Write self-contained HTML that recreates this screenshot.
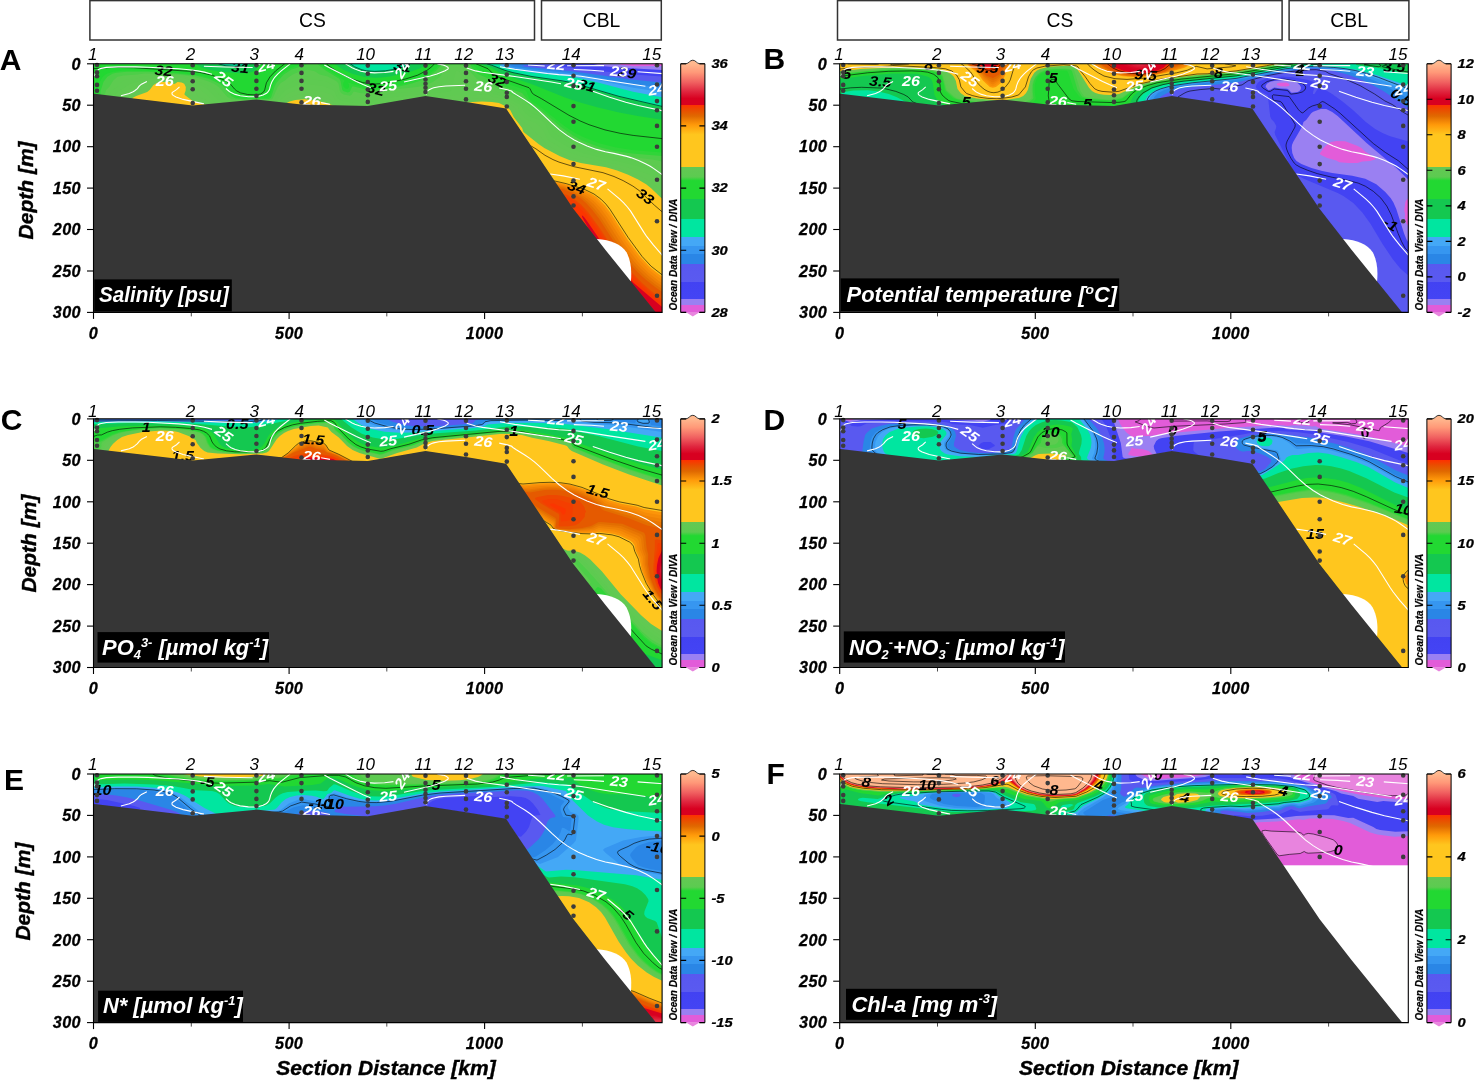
<!DOCTYPE html>
<html><head><meta charset="utf-8"><title>Section plots</title>
<style>html,body{margin:0;padding:0;background:#fff}svg{display:block}text{font-family:"Liberation Sans",Arial,sans-serif}</style>
</head><body>
<svg width="1475" height="1082" viewBox="0 0 1475 1082">
<rect width="1475" height="1082" fill="#fff"/>
<defs><linearGradient id="cbg" x1="0" y1="0" x2="0" y2="1"><stop offset="0.0000" stop-color="#ffb88e"/><stop offset="0.0350" stop-color="#ff9878"/><stop offset="0.0750" stop-color="#f06060"/><stop offset="0.1100" stop-color="#e02840"/><stop offset="0.1400" stop-color="#d80020"/><stop offset="0.1649" stop-color="#d80020"/><stop offset="0.1650" stop-color="#ff3000"/><stop offset="0.1850" stop-color="#ea4c00"/><stop offset="0.2100" stop-color="#e06800"/><stop offset="0.2460" stop-color="#ff9a0a"/><stop offset="0.2850" stop-color="#ffc61e"/><stop offset="0.4149" stop-color="#ffc61e"/><stop offset="0.4150" stop-color="#64c854"/><stop offset="0.4550" stop-color="#5ccb50"/><stop offset="0.4700" stop-color="#22d832"/><stop offset="0.5419" stop-color="#22d832"/><stop offset="0.5420" stop-color="#14c850"/><stop offset="0.6229" stop-color="#14c850"/><stop offset="0.6230" stop-color="#00e6a0"/><stop offset="0.6982" stop-color="#00e6a0"/><stop offset="0.6983" stop-color="#44a8f6"/><stop offset="0.7319" stop-color="#44a8f6"/><stop offset="0.7320" stop-color="#3696f0"/><stop offset="0.7634" stop-color="#3696f0"/><stop offset="0.7635" stop-color="#2a86e6"/><stop offset="0.8049" stop-color="#2a86e6"/><stop offset="0.8050" stop-color="#5858f0"/><stop offset="0.8779" stop-color="#5a5af0"/><stop offset="0.8780" stop-color="#4242f2"/><stop offset="0.9452" stop-color="#4444f4"/><stop offset="0.9453" stop-color="#9a80f2"/><stop offset="0.9713" stop-color="#9a80f2"/><stop offset="0.9714" stop-color="#e25cd9"/><stop offset="1.0000" stop-color="#e25cd9"/></linearGradient></defs>
<g transform="translate(93.5,63.8)">
<clipPath id="w00"><path d="M0,0 L568.6,0 L568.6,248.6 L568.6,249.2 L562.5,249.2 L512,186.8 L479.8,145.6 L412.6,45.4 L372.5,38.8 L332,32.7 L274.3,42.8 L208,41.3 L162.9,36.2 L99.2,42.3 L3,30.9 L0,30.6 Z"/></clipPath>
<g clip-path="url(#w00)">
<rect x="0" y="0" width="568.6" height="248.6" fill="#e884de"/>
<path fill="#e25cd9" fill-rule="evenodd" d="M0,0 568.6,0 568.6,248.6 559.5,248.6 558.5,247.6 558.5,246.6 553.5,241.6 553.5,240.6 549.5,236.6 549.5,235.6 545.5,231.6 545.5,230.6 541.5,226.5 541.5,225.5 536.5,220.5 536.5,219.5 528.5,210.5 528.5,209.5 524.5,205.5 524.5,204.5 519.5,199.5 519.5,198.5 515.5,194.5 515.5,193.5 507.5,184.4 507.5,183.4 504.4,180.4 504.4,179.4 500.4,175.4 500.4,174.4 497.4,171.4 497.4,170.4 489.4,161.4 489.4,160.4 486.4,157.4 486.4,156.4 482.4,152.4 482.4,151.4 479.4,148.4 479.4,147.4 477.4,145.4 477.4,144.3 475.4,142.3 475.4,141.3 473.4,139.3 473.4,138.3 471.4,136.3 471.4,135.3 469.4,133.3 469.4,132.3 465.4,127.3 465.4,126.3 463.4,124.3 463.4,123.3 461.4,121.3 461.4,120.3 459.4,118.3 459.4,117.3 457.4,115.3 457.4,114.3 455.4,112.3 455.4,111.3 453.4,109.3 453.4,108.3 450.4,105.3 450.4,104.3 448.4,102.2 448.4,101.2 446.4,99.2 446.4,98.2 444.4,96.2 444.4,95.2 442.4,93.2 442.4,92.2 440.4,90.2 440.4,89.2 438.4,87.2 438.4,86.2 436.4,84.2 436.4,83.2 434.4,81.2 434.4,80.2 432.4,78.2 432.4,77.2 430.4,75.2 430.4,74.2 428.4,72.2 428.4,71.2 426.4,69.2 426.4,68.2 424.4,66.2 424.4,65.2 422.4,63.2 422.4,62.1 420.4,60.1 420.4,59.1 418.4,57.1 418.4,56.1 416.4,54.1 416.4,53.1 412.4,48.2 409.4,48.2 408.4,47.2 402.4,47.2 401.4,46.2 396.4,46.2 395.4,45.2 390.4,45.2 389.4,44.2 384.4,44.2 383.4,43.2 378.4,43.2 377.4,42.2 372.4,42.2 371.4,41.2 365.4,41.2 364.4,40.2 359.4,40.2 358.4,39.2 352.4,39.2 351.4,38.2 345.4,38.2 344.4,37.1 339.4,37.1 338.4,36.1 327.3,36.1 326.3,37.1 321.3,37.1 320.3,38.2 315.3,38.2 314.3,39.2 309.3,39.2 308.3,40.2 304.3,40.2 303.3,41.2 298.3,41.2 297.3,42.2 292.3,42.2 291.3,43.2 286.3,43.2 285.3,44.2 281.3,44.2 280.3,45.2 275.3,45.2 274.3,46.2 271.3,46.2 270.3,45.2 226.2,45.2 225.2,44.2 203.2,44.2 202.2,43.2 194.2,43.2 193.2,42.2 185.2,42.2 184.2,41.2 176.2,41.2 175.2,40.2 168.2,40.2 167.2,39.2 158.2,39.2 157.2,40.2 148.2,40.2 147.2,41.2 137.1,41.2 136.1,42.2 127.1,42.2 126.1,43.2 116.1,43.2 115.1,44.2 106.1,44.2 105.1,45.2 95.1,45.2 94.1,44.2 86.1,44.2 85.1,43.2 78.1,43.2 77.1,42.2 69.1,42.2 68.1,41.2 61.1,41.2 60.1,40.2 52.1,40.2 51.1,39.2 44,39.2 43,38.2 35,38.2 34,37.1 27,37.1 26,36.1 19,36.1 18,35.1 10,35.1 9,34.1 1,34.1 0,33.1 0,0Z"/>
<path fill="#9a80f2" fill-rule="evenodd" d="M0,0 523.9,0 527.6,1 540.6,2.4 568.6,2.1 568.6,248.6 559.5,248.6 558.5,247.6 558.5,246.6 553.5,241.6 553.5,240.6 549.5,236.6 549.5,235.6 545.5,231.6 545.5,230.6 541.5,226.5 541.5,225.5 536.5,220.5 536.5,219.5 528.5,210.5 528.5,209.5 524.5,205.5 524.5,204.5 519.5,199.5 519.5,198.5 515.5,194.5 515.5,193.5 507.5,184.4 507.5,183.4 504.5,180.4 504.5,179.4 500.4,175.4 500.4,174.4 497.4,171.4 497.4,170.4 489.4,161.4 489.4,160.4 486.4,157.4 486.4,156.4 482.4,152.4 482.4,151.4 479.4,148.4 479.4,147.4 477.4,145.4 477.4,144.3 475.4,142.3 475.4,141.3 473.4,139.3 473.4,138.3 471.4,136.3 471.4,135.3 469.4,133.3 469.4,132.3 465.4,127.3 465.4,126.3 463.4,124.3 463.4,123.3 461.4,121.3 461.4,120.3 459.4,118.3 459.4,117.3 457.4,115.3 457.4,114.3 455.4,112.3 455.4,111.3 453.4,109.3 453.4,108.3 450.4,105.3 450.4,104.3 448.4,102.2 448.4,101.2 446.4,99.2 446.4,98.2 444.4,96.2 444.4,95.2 442.4,93.2 442.4,92.2 440.4,90.2 440.4,89.2 438.4,87.2 438.4,86.2 436.4,84.2 436.4,83.2 434.4,81.2 434.4,80.2 432.4,78.2 432.4,77.2 430.4,75.2 430.4,74.2 428.4,72.2 428.4,71.2 426.4,69.2 426.4,68.2 424.4,66.2 424.4,65.2 422.4,63.2 422.4,62.1 420.4,60.1 420.4,59.1 418.4,57.1 418.4,56.1 416.4,54.1 416.4,53.1 412.4,48.2 409.4,48.2 408.4,47.2 402.4,47.2 401.4,46.2 396.4,46.2 395.4,45.2 390.4,45.2 389.4,44.2 384.4,44.2 383.4,43.2 378.4,43.2 377.4,42.2 372.4,42.2 371.4,41.2 365.4,41.2 364.4,40.2 359.4,40.2 358.4,39.2 352.4,39.2 351.4,38.1 345.4,38.1 344.4,37.1 339.4,37.1 338.4,36.1 327.3,36.1 326.3,37.1 321.3,37.1 320.3,38.1 315.3,38.1 314.3,39.2 309.3,39.2 308.3,40.2 304.3,40.2 303.3,41.2 298.3,41.2 297.3,42.2 292.3,42.2 291.3,43.2 286.3,43.2 285.3,44.2 281.3,44.2 280.3,45.2 275.3,45.2 274.3,46.2 271.3,46.2 270.3,45.2 226.2,45.2 225.2,44.2 203.2,44.2 202.2,43.2 194.2,43.2 193.2,42.2 185.2,42.2 184.2,41.2 176.2,41.2 175.2,40.2 168.2,40.2 167.2,39.2 158.2,39.2 157.2,40.2 148.2,40.2 147.2,41.2 137.1,41.2 136.1,42.2 127.1,42.2 126.1,43.2 116.1,43.2 115.1,44.2 106.1,44.2 105.1,45.2 95.1,45.2 94.1,44.2 86.1,44.2 85.1,43.2 78.1,43.2 77.1,42.2 69.1,42.2 68.1,41.2 61.1,41.2 60.1,40.2 52.1,40.2 51.1,39.2 44,39.2 43,38.2 35,38.1 34,37.1 27,37.1 26,36.1 19,36.1 18,35.1 10,35.1 9,34.1 1,34.1 0,33.1 0,0Z"/>
<path fill="#4343f3" fill-rule="evenodd" d="M0,0 499.2,0 508.5,2.1 527.8,4 568.6,6.3 568.6,248.6 559.5,248.6 558.5,247.6 558.5,246.6 553.5,241.6 553.5,240.6 549.5,236.6 549.5,235.6 545.5,231.6 545.5,230.6 541.5,226.5 541.5,225.5 536.5,220.5 536.5,219.5 528.5,210.5 528.5,209.5 524.5,205.5 524.5,204.5 519.5,199.5 519.5,198.5 515.5,194.5 515.5,193.5 507.5,184.4 507.5,183.4 504.5,180.4 504.5,179.4 500.4,175.4 500.4,174.4 497.4,171.4 497.4,170.4 489.4,161.4 489.4,160.4 486.4,157.4 486.4,156.4 482.4,152.4 482.4,151.4 479.4,148.4 479.4,147.4 477.4,145.4 477.4,144.3 475.4,142.3 475.4,141.3 473.4,139.3 473.4,138.3 471.4,136.3 471.4,135.3 469.4,133.3 469.4,132.3 465.4,127.3 465.4,126.3 463.4,124.3 463.4,123.3 461.4,121.3 461.4,120.3 459.4,118.3 459.4,117.3 457.4,115.3 457.4,114.3 455.4,112.3 455.4,111.3 453.4,109.3 453.4,108.3 450.4,105.3 450.4,104.3 448.4,102.2 448.4,101.2 446.4,99.2 446.4,98.2 444.4,96.2 444.4,95.2 442.4,93.2 442.4,92.2 440.4,90.2 440.4,89.2 438.4,87.2 438.4,86.2 436.4,84.2 436.4,83.2 434.4,81.2 434.4,80.2 432.4,78.2 432.4,77.2 430.4,75.2 430.4,74.2 428.4,72.2 428.4,71.2 426.4,69.2 426.4,68.2 424.4,66.2 424.4,65.2 422.4,63.2 422.4,62.1 420.4,60.1 420.4,59.1 418.4,57.1 418.4,56.1 416.4,54.1 416.4,53.1 412.4,48.2 409.4,48.2 408.4,47.2 402.4,47.2 401.4,46.2 396.4,46.2 395.4,45.2 390.4,45.2 389.4,44.2 384.4,44.2 383.4,43.2 378.4,43.2 377.4,42.2 372.4,42.2 371.4,41.2 365.4,41.2 364.4,40.2 359.4,40.2 358.4,39.1 352.4,39.1 351.4,38.1 345.4,38.1 344.4,37.1 339.4,37.1 338.4,36.1 327.3,36.1 326.3,37.1 321.3,37.1 320.3,38.1 315.3,38.1 314.3,39.1 309.3,39.1 308.3,40.2 304.3,40.2 303.3,41.2 298.3,41.2 297.3,42.2 292.3,42.2 291.3,43.2 286.3,43.2 285.3,44.2 281.3,44.2 280.3,45.2 275.3,45.2 274.3,46.2 271.3,46.2 270.3,45.2 226.2,45.2 225.2,44.2 203.2,44.2 202.2,43.2 194.2,43.2 193.2,42.2 185.2,42.2 184.2,41.2 176.2,41.2 175.2,40.2 168.2,40.2 167.2,39.1 158.2,39.1 157.2,40.2 148.2,40.2 147.2,41.2 137.1,41.2 136.1,42.2 127.1,42.2 126.1,43.2 116.1,43.2 115.1,44.2 106.1,44.2 105.1,45.2 95.1,45.2 94.1,44.2 86.1,44.2 85.1,43.2 78.1,43.2 77.1,42.2 69.1,42.2 68.1,41.2 61.1,41.2 60.1,40.2 52.1,40.2 51.1,39.2 44,39.2 43,38.1 35,38.1 34,37.1 27,37.1 26,36.1 19,36.1 18,35.1 10,35.1 9,34.1 1,34.1 0,33.1 0,0Z"/>
<path fill="#5959f0" fill-rule="evenodd" d="M0,0 478.2,0 463.5,2 468.5,3 536.6,10.5 568.6,12.8 568.6,248.6 559.5,248.6 558.5,247.6 558.5,246.6 553.5,241.6 553.5,240.6 549.5,236.6 549.5,235.6 545.5,231.6 545.5,230.6 541.5,226.5 541.5,225.5 536.5,220.5 536.5,219.5 528.5,210.5 528.5,209.5 524.5,205.5 524.5,204.5 519.5,199.5 519.5,198.5 515.5,194.5 515.5,193.5 507.5,184.4 507.5,183.4 504.5,180.4 504.5,179.4 500.5,175.4 500.5,174.4 497.5,171.4 497.5,170.4 489.4,161.4 489.4,160.4 486.4,157.4 486.4,156.4 482.4,152.4 482.4,151.4 479.4,148.4 479.4,147.4 477.4,145.4 477.4,144.3 475.4,142.3 475.4,141.3 473.4,139.3 473.4,138.3 471.4,136.3 471.4,135.3 469.4,133.3 469.4,132.3 465.4,127.3 465.4,126.3 463.4,124.3 463.4,123.3 461.4,121.3 461.4,120.3 459.4,118.3 459.4,117.3 457.4,115.3 457.4,114.3 455.4,112.3 455.4,111.3 453.4,109.3 453.4,108.3 450.4,105.3 450.4,104.3 448.4,102.2 448.4,101.2 446.4,99.2 446.4,98.2 444.4,96.2 444.4,95.2 442.4,93.2 442.4,92.2 440.4,90.2 440.4,89.2 438.4,87.2 438.4,86.2 436.4,84.2 436.4,83.2 434.4,81.2 434.4,80.2 432.4,78.2 432.4,77.2 430.4,75.2 430.4,74.2 428.4,72.2 428.4,71.2 426.4,69.2 426.4,68.2 424.4,66.2 424.4,65.2 422.4,63.2 422.4,62.1 420.4,60.1 420.4,59.1 418.4,57.1 418.4,56.1 416.4,54.1 416.4,53.1 412.4,48.2 409.4,48.2 408.4,47.2 402.4,47.2 401.4,46.2 396.4,46.2 395.4,45.2 390.4,45.2 389.4,44.2 384.4,44.2 383.4,43.2 378.4,43.2 377.4,42.2 372.4,42.2 371.4,41.1 365.4,41.1 364.4,40.1 359.4,40.1 358.4,39.1 352.4,39.1 351.4,38.1 345.4,38.1 344.4,37.1 339.4,37.1 338.4,36.1 327.3,36.1 326.3,37.1 321.3,37.1 320.3,38.1 315.3,38.1 314.3,39.1 309.3,39.1 308.3,40.1 304.3,40.1 303.3,41.1 298.3,41.1 297.3,42.1 292.3,42.1 291.3,43.2 286.3,43.2 285.3,44.2 281.3,44.2 280.3,45.2 275.3,45.2 274.3,46.2 271.3,46.2 270.3,45.2 226.2,45.2 225.2,44.2 203.2,44.2 202.2,43.2 194.2,43.2 193.2,42.2 185.2,42.2 184.2,41.1 176.2,41.1 175.2,40.1 168.2,40.1 167.2,39.1 158.2,39.1 157.2,40.1 148.2,40.1 147.2,41.1 137.1,41.1 136.1,42.2 127.1,42.2 126.1,43.2 116.1,43.2 115.1,44.2 106.1,44.2 105.1,45.2 95.1,45.2 94.1,44.2 86.1,44.2 85.1,43.2 78.1,43.2 77.1,42.2 69.1,42.2 68.1,41.2 61.1,41.2 60.1,40.1 52.1,40.1 51.1,39.1 44,39.1 43,38.1 35,38.1 34,37.1 27,37.1 26,36.1 19,36.1 18,35.1 10,35.1 9,34.1 1,34.1 0,33.1 0,0Z"/>
<path fill="#2a86e6" fill-rule="evenodd" d="M0,0 447.1,0 434.1,1 427.9,2 431.8,3 478.5,7.5 537.6,15.6 568.6,18.7 568.6,248.6 559.5,248.6 558.5,247.6 558.5,246.6 553.5,241.6 553.5,240.6 549.5,236.6 549.5,235.6 545.5,231.6 545.5,230.6 541.5,226.5 541.5,225.5 536.5,220.5 536.5,219.5 528.5,210.5 528.5,209.5 524.5,205.5 524.5,204.5 519.5,199.5 519.5,198.5 515.5,194.5 515.5,193.5 507.5,184.4 507.5,183.4 504.5,180.4 504.5,179.4 500.5,175.4 500.5,174.4 497.5,171.4 497.5,170.4 489.5,161.4 489.5,160.4 486.4,157.4 486.4,156.4 482.4,152.4 482.4,151.4 479.4,148.4 479.4,147.4 477.4,145.4 477.4,144.3 475.4,142.3 475.4,141.3 473.4,139.3 473.4,138.3 471.4,136.3 471.4,135.3 469.4,133.3 469.4,132.3 465.4,127.3 465.4,126.3 463.4,124.3 463.4,123.3 461.4,121.3 461.4,120.3 459.4,118.3 459.4,117.3 457.4,115.3 457.4,114.3 455.4,112.3 455.4,111.3 453.4,109.3 453.4,108.3 450.4,105.3 450.4,104.3 448.4,102.2 448.4,101.2 446.4,99.2 446.4,98.2 444.4,96.2 444.4,95.2 442.4,93.2 442.4,92.2 440.4,90.2 440.4,89.2 438.4,87.2 438.4,86.2 436.4,84.2 436.4,83.2 434.4,81.2 434.4,80.2 432.4,78.2 432.4,77.2 430.4,75.2 430.4,74.2 428.4,72.2 428.4,71.2 426.4,69.2 426.4,68.2 424.4,66.2 424.4,65.2 422.4,63.2 422.4,62.1 420.4,60.1 420.4,59.1 418.4,57.1 418.4,56.1 416.4,54.1 416.4,53.1 412.4,48.2 409.4,48.2 408.4,47.2 402.4,47.2 401.4,46.2 396.4,46.2 395.4,45.2 390.4,45.2 389.4,44.1 384.4,44.1 383.4,43.1 378.4,43.1 377.4,42.1 372.4,42.1 371.4,41.1 365.4,41.1 364.4,40.1 359.4,40.1 358.4,39.1 352.4,39.1 351.4,38.1 345.4,38.1 344.4,37.1 339.4,37.1 338.4,36.1 327.3,36.1 326.3,37.1 321.3,37.1 320.3,38.1 315.3,38.1 314.3,39.1 309.3,39.1 308.3,40.1 304.3,40.1 303.3,41.1 298.3,41.1 297.3,42.1 292.3,42.1 291.3,43.1 286.3,43.1 285.3,44.1 281.3,44.1 280.3,45.1 275.3,45.1 274.3,46.2 271.3,46.2 270.3,45.1 226.2,45.2 225.2,44.1 203.2,44.1 202.2,43.1 194.2,43.1 193.2,42.1 185.2,42.1 184.2,41.1 176.2,41.1 175.2,40.1 168.2,40.1 167.2,39.1 158.2,39.1 157.2,40.1 148.2,40.1 147.2,41.1 137.1,41.1 136.1,42.1 127.1,42.1 126.1,43.1 116.1,43.1 115.1,44.1 106.1,44.1 105.1,45.2 95.1,45.2 94.1,44.1 86.1,44.1 85.1,43.1 78.1,43.1 77.1,42.1 69.1,42.1 68.1,41.1 61.1,41.1 60.1,40.1 52.1,40.1 51.1,39.1 44,39.1 43,38.1 35,38.1 34,37.1 27,37.1 26,36.1 19,36.1 18,35.1 10,35.1 9,34.1 1,34.1 0,33.1 0,0Z"/>
<path fill="#3696f0" fill-rule="evenodd" d="M0,0 431,0 418.6,1 416.2,2 419.7,3 438.5,5.5 483.5,10 536.6,19.6 568.6,24.1 568.6,248.6 559.5,248.6 558.5,247.6 558.5,246.6 553.5,241.6 553.5,240.6 549.5,236.6 549.5,235.6 545.5,231.6 545.5,230.6 541.5,226.5 541.5,225.5 536.5,220.5 536.5,219.5 528.5,210.5 528.5,209.5 524.5,205.5 524.5,204.5 519.5,199.5 519.5,198.5 515.5,194.5 515.5,193.5 507.5,184.4 507.5,183.4 504.5,180.4 504.5,179.4 500.5,175.4 500.5,174.4 497.5,171.4 497.5,170.4 489.5,161.4 489.5,160.4 486.5,157.4 486.5,156.4 482.4,152.4 482.4,151.4 479.4,148.4 479.4,147.4 477.4,145.4 477.4,144.3 475.4,142.3 475.4,141.3 473.4,139.3 473.4,138.3 471.4,136.3 471.4,135.3 469.4,133.3 469.4,132.3 465.4,127.3 465.4,126.3 463.4,124.3 463.4,123.3 461.4,121.3 461.4,120.3 459.4,118.3 459.4,117.3 457.4,115.3 457.4,114.3 455.4,112.3 455.4,111.3 453.4,109.3 453.4,108.3 450.4,105.3 450.4,104.3 448.4,102.2 448.4,101.2 446.4,99.2 446.4,98.2 444.4,96.2 444.4,95.2 442.4,93.2 442.4,92.2 440.4,90.2 440.4,89.2 438.4,87.2 438.4,86.2 436.4,84.2 436.4,83.2 434.4,81.2 434.4,80.2 432.4,78.2 432.4,77.2 430.4,75.2 430.4,74.2 428.4,72.2 428.4,71.2 426.4,69.2 426.4,68.2 424.4,66.2 424.4,65.2 422.4,63.2 422.4,62.1 420.4,60.1 420.4,59.1 418.4,57.1 418.4,56.1 416.4,54.1 416.4,53.1 412.4,48.2 409.4,48.2 408.4,47.2 402.4,47.2 401.4,46.1 396.4,46.1 395.4,45.1 390.4,45.1 389.4,44.1 384.4,44.1 383.4,43.1 378.4,43.1 377.4,42.1 372.4,42.1 371.4,41.1 365.4,41.1 364.4,40.1 359.4,40.1 358.4,39.1 352.4,39.1 351.4,38.1 345.4,38.1 344.4,37.1 339.4,37.1 338.4,36.1 327.3,36.1 326.3,37.1 321.3,37.1 320.3,38.1 315.3,38.1 314.3,39.1 309.3,39.1 308.3,40.1 304.3,40.1 303.3,41.1 298.3,41.1 297.3,42.1 292.3,42.1 291.3,43.1 286.3,43.1 285.3,44.1 281.3,44.1 280.3,45.1 275.3,45.1 274.3,46.1 271.3,46.1 270.3,45.1 226.2,45.1 225.2,44.1 203.2,44.1 202.2,43.1 194.2,43.1 193.2,42.1 185.2,42.1 184.2,41.1 176.2,41.1 175.2,40.1 168.2,40.1 167.2,39.1 158.2,39.1 157.2,40.1 148.2,40.1 147.2,41.1 137.1,41.1 136.1,42.1 127.1,42.1 126.1,43.1 116.1,43.1 115.1,44.1 106.1,44.1 105.1,45.1 95.1,45.1 94.1,44.1 86.1,44.1 85.1,43.1 78.1,43.1 77.1,42.1 69.1,42.1 68.1,41.1 61.1,41.1 60.1,40.1 52.1,40.1 51.1,39.1 44,39.1 43,38.1 35,38.1 34,37.1 27,37.1 26,36.1 19,36.1 18,35.1 10,35.1 9,34.1 1,34.1 0,33.1 0,0Z"/>
<path fill="#44a8f6" fill-rule="evenodd" d="M0,0 419.3,0 411.4,0.9 410.4,1.5 410.2,2 411.4,2.4 417.4,3.8 437.5,6.7 482.5,11.5 538.6,23.6 568.6,28.5 568.6,248.6 559.5,248.6 558.5,247.6 558.5,246.6 553.5,241.6 553.5,240.6 549.5,236.6 549.5,235.6 545.5,231.6 545.5,230.6 541.5,226.5 541.5,225.5 536.5,220.5 536.5,219.5 528.5,210.5 528.5,209.5 524.5,205.5 524.5,204.5 519.5,199.5 519.5,198.5 515.5,194.5 515.5,193.5 507.5,184.4 507.5,183.4 504.5,180.4 504.5,179.4 500.5,175.4 500.5,174.4 497.5,171.4 497.5,170.4 489.5,161.4 489.5,160.4 486.5,157.4 486.5,156.4 482.5,152.4 482.5,151.4 479.4,148.4 479.4,147.4 477.4,145.4 477.4,144.3 475.4,142.3 475.4,141.3 473.4,139.3 473.4,138.3 471.4,136.3 471.4,135.3 469.4,133.3 469.4,132.3 465.4,127.3 465.4,126.3 463.4,124.3 463.4,123.3 461.4,121.3 461.4,120.3 459.4,118.3 459.4,117.3 457.4,115.3 457.4,114.3 455.4,112.3 455.4,111.3 453.4,109.3 453.4,108.3 450.4,105.3 450.4,104.3 448.4,102.2 448.4,101.2 446.4,99.2 446.4,98.2 444.4,96.2 444.4,95.2 442.4,93.2 442.4,92.2 440.4,90.2 440.4,89.2 438.4,87.2 438.4,86.2 436.4,84.2 436.4,83.2 434.4,81.2 434.4,80.2 432.4,78.2 432.4,77.2 430.4,75.2 430.4,74.2 428.4,72.2 428.4,71.2 426.4,69.2 426.4,68.2 424.4,66.2 424.4,65.2 422.4,63.2 422.4,62.1 420.4,60.1 420.4,59.1 418.4,57.1 418.4,56.1 416.4,54.1 416.4,53.1 412.4,48.2 409.4,48.2 408.4,47.1 402.4,47.1 401.4,46.1 396.4,46.1 395.4,45.1 390.4,45.1 389.4,44.1 384.4,44.1 383.4,43.1 378.4,43.1 377.4,42.1 372.4,42.1 371.4,41.1 365.4,41.1 364.4,40.1 359.4,40.1 358.4,39.1 352.4,39.1 351.4,38.1 345.4,38.1 344.4,37.1 339.4,37.1 338.4,36.1 327.3,36.1 326.3,37.1 321.3,37.1 320.3,38.1 315.3,38.1 314.3,39.1 309.3,39.1 308.3,40.1 304.3,40.1 303.3,41.1 298.3,41.1 297.3,42.1 292.3,42.1 291.3,43.1 286.3,43.1 285.3,44.1 281.3,44.1 280.3,45.1 275.3,45.1 274.3,46.1 271.3,46.1 270.3,45.1 226.2,45.1 225.2,44.1 203.2,44.1 202.2,43.1 194.2,43.1 193.2,42.1 185.2,42.1 184.2,41.1 176.2,41.1 175.2,40.1 168.2,40.1 167.2,39.1 158.2,39.1 157.2,40.1 148.2,40.1 147.2,41.1 137.1,41.1 136.1,42.1 127.1,42.1 126.1,43.1 116.1,43.1 115.1,44.1 106.1,44.1 105.1,45.1 95.1,45.1 94.1,44.1 86.1,44.1 85.1,43.1 78.1,43.1 77.1,42.1 69.1,42.1 68.1,41.1 61.1,41.1 60.1,40.1 52.1,40.1 51.1,39.1 44,39.1 43,38.1 35,38.1 34,37.1 27,37.1 26,36.1 19,36.1 18,35.1 10,35.1 9,34.1 1,34.1 0,33.1 0,0Z"/>
<path fill="#00e6a0" fill-rule="evenodd" d="M0,0 409.4,0 406.2,1 406.6,2 417.4,5.2 438.5,8.6 472.5,12.3 483.9,14 497.6,17 539.6,28 568.6,33.4 568.6,248.6 559.5,248.6 558.5,247.6 558.5,246.6 553.5,241.6 553.5,240.6 549.5,236.6 549.5,235.6 545.5,231.6 545.5,230.6 541.5,226.5 541.5,225.5 536.5,220.5 536.5,219.5 528.5,210.5 528.5,209.5 524.5,205.5 524.5,204.5 519.5,199.5 519.5,198.5 515.5,194.5 515.5,193.5 507.5,184.4 507.5,183.4 504.5,180.4 504.5,179.4 500.5,175.4 500.5,174.4 497.5,171.4 497.5,170.4 489.5,161.4 489.5,160.4 486.5,157.4 486.5,156.4 482.5,152.4 482.5,151.4 479.5,148.4 479.5,147.4 477.5,145.4 477.5,144.3 475.4,142.3 475.4,141.3 473.4,139.3 473.4,138.3 471.4,136.3 471.4,135.3 469.4,133.3 469.4,132.3 465.4,127.3 465.4,126.3 463.4,124.3 463.4,123.3 461.4,121.3 461.4,120.3 459.4,118.3 459.4,117.3 457.4,115.3 457.4,114.3 455.4,112.3 455.4,111.3 453.4,109.3 453.4,108.3 450.4,105.3 450.4,104.3 448.4,102.2 448.4,101.2 446.4,99.2 446.4,98.2 444.4,96.2 444.4,95.2 442.4,93.2 442.4,92.2 440.4,90.2 440.4,89.2 438.4,87.2 438.4,86.2 436.4,84.2 436.4,83.2 434.4,81.2 434.4,80.2 432.4,78.2 432.4,77.2 430.4,75.2 430.4,74.2 428.4,72.2 428.4,71.2 426.4,69.2 426.4,68.2 424.4,66.2 424.4,65.2 422.4,63.2 422.4,62.1 420.4,60.1 420.4,59.1 418.4,57.1 418.4,56.1 416.4,54.1 416.4,53.1 412.4,48.1 409.4,48.1 408.4,47.1 402.4,47.1 401.4,46.1 396.4,46.1 395.4,45.1 390.4,45.1 389.4,44.1 384.4,44.1 383.4,43.1 378.4,43.1 377.4,42.1 372.4,42.1 371.4,41.1 365.4,41.1 364.4,40.1 359.4,40.1 358.4,39.1 352.4,39.1 351.4,38.1 345.4,38.1 344.4,37.1 339.4,37.1 338.4,36.1 327.3,36.1 326.3,37.1 321.3,37.1 320.3,38.1 315.3,38.1 314.3,39.1 309.3,39.1 308.3,40.1 304.3,40.1 303.3,41.1 298.3,41.1 297.3,42.1 292.3,42.1 291.3,43.1 286.3,43.1 285.3,44.1 281.3,44.1 280.3,45.1 275.3,45.1 274.3,46.1 271.3,46.1 270.3,45.1 226.2,45.1 225.2,44.1 203.2,44.1 202.2,43.1 194.2,43.1 193.2,42.1 185.2,42.1 184.2,41.1 176.2,41.1 175.2,40.1 168.2,40.1 167.2,39.1 158.2,39.1 157.2,40.1 148.2,40.1 147.2,41.1 137.1,41.1 136.1,42.1 127.1,42.1 126.1,43.1 116.1,43.1 115.1,44.1 106.1,44.1 105.1,45.1 95.1,45.1 94.1,44.1 86.1,44.1 85.1,43.1 78.1,43.1 77.1,42.1 69.1,42.1 68.1,41.1 61.1,41.1 60.1,40.1 52.1,40.1 51.1,39.1 44,39.1 43,38.1 35,38.1 34,37.1 27,37.1 26,36.1 19,36.1 18,35.1 10,35.1 9,34.1 1,34.1 0,33.1 0,0Z"/>
<path fill="#14c850" fill-rule="evenodd" d="M0,0 123.2,0 130.2,2 142.2,2.9 151,2 154.8,1 156.3,0 255.2,0 261.7,4 266.8,6 271.3,7.1 281.3,8 294.3,7.1 301.4,6 311.7,3 317.4,0 393.1,0 411.4,6.5 421.4,9.4 437.5,12.6 478,19 524.6,32.7 568.6,42.9 568.6,248.6 559.5,248.6 558.5,247.6 558.5,246.6 553.5,241.6 553.5,240.6 549.5,236.6 549.5,235.6 545.5,231.6 545.5,230.6 541.5,226.5 541.5,225.5 536.5,220.5 536.5,219.5 528.5,210.5 528.5,209.5 524.5,205.5 524.5,204.5 519.5,199.5 519.5,198.5 515.5,194.5 515.5,193.5 507.5,184.4 507.5,183.4 504.5,180.4 504.5,179.4 500.5,175.4 500.5,174.4 497.5,171.4 497.5,170.4 489.5,161.4 489.5,160.4 486.5,157.4 486.5,156.4 482.5,152.4 482.5,151.4 479.5,148.4 479.5,147.4 477.5,145.4 477.5,144.3 475.5,142.3 475.5,141.3 473.5,139.3 473.5,138.3 471.5,136.3 471.5,135.3 469.5,133.3 469.5,132.3 465.4,127.3 465.4,126.3 463.4,124.3 463.4,123.3 461.4,121.3 461.4,120.3 459.4,118.3 459.4,117.3 457.4,115.3 457.4,114.3 455.4,112.3 455.4,111.3 453.4,109.3 453.4,108.3 450.4,105.3 450.4,104.3 448.4,102.2 448.4,101.2 446.4,99.2 446.4,98.2 444.4,96.2 444.4,95.2 442.4,93.2 442.4,92.2 440.4,90.2 440.4,89.2 438.4,87.2 438.4,86.2 436.4,84.2 436.4,83.2 434.4,81.2 434.4,80.2 432.4,78.2 432.4,77.2 430.4,75.2 430.4,74.2 428.4,72.2 428.4,71.2 426.4,69.2 426.4,68.2 424.4,66.2 424.4,65.2 422.4,63.2 422.4,62.1 420.4,60.1 420.4,59.1 418.4,57.1 418.4,56.1 416.4,54.1 416.4,53.1 412.4,48.1 409.4,48.1 408.4,47.1 402.4,47.1 401.4,46.1 396.4,46.1 395.4,45.1 390.4,45.1 389.4,44.1 384.4,44.1 383.4,43.1 378.4,43.1 377.4,42.1 372.4,42.1 371.4,41.1 365.4,41.1 364.4,40.1 359.4,40.1 358.4,39.1 352.4,39.1 351.4,38.1 345.4,38.1 344.4,37.1 339.4,37.1 338.4,36.1 327.3,36.1 326.3,37.1 321.3,37.1 320.3,38.1 315.3,38.1 314.3,39.1 309.3,39.1 308.3,40.1 304.3,40.1 303.3,41.1 298.3,41.1 297.3,42.1 292.3,42.1 291.3,43.1 286.3,43.1 285.3,44.1 281.3,44.1 280.3,45.1 275.3,45.1 274.3,46.1 271.3,46.1 270.3,45.1 226.2,45.1 225.2,44.1 203.2,44.1 202.2,43.1 194.2,43.1 193.2,42.1 185.2,42.1 184.2,41.1 176.2,41.1 175.2,40.1 168.2,40.1 167.2,39.1 158.2,39.1 157.2,40.1 148.2,40.1 147.2,41.1 137.1,41.1 136.1,42.1 127.1,42.1 126.1,43.1 116.1,43.1 115.1,44.1 106.1,44.1 105.1,45.1 95.1,45.1 94.1,44.1 86.1,44.1 85.1,43.1 78.1,43.1 77.1,42.1 69.1,42.1 68.1,41.1 61.1,41.1 60.1,40.1 52.1,40.1 51.1,39.1 44,39.1 43,38.1 35,38.1 34,37.1 27,37.1 26,36.1 19,36.1 18,35.1 10,35.1 9,34.1 1,34.1 0,33.1 0,0Z"/>
<path fill="#22d832" fill-rule="evenodd" d="M0,0 101.7,0 108.1,3.8 115.1,5.9 132.1,8.4 148.2,9.4 156.2,8.7 160.2,7.5 162.9,5 165,0 241,0 249.3,5.7 259.3,10.3 271.3,13.3 281.3,14 288.3,13.7 296.3,12.6 315.3,8.5 326.3,4.6 330.8,2 333,0 386.2,0 397.6,4 405.4,8.5 412.4,11.4 438.5,20.4 471.5,33.7 486.5,38.6 504.5,43.7 525.6,48.7 545.6,52.4 568.6,56 568.6,248.6 559.6,248.6 558.5,247.6 558.5,246.6 553.5,241.6 553.5,240.6 549.5,236.6 549.5,235.6 545.5,231.6 545.5,230.6 541.5,226.5 541.5,225.5 536.5,220.5 536.5,219.5 528.5,210.5 528.5,209.5 524.5,205.5 524.5,204.5 519.5,199.5 519.5,198.5 515.5,194.5 515.5,193.5 507.5,184.4 507.5,183.4 504.5,180.4 504.5,179.4 500.5,175.4 500.5,174.4 497.5,171.4 497.5,170.4 489.5,161.4 489.5,160.4 486.5,157.4 486.5,156.4 482.5,152.4 482.5,151.4 479.5,148.4 479.5,147.4 477.5,145.4 477.5,144.3 475.5,142.3 475.5,141.3 473.5,139.3 473.5,138.3 471.5,136.3 471.5,135.3 469.5,133.3 469.5,132.3 465.5,127.3 465.5,126.3 463.5,124.3 463.5,123.3 461.5,121.3 461.5,120.3 459.5,118.3 459.5,117.3 457.5,115.3 457.5,114.3 455.5,112.3 455.5,111.3 453.5,109.3 453.5,108.3 450.4,105.3 450.4,104.3 448.4,102.2 448.4,101.2 446.4,99.2 446.4,98.2 444.4,96.2 444.4,95.2 442.4,93.2 442.4,92.2 440.4,90.2 440.4,89.2 438.4,87.2 438.4,86.2 436.4,84.2 436.4,83.2 434.4,81.2 434.4,80.2 432.4,78.2 432.4,77.2 430.4,75.2 430.4,74.2 428.4,72.2 428.4,71.2 426.4,69.2 426.4,68.2 424.4,66.2 424.4,65.2 422.4,63.2 422.4,62.1 420.4,60.1 420.4,59.1 418.4,57.1 418.4,56.1 416.4,54.1 416.4,53.1 412.4,48.1 409.4,48.1 408.4,47.1 402.4,47.1 401.4,46.1 396.4,46.1 395.4,45.1 390.4,45.1 389.4,44.1 384.4,44.1 383.4,43.1 378.4,43.1 377.4,42.1 372.4,42.1 371.4,41.1 365.4,41.1 364.4,40.1 359.4,40.1 358.4,39.1 352.4,39.1 351.4,38.1 345.4,38.1 344.4,37.1 339.4,37.1 338.4,36.1 327.3,36.1 326.3,37.1 321.3,37.1 320.3,38.1 315.3,38.1 314.3,39.1 309.3,39.1 308.3,40.1 304.3,40.1 303.3,41.1 298.3,41.1 297.3,42.1 292.3,42.1 291.3,43.1 286.3,43.1 285.3,44.1 281.3,44.1 280.3,45.1 275.3,45.1 274.3,46.1 271.3,46.1 270.3,45.1 226.2,45.1 225.2,44.1 203.2,44.1 202.2,43.1 194.2,43.1 193.2,42.1 185.2,42.1 184.2,41.1 176.2,41.1 175.2,40.1 168.2,40.1 167.2,39.1 158.2,39.1 157.2,40.1 148.2,40.1 147.2,41.1 137.1,41.1 136.1,42.1 127.1,42.1 126.1,43.1 116.1,43.1 115.1,44.1 106.1,44.1 105.1,45.1 95.1,45.1 94.1,44.1 86.1,44.1 85.1,43.1 78.1,43.1 77.1,42.1 69.1,42.1 68.1,41.1 61.1,41.1 60.1,40.1 52.1,40.1 51.1,39.1 44,39.1 43,38.1 35,38.1 34,37.1 27,37.1 26,36.1 19,36.1 18,35.1 10,35.1 9,34.1 1,34.1 0,33.1 0,0Z"/>
<path fill="#30d539" fill-rule="evenodd" d="M206.3,1 208.6,0 226.9,0 233.2,5.2 251.4,17 249.8,19 249.7,21.1 250.3,23.2 252.3,25 254.3,25 255.3,23.8 255.7,21.1 254.4,19 255.3,19 270.3,23.8 276.3,24.8 283.3,25.1 291.3,24.4 304.3,21.7 313.3,19.4 325.3,15.4 331.3,12.6 336.4,9.5 342.4,4.7 346.5,0 378.8,0 385.3,7 393.4,11 398.4,14.9 431.7,26.1 433.2,28.1 435.5,34.2 437.5,36.6 448.2,44.1 471.5,62.6 481.5,69.2 489.5,73.3 506.5,79.8 522.6,83.8 538.6,86.1 568.6,88.6 568.6,248.6 559.6,248.6 558.6,247.6 558.6,246.6 553.6,241.6 553.6,240.6 549.5,236.6 549.5,235.6 545.5,231.6 545.5,230.6 541.5,226.5 541.5,225.5 536.5,220.5 536.5,219.5 528.5,210.5 528.5,209.5 524.5,205.5 524.5,204.5 519.5,199.5 519.5,198.5 515.5,194.5 515.5,193.5 507.5,184.4 507.5,183.4 504.5,180.4 504.5,179.4 500.5,175.4 500.5,174.4 497.5,171.4 497.5,170.4 489.5,161.4 489.5,160.4 486.5,157.4 486.5,156.4 482.5,152.4 482.5,151.4 479.5,148.4 479.5,147.4 477.5,145.4 477.5,144.3 475.5,142.3 475.5,141.3 473.5,139.3 473.5,138.3 471.5,136.3 471.5,135.3 469.5,133.3 469.5,132.3 465.5,127.3 465.5,126.3 463.5,124.3 463.5,123.3 461.5,121.3 461.5,120.3 459.5,118.3 459.5,117.3 457.5,115.3 457.5,114.3 455.5,112.3 455.5,111.3 453.5,109.3 453.5,108.3 450.5,105.3 450.5,104.3 448.5,102.2 448.5,101.2 446.5,99.2 446.5,98.2 444.5,96.2 444.5,95.2 442.5,93.2 442.5,92.2 440.5,90.2 440.5,89.2 438.5,87.2 438.5,86.2 436.4,84.2 436.4,83.2 434.4,81.2 434.4,80.2 432.4,78.2 432.4,77.2 430.4,75.2 430.4,74.2 428.4,72.2 428.4,71.2 426.4,69.2 426.4,68.2 424.4,66.2 424.4,65.2 422.4,63.2 422.4,62.1 420.4,60.1 420.4,59.1 418.4,57.1 418.4,56.1 416.4,54.1 416.4,53.1 412.4,48.1 409.4,48.1 408.4,47.1 402.4,47.1 401.4,46.1 396.4,46.1 395.4,45.1 390.4,45.1 389.4,44.1 384.4,44.1 383.4,43.1 378.4,43.1 377.4,42.1 372.4,42.1 371.4,41.1 365.4,41.1 364.4,40.1 359.4,40.1 358.4,39.1 352.4,39.1 351.4,38.1 345.4,38.1 344.4,37.1 339.4,37.1 338.4,36.1 327.3,36.1 326.3,37.1 321.3,37.1 320.3,38.1 315.3,38.1 314.3,39.1 309.3,39.1 308.3,40.1 304.3,40.1 303.3,41.1 298.3,41.1 297.3,42.1 292.3,42.1 291.3,43.1 286.3,43.1 285.3,44.1 281.3,44.1 280.3,45.1 275.3,45.1 274.3,46.1 271.3,46.1 270.3,45.1 226.2,45.1 225.2,44.1 203.2,44.1 202.2,43.1 194.2,43.1 193.2,42.1 185.2,42.1 184.2,41.1 176.2,41.1 175.2,40.1 168.2,40.1 167.2,39.1 158.2,39.1 157.2,40.1 148.2,40.1 147.2,41.1 137.1,41.1 136.1,42.1 127.1,42.1 126.1,43.1 116.1,43.1 115.1,44.1 106.1,44.1 105.1,45.1 95.1,45.1 94.1,44.1 86.1,44.1 85.1,43.1 78.1,43.1 77.1,42.1 69.1,42.1 68.1,41.1 61.1,41.1 60.1,40.1 52.1,40.1 51.1,39.1 44,39.1 43,38.1 35,38.1 34,37.1 27,37.1 26,36.1 19,36.1 18,35.1 10,35.1 9,34.1 1.2,34.1 6.9,17 9,13.4 11,11.4 14,9.7 20,8 28.5,7 38,6.7 52.1,7 91.1,9.8 108.3,12 118.8,15 128.9,20 133.1,23.3 138.1,30.2 143.2,33.7 151.2,34.6 173.2,34.2 175.7,33.1 180.2,19.9 182.6,16 186.2,11.8 190.5,8 195.2,5 206.3,1Z"/>
<path fill="#4dce48" fill-rule="evenodd" d="M212.4,1 214,0 223.5,0 232.2,6.6 245.7,15 247,17 248.8,26.1 250.3,27.5 254.3,28.6 256.3,27.9 258.3,23.4 259.3,22.4 274.3,26.3 284.3,26.7 293.3,25.6 318.3,19.8 327.3,16.6 336.4,11.8 343.4,6.3 348.7,0 376.6,0 379.5,6 384.4,10.2 399.9,17 408.4,22 428.5,29.2 435.2,37.1 448.5,46.9 467.5,63.3 479.5,71.8 488.5,76.7 505.6,83.2 521.1,87.2 538.6,89.7 568.6,92.2 568.6,248.6 559.6,248.6 558.6,247.6 558.6,246.6 553.6,241.6 553.6,240.6 549.5,236.6 549.5,235.6 545.5,231.6 545.5,230.6 541.5,226.5 541.5,225.5 536.5,220.5 536.5,219.5 528.5,210.5 528.5,209.5 524.5,205.5 524.5,204.5 519.5,199.5 519.5,198.5 515.5,194.5 515.5,193.5 507.5,184.4 507.5,183.4 504.5,180.4 504.5,179.4 500.5,175.4 500.5,174.4 497.5,171.4 497.5,170.4 489.5,161.4 489.5,160.4 486.5,157.4 486.5,156.4 482.5,152.4 482.5,151.4 479.5,148.4 479.5,147.4 477.5,145.4 477.5,144.3 475.5,142.3 475.5,141.3 473.5,139.3 473.5,138.3 471.5,136.3 471.5,135.3 469.5,133.3 469.5,132.3 465.5,127.3 465.5,126.3 463.5,124.3 463.5,123.3 461.5,121.3 461.5,120.3 459.5,118.3 459.5,117.3 457.5,115.3 457.5,114.3 455.5,112.3 455.5,111.3 453.5,109.3 453.5,108.3 450.5,105.3 450.5,104.3 448.5,102.2 448.5,101.2 446.5,99.2 446.5,98.2 444.5,96.2 444.5,95.2 442.5,93.2 442.5,92.2 440.5,90.2 440.5,89.2 438.5,87.2 438.5,86.2 436.4,84.2 436.5,83.2 434.4,81.2 434.4,80.2 432.4,78.2 432.4,77.2 430.4,75.2 430.4,74.2 428.4,72.2 428.4,71.2 426.4,69.2 426.4,68.2 424.4,66.2 424.4,65.2 422.4,63.2 422.4,62.1 420.4,60.1 420.4,59.1 418.4,57.1 418.4,56.1 416.4,54.1 416.4,53.1 412.4,48.1 409.4,48.1 408.4,47.1 402.4,47.1 401.4,46.1 396.4,46.1 395.4,45.1 390.4,45.1 389.4,44.1 384.4,44.1 383.4,43.1 378.4,43.1 377.4,42.1 372.4,42.1 371.4,41.1 365.4,41.1 364.4,40.1 359.4,40.1 358.4,39.1 352.4,39.1 351.4,38.1 345.4,38.1 344.4,37.1 339.4,37.1 338.4,36.1 327.3,36.1 326.3,37.1 321.3,37.1 320.3,38.1 315.3,38.1 314.3,39.1 309.3,39.1 308.3,40.1 304.3,40.1 303.3,41.1 298.3,41.1 297.3,42.1 292.3,42.1 291.3,43.1 286.3,43.1 285.3,44.1 281.3,44.1 280.3,45.1 275.3,45.1 274.3,46.1 271.3,46.1 270.3,45.1 226.2,45.1 225.2,44.1 203.2,44.1 202.2,43.1 194.2,43.1 193.2,42.1 185.2,42.1 184.2,41.1 176.2,41.1 175.2,40.1 168.2,40.1 167.2,39.1 158.2,39.1 157.2,40.1 148.2,40.1 147.2,41.1 137.1,41.1 136.1,42.1 127.1,42.1 126.1,43.1 116.1,43.1 115.1,44.1 106.1,44.1 105.1,45.1 95.1,45.1 94.1,44.1 86.1,44.1 85.1,43.1 78.1,43.1 77.1,42.1 69.1,42.1 68.1,41.1 61.1,41.1 60.1,40.1 52.1,40.1 51.1,39.1 44,39.1 43,38.1 35,38.1 34,37.1 27,37.1 26,36.1 19,36.1 18,35.1 10.3,35.1 7,30.1 7.1,27.1 10,17.9 13.9,13 18.9,10 23.1,9 33.2,8 41,7.9 54.1,8 84.9,10 102.9,12 115,15 126.1,20 131.5,24.1 137.8,32.1 142.2,34.7 150.2,35.4 175.2,35.1 177.2,34.1 177.8,33.1 181.2,22.5 183.2,18.6 190,11 197.6,6 212.4,1Z"/>
<path fill="#5dcb50" fill-rule="evenodd" d="M353.2,2 356.4,1.4 363.4,1.3 369.4,1.4 372,2 375.7,7 383.4,15.1 390.4,18.4 398.4,19.7 404.4,25.5 418.4,30.6 430.5,36.9 441.3,46.1 447.5,49.2 455.9,56.1 459.1,59.1 462.2,64.2 464.5,66.2 475.9,74.2 486.5,79.8 496.5,83.6 516.5,89.5 536.6,92.9 558.6,95.7 565.6,96.9 568.6,98 568.6,248.6 559.6,248.6 558.6,247.6 558.6,246.6 553.6,241.6 553.6,240.6 549.5,236.6 549.5,235.6 545.5,231.6 545.5,230.6 541.5,226.5 541.5,225.5 536.5,220.5 536.5,219.5 528.5,210.5 528.5,209.5 524.5,205.5 524.5,204.5 519.5,199.5 519.5,198.5 515.5,194.5 515.5,193.5 507.5,184.4 507.5,183.4 504.5,180.4 504.5,179.4 500.5,175.4 500.5,174.4 497.5,171.4 497.5,170.4 489.5,161.4 489.5,160.4 486.5,157.4 486.5,156.4 482.5,152.4 482.5,151.4 479.5,148.4 479.5,147.4 477.5,145.4 477.5,144.3 475.5,142.3 475.5,141.3 473.5,139.3 473.5,138.3 471.5,136.3 471.5,135.3 469.5,133.3 469.5,132.3 465.5,127.3 465.5,126.3 463.5,124.3 463.5,123.3 461.5,121.3 461.5,120.3 459.5,118.3 459.5,117.3 457.5,115.3 457.5,114.3 455.5,112.3 455.5,111.3 453.5,109.3 453.5,108.3 450.5,105.3 450.5,104.3 448.5,102.2 448.5,101.2 446.5,99.2 446.5,98.2 444.5,96.2 444.5,95.2 442.5,93.2 442.5,92.2 440.5,90.2 440.5,89.2 438.5,87.2 438.5,86.2 436.5,84.2 436.5,83.2 434.4,81.2 434.5,80.2 432.4,78.2 432.4,77.2 430.4,75.2 430.4,74.2 428.4,72.2 428.4,71.2 426.4,69.2 426.4,68.2 424.4,66.2 424.4,65.2 422.4,63.2 422.4,62.1 420.4,60.1 420.4,59.1 418.4,57.1 418.4,56.1 416.4,54.1 416.4,53.1 412.4,48.1 409.4,48.1 408.4,47.1 402.4,47.1 401.4,46.1 396.4,46.1 395.4,45.1 390.4,45.1 389.4,44.1 384.4,44.1 383.4,43.1 378.4,43.1 377.4,42.1 372.4,42.1 371.4,41.1 365.4,41.1 364.4,40.1 359.4,40.1 358.4,39.1 352.4,39.1 351.4,38.1 345.4,38.1 344.4,37.1 339.4,37.1 338.4,36.1 327.3,36.1 326.3,37.1 321.3,37.1 320.3,38.1 315.3,38.1 314.3,39.1 309.3,39.1 308.3,40.1 304.3,40.1 303.3,41.1 298.3,41.1 297.3,42.1 292.3,42.1 291.3,43.1 286.3,43.1 285.3,44.1 281.3,44.1 280.3,45.1 275.3,45.1 274.3,46.1 271.3,46.1 270.3,45.1 226.2,45.1 225.2,44.1 203.2,44.1 202.2,43.1 194.2,43.1 193.2,42.1 185.2,42.1 184.2,41.1 176.2,41.1 175.2,40.1 168.2,40.1 167.2,39.1 158.2,39.1 157.2,40.1 148.2,40.1 147.2,41.1 137.1,41.1 136.1,42.1 127.1,42.1 126.1,43.1 116.1,43.1 115.1,44.1 106.1,44.1 105.1,45.1 95.1,45.1 94.1,44.1 86.1,44.1 85.1,43.1 78.1,43.1 77.1,42.1 69.1,42.1 68.1,41.1 61.1,41.1 60.1,40.1 52.1,40.1 51.1,39.1 44,39.1 43,38.1 35,38.1 34,37.1 27,37.1 26,36.1 19.5,36.1 13.9,33.1 12.6,32.1 11.5,30.1 12.6,26.1 15.7,23.1 19.6,17 24,12.9 30,11.6 44,10.8 51.1,9.6 65.1,9.9 85.1,11 94.3,12 102.1,13.5 115.1,17.8 120.4,20 125.2,23.1 133.9,33.1 138.1,35.4 146.2,36.2 176.2,36 178.2,35.5 179.2,34.6 184.2,23.1 187.2,19.2 191.2,17 196.2,12.6 200.2,10.1 208.2,7.2 214.2,6 221.2,7.4 226.2,10.6 234.2,12.6 243.3,17.7 245,20 246.4,27.1 247.6,29.1 250.3,30.8 256.3,32 257.8,31.1 260.3,27.7 266.3,29.1 277.3,30.2 281.3,29.1 290.3,28.3 305.3,25.2 323.3,23.3 329.6,22.1 339.4,18.1 346.4,13.3 348.1,11 349.9,5 353.2,2Z"/>
<path fill="#5eca51" fill-rule="evenodd" d="M358.3,4 364.4,3.5 368.4,4.5 381.4,19.6 384.4,22 388.4,23.3 396.4,23 398.4,24.2 402.4,28 416.4,32.5 428.5,38.8 431.1,41.1 432.6,44.1 438.5,49.3 448.5,53.2 453.4,57.1 455.9,60.1 459,67.2 460.7,69.2 471.5,76.5 480.5,81.5 490.5,85.5 514.5,92.4 555.6,100.1 563.6,102.1 568.6,105.5 568.6,248.6 559.6,248.6 558.6,247.6 558.6,246.6 553.6,241.6 553.6,240.6 549.6,236.6 549.6,235.6 545.5,231.6 545.5,230.6 541.5,226.5 541.5,225.5 536.5,220.5 536.5,219.5 528.5,210.5 528.5,209.5 524.5,205.5 524.5,204.5 519.5,199.5 519.5,198.5 515.5,194.5 515.5,193.5 507.5,184.4 507.5,183.4 504.5,180.4 504.5,179.4 500.5,175.4 500.5,174.4 497.5,171.4 497.5,170.4 489.5,161.4 489.5,160.4 486.5,157.4 486.5,156.4 482.5,152.4 482.5,151.4 479.5,148.4 479.5,147.4 477.5,145.4 477.5,144.3 475.5,142.3 475.5,141.3 473.5,139.3 473.5,138.3 471.5,136.3 471.5,135.3 469.5,133.3 469.5,132.3 465.5,127.3 465.5,126.3 463.5,124.3 463.5,123.3 461.5,121.3 461.5,120.3 459.5,118.3 459.5,117.3 457.5,115.3 457.5,114.3 455.5,112.3 455.5,111.3 453.5,109.3 453.5,108.3 450.5,105.3 450.5,104.3 448.5,102.2 448.5,101.2 446.5,99.2 446.5,98.2 444.5,96.2 444.5,95.2 442.5,93.2 442.5,92.2 440.5,90.2 440.5,89.2 438.5,87.2 438.5,86.2 436.5,84.2 436.5,83.2 434.5,81.2 434.5,80.2 432.4,78.2 432.5,77.2 430.4,75.2 430.4,74.2 428.4,72.2 428.4,71.2 426.4,69.2 426.4,68.2 424.4,66.2 424.4,65.2 422.4,63.2 422.4,62.1 420.4,60.1 420.4,59.1 418.4,57.1 418.4,56.1 416.4,54.1 416.4,53.1 412.4,48.1 409.4,48.1 408.4,47.1 402.4,47.1 401.4,46.1 396.4,46.1 395.4,45.1 390.4,45.1 389.4,44.1 384.4,44.1 383.4,43.1 378.4,43.1 377.4,42.1 372.4,42.1 371.4,41.1 365.4,41.1 364.4,40.1 359.4,40.1 358.4,39.1 352.4,39.1 351.4,38.1 345.4,38.1 344.4,37.1 339.4,37.1 338.4,36.1 327.3,36.1 326.3,37.1 321.3,37.1 320.3,38.1 315.3,38.1 314.3,39.1 309.3,39.1 308.3,40.1 304.3,40.1 303.3,41.1 298.3,41.1 297.3,42.1 292.3,42.1 291.3,43.1 286.3,43.1 285.3,44.1 281.3,44.1 280.3,45.1 275.3,45.1 274.3,46.1 271.3,46.1 270.3,45.1 226.2,45.1 225.2,44.1 203.2,44.1 202.2,43.1 194.2,43.1 193.2,42.1 185.2,42.1 184.2,41.1 176.2,41.1 175.2,40.1 168.2,40.1 167.2,39.1 158.2,39.1 157.2,40.1 148.2,40.1 147.2,41.1 137.1,41.1 136.1,42.1 127.1,42.1 126.1,43.1 116.1,43.1 115.1,44.1 106.1,44.1 105.1,45.1 95.1,45.1 94.1,44.1 86.1,44.1 85.1,43.1 78.1,43.1 77.1,42.1 69.1,42.1 68.1,41.1 61.1,41.1 60.1,40.1 52.1,40.1 51.1,39.1 44,39.1 43,38.1 35,38.1 34,37.1 27,37.1 26,36.1 22,36.1 17.9,33.1 16.7,31.1 16.9,29.1 18.2,27.1 24,23.1 28.2,18 31,16.2 42,15 51.1,12.7 58.1,11.9 80.1,11.9 89.1,12.7 99.1,14.9 109.1,19.5 116.2,22.1 120.1,24.5 128.7,34.1 132.1,36.2 143.2,37.1 178.2,37 180.2,36.4 181.2,35.5 187.2,25.3 189.3,23.1 197.9,19 204.2,14.7 211.2,12.8 214.2,13.2 220.2,15.7 231.2,17.3 241.3,21.9 243.3,24 245.3,31 249.3,33.9 257.3,35.6 258.3,35.6 261.3,33.8 275.3,34.8 282.9,32.1 296.3,29.9 336.6,26.1 345.6,24.1 349.6,22.1 352.4,19.7 356,6 358.3,4Z"/>
<path fill="#60ca52" fill-rule="evenodd" d="M362.7,7 364.4,6.9 365.4,7.7 382.6,27.1 385.4,27.6 395.4,26.8 400.4,30.5 405.4,31.5 414.4,34.3 425.6,40.1 427.9,42.1 430,47.1 435.5,52.3 437.5,53.4 448.5,56.9 450.5,58.3 452.3,61.1 456.5,71.1 458.3,73.2 474.5,83.1 480.5,85.9 489.5,89.1 513.5,95.5 524.6,97.4 554.6,105 562.6,107.9 568.6,113 568.6,248.6 559.6,248.6 558.6,247.6 558.6,246.6 553.6,241.6 553.6,240.6 549.6,236.6 549.6,235.6 545.5,231.6 545.5,230.6 541.5,226.5 541.5,225.5 536.5,220.5 536.5,219.5 528.5,210.5 528.5,209.5 524.5,205.5 524.5,204.5 519.5,199.5 519.5,198.5 515.5,194.5 515.5,193.5 507.5,184.4 507.5,183.4 504.5,180.4 504.5,179.4 500.5,175.4 500.5,174.4 497.5,171.4 497.5,170.4 489.5,161.4 489.5,160.4 486.5,157.4 486.5,156.4 482.5,152.4 482.5,151.4 479.5,148.4 479.5,147.4 477.5,145.4 477.5,144.3 475.5,142.3 475.5,141.3 473.5,139.3 473.5,138.3 471.5,136.3 471.5,135.3 469.5,133.3 469.5,132.3 465.5,127.3 465.5,126.3 463.5,124.3 463.5,123.3 461.5,121.3 461.5,120.3 459.5,118.3 459.5,117.3 457.5,115.3 457.5,114.3 455.5,112.3 455.5,111.3 453.5,109.3 453.5,108.3 450.5,105.3 450.5,104.3 448.5,102.2 448.5,101.2 446.5,99.2 446.5,98.2 444.5,96.2 444.5,95.2 442.5,93.2 442.5,92.2 440.5,90.2 440.5,89.2 438.5,87.2 438.5,86.2 436.5,84.2 436.5,83.2 434.5,81.2 434.5,80.2 432.5,78.2 432.5,77.2 430.4,75.2 430.5,74.2 428.4,72.2 428.4,71.2 426.4,69.2 426.4,68.2 424.4,66.2 424.4,65.2 422.4,63.2 422.4,62.1 420.4,60.1 420.4,59.1 418.4,57.1 418.4,56.1 416.4,54.1 416.4,53.1 412.4,48.1 409.4,48.1 408.4,47.1 402.4,47.1 401.4,46.1 396.4,46.1 395.4,45.1 390.4,45.1 389.4,44.1 384.4,44.1 383.4,43.1 378.4,43.1 377.4,42.1 372.4,42.1 371.4,41.1 365.4,41.1 364.4,40.1 359.4,40.1 358.4,39.1 352.4,39.1 351.4,38.1 345.4,38.1 344.4,37.1 339.4,37.1 338.4,36.1 327.3,36.1 326.3,37.1 321.3,37.1 320.3,38.1 315.3,38.1 314.3,39.1 309.3,39.1 308.3,40.1 304.3,40.1 303.3,41.1 298.3,41.1 297.3,42.1 292.3,42.1 291.3,43.1 286.3,43.1 285.3,44.1 281.3,44.1 280.3,45.1 275.3,45.1 274.3,46.1 271.3,46.1 270.3,45.1 226.2,45.1 225.2,44.1 203.2,44.1 202.2,43.1 194.2,43.1 193.2,42.1 185.2,42.1 184.2,41.1 176.2,41.1 175.2,40.1 168.2,40.1 167.2,39.1 158.2,39.1 157.2,40.1 148.2,40.1 147.2,41.1 137.1,41.1 136.1,42.1 127.1,42.1 126.1,43.1 116.1,43.1 115.1,44.1 106.1,44.1 105.1,45.1 95.1,45.1 94.1,44.1 86.1,44.1 85.1,43.1 78.1,43.1 77.1,42.1 69.1,42.1 68.1,41.1 61.1,41.1 60.1,40.1 52.1,40.1 51.1,39.1 44,39.1 43,38.1 35,38.1 34,37.1 27.7,37.1 23.2,34.1 22,32.1 22.2,30.1 24,28.1 37,19.9 60.1,14 68.1,13.4 81.1,13.4 90.1,14.5 100.6,18 114.1,25.2 124.5,36.1 126.4,37.1 129.1,37.6 143.2,38.1 181.2,37.7 183.2,36.6 190,28.1 192.2,26.3 207.2,19.9 209.2,19.6 229.2,22.3 238.3,25.8 241.3,27.8 242.7,32.1 244,34.1 248.3,37 259.3,39.3 273.3,39.4 276.3,38.9 285.3,35.1 290.3,34.2 355.4,27.9 357.2,27.1 357.9,26.1 361.8,9 362.7,7Z"/>
<path fill="#62c953" fill-rule="evenodd" d="M73.1,15 85.1,15.1 90.1,16.2 94.9,18 106,24.1 109.2,28.1 113.1,30.6 119.3,37.1 121.1,38.1 126.1,38.8 182.2,38.9 184.7,38.1 192.7,31.1 195.2,29.5 204.2,25.9 208.2,25.1 229.2,27.8 238.3,31.1 239.5,32.1 241.7,36.1 246.2,39.1 269.3,43.7 277.3,43.7 288.3,42.3 300,40.1 310.1,37.1 323.3,35.2 361.4,31.8 379.4,31.6 393.4,30.5 395.4,31 398.4,33 407.4,34.7 416.4,37.9 424.4,42.8 426.7,49.1 432.5,55.3 442.4,59.1 445,61.1 449.7,66.2 454.1,75.2 455.5,76.9 468.5,84.7 477.5,89.1 486.5,92.1 524.6,100.7 551.9,109.3 560.6,113.3 568.6,120.5 568.6,248.6 559.6,248.6 558.6,247.6 558.6,246.6 553.6,241.6 553.6,240.6 549.6,236.6 549.6,235.6 545.5,231.6 545.5,230.6 541.5,226.5 541.5,225.5 536.5,220.5 536.5,219.5 528.5,210.5 528.5,209.5 524.5,205.5 524.5,204.5 519.5,199.5 519.5,198.5 515.5,194.5 515.5,193.5 507.5,184.4 507.5,183.4 504.5,180.4 504.5,179.4 500.5,175.4 500.5,174.4 497.5,171.4 497.5,170.4 489.5,161.4 489.5,160.4 486.5,157.4 486.5,156.4 482.5,152.4 482.5,151.4 479.5,148.4 479.5,147.4 477.5,145.4 477.5,144.3 475.5,142.3 475.5,141.3 473.5,139.3 473.5,138.3 471.5,136.3 471.5,135.3 469.5,133.3 469.5,132.3 465.5,127.3 465.5,126.3 463.5,124.3 463.5,123.3 461.5,121.3 461.5,120.3 459.5,118.3 459.5,117.3 457.5,115.3 457.5,114.3 455.5,112.3 455.5,111.3 453.5,109.3 453.5,108.3 450.5,105.3 450.5,104.3 448.5,102.2 448.5,101.2 446.5,99.2 446.5,98.2 444.5,96.2 444.5,95.2 442.5,93.2 442.5,92.2 440.5,90.2 440.5,89.2 438.5,87.2 438.5,86.2 436.5,84.2 436.5,83.2 434.5,81.2 434.5,80.2 432.5,78.2 432.5,77.2 430.5,75.2 430.5,74.2 428.4,72.2 428.4,71.2 426.4,69.2 426.4,68.2 424.4,66.2 424.4,65.2 422.4,63.2 422.4,62.1 420.4,60.1 420.4,59.1 418.4,57.1 418.4,56.1 416.4,54.1 416.4,53.1 412.4,48.1 409.4,48.1 408.4,47.1 402.4,47.1 401.4,46.1 396.4,46.1 395.4,45.1 390.4,45.1 389.4,44.1 384.4,44.1 383.4,43.1 378.4,43.1 377.4,42.1 372.4,42.1 371.4,41.1 365.4,41.1 364.4,40.1 359.4,40.1 358.4,39.1 352.4,39.1 351.4,38.1 345.4,38.1 344.4,37.1 339.4,37.1 338.4,36.1 327.3,36.1 326.3,37.1 321.3,37.1 320.3,38.1 315.3,38.1 314.3,39.1 309.3,39.1 308.3,40.1 304.3,40.1 303.3,41.1 298.3,41.1 297.3,42.1 292.3,42.1 291.3,43.1 286.3,43.1 285.3,44.1 281.3,44.1 280.3,45.1 275.3,45.1 274.3,46.1 271.3,46.1 270.3,45.1 226.2,45.1 225.2,44.1 203.2,44.1 202.2,43.1 194.2,43.1 193.2,42.1 185.2,42.1 184.2,41.1 176.2,41.1 175.2,40.1 168.2,40.1 167.2,39.1 158.2,39.1 157.2,40.1 148.2,40.1 147.2,41.1 137.1,41.1 136.1,42.1 127.1,42.1 126.1,43.1 116.1,43.1 115.1,44.1 106.1,44.1 105.1,45.1 95.1,45.1 94.1,44.1 86.1,44.1 85.1,43.1 78.1,43.1 77.1,42.1 69.1,42.1 68.1,41.1 61.1,41.1 60.1,40.1 52.1,40.1 51.1,39.1 44,39.1 43,38.1 35,38.1 34,37.1 31.5,37.1 27.8,34.1 27.2,32.1 29,29.6 36,25.2 45.6,21.1 61.1,16.2 67.1,15.2 73.1,15Z"/>
<path fill="#63c854" fill-rule="evenodd" d="M66.7,17 83.1,16.4 87.1,16.9 90.5,18 99.7,24.1 104.7,33.1 111.1,35.5 116.1,39.2 123.1,40 147.2,40.2 147.2,41.1 137.1,41.1 136.1,42.1 127.1,42.1 126.1,43.1 116.1,43.1 115.1,44.1 106.1,44.1 105.1,45.1 95.1,45.1 94.1,44.1 86.1,44.1 85.1,43.1 78.1,43.1 77.1,42.1 69.1,42.1 68.1,41.1 61.1,41.1 60.1,40.1 52.1,40.1 51.1,39.1 44,39.1 43,38.1 36.8,38.1 34.2,36.1 32.8,34.1 33,32.2 34.3,31.1 38,29.1 46,26.9 51.3,23.1 56.1,21.2 61.1,18.5 66.7,17ZM203.2,31.1 211.2,30.7 226.2,32.5 236.2,35.4 240.6,39.1 243.3,40.4 262.6,45.1 226.2,45.1 225.2,44.1 203.2,44.1 202.2,43.1 194.2,43.1 193.2,42.1 185.2,42.1 184.2,41.1 176.2,41.1 176.2,40.2 183.2,40.1 186.2,39.5 196.2,33.7 203.2,31.1ZM377.6,35.1 393.4,34.4 396.4,35.5 407.4,37.3 415.3,40.1 421.4,44.1 423.4,51.1 428.5,57.3 430.5,59 436.3,62.1 443.2,70.2 449.5,75.5 452.5,80.4 455.5,82.4 469.5,90 479.5,94.1 487.4,96.2 502.5,98.9 521.6,103.3 539.3,109.3 550.6,114.1 557.6,118 568.6,128 568.6,248.6 559.6,248.6 558.6,247.6 558.6,246.6 553.6,241.6 553.6,240.6 549.6,236.6 549.6,235.6 545.5,231.6 545.5,230.6 541.5,226.5 541.5,225.5 536.5,220.5 536.5,219.5 528.5,210.5 528.5,209.5 524.5,205.5 524.5,204.5 519.5,199.5 519.5,198.5 515.5,194.5 515.5,193.5 507.5,184.4 507.5,183.4 504.5,180.4 504.5,179.4 500.5,175.4 500.5,174.4 497.5,171.4 497.5,170.4 489.5,161.4 489.5,160.4 486.5,157.4 486.5,156.4 482.5,152.4 482.5,151.4 479.5,148.4 479.5,147.4 477.5,145.4 477.5,144.3 475.5,142.3 475.5,141.3 473.5,139.3 473.5,138.3 471.5,136.3 471.5,135.3 469.5,133.3 469.5,132.3 465.5,127.3 465.5,126.3 463.5,124.3 463.5,123.3 461.5,121.3 461.5,120.3 459.5,118.3 459.5,117.3 457.5,115.3 457.5,114.3 455.5,112.3 455.5,111.3 453.5,109.3 453.5,108.3 450.5,105.3 450.5,104.3 448.5,102.2 448.5,101.2 446.5,99.2 446.5,98.2 444.5,96.2 444.5,95.2 442.5,93.2 442.5,92.2 440.5,90.2 440.5,89.2 438.5,87.2 438.5,86.2 436.5,84.2 436.5,83.2 434.5,81.2 434.5,80.2 432.5,78.2 432.5,77.2 430.5,75.2 430.5,74.2 428.5,72.2 428.5,71.2 426.4,69.2 426.4,68.2 424.4,66.2 424.4,65.2 422.4,63.2 422.4,62.1 420.4,60.1 420.4,59.1 418.4,57.1 418.4,56.1 416.4,54.1 416.4,53.1 412.4,48.1 409.4,48.1 408.4,47.1 402.4,47.1 401.4,46.1 396.4,46.1 395.4,45.1 390.4,45.1 389.4,44.1 384.4,44.1 383.4,43.1 378.4,43.1 377.4,42.1 372.4,42.1 371.4,41.1 365.4,41.1 364.4,40.1 359.4,40.1 358.4,39.1 352.4,39.1 351.4,38.1 345.4,38.1 345.4,37.6 358.6,36.1 377.6,35.1Z"/>
<path fill="#ffc61e" fill-rule="evenodd" d="M63.9,19 68.1,18.1 75.1,18.3 81.1,20.3 84.1,18.3 88.1,18.6 90.7,20 92.3,23.1 92.1,27 90.9,30.1 91.3,31.1 99.2,37.1 114.1,41.5 136.1,42.1 127.1,42.1 126.1,43.1 116.1,43.1 115.1,44.1 106.1,44.1 105.1,45.1 95.1,45.1 94.1,44.1 86.1,44.1 85.1,43.1 78.1,43.1 77.1,42.1 69.1,42.1 68.1,41.1 61.1,41.1 60.1,40.1 52.1,40.1 51.1,39.1 44,39.1 43,38.1 40.9,38.1 39,36.1 38.8,34.1 42.7,32.1 53.7,28.1 56.1,26.3 60,21.1 63.9,19ZM201.8,36.1 211.2,35.5 223.2,36.9 232.2,38.9 241.3,42.1 253.3,45.1 226.2,45.1 225.2,44.1 203.2,44.1 202.2,43.1 194.2,43.1 193.2,42.1 185.2,42.1 189.2,41.1 196.2,37.7 201.8,36.1ZM379.2,38.1 388.4,37.6 398.4,38.2 405.4,39.3 409.7,41.1 413.2,43.1 416.7,46.1 420.2,53.1 428.6,64.2 430,68.2 445,80.2 450.8,84.2 466,92.2 475.7,96.2 487.3,99.2 512.5,103.5 523.6,106.7 534.6,110.9 544.6,115.7 552.6,120.5 557.6,124.4 568.6,134.9 568.6,248.6 559.6,248.6 558.6,247.6 558.6,246.6 553.6,241.6 553.6,240.6 549.6,236.6 549.6,235.6 545.5,231.6 545.5,230.6 541.5,226.5 541.5,225.5 536.5,220.5 536.5,219.5 528.5,210.5 528.5,209.5 524.5,205.5 524.5,204.5 519.5,199.5 519.5,198.5 515.5,194.5 515.5,193.5 507.5,184.4 507.5,183.4 504.5,180.4 504.5,179.4 500.5,175.4 500.5,174.4 497.5,171.4 497.5,170.4 489.5,161.4 489.5,160.4 486.5,157.4 486.5,156.4 482.5,152.4 482.5,151.4 479.5,148.4 479.5,147.4 477.5,145.4 477.5,144.3 475.5,142.3 475.5,141.3 473.5,139.3 473.5,138.3 471.5,136.3 471.5,135.3 469.5,133.3 469.5,132.3 465.5,127.3 465.5,126.3 463.5,124.3 463.5,123.3 461.5,121.3 461.5,120.3 459.5,118.3 459.5,117.3 457.5,115.3 457.5,114.3 455.5,112.3 455.5,111.3 453.5,109.3 453.5,108.3 450.5,105.3 450.5,104.3 448.5,102.2 448.5,101.2 446.5,99.2 446.5,98.2 444.5,96.2 444.5,95.2 442.5,93.2 442.5,92.2 440.5,90.2 440.5,89.2 438.5,87.2 438.5,86.2 436.5,84.2 436.5,83.2 434.5,81.2 434.5,80.2 432.5,78.2 432.5,77.2 430.5,75.2 430.5,74.2 428.5,72.2 428.5,71.2 424.4,66.2 424.4,65.2 422.4,63.2 422.4,62.1 420.4,60.1 420.4,59.1 418.4,57.1 418.4,56.1 416.4,54.1 416.4,53.1 414.4,51.1 414.4,50.1 412.4,48.1 409.4,48.1 408.4,47.1 402.4,47.1 401.4,46.1 396.4,46.1 395.4,45.1 390.4,45.1 389.4,44.1 384.4,44.1 383.4,43.1 378.4,43.1 377.4,42.1 372.4,42.1 371.4,41.1 365.4,41.1 365.2,40.1 379.2,38.1Z"/>
<path fill="#fc9509" fill-rule="evenodd" d="M459.5,118.3 459.5,117.5 470.5,119.9 492.4,127.3 498.3,130.3 503.5,133.8 511.5,141.6 517.3,149.4 534.5,176.4 547.2,193.5 557.6,204.5 568.6,213 568.6,248.6 559.6,248.6 558.6,247.6 558.6,246.6 553.6,241.6 553.6,240.6 549.6,236.6 549.6,235.6 545.6,231.6 545.6,230.6 541.6,226.5 541.6,225.5 536.6,220.5 536.6,219.5 528.5,210.5 528.5,209.5 524.5,205.5 524.5,204.5 519.5,199.5 519.5,198.5 515.5,194.5 515.5,193.5 507.5,184.4 507.5,183.4 504.5,180.4 504.5,179.4 500.5,175.4 500.5,174.4 497.5,171.4 497.5,170.4 489.5,161.4 489.5,160.4 486.5,157.4 486.5,156.4 482.5,152.4 482.5,151.4 479.5,148.4 479.5,147.4 477.5,145.4 477.5,144.3 475.5,142.3 475.5,141.3 473.5,139.3 473.5,138.3 471.5,136.3 471.5,135.3 469.5,133.3 469.5,132.3 465.5,127.3 465.5,126.3 463.5,124.3 463.5,123.3 461.5,121.3 461.5,120.3 459.5,118.3Z"/>
<path fill="#f68b07" fill-rule="evenodd" d="M460.5,119.3 471.5,121.4 490.5,128.4 495.9,131.3 501.5,135.3 509.5,143.3 515.5,151.4 532,177.4 544.7,194.5 555.6,206.1 568.6,216.1 568.6,248.6 559.6,248.6 558.6,247.6 558.6,246.6 553.6,241.6 553.6,240.6 549.6,236.6 549.6,235.6 545.6,231.6 545.6,230.6 541.6,226.5 541.6,225.5 536.6,220.5 536.6,219.5 528.5,210.5 528.5,209.5 524.5,205.5 524.5,204.5 519.5,199.5 519.5,198.5 515.5,194.5 515.5,193.5 507.5,184.4 507.5,183.4 504.5,180.4 504.5,179.4 500.5,175.4 500.5,174.4 497.5,171.4 497.5,170.4 489.5,161.4 489.5,160.4 486.5,157.4 486.5,156.4 482.5,152.4 482.5,151.4 479.5,148.4 479.5,147.4 477.5,145.4 477.5,144.3 475.5,142.3 475.5,141.3 473.5,139.3 473.5,138.3 471.5,136.3 471.5,135.3 469.5,133.3 469.5,132.3 467.5,130.3 467.5,129.3 465.5,127.3 465.5,126.3 463.5,124.3 463.5,123.3 461.5,121.3 461.5,120.3 460.5,119.3Z"/>
<path fill="#f08105" fill-rule="evenodd" d="M461.5,121.3 461.5,120.4 470.5,122.1 480.5,125.7 489.5,129.8 494.5,132.9 500.2,137.3 507,144.3 513.5,153.1 531.6,181.4 543,196.5 548.3,202.5 555.6,209.4 564.6,216.6 568.6,219.2 568.6,248.6 559.6,248.6 558.6,247.6 558.6,246.6 553.6,241.6 553.6,240.6 549.6,236.6 549.6,235.6 545.6,231.6 545.6,230.6 541.6,226.5 541.6,225.5 536.6,220.5 536.6,219.5 528.6,210.5 528.6,209.5 524.5,205.5 524.5,204.5 519.5,199.5 519.5,198.5 515.5,194.5 515.5,193.5 507.5,184.4 507.5,183.4 504.5,180.4 504.5,179.4 500.5,175.4 500.5,174.4 497.5,171.4 497.5,170.4 489.5,161.4 489.5,160.4 486.5,157.4 486.5,156.4 482.5,152.4 482.5,151.4 479.5,148.4 479.5,147.4 477.5,145.4 477.5,144.3 475.5,142.3 475.5,141.3 473.5,139.3 473.5,138.3 471.5,136.3 471.5,135.3 469.5,133.3 469.5,132.3 465.5,127.3 465.5,126.3 463.5,124.3 463.5,123.3 461.5,121.3Z"/>
<path fill="#e97703" fill-rule="evenodd" d="M462.5,122.3 462.5,121.8 470.5,123.2 484.9,129.3 494.2,135.3 499.9,140.3 504.5,145.4 511.5,154.8 529.6,183.2 540.6,197.6 546.8,204.5 554.3,211.5 563,218.5 568.6,222.2 568.6,248.6 559.6,248.6 558.6,247.6 558.6,246.6 553.6,241.6 553.6,240.6 549.6,236.6 549.6,235.6 545.6,231.6 545.6,230.6 541.6,226.5 541.6,225.5 536.6,220.5 536.6,219.5 528.6,210.5 528.6,209.5 524.5,205.5 524.5,204.5 519.5,199.5 519.5,198.5 515.5,194.5 515.5,193.5 507.5,184.4 507.5,183.4 504.5,180.4 504.5,179.4 500.5,175.4 500.5,174.4 497.5,171.4 497.5,170.4 489.5,161.4 489.5,160.4 486.5,157.4 486.5,156.4 482.5,152.4 482.5,151.4 479.5,148.4 479.5,147.4 477.5,145.4 477.5,144.3 475.5,142.3 475.5,141.3 473.5,139.3 473.5,138.3 471.5,136.3 471.5,135.3 469.5,133.3 469.5,132.3 467.5,130.3 467.5,129.3 465.5,127.3 465.5,126.3 463.5,124.3 463.5,123.3 462.5,122.3Z"/>
<path fill="#e36d01" fill-rule="evenodd" d="M463.5,123.3 470.5,124.3 480.1,128.3 488.4,133.3 495.4,139.3 501.1,145.4 506.6,152.4 526.6,183.5 538.8,199.5 545.6,206.8 552.8,213.5 561.5,220.5 568.6,225.3 568.6,248.6 559.6,248.6 558.6,247.6 558.6,246.6 553.6,241.6 553.6,240.6 549.6,236.6 549.6,235.6 545.6,231.6 545.6,230.6 541.6,226.5 541.6,225.5 536.6,220.5 536.6,219.5 528.6,210.5 528.6,209.5 524.5,205.5 524.5,204.5 519.5,199.5 519.5,198.5 515.5,194.5 515.5,193.5 507.5,184.4 507.5,183.4 504.5,180.4 504.5,179.4 500.5,175.4 500.5,174.4 497.5,171.4 497.5,170.4 489.5,161.4 489.5,160.4 486.5,157.4 486.5,156.4 482.5,152.4 482.5,151.4 479.5,148.4 479.5,147.4 477.5,145.4 477.5,144.3 475.5,142.3 475.5,141.3 473.5,139.3 473.5,138.3 471.5,136.3 471.5,135.3 469.5,133.3 469.5,132.3 465.5,127.3 465.5,126.3 463.5,124.3 463.5,123.3Z"/>
<path fill="#e55a00" fill-rule="evenodd" d="M464.5,125.3 464.5,124.6 469.5,125.2 478.5,128.9 486.5,134 492.6,139.3 499.1,146.4 505.3,154.4 524.6,184.5 536.6,200.2 544.2,208.5 551.8,215.5 560.5,222.5 568.6,228.1 568.6,248.6 559.6,248.6 558.6,247.6 558.6,246.6 553.6,241.6 553.6,240.6 549.6,236.6 549.6,235.6 545.6,231.6 545.6,230.6 541.6,226.5 541.6,225.5 536.6,220.5 536.6,219.5 528.6,210.5 528.6,209.5 524.5,205.5 524.5,204.5 519.5,199.5 519.5,198.5 515.5,194.5 515.5,193.5 507.5,184.4 507.5,183.4 504.5,180.4 504.5,179.4 500.5,175.4 500.5,174.4 497.5,171.4 497.5,170.4 489.5,161.4 489.5,160.4 486.5,157.4 486.5,156.4 482.5,152.4 482.5,151.4 479.5,148.4 479.5,147.4 477.5,145.4 477.5,144.3 475.5,142.3 475.5,141.3 473.5,139.3 473.5,138.3 471.5,136.3 471.5,135.3 469.5,133.3 469.5,132.3 467.5,130.3 467.5,129.3 465.5,127.3 465.5,126.3 464.5,125.3Z"/>
<path fill="#ee4700" fill-rule="evenodd" d="M468.4,130.3 473.5,131 480.6,135.3 487.5,140.8 494.5,148.3 505.5,163.1 523.4,190.5 533.4,203.5 548.6,219.3 558.6,228 568.6,235.8 568.6,248.6 559.6,248.6 558.6,247.6 558.6,246.6 553.6,241.6 553.6,240.6 549.6,236.6 549.6,235.6 545.6,231.6 545.6,230.6 541.6,226.5 541.6,225.5 536.6,220.5 536.6,219.5 528.6,210.5 528.6,209.5 524.6,205.5 524.6,204.5 519.5,199.5 519.5,198.5 515.5,194.5 515.5,193.5 507.5,184.4 507.5,183.4 504.5,180.4 504.5,179.4 500.5,175.4 500.5,174.4 497.5,171.4 497.5,170.4 489.5,161.4 489.5,160.4 486.5,157.4 486.5,156.4 482.5,152.4 482.5,151.4 479.5,148.4 479.5,147.4 477.5,145.4 477.5,144.3 475.5,142.3 475.5,141.3 473.5,139.3 473.5,138.3 471.5,136.3 471.5,135.3 469.5,133.3 468.4,130.3Z"/>
<path fill="#f43e00" fill-rule="evenodd" d="M472.4,133.3 474.5,133.2 479.6,136.3 484.9,140.3 490.5,145.7 500.5,158.3 521.8,190.5 533.5,205.5 547.9,220.5 559.6,230.8 568.6,237.9 568.6,248.6 559.6,248.6 558.6,247.6 558.6,246.6 553.6,241.6 553.6,240.6 549.6,236.6 549.6,235.6 545.6,231.6 545.6,230.6 541.6,226.5 541.6,225.5 536.6,220.5 536.6,219.5 528.6,210.5 528.6,209.5 524.6,205.5 524.6,204.5 519.5,199.5 519.5,198.5 515.5,194.5 515.5,193.5 507.5,184.4 507.5,183.4 504.5,180.4 504.5,179.4 500.5,175.4 500.5,174.4 497.5,171.4 497.5,170.4 489.5,161.4 489.5,160.4 486.5,157.4 486.5,156.4 482.5,152.4 482.5,151.4 479.5,148.4 479.5,147.4 477.5,145.4 477.5,144.3 475.5,142.3 475.5,141.3 474.5,140.3 473,136.3 472.4,133.3Z"/>
<path fill="#fb3500" fill-rule="evenodd" d="M479.4,140.3 481.5,140.7 485.5,143.6 492.5,150.8 501.5,163.2 521.1,192.5 536.4,211.5 546.4,221.5 568.6,240.3 568.6,248.6 559.6,248.6 558.6,247.6 558.6,246.6 553.6,241.6 553.6,240.6 549.6,236.6 549.6,235.6 545.6,231.6 545.6,230.6 541.6,226.5 541.6,225.5 536.6,220.5 536.6,219.5 528.6,210.5 528.6,209.5 524.6,205.5 524.6,204.5 519.5,199.5 519.5,198.5 515.5,194.5 515.5,193.5 507.5,184.4 507.5,183.4 504.5,180.4 504.5,179.4 500.5,175.4 500.5,174.4 497.5,171.4 497.5,170.4 489.5,161.4 489.5,160.4 487.5,158.4 481.8,148.4 479.5,142.3 479.4,140.3Z"/>
<path fill="#d80020" fill-rule="evenodd" d="M488.4,151.4 490.5,153.3 493.5,157.3 514.9,188.5 533.6,212.4 540.5,219.5 568.6,243.3 568.6,248.6 559.6,248.6 558.6,247.6 558.6,246.6 553.6,241.6 553.6,240.6 549.6,236.6 549.6,235.6 545.6,231.6 545.6,230.6 541.6,226.5 541.6,225.5 536.6,220.5 536.6,219.5 532.6,215.5 532.6,214.5 528.6,210.5 528.6,209.5 524.6,205.5 524.6,204.5 519.5,199.5 519.5,198.5 515.5,194.5 515.5,193.5 511.5,189.5 511.5,188.5 507.5,184.4 507.5,183.4 504.5,180.4 504.5,179.4 501.9,176.4 490.5,156.7 488.5,152.9 488.4,151.4Z"/>
</g>
<g clip-path="url(#w00)">
<path fill="none" stroke="#000" stroke-width="0.6" d="M124.8,0 132.4,2 141.1,2.5 148.1,2 153.6,0M256.8,0 261.1,3 268.4,6 273,7 281.3,7.6 291.9,7 304,5 310.2,3 315.7,0M393.3,0 398.4,1.5 411.4,6.5 419.4,8.8 438.5,12.7 468.5,17 479.1,19 525.6,32.6 568.6,42.6"/>
<path fill="none" stroke="#000" stroke-width="0.6" d="M232.9,0 236.5,3 245.3,8.7 257.3,14.8 269.3,18.8 275.3,19.8 282.3,20.2 290.3,19.7 302.3,17.4 312.3,15.1 324.3,11.3 333.4,6.6 338.2,3 340.9,0M382.5,0 394.6,5 400.5,11 402.4,12.3 435.5,23.9 436.6,25.1 438.5,29.1 440.5,30.8 448.3,35.1 475.5,51.5 486.5,57.1 495.5,60.9 511.5,66.1 526.6,69.5 539.6,71.6 568.6,74.8M0,4.9 19,3.6 40,3.9 98.1,7.6 106.1,8.6 119.1,11.6 131.1,16.4 136.7,20 141.1,25.3 143.2,27.1 147.1,29.1 154.2,30.7 162.2,31.1 167.2,30.2 170.2,28.1 171.2,26.1 172.9,19 176.5,13 182.2,7 191.2,0"/>
<path fill="none" stroke="#000" stroke-width="0.6" d="M435,80.7 442.5,85.1 451.5,91.5 459.5,95.8 465.5,98.3 480.5,102.9 509.5,108.9 520.5,112.7 529.6,116.8 539.4,122.3 545.6,126.7 560.8,141.3 568.6,148"/>
<path fill="none" stroke="#000" stroke-width="0.6" d="M459.5,116.8 472.5,119.8 491.5,125.8 500.5,130.2 507.4,135.3 512.4,140.3 516.4,145.4 534.6,173.6 548.6,192.7 557.7,202.5 568.6,211"/>
<text transform="translate(69.7,11.7) rotate(5) scale(1.15,1)" text-anchor="middle" fill="#000" font-size="14" font-weight="bold" font-style="italic">32</text>
<text transform="translate(146.2,8.6) rotate(5) scale(1.15,1)" text-anchor="middle" fill="#000" font-size="14" font-weight="bold" font-style="italic">31</text>
<text transform="translate(281.2,30.1) rotate(15) scale(1.15,1)" text-anchor="middle" fill="#000" font-size="14" font-weight="bold" font-style="italic">32</text>
<text transform="translate(401.7,21) rotate(25) scale(1.15,1)" text-anchor="middle" fill="#000" font-size="14" font-weight="bold" font-style="italic">32</text>
<text transform="translate(308.1,7.3) rotate(10) scale(1.15,1)" text-anchor="middle" fill="#000" font-size="14" font-weight="bold" font-style="italic">31</text>
<text transform="translate(492.1,26.4) rotate(15) scale(1.15,1)" text-anchor="middle" fill="#000" font-size="14" font-weight="bold" font-style="italic">31</text>
<text transform="translate(532.9,13.6) rotate(10) scale(1.15,1)" text-anchor="middle" fill="#000" font-size="14" font-weight="bold" font-style="italic">29</text>
<text transform="translate(481.5,128.2) rotate(20) scale(1.15,1)" text-anchor="middle" fill="#000" font-size="14" font-weight="bold" font-style="italic">34</text>
<text transform="translate(549.1,136.7) rotate(35) scale(1.15,1)" text-anchor="middle" fill="#000" font-size="14" font-weight="bold" font-style="italic">33</text>
<path fill="none" stroke="#fff" stroke-width="1.1" d="M1.1,12.5 1.9,9.2 2.5,8 3.3,7 5.8,5.2 7.7,4.6 12.8,3.6 24.7,3.1 42.3,3.1 54.5,3.4 85,5 95.7,6 104.3,7.1 110.9,8.3 118.5,10.5"/>
<path fill="none" stroke="#fff" stroke-width="1.1" d="M132.4,24.7 135.9,27.7 137.6,28.8 141.7,30.6 146.7,31.9 154.9,32.9 160.3,33 165.3,32.5 169.6,31.3 173,29.5 174.4,28.2 175.4,26.8 176.1,25.2 177,21.6 178.3,18.2 180.2,14.9 181.4,13.3 184.4,10 187.7,7.1 196.6,0.1"/>
<path fill="none" stroke="#fff" stroke-width="1.1" d="M27.4,32 35.8,29.8 39.6,28 41.2,27 43.9,24.8 45.7,22.4 48,20.4 53.4,17.7"/>
<path fill="none" stroke="#fff" stroke-width="1.1" d="M86,23 83,25.8 78.9,28.5 78.5,29.2 78.5,30 78.9,30.8 79.7,31.6 82.5,33.2 89.6,35.6 110.4,40.1"/>
<path fill="none" stroke="#fff" stroke-width="1.1" d="M110.4,2.4 131.8,3.2 159.2,3.7"/>
<path fill="none" stroke="#fff" stroke-width="1.1" d="M227.6,38.8 236.5,40.5"/>
<path fill="none" stroke="#fff" stroke-width="1.1" d="M230.8,1.1 236.5,4.3 262.9,17.6 269.6,20.7 277.2,23.9"/>
<path fill="none" stroke="#fff" stroke-width="1.1" d="M310.5,18.2 336.8,12.2 343.5,10.2 351.6,7 354.3,5.3 354.7,4.7 354.7,4 354.3,3.4 352.2,2.1 349.5,1.1 343.9,0.1"/>
<path fill="none" stroke="#fff" stroke-width="1.1" d="M252,0.1 258.6,4 261.4,5.3 267.4,7.4 274,8.6 281,9.1 284.7,9 291.1,8.7 300,7.6"/>
<path fill="none" stroke="#fff" stroke-width="1.1" d="M332.5,30.7 333.5,27.9 335.2,26.1 338.2,24.6 340.2,24 345.5,22.9 352.3,22.2 371.6,21.4"/>
<path fill="none" stroke="#fff" stroke-width="1.1" d="M405.7,24.2 413.9,26 417.9,27.2 418.6,27.6 418.5,27.9 419.8,28.9 422.4,30.6 431.7,36.3 436.7,39.7 441.5,43.5 446,47.5 458.4,59.4 465.9,66.1 473.4,71.6 480.8,76.1 484.8,78.2 493.6,82.1 503,85.6 511.9,88 520.4,89.6 533.2,92.6 537.3,93.8 545.1,96.6 552.5,100.1 556.3,102.2 560,104.6 569.3,111.2"/>
<path fill="none" stroke="#fff" stroke-width="1.1" d="M373.2,4.3 382.1,7.1 389,8.5 421.2,12.7 457.8,18.2 467.5,19.9"/>
<path fill="none" stroke="#fff" stroke-width="1.1" d="M499.3,27.5 516.2,33.4 532.3,38.4 544.8,41.7 569.8,47.1"/>
<path fill="none" stroke="#fff" stroke-width="1.1" d="M406.5,2.9 421.2,5.5 454,9.7 465.2,10.8 482,11.9 487.6,12.5 515.6,17 551.9,22.5"/>
<path fill="none" stroke="#fff" stroke-width="1.1" d="M480.3,5.7 497.7,6.4 510.5,7.4"/>
<path fill="none" stroke="#fff" stroke-width="1.1" d="M544.1,7.9 569.8,9.8"/>
<path fill="none" stroke="#fff" stroke-width="1.1" d="M434.5,1.2 451.2,2.2"/>
<path fill="none" stroke="#fff" stroke-width="1.1" d="M473.6,2 510.5,1.8"/>
<path fill="none" stroke="#fff" stroke-width="1.1" d="M456.6,110.2 469.7,112.1 486.4,115.5"/>
<path fill="none" stroke="#fff" stroke-width="1.1" d="M514,125 526,135 530.2,139 533.9,143.2 537.1,147.3 550.4,168.6 553.3,172.9 560,181.4 569.3,192"/>
<text transform="translate(71.3,22.3) rotate(0) scale(1.15,1)" text-anchor="middle" fill="#fff" font-size="14" font-weight="bold" font-style="italic">26</text>
<text transform="translate(127.5,19.1) rotate(35) scale(1.15,1)" text-anchor="middle" fill="#fff" font-size="14" font-weight="bold" font-style="italic">25</text>
<text transform="translate(173.9,6.4) rotate(-15) scale(1.15,1)" text-anchor="middle" fill="#fff" font-size="14" font-weight="bold" font-style="italic">24</text>
<text transform="translate(217.8,42.2) rotate(5) scale(1.15,1)" text-anchor="middle" fill="#fff" font-size="14" font-weight="bold" font-style="italic">26</text>
<text transform="translate(313,8) rotate(-60) scale(1.15,1)" text-anchor="middle" fill="#fff" font-size="14" font-weight="bold" font-style="italic">24</text>
<text transform="translate(295.1,26.9) rotate(-5) scale(1.15,1)" text-anchor="middle" fill="#fff" font-size="14" font-weight="bold" font-style="italic">25</text>
<text transform="translate(389.4,27.5) rotate(5) scale(1.15,1)" text-anchor="middle" fill="#fff" font-size="14" font-weight="bold" font-style="italic">26</text>
<text transform="translate(462.4,5.7) rotate(5) scale(1.15,1)" text-anchor="middle" fill="#fff" font-size="14" font-weight="bold" font-style="italic">22</text>
<text transform="translate(525.1,12.4) rotate(5) scale(1.15,1)" text-anchor="middle" fill="#fff" font-size="14" font-weight="bold" font-style="italic">23</text>
<text transform="translate(479.2,24.7) rotate(15) scale(1.15,1)" text-anchor="middle" fill="#fff" font-size="14" font-weight="bold" font-style="italic">25</text>
<text transform="translate(564.2,30.3) rotate(-10) scale(1.15,1)" text-anchor="middle" fill="#fff" font-size="14" font-weight="bold" font-style="italic">24</text>
<text transform="translate(501.3,124.6) rotate(18) scale(1.15,1)" text-anchor="middle" fill="#fff" font-size="14" font-weight="bold" font-style="italic">27</text>
</g>
<path d="M503.5,175.2 L500,177 L534,221 L537.4,217.2 C538.5,205 537,196 533,188.5 C528,180.5 517,176 503.5,175.2 Z" fill="#fff"/>
<path d="M0,30 L3,30.3 L99.2,41.7 L162.9,35.6 L208,40.7 L274.3,42.2 L332,32.1 L372.5,38.2 L412.6,44.8 L479.8,145 L512,186.2 L562.5,248.6 L568.6,248.6 L568.6,248.6 L0,248.6 Z" fill="#363636"/>
<g fill="#3c3c3c"><circle cx="3.5" cy="1.2" r="2.3"/><circle cx="3.5" cy="8.6" r="2.3"/><circle cx="3.5" cy="12.4" r="2.3"/><circle cx="3.5" cy="21.1" r="2.3"/><circle cx="3.5" cy="26.9" r="2.3"/><circle cx="99.2" cy="1.5" r="2.3"/><circle cx="99.2" cy="9.1" r="2.3"/><circle cx="99.2" cy="17.4" r="2.3"/><circle cx="99.2" cy="25.4" r="2.3"/><circle cx="99.2" cy="39.3" r="2.3"/><circle cx="162.9" cy="1.5" r="2.3"/><circle cx="162.9" cy="9.1" r="2.3"/><circle cx="162.9" cy="17.1" r="2.3"/><circle cx="162.9" cy="24.9" r="2.3"/><circle cx="162.9" cy="32.1" r="2.3"/><circle cx="208" cy="1.5" r="2.3"/><circle cx="208" cy="9.1" r="2.3"/><circle cx="208" cy="17.1" r="2.3"/><circle cx="208" cy="24.9" r="2.3"/><circle cx="208" cy="38.6" r="2.3"/><circle cx="274.3" cy="1.8" r="2.3"/><circle cx="274.3" cy="9.9" r="2.3"/><circle cx="274.3" cy="18.2" r="2.3"/><circle cx="274.3" cy="25.7" r="2.3"/><circle cx="274.3" cy="31.5" r="2.3"/><circle cx="274.3" cy="38.1" r="2.3"/><circle cx="332" cy="1.8" r="2.3"/><circle cx="332" cy="9.1" r="2.3"/><circle cx="332" cy="15.7" r="2.3"/><circle cx="332" cy="19.9" r="2.3"/><circle cx="332" cy="24" r="2.3"/><circle cx="332" cy="28.2" r="2.3"/><circle cx="372.5" cy="1.8" r="2.3"/><circle cx="372.5" cy="9.1" r="2.3"/><circle cx="372.5" cy="17.4" r="2.3"/><circle cx="372.5" cy="24.9" r="2.3"/><circle cx="372.5" cy="35.6" r="2.3"/><circle cx="413.3" cy="1.5" r="2.3"/><circle cx="413.3" cy="10.8" r="2.3"/><circle cx="413.3" cy="18.2" r="2.3"/><circle cx="413.3" cy="29" r="2.3"/><circle cx="413.3" cy="33.1" r="2.3"/><circle cx="413.3" cy="42.7" r="2.3"/><circle cx="480" cy="1.5" r="2.3"/><circle cx="480" cy="12" r="2.3"/><circle cx="480" cy="22.1" r="2.3"/><circle cx="480" cy="42.3" r="2.3"/><circle cx="480" cy="58" r="2.3"/><circle cx="480" cy="82.9" r="2.3"/><circle cx="480" cy="100.3" r="2.3"/><circle cx="480" cy="116.8" r="2.3"/><circle cx="480" cy="132.6" r="2.3"/><circle cx="480" cy="141.7" r="2.3"/><circle cx="563.5" cy="1.5" r="2.3"/><circle cx="563.5" cy="20.7" r="2.3"/><circle cx="563.5" cy="37.3" r="2.3"/><circle cx="563.5" cy="46.4" r="2.3"/><circle cx="563.5" cy="62.1" r="2.3"/><circle cx="563.5" cy="82.9" r="2.3"/><circle cx="563.5" cy="116" r="2.3"/><circle cx="563.5" cy="157.4" r="2.3"/><circle cx="563.5" cy="232" r="2.3"/></g>
<text x="-0.7" y="-4" font-size="17" font-style="italic" text-anchor="middle">1</text>
<text x="97" y="-4" font-size="17" font-style="italic" text-anchor="middle">2</text>
<text x="160.7" y="-4" font-size="17" font-style="italic" text-anchor="middle">3</text>
<text x="205.8" y="-4" font-size="17" font-style="italic" text-anchor="middle">4</text>
<text x="272.1" y="-4" font-size="17" font-style="italic" text-anchor="middle">10</text>
<text x="329.8" y="-4" font-size="17" font-style="italic" text-anchor="middle">11</text>
<text x="370.3" y="-4" font-size="17" font-style="italic" text-anchor="middle">12</text>
<text x="411.1" y="-4" font-size="17" font-style="italic" text-anchor="middle">13</text>
<text x="477.8" y="-4" font-size="17" font-style="italic" text-anchor="middle">14</text>
<text x="558.3" y="-4" font-size="17" font-style="italic" text-anchor="middle">15</text>
<path d="M0,0 H568.6 V248.6 H0 Z" fill="none" stroke="#000" stroke-width="1.1"/>
<path d="M0,0 h-6.5" stroke="#000" stroke-width="1.1"/>
<text x="-12.5" y="5.8" text-anchor="end" font-size="16.2" letter-spacing="0.4" font-weight="bold" font-style="italic" stroke="#000" stroke-width="0.3">0</text>
<path d="M0,41.4 h-6.5" stroke="#000" stroke-width="1.1"/>
<text x="-12.5" y="47.2" text-anchor="end" font-size="16.2" letter-spacing="0.4" font-weight="bold" font-style="italic" stroke="#000" stroke-width="0.3">50</text>
<path d="M0,82.9 h-6.5" stroke="#000" stroke-width="1.1"/>
<text x="-12.5" y="88.7" text-anchor="end" font-size="16.2" letter-spacing="0.4" font-weight="bold" font-style="italic" stroke="#000" stroke-width="0.3">100</text>
<path d="M0,124.3 h-6.5" stroke="#000" stroke-width="1.1"/>
<text x="-12.5" y="130.1" text-anchor="end" font-size="16.2" letter-spacing="0.4" font-weight="bold" font-style="italic" stroke="#000" stroke-width="0.3">150</text>
<path d="M0,165.7 h-6.5" stroke="#000" stroke-width="1.1"/>
<text x="-12.5" y="171.5" text-anchor="end" font-size="16.2" letter-spacing="0.4" font-weight="bold" font-style="italic" stroke="#000" stroke-width="0.3">200</text>
<path d="M0,207.2 h-6.5" stroke="#000" stroke-width="1.1"/>
<text x="-12.5" y="213" text-anchor="end" font-size="16.2" letter-spacing="0.4" font-weight="bold" font-style="italic" stroke="#000" stroke-width="0.3">250</text>
<path d="M0,248.6 h-6.5" stroke="#000" stroke-width="1.1"/>
<text x="-12.5" y="254.4" text-anchor="end" font-size="16.2" letter-spacing="0.4" font-weight="bold" font-style="italic" stroke="#000" stroke-width="0.3">300</text>
<path d="M0,248.6 v6.5" stroke="#000" stroke-width="1.1"/>
<text x="0" y="275" text-anchor="middle" font-size="16.2" letter-spacing="0.4" font-weight="bold" font-style="italic" stroke="#000" stroke-width="0.3">0</text>
<path d="M97.8,248.6 v4" stroke="#000" stroke-width="0.7"/>
<path d="M195.6,248.6 v6.5" stroke="#000" stroke-width="1.1"/>
<text x="195.6" y="275" text-anchor="middle" font-size="16.2" letter-spacing="0.4" font-weight="bold" font-style="italic" stroke="#000" stroke-width="0.3">500</text>
<path d="M293.3,248.6 v4" stroke="#000" stroke-width="0.7"/>
<path d="M391.1,248.6 v6.5" stroke="#000" stroke-width="1.1"/>
<text x="391.1" y="275" text-anchor="middle" font-size="16.2" letter-spacing="0.4" font-weight="bold" font-style="italic" stroke="#000" stroke-width="0.3">1000</text>
<path d="M488.9,248.6 v4" stroke="#000" stroke-width="0.7"/>
<text transform="translate(-60.5,126.6) rotate(-90)" text-anchor="middle" font-size="21" font-weight="bold" font-style="italic" stroke="#000" stroke-width="0.4">Depth [m]</text>
<rect x="0.8" y="215.6" width="137.5" height="32" fill="#000"/>
<text x="5.5" y="238.7" fill="#fff" font-size="21.3" font-weight="bold" font-style="italic" textLength="129.8" lengthAdjust="spacingAndGlyphs">Salinity [psu]</text>
<text x="-93.8" y="6.1" font-size="30" font-weight="bold">A</text>
<rect x="587.2" y="0" width="24.2" height="248.6" fill="url(#cbg)"/>
<path d="M587.2,0.3 L592.2,0.3 C595.7,0 596.2,-3.4 599.3,-3.4 C602.4,-3.4 602.9,0 606.4,0.3 L611.4,0.3 Z" fill="#ffb88e"/>
<path d="M592.2,248.3 L599.3,252.6 L606.4,248.3 Z" fill="#e884de"/>
<path d="M587.2,0 L587.2,248.6 M611.4,0 L611.4,248.6" stroke="#000" stroke-width="1" fill="none"/>
<path d="M587.2,0 L592.2,0 C595.7,-0.3 596.2,-3.6 599.3,-3.6 C602.4,-3.6 602.9,-0.3 606.4,0 L611.4,0" stroke="#000" stroke-width="0.8" fill="none"/>
<path d="M587.2,248.6 L592.7,248.6 M605.9,248.6 L611.4,248.6" stroke="#000" stroke-width="0.8" fill="none"/>
<path d="M587.2,248.6 h5.5 M611.4,248.6 h-5.5" stroke="#000" stroke-width="1.1" fill="none"/>
<text transform="translate(617.9,252.9) scale(1.2,1)" font-size="12.2" font-weight="bold" font-style="italic" stroke="#000" stroke-width="0.25">28</text>
<path d="M587.2,186.4 h5.5 M611.4,186.4 h-5.5" stroke="#000" stroke-width="1.1" fill="none"/>
<text transform="translate(617.9,190.8) scale(1.2,1)" font-size="12.2" font-weight="bold" font-style="italic" stroke="#000" stroke-width="0.25">30</text>
<path d="M587.2,124.3 h5.5 M611.4,124.3 h-5.5" stroke="#000" stroke-width="1.1" fill="none"/>
<text transform="translate(617.9,128.6) scale(1.2,1)" font-size="12.2" font-weight="bold" font-style="italic" stroke="#000" stroke-width="0.25">32</text>
<path d="M587.2,62.1 h5.5 M611.4,62.1 h-5.5" stroke="#000" stroke-width="1.1" fill="none"/>
<text transform="translate(617.9,66.5) scale(1.2,1)" font-size="12.2" font-weight="bold" font-style="italic" stroke="#000" stroke-width="0.25">34</text>
<path d="M587.2,0 h5.5 M611.4,0 h-5.5" stroke="#000" stroke-width="1.1" fill="none"/>
<text transform="translate(617.9,4.3) scale(1.2,1)" font-size="12.2" font-weight="bold" font-style="italic" stroke="#000" stroke-width="0.25">36</text>
<text transform="translate(583.6,246.6) rotate(-90)" font-size="10" font-weight="bold" font-style="italic" stroke="#000" stroke-width="0.2">Ocean Data View / DIVA</text>
<rect x="-3.6" y="-63.2" width="444.6" height="39.4" fill="#fff" stroke="#333" stroke-width="1.5"/>
<rect x="448" y="-63.2" width="119.8" height="39.4" fill="#fff" stroke="#333" stroke-width="1.5"/>
<text x="218.9" y="-36.8" text-anchor="middle" font-size="19.3">CS</text>
<text x="508" y="-36.8" text-anchor="middle" font-size="19.3">CBL</text>
</g>
<g transform="translate(839.7,63.8)">
<clipPath id="w10"><path d="M0,0 L568.6,0 L568.6,248.6 L568.6,249.2 L562.5,249.2 L512,186.8 L479.8,145.6 L412.6,45.4 L372.5,38.8 L332,32.7 L274.3,42.8 L208,41.3 L162.9,36.2 L99.2,42.3 L3,30.9 L0,30.6 Z"/></clipPath>
<g clip-path="url(#w10)">
<rect x="0" y="0" width="568.6" height="248.6" fill="#e884de"/>
<path fill="#e25cd9" fill-rule="evenodd" d="M0,0 568.6,0 568.6,248.6 559.6,248.6 558.6,247.6 558.6,246.6 553.6,241.6 553.6,240.6 549.6,236.6 549.6,235.6 545.6,231.6 545.6,230.6 541.6,226.5 541.6,225.5 536.5,220.5 536.5,219.5 532.5,215.5 532.5,214.5 528.5,210.5 528.5,209.5 524.5,205.5 524.5,204.5 519.5,199.5 519.5,198.5 515.5,194.5 515.5,193.5 507.5,184.4 507.5,183.4 504.5,180.4 504.5,179.4 500.5,175.4 500.5,174.4 497.5,171.4 497.5,170.4 489.5,161.4 489.5,160.4 486.5,157.4 486.5,156.4 482.5,152.4 482.5,151.4 479.5,148.4 479.5,147.4 477.5,145.4 477.5,144.3 475.5,142.3 475.5,141.3 473.5,139.3 473.5,138.3 471.5,136.3 471.5,135.3 469.5,133.3 469.5,132.3 467.5,130.3 467.5,129.3 465.5,127.3 465.5,126.3 463.5,124.3 463.5,123.3 461.5,121.3 461.5,120.3 459.5,118.3 459.5,117.3 457.5,115.3 457.5,114.3 455.5,112.3 455.5,111.3 453.5,109.3 453.5,108.3 450.5,105.3 450.5,104.3 448.5,102.2 448.5,101.2 446.5,99.2 446.5,98.2 444.5,96.2 444.5,95.2 442.5,93.2 442.5,92.2 440.5,90.2 440.5,89.2 438.4,87.2 438.4,86.2 436.4,84.2 436.4,83.2 434.4,81.2 434.4,80.2 432.4,78.2 432.4,77.2 430.4,75.2 430.4,74.2 428.4,72.2 428.4,71.2 426.4,69.2 426.4,68.2 424.4,66.2 424.4,65.2 422.4,63.2 422.4,62.1 420.4,60.1 420.4,59.1 418.4,57.1 418.4,56.1 416.4,54.1 416.4,53.1 412.4,48.1 409.4,48.1 408.4,47.1 402.4,47.1 401.4,46.1 396.4,46.1 395.4,45.1 390.4,45.1 389.4,44.1 384.4,44.1 383.4,43.1 378.4,43.1 377.4,42.1 372.4,42.1 371.4,41.1 365.4,41.1 364.4,40.1 359.4,40.1 358.4,39.1 352.4,39.1 351.4,38.1 345.4,38.1 344.4,37.1 339.4,37.1 338.4,36.1 327.3,36.1 326.3,37.1 321.3,37.1 320.3,38.1 315.3,38.1 314.3,39.1 309.3,39.1 308.3,40.1 304.3,40.1 303.3,41.1 298.3,41.1 297.3,42.1 292.3,42.1 291.3,43.2 286.3,43.2 285.3,44.2 281.3,44.2 280.3,45.2 275.3,45.2 274.3,46.2 271.3,46.2 270.3,45.2 226.2,45.2 225.2,44.2 203.2,44.2 202.2,43.2 194.2,43.2 193.2,42.2 185.2,42.2 184.2,41.2 176.2,41.2 175.2,40.2 168.2,40.2 167.2,39.2 158.2,39.2 157.2,40.2 148.2,40.2 147.2,41.2 137.1,41.2 136.1,42.2 127.1,42.2 126.1,43.2 116.1,43.2 115.1,44.2 106.1,44.2 105.1,45.2 95.1,45.2 94.1,44.1 86.1,44.1 85.1,43.1 78.1,43.1 77.1,42.1 69.1,42.1 68.1,41.1 61.1,41.1 60.1,40.1 52.1,40.1 51.1,39.1 44,39.1 43,38.1 35,38.1 34,37.1 27,37.1 26,36.1 19,36.1 18,35.1 10,35.1 9,34.1 1,34.1 0,33.1 0,0Z"/>
<path fill="#9a80f2" fill-rule="evenodd" d="M0,0 568.6,0 568.6,134.4 566.7,136.3 565.7,138.3 564.5,146.4 565.4,150.4 565,153.4 565.6,156.5 566.6,159.5 568.6,162.5 568.6,248.6 559.6,248.6 558.6,247.6 558.6,246.6 553.6,241.6 553.6,240.6 549.6,236.6 549.6,235.6 545.6,231.6 545.6,230.6 541.6,226.5 541.6,225.5 536.6,220.5 536.6,219.5 532.5,215.5 532.5,214.5 528.5,210.5 528.5,209.5 524.5,205.5 524.5,204.5 519.5,199.5 519.5,198.5 515.5,194.5 515.5,193.5 507.5,184.4 507.5,183.4 504.5,180.4 504.5,179.4 500.5,175.4 500.5,174.4 497.5,171.4 497.5,170.4 489.5,161.4 489.5,160.4 486.5,157.4 486.5,156.4 482.5,152.4 482.5,151.4 479.5,148.4 479.5,147.4 477.5,145.4 477.5,144.3 475.5,142.3 475.5,141.3 473.5,139.3 473.5,138.3 471.5,136.3 471.5,135.3 469.5,133.3 469.5,132.3 467.5,130.3 467.5,129.3 465.5,127.3 465.5,126.3 463.5,124.3 463.5,123.3 461.5,121.3 461.5,120.3 459.5,118.3 459.5,117.3 457.5,115.3 457.5,114.3 455.5,112.3 455.5,111.3 453.5,109.3 453.5,108.3 450.5,105.3 450.5,104.3 448.5,102.2 448.5,101.2 446.5,99.2 446.5,98.2 444.5,96.2 444.5,95.2 442.5,93.2 442.5,92.2 440.5,90.2 440.5,89.2 438.5,87.2 438.5,86.2 436.4,84.2 436.4,83.2 434.4,81.2 434.4,80.2 432.4,78.2 432.4,77.2 430.4,75.2 430.4,74.2 428.4,72.2 428.4,71.2 426.4,69.2 426.4,68.2 424.4,66.2 424.4,65.2 422.4,63.2 422.4,62.1 420.4,60.1 420.4,59.1 418.4,57.1 418.4,56.1 416.4,54.1 416.4,53.1 412.4,48.1 409.4,48.1 408.4,47.1 402.4,47.1 401.4,46.1 396.4,46.1 395.4,45.1 390.4,45.1 389.4,44.1 384.4,44.1 383.4,43.1 378.4,43.1 377.4,42.1 372.4,42.1 371.4,41.1 365.4,41.1 364.4,40.1 359.4,40.1 358.4,39.1 352.4,39.1 351.4,38.1 345.4,38.1 344.4,37.1 339.4,37.1 338.4,36.1 327.3,36.1 326.3,37.1 321.3,37.1 320.3,38.1 315.3,38.1 314.3,39.1 309.3,39.1 308.3,40.1 304.3,40.1 303.3,41.1 298.3,41.1 297.3,42.1 292.3,42.1 291.3,43.1 286.3,43.1 285.3,44.2 281.3,44.2 280.3,45.2 275.3,45.2 274.3,46.2 271.3,46.2 270.3,45.2 226.2,45.2 225.2,44.2 203.2,44.2 202.2,43.2 194.2,43.2 193.2,42.2 185.2,42.2 184.2,41.2 176.2,41.2 175.2,40.2 168.2,40.2 167.2,39.2 158.2,39.2 157.2,40.2 148.2,40.2 147.2,41.2 137.1,41.2 136.1,42.2 127.1,42.2 126.1,43.2 116.1,43.2 115.1,44.2 106.1,44.1 105.1,45.2 95.1,45.1 94.1,44.1 86.1,44.1 85.1,43.1 78.1,43.1 77.1,42.1 69.1,42.1 68.1,41.1 61.1,41.1 60.1,40.1 52.1,40.1 51.1,39.1 44,39.1 43,38.1 35,38.1 34,37.1 27,37.1 26,36.1 19,36.1 18,35.1 10,35.1 9,34.1 1,34.1 0,33.1 0,0ZM439.5,18.9 437.1,20 437.2,21.1 440.5,22.5 446.5,22.8 449.2,22.1 450,21.1 448.5,19.4 446.5,18.6 439.5,18.9ZM496.5,77.1 491.5,78.2 488.2,80.2 484.5,83.5 480.4,89.2 480.2,90.2 481.3,91.2 487.5,94.2 496.5,96.8 499.5,98.4 508.5,99.3 517.8,99.2 522.6,97.8 530.2,97.2 535.6,95.7 535.6,94.5 534.3,93.2 525.6,87.9 521.8,84.2 518,82.2 505.5,77.4 496.5,77.1Z"/>
<path fill="#4343f3" fill-rule="evenodd" d="M0,0 568.6,0 568.6,115.8 556.6,104.2 526.9,79.2 497.9,52.1 492.5,48.1 486.5,45.1 481,45.1 473.5,47.9 471.5,49.5 466.5,56.1 463.8,58.1 462.2,63.2 453.5,78.1 452.3,81.2 452,84.2 452.6,89.2 454.5,94.3 456.8,97.2 461.7,100.2 471.8,104.3 482.5,107.3 492.5,109.2 512.5,111.9 525.6,115 536.6,120.4 545.6,128.2 550.9,134.3 553.6,138.5 556.6,145.2 564.3,169.4 566.6,175.1 568.6,178.5 568.6,248.6 559.6,248.6 558.6,247.6 558.6,246.6 553.6,241.6 553.6,240.6 549.6,236.6 549.6,235.6 545.6,231.6 545.6,230.6 541.6,226.5 541.6,225.5 536.6,220.5 536.6,219.5 532.6,215.5 532.6,214.5 528.5,210.5 528.5,209.5 524.5,205.5 524.5,204.5 519.5,199.5 519.5,198.5 515.5,194.5 515.5,193.5 507.5,184.4 507.5,183.4 504.5,180.4 504.5,179.4 500.5,175.4 500.5,174.4 497.5,171.4 497.5,170.4 489.5,161.4 489.5,160.4 486.5,157.4 486.5,156.4 482.5,152.4 482.5,151.4 479.5,148.4 479.5,147.4 477.5,145.4 477.5,144.3 475.5,142.3 475.5,141.3 473.5,139.3 473.5,138.3 471.5,136.3 471.5,135.3 469.5,133.3 469.5,132.3 467.5,130.3 467.5,129.3 465.5,127.3 465.5,126.3 463.5,124.3 463.5,123.3 461.5,121.3 461.5,120.3 459.5,118.3 459.5,117.3 457.5,115.3 457.5,114.3 455.5,112.3 455.5,111.3 453.5,109.3 453.5,108.3 450.5,105.3 450.5,104.3 448.5,102.2 448.5,101.2 446.5,99.2 446.5,98.2 444.5,96.2 444.5,95.2 442.5,93.2 442.5,92.2 440.5,90.2 440.5,89.2 438.5,87.2 438.5,86.2 436.5,84.2 436.5,83.2 434.4,81.2 434.4,80.2 432.4,78.2 432.4,77.2 430.4,75.2 430.4,74.2 428.4,72.2 428.4,71.2 426.4,69.2 426.4,68.2 424.4,66.2 424.4,65.2 422.4,63.2 422.4,62.1 420.4,60.1 420.4,59.1 418.4,57.1 418.4,56.1 416.4,54.1 416.4,53.1 412.4,48.1 409.4,48.1 408.4,47.1 402.4,47.1 401.4,46.1 396.4,46.1 395.4,45.1 390.4,45.1 389.4,44.1 384.4,44.1 383.4,43.1 378.4,43.1 377.4,42.1 372.4,42.1 371.4,41.1 365.4,41.1 364.4,40.1 359.4,40.1 358.4,39.1 352.4,39.1 351.4,38.1 345.4,38.1 344.4,37.1 339.4,37.1 338.4,36.1 327.3,36.1 326.3,37.1 321.3,37.1 320.3,38.1 315.3,38.1 314.3,39.1 309.3,39.1 308.3,40.1 304.3,40.1 303.3,41.1 298.3,41.1 297.3,42.1 292.3,42.1 291.3,43.1 286.3,43.1 285.3,44.1 281.3,44.1 280.3,45.2 275.3,45.2 274.3,46.2 271.3,46.2 270.3,45.2 226.2,45.2 225.2,44.2 203.2,44.2 202.2,43.2 194.2,43.2 193.2,42.2 185.2,42.2 184.2,41.2 176.2,41.2 175.2,40.2 168.2,40.2 167.2,39.1 158.2,39.1 157.2,40.1 148.2,40.1 147.2,41.1 137.1,41.1 136.1,42.1 127.1,42.1 126.1,43.1 116.1,43.1 115.1,44.1 106.1,44.1 105.1,45.1 95.1,45.1 94.1,44.1 86.1,44.1 85.1,43.1 78.1,43.1 77.1,42.1 69.1,42.1 68.1,41.1 61.1,41.1 60.1,40.1 52.1,40.1 51.1,39.1 44,39.1 43,38.1 35,38.1 34,37.1 27,37.1 26,36.1 19,36.1 18,35.1 10,35.1 9,34.1 1,34.1 0,33.1 0,0ZM435.5,17 430.5,18 427.2,20 426,22.1 426,23.1 428.5,26.1 430.5,26 434.5,23.6 441.5,24.7 447.5,25 449.4,26.1 451.5,28.8 452.5,29 458,28.1 459.8,27.1 461.2,25.1 461.2,23.1 460,21.1 457.4,19 454.6,18 445.5,16.4 435.5,17Z"/>
<path fill="#5959f0" fill-rule="evenodd" d="M0,0 568.6,0 568.6,77.6 549.8,72.2 542.8,69.2 535.5,65.2 526.1,58.1 513.5,46.5 502.5,37.4 492.5,30.1 484.5,25.4 481.5,24.3 478.5,24.3 474.7,30.1 473.3,30.1 473.5,27.8 475.5,22.1 475.3,20 473.4,18 468.5,16.3 453.5,13.4 442.5,12.6 428.5,14.3 420.4,17.3 418.1,19 416.1,22.1 416.5,24.1 418.2,26.1 427.6,31.1 428.2,32.1 430.5,52.7 431.5,55.1 434.4,58.1 436.6,62.1 436.4,64.2 434.9,68.2 435.5,71.2 453.1,107.3 452.5,107.3 450.5,105.3 450.5,104.3 448.5,102.2 448.5,101.2 446.5,99.2 446.5,98.2 444.5,96.2 444.5,95.2 442.5,93.2 442.5,92.2 440.5,90.2 440.5,89.2 438.5,87.2 438.5,86.2 436.5,84.2 436.5,83.2 434.5,81.2 434.5,80.2 432.5,78.2 432.5,77.2 430.5,75.2 430.5,74.2 428.5,72.2 428.5,71.2 426.4,69.2 426.4,68.2 424.4,66.2 424.4,65.2 420.4,60.1 420.4,59.1 418.4,57.1 418.4,56.1 416.4,54.1 416.4,53.1 414.4,51.1 414.4,50.1 412.4,48.1 409.4,48.1 408.4,47.1 402.4,47.1 401.4,46.1 396.4,46.1 395.4,45.1 390.4,45.1 389.4,44.1 384.4,44.1 383.4,43.1 378.4,43.1 377.4,42.1 372.4,42.1 371.4,41.1 365.4,41.1 364.4,40.1 359.4,40.1 358.4,39.1 352.4,39.1 351.4,38.1 345.4,38.1 344.4,37.1 339.4,37.1 338.4,36.1 327.3,36.1 326.3,37.1 321.3,37.1 320.3,38.1 315.3,38.1 314.3,39.1 309.3,39.1 308.3,40.1 304.3,40.1 303.3,41.1 298.3,41.1 297.3,42.1 292.3,42.1 291.3,43.1 286.3,43.1 285.3,44.1 281.3,44.1 280.3,45.1 275.3,45.1 274.3,46.1 271.3,46.1 270.3,45.1 226.2,45.1 225.2,44.1 203.2,44.1 202.2,43.1 194.2,43.1 193.2,42.1 185.2,42.1 184.2,41.1 176.2,41.1 175.2,40.1 168.2,40.1 167.2,39.1 158.2,39.1 157.2,40.1 148.2,40.1 147.2,41.1 137.1,41.1 136.1,42.1 127.1,42.1 126.1,43.1 116.1,43.1 115.1,44.1 106.1,44.1 105.1,45.1 95.1,45.1 94.1,44.1 86.1,44.1 85.1,43.1 78.1,43.1 77.1,42.1 69.1,42.1 68.1,41.1 61.1,41.1 60.1,40.1 52.1,40.1 51.1,39.1 44,39.1 43,38.1 35,38.1 34,37.1 27,37.1 26,36.1 19,36.1 18,35.1 10,35.1 9,34.1 1,34.1 0,33.1 0,0ZM453.5,108.3 453.5,107.7 456.5,110.7 463.5,114.7 498,129.3 503.7,132.3 513.6,139.3 522.6,148.6 530.6,159.6 543,180.4 553.1,195.5 560.6,204.6 568.6,211.8 568.6,248.6 559.6,248.6 558.6,247.6 558.6,246.6 553.6,241.6 553.6,240.6 549.6,236.6 549.6,235.6 545.6,231.6 545.6,230.6 541.6,226.5 541.6,225.5 536.6,220.5 536.6,219.5 532.6,215.5 532.6,214.5 528.6,210.5 528.6,209.5 524.5,205.5 524.5,204.5 519.5,199.5 519.5,198.5 515.5,194.5 515.5,193.5 507.5,184.4 507.5,183.4 504.5,180.4 504.5,179.4 500.5,175.4 500.5,174.4 497.5,171.4 497.5,170.4 493.5,166.4 493.5,165.4 489.5,161.4 489.5,160.4 486.5,157.4 486.5,156.4 482.5,152.4 482.5,151.4 479.5,148.4 479.5,147.4 477.5,145.4 477.5,144.3 475.5,142.3 475.5,141.3 473.5,139.3 473.5,138.3 471.5,136.3 471.5,135.3 469.5,133.3 469.5,132.3 467.5,130.3 467.5,129.3 465.5,127.3 465.5,126.3 463.5,124.3 463.5,123.3 461.5,121.3 461.5,120.3 459.5,118.3 459.5,117.3 457.5,115.3 457.5,114.3 455.5,112.3 455.5,111.3 453.5,109.3 453.5,108.3Z"/>
<path fill="#2a86e6" fill-rule="evenodd" d="M0,0 568.6,0 568.6,43.9 543.6,27.1 532.7,21.1 522.1,16 508.5,11 497.4,8 488.4,6 475.5,4.5 465.3,5 443,8 424,12 402.4,17.5 395.4,18.6 383.4,20.2 359.6,22.1 338.8,25.1 329.7,28.1 321.9,32.1 320.3,33.5 320.1,35.1 322.3,37.1 321.3,37.1 320.3,38.1 315.3,38.1 314.3,39.1 309.3,39.1 308.3,40.1 304.3,40.1 303.3,41.1 298.3,41.1 297.3,42.1 292.3,42.1 291.3,43.1 286.3,43.1 285.3,44.1 281.3,44.1 280.3,45.1 275.3,45.1 274.3,46.1 271.3,46.1 270.3,45.1 226.2,45.1 225.2,44.1 203.2,44.1 202.2,43.1 194.2,43.1 193.2,42.1 185.2,42.1 184.2,41.1 176.2,41.1 175.2,40.1 168.2,40.1 167.2,39.1 158.2,39.1 157.2,40.1 148.2,40.1 147.2,41.1 137.1,41.1 136.1,42.1 127.1,42.1 126.1,43.1 116.1,43.1 115.1,44.1 106.1,44.1 105.1,45.1 95.1,45.1 94.1,44.1 86.1,44.1 85.1,43.1 78.1,43.1 77.1,42.1 69.1,42.1 68.1,41.1 61.1,41.1 60.1,40.1 52.1,40.1 51.1,39.1 44,39.1 43,38.1 35,38.1 34,37.1 27,37.1 26,36.1 19,36.1 18,35.1 10,35.1 9,34.1 1,34.1 0,33.1 0,0Z"/>
<path fill="#3696f0" fill-rule="evenodd" d="M0,0 568.6,0 568.6,34.9 545.6,21.9 535,17 520.5,11.4 509,8 498.5,5.8 485.3,4 474.5,3.3 462.5,3.9 446.4,6 405.4,14.6 394.4,16.4 357.2,20 335.5,23.1 324.6,26.1 318.3,29.2 315.3,32.1 313.5,35.1 313.5,36.1 315.8,38.1 314.3,39.1 309.3,39.1 308.3,40.1 304.3,40.1 303.3,41.1 298.3,41.1 297.3,42.1 292.3,42.1 291.3,43.1 286.3,43.1 285.3,44.1 281.3,44.1 280.3,45.1 275.3,45.1 274.3,46.1 271.3,46.1 270.3,45.1 226.2,45.1 225.2,44.1 203.2,44.1 202.2,43.1 194.2,43.1 193.2,42.1 185.2,42.1 184.2,41.1 176.2,41.1 175.2,40.1 168.2,40.1 167.2,39.1 158.2,39.1 157.2,40.1 148.2,40.1 147.2,41.1 137.1,41.1 136.1,42.1 127.1,42.1 126.1,43.1 116.1,43.1 115.1,44.1 106.1,44.1 105.1,45.1 95.1,45.1 94.1,44.1 86.1,44.1 85.1,43.1 78.1,43.1 77.1,42.1 69.1,42.1 68.1,41.1 61.1,41.1 60.1,40.1 52.1,40.1 51.1,39.1 44,39.1 43,38.1 35,38.1 34,37.1 27,37.1 26,36.1 19,36.1 18,35.1 10,35.1 9,34.1 1,34.1 0,33.1 0,0Z"/>
<path fill="#44a8f6" fill-rule="evenodd" d="M0,0 568.6,0 568.6,28.5 545.6,18 529.7,12 519.5,8.8 507.5,6.1 493.5,4.1 477.5,2.8 467.5,2.9 442,6 406.4,13.4 394.4,15.4 348.4,20 332.4,22.5 320.6,26.1 313.7,30.1 310.9,33.1 309.5,36.1 309.8,37.1 312.4,39.1 309.3,39.1 308.3,40.1 304.3,40.1 303.3,41.1 298.3,41.1 297.3,42.1 292.3,42.1 291.3,43.1 286.3,43.1 285.3,44.1 281.3,44.1 280.3,45.1 275.3,45.1 274.3,46.1 271.3,46.1 270.3,45.1 226.2,45.1 225.2,44.1 203.2,44.1 202.2,43.1 194.2,43.1 193.2,42.1 185.2,42.1 184.2,41.1 176.2,41.1 175.2,40.1 168.2,40.1 167.2,39.1 158.2,39.1 157.2,40.1 148.2,40.1 147.2,41.1 137.1,41.1 136.1,42.1 127.1,42.1 126.1,43.1 116.1,43.1 115.1,44.1 106.1,44.1 105.1,45.1 95.1,45.1 94.1,44.1 86.1,44.1 85.1,43.1 78.1,43.1 77.1,42.1 69.1,42.1 68.1,41.1 61.1,41.1 60.1,40.1 52.1,40.1 51.1,39.1 44,39.1 43,38.1 35,38.1 34,37.1 27,37.1 26,36.1 19,36.1 18,35.1 10,35.1 9,34.1 1,34.1 0,33.1 0,0Z"/>
<path fill="#00e6a0" fill-rule="evenodd" d="M0,0 568.6,0 568.6,22.2 537.6,11.5 515.5,5.7 495.5,3.3 476.5,2.2 467.5,2.3 443.9,5 394.4,14.5 348.6,19 329.2,22.1 316.5,26.1 310.1,30.1 307.3,33.1 305.7,36.1 306.1,38.1 308.3,40.1 304.3,40.1 303.3,41.1 298.3,41.1 297.3,42.1 292.3,42.1 291.3,43.1 286.3,43.1 285.3,44.1 281.3,44.1 280.3,45.1 275.3,45.1 274.3,46.1 271.3,46.1 270.3,45.1 226.2,45.1 225.2,44.1 203.2,44.1 202.2,43.1 194.2,43.1 193.2,42.1 185.2,42.1 184.2,41.1 176.2,41.1 175.2,40.1 168.2,40.1 167.2,39.1 158.2,39.1 157.2,40.1 148.2,40.1 147.2,41.1 137.1,41.1 136.1,42.1 127.1,42.1 126.1,43.1 116.1,43.1 115.1,44.1 106.1,44.1 105.1,45.1 95.1,45.1 94.1,44.1 86.1,44.1 85.1,43.1 78.1,43.1 77.1,42.1 69.1,42.1 68.1,41.1 61.1,41.1 60.1,40.1 52.1,40.1 51.1,39.1 44,39.1 43,38.1 35,38.1 34,37.1 27,37.1 26,36.1 19,36.1 18,35.1 10,35.1 9,34.1 1,34.1 0,33.1 0,0Z"/>
<path fill="#14c850" fill-rule="evenodd" d="M0,0 481,0 479.5,1.1 467.5,1 449,3 396.4,12.5 343.4,17.8 324.3,21 312.3,24.7 303.6,30.1 300,34.1 298.4,37.1 298.4,39.1 300.8,41.1 298.3,41.1 297.3,42.1 292.3,42.1 291.3,43.1 286.3,43.1 285.3,44.1 281.3,44.1 280.3,45.1 275.3,45.1 274.3,46.1 271.3,46.1 270.3,45.1 226.2,45.1 225.2,44.1 203.2,44.1 202.2,43.1 194.2,43.1 193.2,42.1 185.2,42.1 184.2,41.1 176.2,41.1 175.2,40.1 168.2,40.1 167.2,39.1 158.2,39.1 157.2,40.1 148.2,40.1 147.2,41.1 137.1,41.1 136.1,42.1 127.1,42.1 126.1,43.1 116.1,43.1 115.1,44.1 106.1,44.1 105.1,45.1 95.1,45.1 94.1,44.1 86.1,44.1 85.1,43.1 79.1,43.1 68.1,39.1 56.7,33.1 49.1,30.1 39,27.6 28,26.5 14,26.6 3.9,28.1 1.1,30.1 1.3,31.1 7.6,34.1 1,34.1 0,33.1 0,0ZM516.4,0 568.6,0 568.6,10.4 540.6,4.5 517.5,1.5 516.2,1 516.4,0Z"/>
<path fill="#22d832" fill-rule="evenodd" d="M0,0 460.2,0 436.5,3.6 395.4,10.9 342.4,16.1 318.2,20 305.8,24.1 296.7,29.1 293.1,33.1 289.3,41.7 282.7,44.1 281.3,44.1 280.3,45.1 275.3,45.1 274.3,46.1 271.3,46.1 270.3,45.1 226.2,45.1 225.2,44.1 203.2,44.1 202.2,43.1 194.2,43.1 193.2,42.1 185.2,42.1 184.2,41.1 176.2,41.1 175.2,40.1 168.2,40.1 167.2,39.1 158.2,39.1 157.2,40.1 148.2,40.1 147.2,41.1 137.1,41.1 136.1,42.1 127.1,42.1 126.1,43.1 116.1,43.1 115.1,43.8 103.1,40.1 99.9,38.1 97.9,36.1 95.8,33.1 94.6,30.1 93.1,19.2 92.1,16.4 90.1,14 88.2,13 77.5,10 53.1,9.8 24.4,12 0,15.4 0,0Z"/>
<path fill="#30d539" fill-rule="evenodd" d="M0,0 448.7,0 396.4,9.2 341.4,14.5 318.3,18 307.3,20.9 298.3,24.2 291.6,28.1 283.3,34.8 276.3,36.4 270.3,37.1 255.7,36.1 241.3,33.9 239.3,32.4 233.9,25.1 228.2,7.9 226.8,7 223.2,6.7 210.9,7 206.2,8 201.5,10 198.2,13 196.5,16 195.3,20 195,23.1 195.2,29.1 196.1,35.1 193.6,38.1 193.8,39.1 196.9,43.1 194.2,43.1 193.2,42.1 185.2,42.1 184.2,41.1 176.2,41.1 175.2,40.1 168.2,40.1 167.2,39.1 158.2,39.1 157.2,40.1 148.2,40.1 147.2,41.1 144.7,41.1 137.5,39.1 120.1,36.6 115.1,35.3 112.8,34.1 104.9,27.1 103.7,20 101.1,11.7 96.3,9 91.1,7.5 86.1,6.6 76.1,6 52.1,6.1 28,7.6 0,10.9 0,0Z"/>
<path fill="#4dce48" fill-rule="evenodd" d="M0,0 447.7,0 396.2,9 341.4,14.4 318.3,17.8 307.3,20.6 297.9,24.1 290.8,28.1 282.9,34.1 275.3,35.9 270.3,36.5 253.1,35.1 245.3,33.9 242.3,32.7 237.8,26.1 232.2,7 230.3,6 225.2,5.4 217.2,5.3 209.6,6 205.2,7 200.5,9 196.2,13.1 194.2,17.2 193.2,21.2 193.1,28.1 193.8,34.1 193.2,35.3 189.6,38.1 192.1,42.1 185.2,42.1 184.2,41.1 176.2,41.1 175.2,40.1 168.2,40.1 167.2,39.1 158.2,39.1 157.2,40.1 148.2,40.1 147.2,40.6 139.1,38.6 122.1,36.3 117,35.1 114.1,33.6 106.1,26.8 102.7,13 101.7,11 97.9,9 93.1,7.5 87.1,6.4 79.1,5.8 53.1,5.7 28,7.2 0,10.4 0,0Z"/>
<path fill="#5dcb50" fill-rule="evenodd" d="M0,0 446.7,0 394.9,9 340.4,14.3 318.3,17.6 307.3,20.4 298.3,23.5 291.3,27.3 282.3,33.5 269.3,36 251.3,33.9 246.6,33.1 244.3,32.1 240.8,27.1 234.6,7 233.2,5.7 225.2,4.5 211.2,5 206,6 200.7,8 197.9,10 195.3,13 193.2,17.7 192.2,22.1 192,34.1 191.1,35.1 185.6,38.1 185.8,39.1 188.1,42.1 185.2,42.1 184.2,41.1 176.2,41.1 175.2,40.1 168.2,40.1 167.2,39.1 158.2,39.1 157.2,40.1 149.4,40.1 141.4,38.1 124.5,36.1 118.1,34.6 115.2,33.1 107,26.1 103.3,12 102.1,10.1 94.1,7.2 80.1,5.6 53.1,5.4 28,6.9 0,10 0,0Z"/>
<path fill="#5eca51" fill-rule="evenodd" d="M0,0 445.7,0 394.4,8.9 343.4,13.7 318.3,17.4 307.3,20.1 298.3,23.2 290.7,27.1 281.3,32.9 269.3,35.3 251.3,32.9 247.9,32.1 246.1,31.1 241.9,25.1 235.7,7 233.9,5 230.2,4.1 224.2,3.8 209.2,4.8 201.3,7 196.2,10.8 194,14 192.2,19 190.8,33.1 189.2,34.7 182.5,37.1 181.4,38.1 183.1,41.1 176.2,41.1 175.2,40.1 168.2,40.1 167.2,39.1 158.2,39.1 157.2,40.1 153.6,40.1 146.1,38.1 126.1,35.7 119.1,33.9 115.9,32.1 107.8,25.1 103.3,10 102,9 95.6,7 81.1,5.3 54.1,5 27,6.6 0,9.6 0,0Z"/>
<path fill="#60ca52" fill-rule="evenodd" d="M0,0 444.7,0 395.4,8.5 350.4,12.7 319.3,17 307.3,19.8 298.3,22.8 281.3,32.1 269.3,34.3 252.9,32.1 249.3,31.1 247.9,30.1 245.1,27.1 242.3,22.2 236.5,7 234.2,4.4 232.2,3.8 225.2,3.3 210.2,4.1 202.2,6 198.4,8 196.1,10 193.9,13 192.2,17 191.1,22.1 190.1,31.1 189.2,33.1 186.2,34.8 178.1,37.1 177,38.1 178.8,41.1 176.2,41.1 175.2,40.1 168.2,40.1 167.2,39.1 158.2,39.1 157.2,39.9 146.2,37.4 126.6,35.1 119.7,33.1 117.1,31.5 108.8,24.1 104.1,9.4 102.1,8.2 97.1,6.8 81.1,4.9 55.1,4.7 23,6.5 0,9.1 0,0Z"/>
<path fill="#62c953" fill-rule="evenodd" d="M0,0 443.5,0 396.4,8.2 350.4,12.5 319.3,16.8 307.3,19.5 298.3,22.5 280.3,31.5 269.3,33.3 254.3,31.2 251.3,30.3 249.5,29.1 245.9,25.1 242.3,18.6 237.2,7 234.2,3.7 230.4,3 223.2,2.8 208.2,3.9 203.2,5.1 199.2,6.9 196.4,9 194.2,11.6 191.6,17 189.5,29.1 188.2,32.4 184.2,34.5 173.5,37.1 172.6,38.1 173.6,40.1 168.2,40.1 167.2,39.1 158.9,39.1 149.4,37.1 130.5,35.1 125.1,34 120.1,32.1 111.2,24.1 108.1,17.6 105.1,9 103.9,8 100.1,6.9 86.1,4.9 57.1,4.3 26,5.9 0,8.6 0,0Z"/>
<path fill="#63c854" fill-rule="evenodd" d="M0,0 442.3,0 396.2,8 350.4,12.3 319.3,16.5 309.3,18.8 299.3,21.7 280.3,30.6 274.3,31.9 269.3,32.3 264.3,32 256.3,30.5 253.3,29.6 250.9,28.1 248,25.1 237.2,6 235.7,4 234.2,3.1 223.2,2.4 208.2,3.5 203.2,4.6 199.2,6.2 196.2,8.4 193.9,11 191,17 188.2,30 186.6,32.1 181.2,34.4 168.7,37.1 166.2,39 154.8,37.1 132.1,34.7 122.6,32.1 119.5,30.1 115.5,26.1 114.4,24.1 112.9,18 108.1,12.7 106.5,9 105.1,7.7 102.1,6.6 95.1,5.4 86.1,4.5 58.1,3.9 23,5.6 0,8.1 0,0Z"/>
<path fill="#ffc61e" fill-rule="evenodd" d="M0,0 440.9,0 395.4,7.9 372.4,10.3 356.4,11.3 322.3,15.7 310.3,18.2 299.3,21.3 279.3,30.1 270.3,31.2 264.3,30.9 259.2,30.1 255.3,29 252.3,27.2 249.3,24 240.6,10 236.6,4 235.4,3 232.2,2.3 225.2,2 209.1,3 200.2,5.1 197.2,6.8 194.6,9 191,15 188.2,26 186.2,29.5 183.5,32.1 179.2,34.1 161.2,36.9 137.1,34.7 125.1,32.1 120.9,29.1 117.8,25.1 116.1,17 114.1,13 112.1,11 107.5,8 103.1,6.2 96.1,5 86.1,4.2 57.1,3.5 21,5.2 0,7.4 0,0Z"/>
<path fill="#fc9509" fill-rule="evenodd" d="M127,0 169.5,0 168.2,4.7 163.1,17 161.2,19.2 156.2,23.1 153.2,24 150.2,23.1 143.2,16.8 137.7,9 130.1,3.2 127,0ZM254.2,0 350.4,0 348.4,2 344.8,4 326.9,9 308.3,12.4 295.3,13.3 283.3,12.5 271.3,9.7 260.7,5 256.2,2 254.2,0Z"/>
<path fill="#f68b07" fill-rule="evenodd" d="M127.5,0 168.6,0 167.5,4 162.2,16.1 155.2,21.6 153.2,22.4 151.2,21.9 144.1,16 138.9,9 135.5,6 131.1,3.5 127.5,0ZM255.6,0 348.4,0 346.3,2 342.4,4 325.2,9 307.3,12.3 295.3,13 283.3,12 272.3,9.4 261.3,4.4 257.6,2 255.6,0Z"/>
<path fill="#f08105" fill-rule="evenodd" d="M128,0 167.7,0 166.6,4 161.3,15 159,17 153.2,20.6 151.2,20 148,17 144.8,15 140.2,9 136.1,5.7 131.1,3.1 128,0ZM257,0 346.4,0 344.2,2 341.4,3.4 323.6,9 307.5,12 296.3,12.7 284.3,11.7 273.3,9.1 262.1,4 257,0Z"/>
<path fill="#e97703" fill-rule="evenodd" d="M128.5,0 166.9,0 165.6,4 160.3,14 156.2,17.1 153.2,18.5 152.2,18.4 145.2,13.7 140.3,8 136.3,5 132.1,3.3 128.5,0ZM258.4,0 344.4,0 340,3 332.4,5.2 322.3,9 308.3,11.7 297.3,12.4 286.3,11.6 274.7,9 263.3,3.7 258.4,0Z"/>
<path fill="#e36d01" fill-rule="evenodd" d="M128.9,0 166,0 164.6,4 160.1,12 157.2,14.5 153.2,16.4 146.2,13 142.7,9 137.5,5 132.1,2.9 128.9,0ZM259.9,0 342.4,0 339.4,2.2 332.4,4.4 326.3,7.4 321.1,9 308.3,11.4 298.3,12.1 287.3,11.4 276.4,9 271.3,7.1 263.6,3 259.9,0Z"/>
<path fill="#e55a00" fill-rule="evenodd" d="M129.4,0 165.1,0 163.6,4 159.2,11 153.2,14.2 147.2,12.1 142.8,8 138.1,4.6 132.1,2.5 129.4,0ZM261.3,0 340.3,0 337.5,2 331.3,4 326,7 320.3,8.9 308.3,11.1 298.3,11.8 287.7,11 277.3,8.8 271.3,6.4 263.5,2 261.3,0Z"/>
<path fill="#ee4700" fill-rule="evenodd" d="M131.2,0 162,0 160.2,3.4 157.2,6.4 155.2,7.1 149.2,7.6 146.2,7 139.1,2.6 133.1,1.2 131.2,0ZM266.3,0 333,0 325.3,5.4 319.3,7.9 308.7,10 299.3,10.6 290.7,10 280.9,8 273.3,5 266.3,0Z"/>
<path fill="#f43e00" fill-rule="evenodd" d="M132,0 161,0 159.2,2.9 156.2,5.5 149.2,6.4 146.2,6 139.1,1.9 132,0ZM267.7,0 330.9,0 325.3,4.8 320.7,7 312.3,9.1 299.3,10.2 288.3,9.2 279.4,7 273.3,4.2 267.7,0Z"/>
<path fill="#fb3500" fill-rule="evenodd" d="M133.3,0 159.7,0 158.2,2.1 155.2,4.5 148.2,5.2 145.2,4.6 139.1,1.3 133.3,0ZM269.1,0 329.2,0 325.3,4 319.3,7 310.6,9 300.3,9.8 290,9 281.3,7 274.3,4 269.1,0Z"/>
<path fill="#d80020" fill-rule="evenodd" d="M136.4,0 158.1,0 156.2,2.2 154.2,3.4 148.2,3.9 145.2,3.6 140.1,1 136.4,0ZM270.9,0 327.6,0 323.8,4 317.3,7 307.3,9 300.3,9.3 292.3,8.7 283.7,7 276.1,4 270.9,0Z"/>
<path fill="#d90524" fill-rule="evenodd" d="M282.5,0 317.7,0 315.3,2.6 312.3,4.3 307.3,5.6 301.3,6.1 295.3,5.6 289.3,4.2 284.7,2 282.5,0Z"/>
<path fill="#db0f2c" fill-rule="evenodd" d="M286.2,0 314.5,0 312.7,2 310.3,3.3 306.3,4.5 301.3,4.9 292.3,3.5 288.6,2 286.2,0Z"/>
<path fill="#dd1934" fill-rule="evenodd" d="M290,0 311.3,0 309.3,1.9 307.3,2.8 301.3,3.7 294.3,2.6 290,0Z"/>
<path fill="#df233c" fill-rule="evenodd" d="M293.7,0 308.1,0 305.3,1.8 301.3,2.5 297.3,1.9 293.7,0Z"/>
<path fill="#e22f44" fill-rule="evenodd" d="M297.7,0 304.7,0 301.3,1.1 297.7,0Z"/>
</g>
<g clip-path="url(#w10)">
<path fill="none" stroke="#000" stroke-width="0.6" d="M434.5,15.9 427.5,17.7 422.4,21.1 422,22.1 422.1,23.1 423,24.1 428.5,27.5 430.5,27.6 434.5,25.2 446.5,26.5 448.5,27.1 450.5,30 451.5,30.3 457.5,29.6 462.5,28.2 465.2,26.1 466,24.1 465.5,22.1 463,20 454.8,17 444.5,15.3 434.5,15.9M568.6,105.7 558.6,96.9 545.6,88.6 533.6,79.7 500.5,49.5 494.5,44.8 484.5,38.3 482.5,37.7 478.5,40.5 472.5,42.2 469,44.1 463.5,48.8 462.5,49.1 460.5,47.7 458.5,45.5 449.5,32.8 433.5,31 432.5,32.1 433.5,36 434.5,36.7 440.5,37.6 442.4,39.1 455.5,60.6 455.3,63.2 447.5,77.2 446.5,80.2 446.3,82.2 446.9,85.2 448.5,89.2 451.5,94.9 454.5,99.3 456.5,101.1 460.5,103.4 467.5,106.3 477.5,109.8 492.5,113.5 505.5,115.9 518.5,119.3 525.6,122.4 533.6,127.5 541.2,134.3 547.1,142.3 551.6,151.2 558.3,169.4 561.7,177.4 565.4,184.4 568.6,187.6"/>
<path fill="none" stroke="#000" stroke-width="0.6" d="M568.6,51.4 564.6,49.1 552.6,40.7 545.1,37.1 534.7,30.1 520.5,21.9 504.5,14.8 489.5,9.8 485.5,7.4 476.5,5.9 469.4,6 448.3,8 426.8,12 408.3,17 402.4,21.1 391.4,23 388.4,25.8 386.4,25.9 374.4,24.6 360.4,25.8 350.4,27.2 347.3,28.1 344.4,29.5 338.4,33.1 336.6,35.1"/>
<path fill="none" stroke="#000" stroke-width="0.6" d="M568.6,25 538.6,13.5 526.6,9.5 515.5,6.7 505.5,4.9 493.5,3.6 477.5,2.5 467.5,2.6 445.8,5 396.4,14.6 352.5,19 331.4,22.1 320.9,25.1 316.2,27.1 313,29.1 309.7,32.1 307.8,35.1 307.5,37.1 308.9,38.5"/>
<path fill="none" stroke="#000" stroke-width="0.6" d="M480.5,0 478.5,0.8 467.5,0.6 448.5,2.8 396.4,12.1 344.4,17.3 332.4,19 323.3,20.8 312.2,24.1 303.3,29.1 300.1,32.1 297.3,36.1 296.8,39.1 297.9,40.5M538.9,0 541.6,2 538.6,2.9 524.4,1 530,0M568.6,8.2 560.6,7 542.9,3 542.9,2 550.6,1.1 551.9,0M82.7,42.1 73,38.1 68.3,33.1 64.1,30.7 56.1,27.6 43,24.3 22,23.5 11,24 0,25.3"/>
<path fill="none" stroke="#000" stroke-width="0.6" d="M453.5,0 395.2,10 341.4,15.3 317.4,19 307.3,21.9 299.3,25.1 295.8,27.1 291.9,30.1 286.3,37 284.3,37.8 279.3,38.5 270.3,38.7 238.3,37.7 232.2,37 229.3,35.1 217.8,20 215.4,16 214.2,15.6 212.2,15.6 210.2,16.7 209.5,18 208.6,32.1 209.5,38.1 212.8,43.1M128.7,41.1 111.1,37.5 109.1,36.8 106.1,34.6 102.3,31.1 100.7,28.1 100.4,21.1 98.4,14 94.1,10.5 88.1,8.4 81.1,7.5 72.1,7.1 49.1,7.5 28,9 0,12.5"/>
<path fill="none" stroke="#000" stroke-width="0.6" d="M8,0 37,0.6 39.4,0M50.5,0 51.1,0.7 53.1,0.9 68.1,0.4 69.6,0M435.8,0 426.7,2 396.4,7.1 367.4,10 357.4,10.2 321.3,15.3 299.3,20.3 279.3,27.5 272.3,28.3 262.3,27.6 258.3,26.6 255.1,25.1 250.3,19.8 245.6,13 239.9,6 238.3,3 236.5,2 224.2,0.9 205.2,2.4 197.2,4.2 193.8,6 191.7,8 188.8,13 185.7,23.1 179,31.1 172.2,33.2 162.2,34.6 157.2,34.9 148.2,34.6 140.1,33.5 133.1,31.9 127.1,29.8 125.2,28.1 121.2,23.1 119.6,16 116.7,11 112.1,7.2 105.8,5 94.1,3.7 53.1,1.7 48.1,2.4 13,3.9 0,5.2"/>
<path fill="none" stroke="#000" stroke-width="0.6" d="M176.1,0 174.5,3 170.6,16 169,19 165.8,23.1 161.2,26.9 158.2,28.3 154.2,28.9 151.2,28.6 148.2,27.6 145.2,26 141.5,23.1 136.7,18 133.5,12 130.7,8 124.1,1.9 121.4,0M385,0 396.1,2 392,3 367.4,5.1 356.4,2.5 347.4,6.5 336.8,9 306.3,14.2 287.3,15.6 275.3,14.9 264.3,12.2 258.3,8.9 254.3,6.1 249.4,2 247.8,0"/>
<path fill="none" stroke="#000" stroke-width="0.6" d="M161,0 159.2,2.9 156.2,5.5 149.2,6.5 146.2,6 139.1,1.9 134.1,0.9 132,0M331,0 325.3,4.8 320.8,7 312.3,9.1 305.7,10 299.3,10.2 288.3,9.2 279.3,7 273.3,4.3 267.6,0"/>
<text transform="translate(6.9,15.5) rotate(0) scale(1.15,1)" text-anchor="middle" fill="#000" font-size="14" font-weight="bold" font-style="italic">5</text>
<text transform="translate(40.2,22.6) rotate(5) scale(1.15,1)" text-anchor="middle" fill="#000" font-size="14" font-weight="bold" font-style="italic">3.5</text>
<text transform="translate(89,6.4) rotate(0) scale(1.15,1)" text-anchor="middle" fill="#000" font-size="14" font-weight="bold" font-style="italic">8</text>
<text transform="translate(147.6,9.3) rotate(0) scale(1.15,1)" text-anchor="middle" fill="#000" font-size="14" font-weight="bold" font-style="italic">9.5</text>
<text transform="translate(213.5,18.7) rotate(0) scale(1.15,1)" text-anchor="middle" fill="#000" font-size="14" font-weight="bold" font-style="italic">5</text>
<text transform="translate(126.5,43.5) rotate(0) scale(1.15,1)" text-anchor="middle" fill="#000" font-size="14" font-weight="bold" font-style="italic">5</text>
<text transform="translate(247.7,44.8) rotate(0) scale(1.15,1)" text-anchor="middle" fill="#000" font-size="14" font-weight="bold" font-style="italic">5</text>
<text transform="translate(305.5,16.1) rotate(5) scale(1.15,1)" text-anchor="middle" fill="#000" font-size="14" font-weight="bold" font-style="italic">9.5</text>
<text transform="translate(378.7,13.7) rotate(0) scale(1.15,1)" text-anchor="middle" fill="#000" font-size="14" font-weight="bold" font-style="italic">8</text>
<text transform="translate(460,10.6) rotate(0) scale(1.15,1)" text-anchor="middle" fill="#000" font-size="14" font-weight="bold" font-style="italic">2</text>
<text transform="translate(460.8,11.8) rotate(0) scale(1.15,1)" text-anchor="middle" fill="#000" font-size="14" font-weight="bold" font-style="italic">2</text>
<text transform="translate(554.4,8) rotate(0) scale(1.15,1)" text-anchor="middle" fill="#000" font-size="14" font-weight="bold" font-style="italic">3.5</text>
<text transform="translate(559.2,37.5) rotate(30) scale(1.15,1)" text-anchor="middle" fill="#000" font-size="14" font-weight="bold" font-style="italic">0.5</text>
<text transform="translate(548.4,164.8) rotate(30) scale(1.15,1)" text-anchor="middle" fill="#000" font-size="14" font-weight="bold" font-style="italic">-1</text>
<path fill="none" stroke="#fff" stroke-width="1.1" d="M1.1,12.5 1.9,9.2 2.5,8 3.3,7 5.8,5.2 7.7,4.6 12.8,3.6 24.7,3.1 42.3,3.1 54.5,3.4 85,5 95.7,6 104.3,7.1 110.9,8.3 118.5,10.5"/>
<path fill="none" stroke="#fff" stroke-width="1.1" d="M132.4,24.7 135.9,27.7 137.6,28.8 141.7,30.6 146.7,31.9 154.9,32.9 160.3,33 165.3,32.5 169.6,31.3 173,29.5 174.4,28.2 175.4,26.8 176.1,25.2 177,21.6 178.3,18.2 180.2,14.9 181.4,13.3 184.4,10 187.7,7.1 196.6,0.1"/>
<path fill="none" stroke="#fff" stroke-width="1.1" d="M27.4,32 35.8,29.8 39.6,28 41.2,27 43.9,24.8 45.7,22.4 48,20.4 53.4,17.7"/>
<path fill="none" stroke="#fff" stroke-width="1.1" d="M86,23 83,25.8 78.9,28.5 78.5,29.2 78.5,30 78.9,30.8 79.7,31.6 82.5,33.2 89.6,35.6 110.4,40.1"/>
<path fill="none" stroke="#fff" stroke-width="1.1" d="M110.4,2.4 131.8,3.2 159.2,3.7"/>
<path fill="none" stroke="#fff" stroke-width="1.1" d="M227.6,38.8 236.5,40.5"/>
<path fill="none" stroke="#fff" stroke-width="1.1" d="M230.8,1.1 236.5,4.3 262.9,17.6 269.6,20.7 277.2,23.9"/>
<path fill="none" stroke="#fff" stroke-width="1.1" d="M310.5,18.2 336.8,12.2 343.5,10.2 351.6,7 354.3,5.3 354.7,4.7 354.7,4 354.3,3.4 352.2,2.1 349.5,1.1 343.9,0.1"/>
<path fill="none" stroke="#fff" stroke-width="1.1" d="M252,0.1 258.6,4 261.4,5.3 267.4,7.4 274,8.6 281,9.1 284.7,9 291.1,8.7 300,7.6"/>
<path fill="none" stroke="#fff" stroke-width="1.1" d="M332.5,30.7 333.5,27.9 335.2,26.1 338.2,24.6 340.2,24 345.5,22.9 352.3,22.2 371.6,21.4"/>
<path fill="none" stroke="#fff" stroke-width="1.1" d="M405.7,24.2 413.9,26 417.9,27.2 418.6,27.6 418.5,27.9 419.8,28.9 422.4,30.6 431.7,36.3 436.7,39.7 441.5,43.5 446,47.5 458.4,59.4 465.9,66.1 473.4,71.6 480.8,76.1 484.8,78.2 493.6,82.1 503,85.6 511.9,88 520.4,89.6 533.2,92.6 537.3,93.8 545.1,96.6 552.5,100.1 556.3,102.2 560,104.6 569.3,111.2"/>
<path fill="none" stroke="#fff" stroke-width="1.1" d="M373.2,4.3 382.1,7.1 389,8.5 421.2,12.7 457.8,18.2 467.5,19.9"/>
<path fill="none" stroke="#fff" stroke-width="1.1" d="M499.3,27.5 516.2,33.4 532.3,38.4 544.8,41.7 569.8,47.1"/>
<path fill="none" stroke="#fff" stroke-width="1.1" d="M406.5,2.9 421.2,5.5 454,9.7 465.2,10.8 482,11.9 487.6,12.5 515.6,17 551.9,22.5"/>
<path fill="none" stroke="#fff" stroke-width="1.1" d="M480.3,5.7 497.7,6.4 510.5,7.4"/>
<path fill="none" stroke="#fff" stroke-width="1.1" d="M544.1,7.9 569.8,9.8"/>
<path fill="none" stroke="#fff" stroke-width="1.1" d="M434.5,1.2 451.2,2.2"/>
<path fill="none" stroke="#fff" stroke-width="1.1" d="M473.6,2 510.5,1.8"/>
<path fill="none" stroke="#fff" stroke-width="1.1" d="M456.6,110.2 469.7,112.1 486.4,115.5"/>
<path fill="none" stroke="#fff" stroke-width="1.1" d="M514,125 526,135 530.2,139 533.9,143.2 537.1,147.3 550.4,168.6 553.3,172.9 560,181.4 569.3,192"/>
<text transform="translate(71.3,22.3) rotate(0) scale(1.15,1)" text-anchor="middle" fill="#fff" font-size="14" font-weight="bold" font-style="italic">26</text>
<text transform="translate(127.5,19.1) rotate(35) scale(1.15,1)" text-anchor="middle" fill="#fff" font-size="14" font-weight="bold" font-style="italic">25</text>
<text transform="translate(173.9,6.4) rotate(-15) scale(1.15,1)" text-anchor="middle" fill="#fff" font-size="14" font-weight="bold" font-style="italic">24</text>
<text transform="translate(217.8,42.2) rotate(5) scale(1.15,1)" text-anchor="middle" fill="#fff" font-size="14" font-weight="bold" font-style="italic">26</text>
<text transform="translate(313,8) rotate(-60) scale(1.15,1)" text-anchor="middle" fill="#fff" font-size="14" font-weight="bold" font-style="italic">24</text>
<text transform="translate(295.1,26.9) rotate(-5) scale(1.15,1)" text-anchor="middle" fill="#fff" font-size="14" font-weight="bold" font-style="italic">25</text>
<text transform="translate(389.4,27.5) rotate(5) scale(1.15,1)" text-anchor="middle" fill="#fff" font-size="14" font-weight="bold" font-style="italic">26</text>
<text transform="translate(462.4,5.7) rotate(5) scale(1.15,1)" text-anchor="middle" fill="#fff" font-size="14" font-weight="bold" font-style="italic">22</text>
<text transform="translate(525.1,12.4) rotate(5) scale(1.15,1)" text-anchor="middle" fill="#fff" font-size="14" font-weight="bold" font-style="italic">23</text>
<text transform="translate(479.2,24.7) rotate(15) scale(1.15,1)" text-anchor="middle" fill="#fff" font-size="14" font-weight="bold" font-style="italic">25</text>
<text transform="translate(564.2,30.3) rotate(-10) scale(1.15,1)" text-anchor="middle" fill="#fff" font-size="14" font-weight="bold" font-style="italic">24</text>
<text transform="translate(501.3,124.6) rotate(18) scale(1.15,1)" text-anchor="middle" fill="#fff" font-size="14" font-weight="bold" font-style="italic">27</text>
</g>
<path d="M503.5,175.2 L500,177 L534,221 L537.4,217.2 C538.5,205 537,196 533,188.5 C528,180.5 517,176 503.5,175.2 Z" fill="#fff"/>
<path d="M0,30 L3,30.3 L99.2,41.7 L162.9,35.6 L208,40.7 L274.3,42.2 L332,32.1 L372.5,38.2 L412.6,44.8 L479.8,145 L512,186.2 L562.5,248.6 L568.6,248.6 L568.6,248.6 L0,248.6 Z" fill="#363636"/>
<g fill="#3c3c3c"><circle cx="3.5" cy="1.2" r="2.3"/><circle cx="3.5" cy="8.6" r="2.3"/><circle cx="3.5" cy="12.4" r="2.3"/><circle cx="3.5" cy="21.1" r="2.3"/><circle cx="3.5" cy="26.9" r="2.3"/><circle cx="99.2" cy="1.5" r="2.3"/><circle cx="99.2" cy="9.1" r="2.3"/><circle cx="99.2" cy="17.4" r="2.3"/><circle cx="99.2" cy="25.4" r="2.3"/><circle cx="99.2" cy="39.3" r="2.3"/><circle cx="162.9" cy="1.5" r="2.3"/><circle cx="162.9" cy="9.1" r="2.3"/><circle cx="162.9" cy="17.1" r="2.3"/><circle cx="162.9" cy="24.9" r="2.3"/><circle cx="162.9" cy="32.1" r="2.3"/><circle cx="208" cy="1.5" r="2.3"/><circle cx="208" cy="9.1" r="2.3"/><circle cx="208" cy="17.1" r="2.3"/><circle cx="208" cy="24.9" r="2.3"/><circle cx="208" cy="38.6" r="2.3"/><circle cx="274.3" cy="1.8" r="2.3"/><circle cx="274.3" cy="9.9" r="2.3"/><circle cx="274.3" cy="18.2" r="2.3"/><circle cx="274.3" cy="25.7" r="2.3"/><circle cx="274.3" cy="31.5" r="2.3"/><circle cx="274.3" cy="38.1" r="2.3"/><circle cx="332" cy="1.8" r="2.3"/><circle cx="332" cy="9.1" r="2.3"/><circle cx="332" cy="15.7" r="2.3"/><circle cx="332" cy="19.9" r="2.3"/><circle cx="332" cy="24" r="2.3"/><circle cx="332" cy="28.2" r="2.3"/><circle cx="372.5" cy="1.8" r="2.3"/><circle cx="372.5" cy="9.1" r="2.3"/><circle cx="372.5" cy="17.4" r="2.3"/><circle cx="372.5" cy="24.9" r="2.3"/><circle cx="372.5" cy="35.6" r="2.3"/><circle cx="413.3" cy="1.5" r="2.3"/><circle cx="413.3" cy="10.8" r="2.3"/><circle cx="413.3" cy="18.2" r="2.3"/><circle cx="413.3" cy="29" r="2.3"/><circle cx="413.3" cy="33.1" r="2.3"/><circle cx="413.3" cy="42.7" r="2.3"/><circle cx="480" cy="1.5" r="2.3"/><circle cx="480" cy="12" r="2.3"/><circle cx="480" cy="22.1" r="2.3"/><circle cx="480" cy="42.3" r="2.3"/><circle cx="480" cy="58" r="2.3"/><circle cx="480" cy="82.9" r="2.3"/><circle cx="480" cy="100.3" r="2.3"/><circle cx="480" cy="116.8" r="2.3"/><circle cx="480" cy="132.6" r="2.3"/><circle cx="480" cy="141.7" r="2.3"/><circle cx="563.5" cy="1.5" r="2.3"/><circle cx="563.5" cy="20.7" r="2.3"/><circle cx="563.5" cy="37.3" r="2.3"/><circle cx="563.5" cy="46.4" r="2.3"/><circle cx="563.5" cy="62.1" r="2.3"/><circle cx="563.5" cy="82.9" r="2.3"/><circle cx="563.5" cy="116" r="2.3"/><circle cx="563.5" cy="157.4" r="2.3"/><circle cx="563.5" cy="232" r="2.3"/></g>
<text x="-0.7" y="-4" font-size="17" font-style="italic" text-anchor="middle">1</text>
<text x="97" y="-4" font-size="17" font-style="italic" text-anchor="middle">2</text>
<text x="160.7" y="-4" font-size="17" font-style="italic" text-anchor="middle">3</text>
<text x="205.8" y="-4" font-size="17" font-style="italic" text-anchor="middle">4</text>
<text x="272.1" y="-4" font-size="17" font-style="italic" text-anchor="middle">10</text>
<text x="329.8" y="-4" font-size="17" font-style="italic" text-anchor="middle">11</text>
<text x="370.3" y="-4" font-size="17" font-style="italic" text-anchor="middle">12</text>
<text x="411.1" y="-4" font-size="17" font-style="italic" text-anchor="middle">13</text>
<text x="477.8" y="-4" font-size="17" font-style="italic" text-anchor="middle">14</text>
<text x="558.3" y="-4" font-size="17" font-style="italic" text-anchor="middle">15</text>
<path d="M0,0 H568.6 V248.6 H0 Z" fill="none" stroke="#000" stroke-width="1.1"/>
<path d="M0,0 h-6.5" stroke="#000" stroke-width="1.1"/>
<text x="-12.5" y="5.8" text-anchor="end" font-size="16.2" letter-spacing="0.4" font-weight="bold" font-style="italic" stroke="#000" stroke-width="0.3">0</text>
<path d="M0,41.4 h-6.5" stroke="#000" stroke-width="1.1"/>
<text x="-12.5" y="47.2" text-anchor="end" font-size="16.2" letter-spacing="0.4" font-weight="bold" font-style="italic" stroke="#000" stroke-width="0.3">50</text>
<path d="M0,82.9 h-6.5" stroke="#000" stroke-width="1.1"/>
<text x="-12.5" y="88.7" text-anchor="end" font-size="16.2" letter-spacing="0.4" font-weight="bold" font-style="italic" stroke="#000" stroke-width="0.3">100</text>
<path d="M0,124.3 h-6.5" stroke="#000" stroke-width="1.1"/>
<text x="-12.5" y="130.1" text-anchor="end" font-size="16.2" letter-spacing="0.4" font-weight="bold" font-style="italic" stroke="#000" stroke-width="0.3">150</text>
<path d="M0,165.7 h-6.5" stroke="#000" stroke-width="1.1"/>
<text x="-12.5" y="171.5" text-anchor="end" font-size="16.2" letter-spacing="0.4" font-weight="bold" font-style="italic" stroke="#000" stroke-width="0.3">200</text>
<path d="M0,207.2 h-6.5" stroke="#000" stroke-width="1.1"/>
<text x="-12.5" y="213" text-anchor="end" font-size="16.2" letter-spacing="0.4" font-weight="bold" font-style="italic" stroke="#000" stroke-width="0.3">250</text>
<path d="M0,248.6 h-6.5" stroke="#000" stroke-width="1.1"/>
<text x="-12.5" y="254.4" text-anchor="end" font-size="16.2" letter-spacing="0.4" font-weight="bold" font-style="italic" stroke="#000" stroke-width="0.3">300</text>
<path d="M0,248.6 v6.5" stroke="#000" stroke-width="1.1"/>
<text x="0" y="275" text-anchor="middle" font-size="16.2" letter-spacing="0.4" font-weight="bold" font-style="italic" stroke="#000" stroke-width="0.3">0</text>
<path d="M97.8,248.6 v4" stroke="#000" stroke-width="0.7"/>
<path d="M195.6,248.6 v6.5" stroke="#000" stroke-width="1.1"/>
<text x="195.6" y="275" text-anchor="middle" font-size="16.2" letter-spacing="0.4" font-weight="bold" font-style="italic" stroke="#000" stroke-width="0.3">500</text>
<path d="M293.3,248.6 v4" stroke="#000" stroke-width="0.7"/>
<path d="M391.1,248.6 v6.5" stroke="#000" stroke-width="1.1"/>
<text x="391.1" y="275" text-anchor="middle" font-size="16.2" letter-spacing="0.4" font-weight="bold" font-style="italic" stroke="#000" stroke-width="0.3">1000</text>
<path d="M488.9,248.6 v4" stroke="#000" stroke-width="0.7"/>
<rect x="1" y="214.6" width="278.5" height="32.6" fill="#000"/>
<text x="6.9" y="238.2" fill="#fff" font-size="21.3" font-weight="bold" font-style="italic" textLength="270.5" lengthAdjust="spacingAndGlyphs">Potential temperature [<tspan dy="-7.5" font-size="13.5">o</tspan><tspan dy="7.5">C]</tspan></text>
<text x="-76.2" y="5.4" font-size="30" font-weight="bold">B</text>
<rect x="587.2" y="0" width="24.2" height="248.6" fill="url(#cbg)"/>
<path d="M587.2,0.3 L592.2,0.3 C595.7,0 596.2,-3.4 599.3,-3.4 C602.4,-3.4 602.9,0 606.4,0.3 L611.4,0.3 Z" fill="#ffb88e"/>
<path d="M592.2,248.3 L599.3,252.6 L606.4,248.3 Z" fill="#e884de"/>
<path d="M587.2,0 L587.2,248.6 M611.4,0 L611.4,248.6" stroke="#000" stroke-width="1" fill="none"/>
<path d="M587.2,0 L592.2,0 C595.7,-0.3 596.2,-3.6 599.3,-3.6 C602.4,-3.6 602.9,-0.3 606.4,0 L611.4,0" stroke="#000" stroke-width="0.8" fill="none"/>
<path d="M587.2,248.6 L592.7,248.6 M605.9,248.6 L611.4,248.6" stroke="#000" stroke-width="0.8" fill="none"/>
<path d="M587.2,248.6 h5.5 M611.4,248.6 h-5.5" stroke="#000" stroke-width="1.1" fill="none"/>
<text transform="translate(617.9,252.9) scale(1.2,1)" font-size="12.2" font-weight="bold" font-style="italic" stroke="#000" stroke-width="0.25">-2</text>
<path d="M587.2,213.1 h5.5 M611.4,213.1 h-5.5" stroke="#000" stroke-width="1.1" fill="none"/>
<text transform="translate(617.9,217.4) scale(1.2,1)" font-size="12.2" font-weight="bold" font-style="italic" stroke="#000" stroke-width="0.25">0</text>
<path d="M587.2,177.6 h5.5 M611.4,177.6 h-5.5" stroke="#000" stroke-width="1.1" fill="none"/>
<text transform="translate(617.9,181.9) scale(1.2,1)" font-size="12.2" font-weight="bold" font-style="italic" stroke="#000" stroke-width="0.25">2</text>
<path d="M587.2,142.1 h5.5 M611.4,142.1 h-5.5" stroke="#000" stroke-width="1.1" fill="none"/>
<text transform="translate(617.9,146.4) scale(1.2,1)" font-size="12.2" font-weight="bold" font-style="italic" stroke="#000" stroke-width="0.25">4</text>
<path d="M587.2,106.5 h5.5 M611.4,106.5 h-5.5" stroke="#000" stroke-width="1.1" fill="none"/>
<text transform="translate(617.9,110.8) scale(1.2,1)" font-size="12.2" font-weight="bold" font-style="italic" stroke="#000" stroke-width="0.25">6</text>
<path d="M587.2,71 h5.5 M611.4,71 h-5.5" stroke="#000" stroke-width="1.1" fill="none"/>
<text transform="translate(617.9,75.3) scale(1.2,1)" font-size="12.2" font-weight="bold" font-style="italic" stroke="#000" stroke-width="0.25">8</text>
<path d="M587.2,35.5 h5.5 M611.4,35.5 h-5.5" stroke="#000" stroke-width="1.1" fill="none"/>
<text transform="translate(617.9,39.8) scale(1.2,1)" font-size="12.2" font-weight="bold" font-style="italic" stroke="#000" stroke-width="0.25">10</text>
<path d="M587.2,0 h5.5 M611.4,0 h-5.5" stroke="#000" stroke-width="1.1" fill="none"/>
<text transform="translate(617.9,4.3) scale(1.2,1)" font-size="12.2" font-weight="bold" font-style="italic" stroke="#000" stroke-width="0.25">12</text>
<text transform="translate(583.6,246.6) rotate(-90)" font-size="10" font-weight="bold" font-style="italic" stroke="#000" stroke-width="0.2">Ocean Data View / DIVA</text>
<rect x="-2.2" y="-63.2" width="444.6" height="39.4" fill="#fff" stroke="#333" stroke-width="1.5"/>
<rect x="449.4" y="-63.2" width="119.8" height="39.4" fill="#fff" stroke="#333" stroke-width="1.5"/>
<text x="220.3" y="-36.8" text-anchor="middle" font-size="19.3">CS</text>
<text x="509.4" y="-36.8" text-anchor="middle" font-size="19.3">CBL</text>
</g>
<g transform="translate(93.5,418.9)">
<clipPath id="w01"><path d="M0,0 L568.6,0 L568.6,248.6 L568.6,249.2 L562.5,249.2 L512,186.8 L479.8,145.6 L412.6,45.4 L372.5,38.8 L332,32.7 L274.3,42.8 L208,41.3 L162.9,36.2 L99.2,42.3 L3,30.9 L0,30.6 Z"/></clipPath>
<g clip-path="url(#w01)">
<rect x="0" y="0" width="568.6" height="248.6" fill="#e884de"/>
<path fill="#e25cd9" fill-rule="evenodd" d="M0,0 568.6,0 568.6,248.6 559.5,248.6 558.5,247.6 558.5,246.6 553.5,241.6 553.5,240.6 545.5,231.6 545.5,230.6 541.5,226.5 541.5,225.5 536.5,220.5 536.5,219.5 532.5,215.5 532.5,214.5 524.5,205.5 524.5,204.5 519.5,199.5 519.5,198.5 515.5,194.5 515.5,193.5 507.5,184.4 507.5,183.4 504.5,180.4 504.5,179.4 500.5,175.4 500.5,174.4 497.5,171.4 497.5,170.4 489.5,161.4 489.5,160.4 486.5,157.4 486.5,156.4 482.5,152.4 482.5,151.4 479.4,148.4 479.4,147.4 477.4,145.4 477.4,144.3 475.4,142.3 475.4,141.3 473.4,139.3 473.4,138.3 471.4,136.3 471.4,135.3 469.4,133.3 469.4,132.3 467.4,130.3 467.4,129.3 465.4,127.3 465.4,126.3 463.4,124.3 463.4,123.3 461.4,121.3 461.4,120.3 459.4,118.3 459.4,117.3 457.4,115.3 457.4,114.3 455.4,112.3 455.4,111.3 453.4,109.3 453.4,108.3 450.4,105.3 450.4,104.3 448.4,102.2 448.4,101.2 446.4,99.2 446.4,98.2 444.4,96.2 444.4,95.2 442.4,93.2 442.4,92.2 440.4,90.2 440.4,89.2 438.4,87.2 438.4,86.2 436.4,84.2 436.4,83.2 434.4,81.2 434.4,80.2 432.4,78.2 432.4,77.2 430.4,75.2 430.4,74.2 428.4,72.2 428.4,71.2 426.4,69.2 426.4,68.2 424.4,66.2 424.4,65.2 422.4,63.2 422.4,62.1 420.4,60.1 420.4,59.1 418.4,57.1 418.4,56.1 416.4,54.1 416.4,53.1 412.4,48.2 409.4,48.2 408.4,47.2 402.4,47.2 401.4,46.2 396.4,46.2 395.4,45.2 390.4,45.2 389.4,44.2 384.4,44.2 383.4,43.2 378.4,43.2 377.4,42.2 372.4,42.2 371.4,41.2 365.4,41.2 364.4,40.2 359.4,40.2 358.4,39.2 352.4,39.2 351.4,38.2 345.4,38.2 344.4,37.2 339.4,37.2 338.4,36.2 327.3,36.2 326.3,37.2 321.3,37.2 320.3,38.2 315.3,38.2 314.3,39.2 309.3,39.2 308.3,40.2 304.3,40.2 303.3,41.2 298.3,41.2 297.3,42.2 292.3,42.2 291.3,43.2 286.3,43.2 285.3,44.2 281.3,44.2 280.3,45.2 275.3,45.2 274.3,46.2 271.3,46.2 270.3,45.2 226.2,45.2 225.2,44.2 203.2,44.2 202.2,43.2 194.2,43.2 193.2,42.2 185.2,42.2 184.2,41.2 176.2,41.2 175.2,40.2 168.2,40.2 167.2,39.2 158.2,39.2 157.2,40.2 148.2,40.2 147.2,41.2 137.1,41.2 136.1,42.2 127.1,42.2 126.1,43.2 116.1,43.2 115.1,44.2 106.1,44.2 105.1,45.2 95.1,45.2 94.1,44.2 86.1,44.2 85.1,43.2 78.1,43.2 77.1,42.2 69.1,42.2 68.1,41.2 61.1,41.2 60.1,40.2 52.1,40.2 51.1,39.2 44,39.2 43,38.2 35,38.2 34,37.2 27,37.2 26,36.1 19,36.1 18,35.1 10,35.1 9,34.1 1,34.1 0,33.1 0,0Z"/>
<path fill="#9a80f2" fill-rule="evenodd" d="M0,0 568.6,0 568.6,248.6 559.5,248.6 558.5,247.6 558.5,246.6 553.5,241.6 553.5,240.6 545.5,231.6 545.5,230.6 541.5,226.5 541.5,225.5 536.5,220.5 536.5,219.5 532.5,215.5 532.5,214.5 524.5,205.5 524.5,204.5 519.5,199.5 519.5,198.5 515.5,194.5 515.5,193.5 507.5,184.4 507.5,183.4 504.5,180.4 504.5,179.4 500.5,175.4 500.5,174.4 497.5,171.4 497.5,170.4 489.5,161.4 489.5,160.4 486.5,157.4 486.5,156.4 482.5,152.4 482.5,151.4 479.5,148.4 479.5,147.4 477.4,145.4 477.4,144.3 475.4,142.3 475.4,141.3 473.4,139.3 473.4,138.3 471.4,136.3 471.4,135.3 469.4,133.3 469.4,132.3 467.4,130.3 467.4,129.3 465.4,127.3 465.4,126.3 463.4,124.3 463.4,123.3 461.4,121.3 461.4,120.3 459.4,118.3 459.4,117.3 457.4,115.3 457.4,114.3 455.4,112.3 455.4,111.3 453.4,109.3 453.4,108.3 450.4,105.3 450.4,104.3 448.4,102.2 448.4,101.2 446.4,99.2 446.4,98.2 444.4,96.2 444.4,95.2 442.4,93.2 442.4,92.2 440.4,90.2 440.4,89.2 438.4,87.2 438.4,86.2 436.4,84.2 436.4,83.2 434.4,81.2 434.4,80.2 432.4,78.2 432.4,77.2 430.4,75.2 430.4,74.2 428.4,72.2 428.4,71.2 426.4,69.2 426.4,68.2 424.4,66.2 424.4,65.2 422.4,63.2 422.4,62.2 420.4,60.1 420.4,59.1 418.4,57.1 418.4,56.1 416.4,54.1 416.4,53.1 412.4,48.2 409.4,48.2 408.4,47.2 402.4,47.2 401.4,46.2 396.4,46.2 395.4,45.2 390.4,45.2 389.4,44.2 384.4,44.2 383.4,43.2 378.4,43.2 377.4,42.2 372.4,42.2 371.4,41.2 365.4,41.2 364.4,40.2 359.4,40.2 358.4,39.2 352.4,39.2 351.4,38.2 345.4,38.2 344.4,37.2 339.4,37.2 338.4,36.2 327.3,36.1 326.3,37.2 321.3,37.2 320.3,38.2 315.3,38.2 314.3,39.2 309.3,39.2 308.3,40.2 304.3,40.2 303.3,41.2 298.3,41.2 297.3,42.2 292.3,42.2 291.3,43.2 286.3,43.2 285.3,44.2 281.3,44.2 280.3,45.2 275.3,45.2 274.3,46.2 271.3,46.2 270.3,45.2 226.2,45.2 225.2,44.2 203.2,44.2 202.2,43.2 194.2,43.2 193.2,42.2 185.2,42.2 184.2,41.2 176.2,41.2 175.2,40.2 168.2,40.2 167.2,39.2 158.2,39.2 157.2,40.2 148.2,40.2 147.2,41.2 137.1,41.2 136.1,42.2 127.1,42.2 126.1,43.2 116.1,43.2 115.1,44.2 106.1,44.2 105.1,45.2 95.1,45.2 94.1,44.2 86.1,44.2 85.1,43.2 78.1,43.2 77.1,42.2 69.1,42.2 68.1,41.2 61.1,41.2 60.1,40.2 52.1,40.2 51.1,39.2 44,39.2 43,38.2 35,38.2 34,37.1 27,37.1 26,36.1 19,36.1 18,35.1 10,35.1 9,34.1 1,34.1 0,33.1 0,0Z"/>
<path fill="#4343f3" fill-rule="evenodd" d="M0,0 568.6,0 568.6,248.6 559.6,248.6 558.6,247.6 558.6,246.6 553.5,241.6 553.5,240.6 545.5,231.6 545.5,230.6 541.5,226.5 541.5,225.5 536.5,220.5 536.5,219.5 532.5,215.5 532.5,214.5 524.5,205.5 524.5,204.5 519.5,199.5 519.5,198.5 515.5,194.5 515.5,193.5 507.5,184.4 507.5,183.4 504.5,180.4 504.5,179.4 500.5,175.4 500.5,174.4 497.5,171.4 497.5,170.4 489.5,161.4 489.5,160.4 486.5,157.4 486.5,156.4 482.5,152.4 482.5,151.4 479.5,148.4 479.5,147.4 477.5,145.4 477.5,144.3 475.4,142.3 475.4,141.3 473.4,139.3 473.4,138.3 471.4,136.3 471.4,135.3 469.4,133.3 469.4,132.3 467.4,130.3 467.4,129.3 465.4,127.3 465.4,126.3 463.4,124.3 463.4,123.3 461.4,121.3 461.4,120.3 459.4,118.3 459.4,117.3 457.4,115.3 457.4,114.3 455.4,112.3 455.4,111.3 453.4,109.3 453.4,108.3 450.4,105.3 450.4,104.3 448.4,102.2 448.4,101.2 446.4,99.2 446.4,98.2 444.4,96.2 444.4,95.2 442.4,93.2 442.4,92.2 440.4,90.2 440.4,89.2 438.4,87.2 438.4,86.2 436.4,84.2 436.4,83.2 434.4,81.2 434.4,80.2 432.4,78.2 432.4,77.2 430.4,75.2 430.4,74.2 428.4,72.2 428.4,71.2 426.4,69.2 426.4,68.2 424.4,66.2 424.4,65.2 422.4,63.2 422.4,62.1 420.4,60.1 420.4,59.1 418.4,57.1 418.4,56.1 416.4,54.1 416.4,53.1 412.4,48.2 409.4,48.2 408.4,47.2 402.4,47.2 401.4,46.2 396.4,46.2 395.4,45.2 390.4,45.2 389.4,44.2 384.4,44.2 383.4,43.2 378.4,43.2 377.4,42.2 372.4,42.2 371.4,41.2 365.4,41.2 364.4,40.2 359.4,40.2 358.4,39.2 352.4,39.2 351.4,38.2 345.4,38.2 344.4,37.2 339.4,37.2 338.4,36.1 327.3,36.1 326.3,37.1 321.3,37.1 320.3,38.2 315.3,38.2 314.3,39.2 309.3,39.2 308.3,40.2 304.3,40.2 303.3,41.2 298.3,41.2 297.3,42.2 292.3,42.2 291.3,43.2 286.3,43.2 285.3,44.2 281.3,44.2 280.3,45.2 275.3,45.2 274.3,46.2 271.3,46.2 270.3,45.2 226.2,45.2 225.2,44.2 203.2,44.2 202.2,43.2 194.2,43.2 193.2,42.2 185.2,42.2 184.2,41.2 176.2,41.2 175.2,40.2 168.2,40.2 167.2,39.2 158.2,39.2 157.2,40.2 148.2,40.2 147.2,41.2 137.1,41.2 136.1,42.2 127.1,42.2 126.1,43.2 116.1,43.2 115.1,44.2 106.1,44.2 105.1,45.2 95.1,45.2 94.1,44.2 86.1,44.2 85.1,43.2 78.1,43.2 77.1,42.2 69.1,42.2 68.1,41.2 61.1,41.2 60.1,40.2 52.1,40.2 51.1,39.2 44,39.2 43,38.1 35,38.1 34,37.1 27,37.1 26,36.1 19,36.1 18,35.1 10,35.1 9,34.1 1,34.1 0,33.1 0,0Z"/>
<path fill="#5959f0" fill-rule="evenodd" d="M0,0 568.6,0 568.6,248.6 559.6,248.6 558.6,247.6 558.6,246.6 553.6,241.6 553.6,240.6 545.5,231.6 545.5,230.6 541.5,226.5 541.5,225.5 536.5,220.5 536.5,219.5 532.5,215.5 532.5,214.5 524.5,205.5 524.5,204.5 519.5,199.5 519.5,198.5 515.5,194.5 515.5,193.5 507.5,184.4 507.5,183.4 504.5,180.4 504.5,179.4 500.5,175.4 500.5,174.4 497.5,171.4 497.5,170.4 489.5,161.4 489.5,160.4 486.5,157.4 486.5,156.4 482.5,152.4 482.5,151.4 479.5,148.4 479.5,147.4 477.5,145.4 477.5,144.3 475.5,142.3 475.5,141.3 473.5,139.3 473.5,138.3 471.5,136.3 471.5,135.3 469.5,133.3 469.4,132.3 467.4,130.3 467.4,129.3 465.4,127.3 465.4,126.3 463.4,124.3 463.4,123.3 461.4,121.3 461.4,120.3 459.4,118.3 459.4,117.3 457.4,115.3 457.4,114.3 455.4,112.3 455.4,111.3 453.4,109.3 453.4,108.3 450.4,105.3 450.4,104.3 448.4,102.2 448.4,101.2 446.4,99.2 446.4,98.2 444.4,96.2 444.4,95.2 442.4,93.2 442.4,92.2 440.4,90.2 440.4,89.2 438.4,87.2 438.4,86.2 436.4,84.2 436.4,83.2 434.4,81.2 434.4,80.2 432.4,78.2 432.4,77.2 430.4,75.2 430.4,74.2 428.4,72.2 428.4,71.2 426.4,69.2 426.4,68.2 424.4,66.2 424.4,65.2 422.4,63.2 422.4,62.1 420.4,60.1 420.4,59.1 418.4,57.1 418.4,56.1 416.4,54.1 416.4,53.1 412.4,48.2 409.4,48.2 408.4,47.2 402.4,47.2 401.4,46.2 396.4,46.2 395.4,45.2 390.4,45.2 389.4,44.2 384.4,44.2 383.4,43.2 378.4,43.2 377.4,42.2 372.4,42.2 371.4,41.2 365.4,41.2 364.4,40.2 359.4,40.2 358.4,39.2 352.4,39.2 351.4,38.1 345.4,38.1 344.4,37.1 339.4,37.1 338.4,36.1 327.3,36.1 326.3,37.1 321.3,37.1 320.3,38.1 315.3,38.1 314.3,39.1 309.3,39.1 308.3,40.1 304.3,40.1 303.3,41.1 298.3,41.1 297.3,42.2 292.3,42.2 291.3,43.2 286.3,43.2 285.3,44.2 281.3,44.2 280.3,45.2 275.3,45.2 274.3,46.2 271.3,46.2 270.3,45.2 226.2,45.2 225.2,44.2 203.2,44.2 202.2,43.2 194.2,43.2 193.2,42.2 185.2,42.2 184.2,41.2 176.2,41.2 175.2,40.2 168.2,40.2 167.2,39.2 158.2,39.2 157.2,40.2 148.2,40.2 147.2,41.2 137.1,41.2 136.1,42.2 127.1,42.2 126.1,43.2 116.1,43.2 115.1,44.2 106.1,44.2 105.1,45.2 95.1,45.2 94.1,44.2 86.1,44.2 85.1,43.2 78.1,43.2 77.1,42.2 69.1,42.2 68.1,41.2 61.1,41.2 60.1,40.2 52.1,40.1 51.1,39.1 44,39.1 43,38.1 35,38.1 34,37.1 27,37.1 26,36.1 19,36.1 18,35.1 10,35.1 9,34.1 1,34.1 0,33.1 0,0Z"/>
<path fill="#2a86e6" fill-rule="evenodd" d="M0,0 10.6,0 14,0.6 70.1,0.3 143.2,1.5 153.9,1 156.5,0 292.9,0 299.6,3 311.2,6 319.3,7.1 331.3,7.6 346.7,7 377.4,4.8 380,4 381.2,2 382.4,1.3 387.3,0 568.6,0 568.6,248.6 559.6,248.6 558.6,247.6 558.6,246.6 553.6,241.6 553.6,240.6 545.5,231.6 545.5,230.6 541.5,226.5 541.5,225.5 536.5,220.5 536.5,219.5 532.5,215.5 532.5,214.5 524.5,205.5 524.5,204.5 519.5,199.5 519.5,198.5 515.5,194.5 515.5,193.5 507.5,184.4 507.5,183.4 504.5,180.4 504.5,179.4 500.5,175.4 500.5,174.4 497.5,171.4 497.5,170.4 489.5,161.4 489.5,160.4 486.5,157.4 486.5,156.4 482.5,152.4 482.5,151.4 479.5,148.4 479.5,147.4 477.5,145.4 477.5,144.3 475.5,142.3 475.5,141.3 473.5,139.3 473.5,138.3 471.5,136.3 471.5,135.3 469.5,133.3 469.5,132.3 467.5,130.3 467.5,129.3 465.4,127.3 465.4,126.3 463.4,124.3 463.4,123.3 461.4,121.3 461.4,120.3 459.4,118.3 459.4,117.3 457.4,115.3 457.4,114.3 455.4,112.3 455.4,111.3 453.4,109.3 453.4,108.3 450.4,105.3 450.4,104.3 448.4,102.2 448.4,101.2 446.4,99.2 446.4,98.2 444.4,96.2 444.4,95.2 442.4,93.2 442.4,92.2 440.4,90.2 440.4,89.2 438.4,87.2 438.4,86.2 436.4,84.2 436.4,83.2 434.4,81.2 434.4,80.2 432.4,78.2 432.4,77.2 430.4,75.2 430.4,74.2 428.4,72.2 428.4,71.2 426.4,69.2 426.4,68.2 424.4,66.2 424.4,65.2 422.4,63.2 422.4,62.1 420.4,60.1 420.4,59.1 418.4,57.1 418.4,56.1 416.4,54.1 416.4,53.1 412.4,48.2 409.4,48.2 408.4,47.2 402.4,47.2 401.4,46.2 396.4,46.2 395.4,45.2 390.4,45.2 389.4,44.2 384.4,44.2 383.4,43.2 378.4,43.2 377.4,42.2 372.4,42.2 371.4,41.2 365.4,41.1 364.4,40.1 359.4,40.1 358.4,39.1 352.4,39.1 351.4,38.1 345.4,38.1 344.4,37.1 339.4,37.1 338.4,36.1 327.3,36.1 326.3,37.1 321.3,37.1 320.3,38.1 315.3,38.1 314.3,39.1 309.3,39.1 308.3,40.1 304.3,40.1 303.3,41.1 298.3,41.1 297.3,42.1 292.3,42.1 291.3,43.1 286.3,43.1 285.3,44.2 281.3,44.2 280.3,45.2 275.3,45.2 274.3,46.2 271.3,46.2 270.3,45.2 226.2,45.2 225.2,44.2 203.2,44.2 202.2,43.2 194.2,43.2 193.2,42.2 185.2,42.2 184.2,41.2 176.2,41.2 175.2,40.2 168.2,40.2 167.2,39.1 158.2,39.1 157.2,40.2 148.2,40.2 147.2,41.2 137.1,41.2 136.1,42.2 127.1,42.2 126.1,43.2 116.1,43.2 115.1,44.2 106.1,44.2 105.1,45.2 95.1,45.2 94.1,44.2 86.1,44.2 85.1,43.2 78.1,43.2 77.1,42.1 69.1,42.1 68.1,41.1 61.1,41.1 60.1,40.1 52.1,40.1 51.1,39.1 44,39.1 43,38.1 35,38.1 34,37.1 27,37.1 26,36.1 19,36.1 18,35.1 10,35.1 9,34.1 1,34.1 0,33.1 0,0Z"/>
<path fill="#3696f0" fill-rule="evenodd" d="M166.6,1 168.2,0 278.6,0 283.3,3 299.3,7.7 310.3,9.4 324.3,10 342.4,9.3 380.4,6.5 387.1,5 391.4,2.2 397.4,1.1 406.4,0.6 488.4,0 490.3,1 500.5,1.7 501.9,1 501.8,0 521.2,0 521,1 522.1,2 541.6,4 543.6,0 555.5,0 557,3 556.9,5 557.6,6 568.6,7.5 568.6,248.6 559.6,248.6 558.6,247.6 558.6,246.6 553.6,241.6 553.6,240.6 545.6,231.6 545.6,230.6 541.5,226.5 541.5,225.5 536.5,220.5 536.5,219.5 532.5,215.5 532.5,214.5 524.5,205.5 524.5,204.5 519.5,199.5 519.5,198.5 515.5,194.5 515.5,193.5 507.5,184.4 507.5,183.4 504.5,180.4 504.5,179.4 500.5,175.4 500.5,174.4 497.5,171.4 497.5,170.4 489.5,161.4 489.5,160.4 486.5,157.4 486.5,156.4 482.5,152.4 482.5,151.4 479.5,148.4 479.5,147.4 477.5,145.4 477.5,144.3 475.5,142.3 475.5,141.3 473.5,139.3 473.5,138.3 471.5,136.3 471.5,135.3 469.5,133.3 469.5,132.3 467.5,130.3 467.5,129.3 465.5,127.3 465.5,126.3 463.4,124.3 463.4,123.3 461.4,121.3 461.4,120.3 459.4,118.3 459.4,117.3 457.4,115.3 457.4,114.3 455.4,112.3 455.4,111.3 453.4,109.3 453.4,108.3 450.4,105.3 450.4,104.3 448.4,102.2 448.4,101.2 446.4,99.2 446.4,98.2 444.4,96.2 444.4,95.2 442.4,93.2 442.4,92.2 440.4,90.2 440.4,89.2 438.4,87.2 438.4,86.2 436.4,84.2 436.4,83.2 434.4,81.2 434.4,80.2 432.4,78.2 432.4,77.2 430.4,75.2 430.4,74.2 428.4,72.2 428.4,71.2 426.4,69.2 426.4,68.2 424.4,66.2 424.4,65.2 422.4,63.2 422.4,62.1 420.4,60.1 420.4,59.1 418.4,57.1 418.4,56.1 416.4,54.1 416.4,53.1 412.4,48.2 409.4,48.2 408.4,47.2 402.4,47.2 401.4,46.2 396.4,46.2 395.4,45.2 390.4,45.2 389.4,44.2 384.4,44.2 383.4,43.2 378.4,43.2 377.4,42.1 372.4,42.1 371.4,41.1 365.4,41.1 364.4,40.1 359.4,40.1 358.4,39.1 352.4,39.1 351.4,38.1 345.4,38.1 344.4,37.1 339.4,37.1 338.4,36.1 327.3,36.1 326.3,37.1 321.3,37.1 320.3,38.1 315.3,38.1 314.3,39.1 309.3,39.1 308.3,40.1 304.3,40.1 303.3,41.1 298.3,41.1 297.3,42.1 292.3,42.1 291.3,43.1 286.3,43.1 285.3,44.1 281.3,44.1 280.3,45.2 275.3,45.2 274.3,46.2 271.3,46.2 270.3,45.2 226.2,45.2 225.2,44.2 203.2,44.2 202.2,43.2 194.2,43.2 193.2,42.2 185.2,42.2 184.2,41.2 176.2,41.2 175.2,40.2 168.2,40.2 167.2,39.1 158.2,39.1 157.2,40.1 148.2,40.1 147.2,41.2 137.1,41.2 136.1,42.2 127.1,42.2 126.1,43.2 116.1,43.2 115.1,44.2 106.1,44.2 105.1,45.2 95.1,45.2 94.1,44.2 86.1,44.2 85.1,43.1 78.1,43.1 77.1,42.1 69.1,42.1 68.1,41.1 61.1,41.1 60.1,40.1 52.1,40.1 51.1,39.1 44,39.1 43,38.1 35,38.1 34,37.1 27,37.1 26,36.1 19,36.1 18,35.1 10,35.1 9,34.1 1,34.1 0,33.1 0,1.8 66.1,1.4 148.2,2.6 160.2,2.2 166.6,1Z"/>
<path fill="#44a8f6" fill-rule="evenodd" d="M174.8,1 177,0 269,0 275.3,4.4 284.3,7.5 299.3,10.6 315.3,11.7 337.4,10.8 381.4,7.6 388.4,6.5 389.7,6 392.4,3.3 397.4,2.5 436.5,2.3 470.5,2.9 482.5,3.3 504.5,5.6 521.6,6.2 568.6,13 568.6,248.6 559.6,248.6 558.6,247.6 558.6,246.6 553.6,241.6 553.6,240.6 545.6,231.6 545.6,230.6 541.5,226.5 541.5,225.5 536.5,220.5 536.5,219.5 532.5,215.5 532.5,214.5 524.5,205.5 524.5,204.5 519.5,199.5 519.5,198.5 515.5,194.5 515.5,193.5 507.5,184.4 507.5,183.4 504.5,180.4 504.5,179.4 500.5,175.4 500.5,174.4 497.5,171.4 497.5,170.4 489.5,161.4 489.5,160.4 486.5,157.4 486.5,156.4 482.5,152.4 482.5,151.4 479.5,148.4 479.5,147.4 477.5,145.4 477.5,144.3 475.5,142.3 475.5,141.3 473.5,139.3 473.5,138.3 471.5,136.3 471.5,135.3 469.5,133.3 469.5,132.3 467.5,130.3 467.5,129.3 465.5,127.3 465.5,126.3 463.5,124.3 463.5,123.3 461.4,121.3 461.4,120.3 459.4,118.3 459.4,117.3 457.4,115.3 457.4,114.3 455.4,112.3 455.4,111.3 453.4,109.3 453.4,108.3 450.4,105.3 450.4,104.3 448.4,102.2 448.4,101.2 446.4,99.2 446.4,98.2 444.4,96.2 444.4,95.2 442.4,93.2 442.4,92.2 440.4,90.2 440.4,89.2 438.4,87.2 438.4,86.2 436.4,84.2 436.4,83.2 434.4,81.2 434.4,80.2 432.4,78.2 432.4,77.2 430.4,75.2 430.4,74.2 428.4,72.2 428.4,71.2 426.4,69.2 426.4,68.2 424.4,66.2 424.4,65.2 422.4,63.2 422.4,62.1 420.4,60.1 420.4,59.1 418.4,57.1 418.4,56.1 416.4,54.1 416.4,53.1 412.4,48.2 409.4,48.2 408.4,47.2 402.4,47.2 401.4,46.2 396.4,46.2 395.4,45.2 390.4,45.2 389.4,44.1 384.4,44.2 383.4,43.1 378.4,43.1 377.4,42.1 372.4,42.1 371.4,41.1 365.4,41.1 364.4,40.1 359.4,40.1 358.4,39.1 352.4,39.1 351.4,38.1 345.4,38.1 344.4,37.1 339.4,37.1 338.4,36.1 327.3,36.1 326.3,37.1 321.3,37.1 320.3,38.1 315.3,38.1 314.3,39.1 309.3,39.1 308.3,40.1 304.3,40.1 303.3,41.1 298.3,41.1 297.3,42.1 292.3,42.1 291.3,43.1 286.3,43.1 285.3,44.1 281.3,44.1 280.3,45.1 275.3,45.2 274.3,46.2 271.3,46.2 270.3,45.2 226.2,45.2 225.2,44.2 203.2,44.2 202.2,43.2 194.2,43.2 193.2,42.2 185.2,42.2 184.2,41.2 176.2,41.2 175.2,40.1 168.2,40.1 167.2,39.1 158.2,39.1 157.2,40.1 148.2,40.1 147.2,41.1 137.1,41.1 136.1,42.1 127.1,42.1 126.1,43.2 116.1,43.1 115.1,44.2 106.1,44.1 105.1,45.2 95.1,45.2 94.1,44.1 86.1,44.1 85.1,43.1 78.1,43.1 77.1,42.1 69.1,42.1 68.1,41.1 61.1,41.1 60.1,40.1 52.1,40.1 51.1,39.1 44,39.1 43,38.1 35,38.1 34,37.1 27,37.1 26,36.1 19,36.1 18,35.1 10,35.1 9,34.1 1,34.1 0,33.1 0,2.5 63.1,2 153.2,3.4 162.2,3 174.8,1ZM469.8,0 486.1,0 484.5,0.7 472.5,0.9 470.5,0.6 469.8,0ZM504.2,0 518.9,0 517.5,0.4 507.5,0.5 504.2,0ZM545.1,1 545.8,0 554,0 554.5,2 554.3,3 553.6,3.3 548.6,3.4 545.3,2 545.1,1Z"/>
<path fill="#00e6a0" fill-rule="evenodd" d="M182.7,1 185.5,0 259.2,0 267.8,6 277.8,10 291.3,12.9 306.3,13.9 318.3,13.5 380.4,9 389.4,7.8 394.4,5.6 412.4,4.1 436.5,3.9 463.5,4.7 476.5,5.5 515.5,10.3 568.6,18.8 568.6,248.6 559.6,248.6 558.6,247.6 558.6,246.6 553.6,241.6 553.6,240.6 545.6,231.6 545.6,230.6 541.6,226.5 541.6,225.5 536.5,220.5 536.5,219.5 532.5,215.5 532.5,214.5 524.5,205.5 524.5,204.5 519.5,199.5 519.5,198.5 515.5,194.5 515.5,193.5 507.5,184.4 507.5,183.4 504.5,180.4 504.5,179.4 500.5,175.4 500.5,174.4 497.5,171.4 497.5,170.4 489.5,161.4 489.5,160.4 486.5,157.4 486.5,156.4 482.5,152.4 482.5,151.4 479.5,148.4 479.5,147.4 477.5,145.4 477.5,144.3 475.5,142.3 475.5,141.3 473.5,139.3 473.5,138.3 471.5,136.3 471.5,135.3 469.5,133.3 469.5,132.3 467.5,130.3 467.5,129.3 465.5,127.3 465.5,126.3 463.5,124.3 463.5,123.3 461.5,121.3 461.5,120.3 459.4,118.3 459.4,117.3 457.4,115.3 457.4,114.3 455.4,112.3 455.4,111.3 453.4,109.3 453.4,108.3 450.4,105.3 450.4,104.3 448.4,102.2 448.4,101.2 446.4,99.2 446.4,98.2 444.4,96.2 444.4,95.2 442.4,93.2 442.4,92.2 440.4,90.2 440.4,89.2 438.4,87.2 438.4,86.2 436.4,84.2 436.4,83.2 434.4,81.2 434.4,80.2 432.4,78.2 432.4,77.2 430.4,75.2 430.4,74.2 428.4,72.2 428.4,71.2 426.4,69.2 426.4,68.2 424.4,66.2 424.4,65.2 422.4,63.2 422.4,62.1 420.4,60.1 420.4,59.1 418.4,57.1 418.4,56.1 416.4,54.1 416.4,53.1 412.4,48.2 409.4,48.2 408.4,47.2 402.4,47.2 401.4,46.2 396.4,46.2 395.4,45.1 390.4,45.1 389.4,44.1 384.4,44.1 383.4,43.1 378.4,43.1 377.4,42.1 372.4,42.1 371.4,41.1 365.4,41.1 364.4,40.1 359.4,40.1 358.4,39.1 352.4,39.1 351.4,38.1 345.4,38.1 344.4,37.1 339.4,37.1 338.4,36.1 327.3,36.1 326.3,37.1 321.3,37.1 320.3,38.1 315.3,38.1 314.3,39.1 309.3,39.1 308.3,40.1 304.3,40.1 303.3,41.1 298.3,41.1 297.3,42.1 292.3,42.1 291.3,43.1 286.3,43.1 285.3,44.1 281.3,44.1 280.3,45.1 275.3,45.1 274.3,46.2 271.3,46.2 270.3,45.2 226.2,45.2 225.2,44.2 203.2,44.2 202.2,43.2 194.2,43.2 193.2,42.2 185.2,42.2 184.2,41.1 176.2,41.1 175.2,40.1 168.2,40.1 167.2,39.1 158.2,39.1 157.2,40.1 148.2,40.1 147.2,41.1 137.1,41.1 136.1,42.1 127.1,42.1 126.1,43.1 116.1,43.1 115.1,44.1 106.1,44.1 105.1,45.1 95.1,45.1 94.1,44.1 86.1,44.1 85.1,43.1 78.1,43.1 77.1,42.1 69.1,42.1 68.1,41.1 61.1,41.1 60.1,40.1 52.1,40.1 51.1,39.1 44,39.1 43,38.1 35,38.1 34,37.1 27,37.1 26,36.1 19,36.1 18,35.1 10,35.1 9,34.1 1,34.1 0,33.1 0,3.2 64.1,2.6 154.2,4.3 165.2,3.7 182.7,1Z"/>
<path fill="#14c850" fill-rule="evenodd" d="M196.8,1 202.9,0 247.6,0 257.3,8 268.3,14.8 279.3,18.7 291.3,20.5 304.3,19.9 332.8,15 382.4,11.6 414.4,7.6 442.5,7.8 470.5,9.5 474.8,10 479.5,11.8 504.5,17 544.6,27.6 568.6,32.1 568.6,248.6 559.6,248.6 558.6,247.6 558.6,246.6 553.6,241.6 553.6,240.6 545.6,231.6 545.6,230.6 541.6,226.5 541.6,225.5 536.6,220.5 536.6,219.5 532.6,215.5 532.6,214.5 524.5,205.5 524.5,204.5 519.5,199.5 519.5,198.5 515.5,194.5 515.5,193.5 507.5,184.4 507.5,183.4 504.5,180.4 504.5,179.4 500.5,175.4 500.5,174.4 497.5,171.4 497.5,170.4 489.5,161.4 489.5,160.4 486.5,157.4 486.5,156.4 482.5,152.4 482.5,151.4 479.5,148.4 479.5,147.4 477.5,145.4 477.5,144.3 475.5,142.3 475.5,141.3 473.5,139.3 473.5,138.3 471.5,136.3 471.5,135.3 469.5,133.3 469.5,132.3 467.5,130.3 467.5,129.3 465.5,127.3 465.5,126.3 463.5,124.3 463.5,123.3 461.5,121.3 461.5,120.3 459.5,118.3 459.5,117.3 457.5,115.3 457.5,114.3 455.4,112.3 455.4,111.3 453.4,109.3 453.4,108.3 450.4,105.3 450.4,104.3 448.4,102.2 448.4,101.2 446.4,99.2 446.4,98.2 444.4,96.2 444.4,95.2 442.4,93.2 442.4,92.2 440.4,90.2 440.4,89.2 438.4,87.2 438.4,86.2 436.4,84.2 436.4,83.2 434.4,81.2 434.4,80.2 432.4,78.2 432.4,77.2 430.4,75.2 430.4,74.2 428.4,72.2 428.4,71.2 426.4,69.2 426.4,68.2 424.4,66.2 424.4,65.2 422.4,63.2 422.4,62.1 420.4,60.1 420.4,59.1 418.4,57.1 418.4,56.1 416.4,54.1 416.4,53.1 412.4,48.2 409.4,48.1 408.4,47.1 402.4,47.1 401.4,46.1 396.4,46.1 395.4,45.1 390.4,45.1 389.4,44.1 384.4,44.1 383.4,43.1 378.4,43.1 377.4,42.1 372.4,42.1 371.4,41.1 365.4,41.1 364.4,40.1 359.4,40.1 358.4,39.1 352.4,39.1 351.4,38.1 345.4,38.1 344.4,37.1 339.4,37.1 338.4,36.1 327.3,36.1 326.3,37.1 321.3,37.1 320.3,38.1 315.3,38.1 314.3,39.1 309.3,39.1 308.3,40.1 304.3,40.1 303.3,41.1 298.3,41.1 297.3,42.1 292.3,42.1 291.3,43.1 286.3,43.1 285.3,44.1 281.3,44.1 280.3,45.1 275.3,45.1 274.3,46.1 271.3,46.1 270.3,45.1 226.2,45.2 225.2,44.2 203.2,44.2 202.2,43.1 194.2,43.1 193.2,42.1 185.2,42.1 184.2,41.1 176.2,41.1 175.2,40.1 168.2,40.1 167.2,39.1 158.2,39.1 157.2,40.1 148.2,40.1 147.2,41.1 137.1,41.1 136.1,42.1 127.1,42.1 126.1,43.1 116.1,43.1 115.1,44.1 106.1,44.1 105.1,45.1 95.1,45.1 94.1,44.1 86.1,44.1 85.1,43.1 78.1,43.1 77.1,42.1 69.1,42.1 68.1,41.1 61.1,41.1 60.1,40.1 52.1,40.1 51.1,39.1 44,39.1 43,38.1 35,38.1 34,37.1 27,37.1 26,36.1 19,36.1 18,35.1 10,35.1 9,34.1 1,34.1 0,33.1 0,5.4 34,4.2 74.1,4.4 105.1,5.2 138.1,7.8 155.2,8.4 163.2,7.5 196.8,1Z"/>
<path fill="#22d832" fill-rule="evenodd" d="M221.5,1 230,0 240.4,0 256.3,16.7 263.3,22.2 268.7,25.1 274.3,26.9 286.3,28.8 291.3,28.7 300.6,27.1 324.3,20 339.4,17.5 407.4,11.2 420.4,11 431.5,11.6 456.5,15.5 475.5,19.5 481.9,23.1 527.8,39.1 550.5,46.1 568.6,50.8 568.6,241.4 547.6,233.5 545.6,231.6 545.6,230.6 541.6,226.5 541.6,225.5 536.6,220.5 536.6,219.5 532.6,215.5 532.6,214.5 528.6,210.5 528.6,209.5 524.5,205.5 524.5,204.5 519.5,199.5 519.5,198.5 515.5,194.5 515.5,193.5 507.5,184.4 507.5,183.4 504.5,180.4 504.5,179.4 500.5,175.4 500.5,174.4 497.5,171.4 497.5,170.4 493.5,166.4 493.5,165.4 489.5,161.4 489.5,160.4 486.5,157.4 486.5,156.4 482.5,152.4 482.5,151.4 479.5,148.4 479.5,147.4 477.5,145.4 477.5,144.3 475.5,142.3 475.5,141.3 473.5,139.3 473.5,138.3 471.5,136.3 471.5,135.3 469.5,133.3 469.5,132.3 467.5,130.3 467.5,129.3 465.5,127.3 465.5,126.3 463.5,124.3 463.5,123.3 461.5,121.3 461.5,120.3 459.5,118.3 459.5,117.3 457.5,115.3 457.5,114.3 455.5,112.3 455.5,111.3 453.5,109.3 453.5,108.3 450.4,105.3 450.4,104.3 448.4,102.2 448.4,101.2 446.4,99.2 446.4,98.2 444.4,96.2 444.4,95.2 442.4,93.2 442.4,92.2 440.4,90.2 440.4,89.2 438.4,87.2 438.4,86.2 436.4,84.2 436.4,83.2 434.4,81.2 434.4,80.2 432.4,78.2 432.4,77.2 430.4,75.2 430.4,74.2 428.4,72.2 428.4,71.2 426.4,69.2 426.4,68.2 424.4,66.2 424.4,65.2 422.4,63.2 422.4,62.1 420.4,60.1 420.4,59.1 418.4,57.1 418.4,56.1 416.4,54.1 416.4,53.1 412.4,48.1 409.4,48.1 408.4,47.1 402.4,47.1 401.4,46.1 396.4,46.1 395.4,45.1 390.4,45.1 389.4,44.1 384.4,44.1 383.4,43.1 378.4,43.1 377.4,42.1 372.4,42.1 371.4,41.1 365.4,41.1 364.4,40.1 359.4,40.1 358.4,39.1 352.4,39.1 351.4,38.1 345.4,38.1 344.4,37.1 339.4,37.1 338.4,36.1 327.3,36.1 326.3,37.1 321.3,37.1 320.3,38.1 315.3,38.1 314.3,39.1 309.3,39.1 308.3,40.1 304.3,40.1 303.3,41.1 298.3,41.1 297.3,42.1 292.3,42.1 291.3,43.1 286.3,43.1 285.3,44.1 281.3,44.1 280.3,45.1 275.3,45.1 274.3,46.1 271.3,46.1 270.3,45.1 226.2,45.1 225.2,44.1 203.2,44.1 202.2,43.1 194.2,43.1 193.2,42.1 185.2,42.1 184.2,41.1 176.2,41.1 175.2,40.1 168.2,40.1 167.2,39.1 158.2,39.1 157.2,40.1 148.2,40.1 147.2,41.1 137.1,41.1 136.1,42.1 127.1,42.1 126.1,43.1 116.1,43.1 115.1,44.1 106.1,44.1 105.1,45.1 95.1,45.1 94.1,44.1 86.1,44.1 85.1,43.1 78.1,43.1 77.1,42.1 69.1,42.1 68.1,41.1 61.1,41.1 60.1,40.1 52.1,40.1 51.1,39.1 44,39.1 43,38.1 35,38.1 34,37.1 27,37.1 26,36.1 19,36.1 18,35.1 10,35.1 9,34.1 1,34.1 0,33.1 0,10.2 2,9.7 25,7.6 50.1,6.6 77.1,6.8 105.1,8.6 112.1,10.1 117.8,13 120.8,16 126.1,25.1 128.4,27.1 132.1,29 144,31.1 158.2,31.1 163.6,30.1 168.2,27.8 171.2,24 174.1,18 176.3,15 180.2,11.5 185.2,8.6 192.2,5.9 200.2,3.7 221.5,1Z"/>
<path fill="#30d539" fill-rule="evenodd" d="M220.7,4 235.2,3.1 238.3,3.7 240.3,6 242.3,10.5 248.3,15.9 255.1,23.1 260.3,27 264.3,29.2 269.3,31.1 286.3,34.9 290.3,34.2 299.3,30.7 319,26.1 330.3,21.6 340.4,19.6 405.4,13.3 416.4,13.2 430.5,14.2 475.5,22.9 477.6,24.1 479.2,27.1 480.5,28.2 506.5,38.7 536.6,49.9 568.6,59.9 568.6,230.8 557.6,224.7 550.6,219.1 518.5,183.3 511.5,176.2 508.5,174.8 504.5,179.1 500.5,175.4 500.5,174.4 497.5,171.4 497.5,170.4 493.5,166.4 493.5,165.4 489.5,161.4 489.5,160.4 486.5,157.4 486.5,156.4 482.5,152.4 482.5,151.4 479.5,148.4 479.5,147.4 477.5,145.4 477.5,144.3 475.5,142.3 475.5,141.3 473.5,139.3 473.5,138.3 471.5,136.3 471.5,135.3 469.5,133.3 469.5,132.3 467.5,130.3 467.5,129.3 465.5,127.3 465.5,126.3 463.5,124.3 463.5,123.3 461.5,121.3 461.5,120.3 459.5,118.3 459.5,117.3 457.5,115.3 457.5,114.3 455.5,112.3 455.5,111.3 453.5,109.3 453.5,108.3 450.5,105.3 450.5,104.3 448.5,102.2 448.5,101.2 446.4,99.2 446.4,98.2 444.4,96.2 444.4,95.2 442.4,93.2 442.4,92.2 440.4,90.2 440.4,89.2 438.4,87.2 438.4,86.2 436.4,84.2 436.4,83.2 434.4,81.2 434.4,80.2 432.4,78.2 432.4,77.2 430.4,75.2 430.4,74.2 428.4,72.2 428.4,71.2 426.4,69.2 426.4,68.2 424.4,66.2 424.4,65.2 422.4,63.2 422.4,62.1 420.4,60.1 420.4,59.1 418.4,57.1 418.4,56.1 416.4,54.1 416.4,53.1 412.4,48.1 409.4,48.1 408.4,47.1 402.4,47.1 401.4,46.1 396.4,46.1 395.4,45.1 390.4,45.1 389.4,44.1 384.4,44.1 383.4,43.1 378.4,43.1 377.4,42.1 372.4,42.1 371.4,41.1 365.4,41.1 364.4,40.1 359.4,40.1 358.4,39.1 352.4,39.1 351.4,38.1 345.4,38.1 344.4,37.1 339.4,37.1 338.4,36.1 327.3,36.1 326.3,37.1 321.3,37.1 320.3,38.1 315.3,38.1 314.3,39.1 309.3,39.1 308.3,40.1 304.3,40.1 303.3,41.1 298.3,41.1 297.3,42.1 292.3,42.1 291.3,43.1 286.3,43.1 285.3,44.1 281.3,44.1 280.3,45.1 275.3,45.1 274.3,46.1 271.3,46.1 270.3,45.1 226.2,45.1 225.2,44.1 203.2,44.1 202.2,43.1 194.2,43.1 193.2,42.1 185.2,42.1 184.2,41.1 176.2,41.1 175.2,40.1 168.2,40.1 167.2,39.1 158.2,39.1 157.2,40.1 148.2,40.1 147.2,41.1 137.1,41.1 136.1,42.1 127.1,42.1 126.1,43.1 116.1,43.1 115.1,44.1 106.1,44.1 105.1,45.1 95.1,45.1 94.1,44.1 86.1,44.1 85.1,43.1 78.1,43.1 77.1,42.1 69.1,42.1 68.1,41.1 61.1,41.1 60.1,40.1 52.1,40.1 51.1,39.1 44,39.1 43,38.1 35,38.1 34,37.1 27,37.1 26,36.1 19,36.1 18,35.1 10,35.1 9,34.1 1,34.1 0,33.1 0,18.9 3,18.7 5,20.6 7,21.4 19,15.1 26,12.9 45.9,10 66.1,9 90.1,10 99.1,11.2 106.5,13 110.2,15 113.1,18 114.7,23.1 117.1,27.3 120.1,29.5 125.1,31.5 133.1,33 142.2,33.8 154.2,34 165.2,33.4 170.2,32.2 173.2,30.2 180.2,18 184.2,14.2 189.2,11.1 195.2,8.6 202.2,6.6 220.7,4Z"/>
<path fill="#4dce48" fill-rule="evenodd" d="M223.4,4 235.2,3.5 238,4 239.8,6 240.6,9 241.8,11 247.3,15.7 254.3,23.1 259.3,27.1 264.3,29.8 269.3,31.6 286.3,35.5 289.3,35 299.2,31.1 319.3,26.4 329.9,22.1 339.4,20 405.4,13.5 417.4,13.5 430.5,14.5 456.1,19 475.5,23.1 477.2,24.1 478.7,27.1 480.5,28.8 504.5,38.6 535.6,50.3 568.6,60.8 568.6,229.2 558.5,223.5 550.6,217.2 507.5,169.7 504.5,168.1 503.5,168.6 499.5,173.3 497.5,171.4 497.5,170.4 493.5,166.4 493.5,165.4 489.5,161.4 489.5,160.4 486.5,157.4 486.5,156.4 482.5,152.4 482.5,151.4 479.5,148.4 479.5,147.4 477.5,145.4 477.5,144.3 475.5,142.3 475.5,141.3 473.5,139.3 473.5,138.3 471.5,136.3 471.5,135.3 469.5,133.3 469.5,132.3 467.5,130.3 467.5,129.3 465.5,127.3 465.5,126.3 463.5,124.3 463.5,123.3 461.5,121.3 461.5,120.3 459.5,118.3 459.5,117.3 457.5,115.3 457.5,114.3 455.5,112.3 455.5,111.3 453.5,109.3 453.5,108.3 450.5,105.3 450.5,104.3 448.5,102.2 448.5,101.2 446.4,99.2 446.4,98.2 444.4,96.2 444.4,95.2 442.4,93.2 442.4,92.2 440.4,90.2 440.4,89.2 438.4,87.2 438.4,86.2 436.4,84.2 436.4,83.2 434.4,81.2 434.4,80.2 432.4,78.2 432.4,77.2 430.4,75.2 430.4,74.2 428.4,72.2 428.4,71.2 426.4,69.2 426.4,68.2 424.4,66.2 424.4,65.2 422.4,63.2 422.4,62.1 420.4,60.1 420.4,59.1 418.4,57.1 418.4,56.1 416.4,54.1 416.4,53.1 412.4,48.1 409.4,48.1 408.4,47.1 402.4,47.1 401.4,46.1 396.4,46.1 395.4,45.1 390.4,45.1 389.4,44.1 384.4,44.1 383.4,43.1 378.4,43.1 377.4,42.1 372.4,42.1 371.4,41.1 365.4,41.1 364.4,40.1 359.4,40.1 358.4,39.1 352.4,39.1 351.4,38.1 345.4,38.1 344.4,37.1 339.4,37.1 338.4,36.1 327.3,36.1 326.3,37.1 321.3,37.1 320.3,38.1 315.3,38.1 314.3,39.1 309.3,39.1 308.3,40.1 304.3,40.1 303.3,41.1 298.3,41.1 297.3,42.1 292.3,42.1 291.3,43.1 286.3,43.1 285.3,44.1 281.3,44.1 280.3,45.1 275.3,45.1 274.3,46.1 271.3,46.1 270.3,45.1 226.2,45.1 225.2,44.1 203.2,44.1 202.2,43.1 194.2,43.1 193.2,42.1 185.2,42.1 184.2,41.1 176.2,41.1 175.2,40.1 168.2,40.1 167.2,39.1 158.2,39.1 157.2,40.1 148.2,40.1 147.2,41.1 137.1,41.1 136.1,42.1 127.1,42.1 126.1,43.1 116.1,43.1 115.1,44.1 106.1,44.1 105.1,45.1 95.1,45.1 94.1,44.1 86.1,44.1 85.1,43.1 78.1,43.1 77.1,42.1 69.1,42.1 68.1,41.1 61.1,41.1 60.1,40.1 52.1,40.1 51.1,39.1 44,39.1 43,38.1 35,38.1 34,37.1 27,37.1 26,36.1 19,36.1 18,35.1 10,35.1 9,34.1 1,34.1 0,33.1 0,19.9 2.8,20 5,22.6 6,23 8,22.3 19,16 27,13.3 46,10.4 66.1,9.2 90.1,10.3 100.1,11.8 106.1,13.4 109.2,15 112.1,18 114.1,24 116.6,28.1 119.7,30.1 124.1,31.7 133.1,33.3 143.1,34.1 156.2,34.2 166.2,33.5 170.2,32.5 173.2,30.7 180.8,18 185.2,14 190.2,11 195.2,9 202.2,7 223.4,4Z"/>
<path fill="#5dcb50" fill-rule="evenodd" d="M231.6,4 236.2,3.9 238.3,4.8 239.2,6 240.9,11 247.3,16.4 254.6,24.1 260.3,28.4 269.3,32.2 286.3,36.2 289.3,35.5 300.6,31.1 319.3,26.8 330.9,22.1 340.4,20 404.4,13.8 416.4,13.7 430.5,14.8 460.1,20 475.5,23.4 476.8,24.1 478.9,28.1 480.5,29.4 503.5,38.9 534.6,50.8 568.6,61.7 568.6,226.9 557.6,220.4 548.6,212.5 494.5,152 483.1,140.3 480.5,139.1 477.3,139.3 496.3,161.4 497.1,163.4 496.9,164.4 494.6,167.4 493.5,166.4 493.5,165.4 489.5,161.4 489.5,160.4 486.5,157.4 486.5,156.4 482.5,152.4 482.5,151.4 479.5,148.4 479.5,147.4 477.5,145.4 477.5,144.3 475.5,142.3 475.5,141.3 473.5,139.3 473.5,138.3 471.5,136.3 471.5,135.3 469.5,133.3 469.5,132.3 467.5,130.3 467.5,129.3 465.5,127.3 465.5,126.3 463.5,124.3 463.5,123.3 461.5,121.3 461.5,120.3 459.5,118.3 459.5,117.3 457.5,115.3 457.5,114.3 455.5,112.3 455.5,111.3 453.5,109.3 453.5,108.3 450.5,105.3 450.5,104.3 448.5,102.2 448.5,101.2 446.4,99.2 446.4,98.2 444.4,96.2 444.4,95.2 442.4,93.2 442.4,92.2 440.4,90.2 440.4,89.2 438.4,87.2 438.4,86.2 436.4,84.2 436.4,83.2 434.4,81.2 434.4,80.2 432.4,78.2 432.4,77.2 430.4,75.2 430.4,74.2 428.4,72.2 428.4,71.2 426.4,69.2 426.4,68.2 424.4,66.2 424.4,65.2 422.4,63.2 422.4,62.1 420.4,60.1 420.4,59.1 418.4,57.1 418.4,56.1 416.4,54.1 416.4,53.1 412.4,48.1 409.4,48.1 408.4,47.1 402.4,47.1 401.4,46.1 396.4,46.1 395.4,45.1 390.4,45.1 389.4,44.1 384.4,44.1 383.4,43.1 378.4,43.1 377.4,42.1 372.4,42.1 371.4,41.1 365.4,41.1 364.4,40.1 359.4,40.1 358.4,39.1 352.4,39.1 351.4,38.1 345.4,38.1 344.4,37.1 339.4,37.1 338.4,36.1 327.3,36.1 326.3,37.1 321.3,37.1 320.3,38.1 315.3,38.1 314.3,39.1 309.3,39.1 308.3,40.1 304.3,40.1 303.3,41.1 298.3,41.1 297.3,42.1 292.3,42.1 291.3,43.1 286.3,43.1 285.3,44.1 281.3,44.1 280.3,45.1 275.3,45.1 274.3,46.1 271.3,46.1 270.3,45.1 226.2,45.1 225.2,44.1 203.2,44.1 202.2,43.1 194.2,43.1 193.2,42.1 185.2,42.1 184.2,41.1 176.2,41.1 175.2,40.1 168.2,40.1 167.2,39.1 158.2,39.1 157.2,40.1 148.2,40.1 147.2,41.1 137.1,41.1 136.1,42.1 127.1,42.1 126.1,43.1 116.1,43.1 115.1,44.1 106.1,44.1 105.1,45.1 95.1,45.1 94.1,44.1 86.1,44.1 85.1,43.1 78.1,43.1 77.1,42.1 69.1,42.1 68.1,41.1 61.1,41.1 60.1,40.1 52.1,40.1 51.1,39.1 44,39.1 43,38.1 35,38.1 34,37.1 27,37.1 26,36.1 19,36.1 18,35.1 10,35.1 9,34.1 1.3,34.1 7.2,29.1 8.1,27.1 7.8,25.1 9,23.1 19,17 23.7,15 32,12.8 44,11 67.1,9.5 91.1,10.8 99.4,12 106.1,13.9 109.1,15.7 111.2,18 113.2,24.1 116.1,28.9 119.1,30.6 123.8,32.1 132.1,33.4 142.2,34.2 155.2,34.4 166.2,33.7 170.2,32.9 173.4,31.1 181.4,18 185.2,14.6 191.2,11 198.2,8.4 206.2,6.6 223.2,4.4 231.6,4Z"/>
<path fill="#5eca51" fill-rule="evenodd" d="M220.7,5 234.2,4.3 237.3,4.7 238.6,6 240.3,11.3 247.3,17.2 254.3,24.6 258.7,28.1 267.3,32.2 285.3,36.8 288.3,36.4 302.4,31.1 321.3,26.8 332,22.1 342.4,20 404.5,14 416.4,14 430.5,15.1 458.7,20 475.5,23.7 477.2,25.1 478.3,28.1 479.5,29.5 502.5,39.3 534.6,51.6 568.6,62.7 568.6,223.9 557.6,217.2 547.6,208.2 518.5,176.6 496.5,151.1 486.9,141.3 482.5,138 476.5,136.6 469.5,133.3 469.5,132.3 465.5,127.3 465.5,126.3 463.5,124.3 463.5,123.3 461.5,121.3 461.5,120.3 459.5,118.3 459.5,117.3 457.5,115.3 457.5,114.3 455.5,112.3 455.5,111.3 453.5,109.3 453.5,108.3 450.5,105.3 450.5,104.3 448.5,102.2 448.5,101.2 446.5,99.2 446.5,98.2 444.4,96.2 444.4,95.2 442.4,93.2 442.4,92.2 440.4,90.2 440.4,89.2 438.4,87.2 438.4,86.2 436.4,84.2 436.4,83.2 434.4,81.2 434.4,80.2 432.4,78.2 432.4,77.2 430.4,75.2 430.4,74.2 428.4,72.2 428.4,71.2 426.4,69.2 426.4,68.2 424.4,66.2 424.4,65.2 422.4,63.2 422.4,62.1 420.4,60.1 420.4,59.1 418.4,57.1 418.4,56.1 416.4,54.1 416.4,53.1 412.4,48.1 409.4,48.1 408.4,47.1 402.4,47.1 401.4,46.1 396.4,46.1 395.4,45.1 390.4,45.1 389.4,44.1 384.4,44.1 383.4,43.1 378.4,43.1 377.4,42.1 372.4,42.1 371.4,41.1 365.4,41.1 364.4,40.1 359.4,40.1 358.4,39.1 352.4,39.1 351.4,38.1 345.4,38.1 344.4,37.1 339.4,37.1 338.4,36.1 327.3,36.1 326.3,37.1 321.3,37.1 320.3,38.1 315.3,38.1 314.3,39.1 309.3,39.1 308.3,40.1 304.3,40.1 303.3,41.1 298.3,41.1 297.3,42.1 292.3,42.1 291.3,43.1 286.3,43.1 285.3,44.1 281.3,44.1 280.3,45.1 275.3,45.1 274.3,46.1 271.3,46.1 270.3,45.1 226.2,45.1 225.2,44.1 203.2,44.1 202.2,43.1 194.2,43.1 193.2,42.1 185.2,42.1 184.2,41.1 176.2,41.1 175.2,40.1 168.2,40.1 167.2,39.1 158.2,39.1 157.2,40.1 148.2,40.1 147.2,41.1 137.1,41.1 136.1,42.1 127.1,42.1 126.1,43.1 116.1,43.1 115.1,44.1 106.1,44.1 105.1,45.1 95.1,45.1 94.1,44.1 86.1,44.1 85.1,43.1 78.1,43.1 77.1,42.1 69.1,42.1 68.1,41.1 61.1,41.1 60.1,40.1 52.1,40.1 51.1,39.1 44,39.1 43,38.1 35,38.1 34,37.1 27,37.1 26,36.1 19,36.1 18,35.1 10,35.1 9,34.1 2.6,34.1 5.4,32.1 8.3,29.1 9.5,25.1 11.1,23.1 20,17.5 25,15.3 32,13.4 44,11.5 67.1,9.8 90.4,11 97.3,12 105.1,14 108.1,15.7 110.3,18 111.3,20 112.1,24.1 115.1,29.3 118.2,31.1 121.5,32.1 131.1,33.6 141.1,34.4 155.2,34.6 166.2,34 170.5,33.1 174,31.1 181.2,19 185.3,15 190.1,12 195.2,9.8 202.2,7.7 220.7,5ZM477.5,145.4 477.5,144.7 478.1,145.4 477.5,145.4ZM478.5,146.4 478.5,145.8 479,146.4 478.5,146.4ZM479.5,147.4 488.6,157.4 489.6,159.4 489.5,160.5 486.5,157.4 486.5,156.4 482.5,152.4 482.5,151.4 479.5,148.4 479.5,147.4Z"/>
<path fill="#60ca52" fill-rule="evenodd" d="M224.1,5 236.7,5 238.3,6.8 238.9,10 240,12 246.3,17.1 253.3,24.5 258.3,28.5 262.3,30.8 267.3,32.8 285.3,37.4 288.3,37 300.9,32.1 321.3,27.3 333.3,22.1 345.4,20 395.4,15 409.4,14.1 428.5,15.1 451.6,19 475.5,24 476.8,25.1 478.3,29.1 480.5,30.7 526.6,49.6 568.6,63.7 568.6,220.8 564.6,218.8 557.6,213.9 547.6,205 520,175.4 497.6,149.4 489.5,141.3 483.5,136.9 475.5,135.1 469.5,132.3 467.5,130.3 467.5,129.3 465.5,127.3 465.5,126.3 463.5,124.3 463.5,123.3 461.5,121.3 461.5,120.3 459.5,118.3 459.5,117.3 457.5,115.3 457.5,114.3 453.5,109.3 453.5,108.3 450.5,105.3 450.5,104.3 448.5,102.2 448.5,101.2 446.5,99.2 446.5,98.2 444.4,96.2 444.4,95.2 442.4,93.2 442.4,92.2 440.4,90.2 440.4,89.2 438.4,87.2 438.4,86.2 436.4,84.2 436.4,83.2 434.4,81.2 434.4,80.2 432.4,78.2 432.4,77.2 430.4,75.2 430.4,74.2 428.4,72.2 428.4,71.2 426.4,69.2 426.4,68.2 424.4,66.2 424.4,65.2 422.4,63.2 422.4,62.1 420.4,60.1 420.4,59.1 418.4,57.1 418.4,56.1 416.4,54.1 416.4,53.1 412.4,48.1 409.4,48.1 408.4,47.1 402.4,47.1 401.4,46.1 396.4,46.1 395.4,45.1 390.4,45.1 389.4,44.1 384.4,44.1 383.4,43.1 378.4,43.1 377.4,42.1 372.4,42.1 371.4,41.1 365.4,41.1 364.4,40.1 359.4,40.1 358.4,39.1 352.4,39.1 351.4,38.1 345.4,38.1 344.4,37.1 339.4,37.1 338.4,36.1 327.3,36.1 326.3,37.1 321.3,37.1 320.3,38.1 315.3,38.1 314.3,39.1 309.3,39.1 308.3,40.1 304.3,40.1 303.3,41.1 298.3,41.1 297.3,42.1 292.3,42.1 291.3,43.1 286.3,43.1 285.3,44.1 281.3,44.1 280.3,45.1 275.3,45.1 274.3,46.1 271.3,46.1 270.3,45.1 226.2,45.1 225.2,44.1 203.2,44.1 202.2,43.1 194.2,43.1 193.2,42.1 185.2,42.1 184.2,41.1 176.2,41.1 175.2,40.1 168.2,40.1 167.2,39.1 158.2,39.1 157.2,40.1 148.2,40.1 147.2,41.1 137.1,41.1 136.1,42.1 127.1,42.1 126.1,43.1 116.1,43.1 115.1,44.1 106.1,44.1 105.1,45.1 95.1,45.1 94.1,44.1 86.1,44.1 85.1,43.1 78.1,43.1 77.1,42.1 69.1,42.1 68.1,41.1 61.1,41.1 60.1,40.1 52.1,40.1 51.1,39.1 44,39.1 43,38.1 35,38.1 34,37.1 27,37.1 26,36.1 19,36.1 18,35.1 10,35.1 9,34.1 3.6,34.1 8.3,30.1 11.3,25.1 13.2,23.1 20.8,18 26,15.7 32,14 44,11.9 58.1,10.6 68.1,10.2 90.1,11.4 99.9,13 105.1,14.7 107.5,16 109.4,18 110.3,20 111.1,24.1 114.1,29.7 115.8,31.1 119.1,32.2 127.1,33.5 141.1,34.6 155.2,34.8 167.2,34.1 171.5,33.1 174.2,31.4 181.9,19 186.2,15 191,12 196.2,9.9 203.2,7.9 224.1,5Z"/>
<path fill="#62c953" fill-rule="evenodd" d="M218.5,6 224.2,5.5 236.2,5.5 237.6,7 238.5,11 239.3,12.3 246.3,17.9 253,25.1 258.3,29.2 266.4,33.1 285.3,38.1 288.3,37.6 303.5,32.1 322.3,27.5 331.4,23.1 339.8,21.1 405.4,14.6 416.4,14.6 429.5,15.6 474.6,24.1 476.2,25.1 478.4,30.1 480.5,31.3 524.6,49.7 543.6,56.5 568.6,64.7 568.6,217.8 557.6,210.7 546.6,200.8 522.4,175.4 502.1,151.4 491.5,140.6 484.5,135.8 480.5,134.5 475.5,134.1 467.5,130.3 467.5,129.3 465.5,127.3 465.5,126.3 463.5,124.3 463.5,123.3 461.5,121.3 461.5,120.3 459.5,118.3 459.5,117.3 457.5,115.3 457.5,114.3 453.5,109.3 453.5,108.3 450.5,105.3 450.5,104.3 448.5,102.2 448.5,101.2 446.5,99.2 446.5,98.2 444.4,96.2 444.4,95.2 442.4,93.2 442.4,92.2 440.4,90.2 440.4,89.2 438.4,87.2 438.4,86.2 436.4,84.2 436.4,83.2 434.4,81.2 434.4,80.2 432.4,78.2 432.4,77.2 430.4,75.2 430.4,74.2 428.4,72.2 428.4,71.2 426.4,69.2 426.4,68.2 424.4,66.2 424.4,65.2 422.4,63.2 422.4,62.1 420.4,60.1 420.4,59.1 418.4,57.1 418.4,56.1 416.4,54.1 416.4,53.1 412.4,48.1 409.4,48.1 408.4,47.1 402.4,47.1 401.4,46.1 396.4,46.1 395.4,45.1 390.4,45.1 389.4,44.1 384.4,44.1 383.4,43.1 378.4,43.1 377.4,42.1 372.4,42.1 371.4,41.1 365.4,41.1 364.4,40.1 359.4,40.1 358.4,39.1 352.4,39.1 351.4,38.1 345.4,38.1 344.4,37.1 339.4,37.1 338.4,36.1 327.3,36.1 326.3,37.1 321.3,37.1 320.3,38.1 315.3,38.1 314.3,39.1 309.3,39.1 308.3,40.1 304.3,40.1 303.3,41.1 298.3,41.1 297.3,42.1 292.3,42.1 291.3,43.1 286.3,43.1 285.3,44.1 281.3,44.1 280.3,45.1 275.3,45.1 274.3,46.1 271.3,46.1 270.3,45.1 226.2,45.1 225.2,44.1 203.2,44.1 202.2,43.1 194.2,43.1 193.2,42.1 185.2,42.1 184.2,41.1 176.2,41.1 175.2,40.1 168.2,40.1 167.2,39.1 158.2,39.1 157.2,40.1 148.2,40.1 147.2,41.1 137.1,41.1 136.1,42.1 127.1,42.1 126.1,43.1 116.1,43.1 115.1,44.1 106.1,44.1 105.1,45.1 95.1,45.1 94.1,44.1 86.1,44.1 85.1,43.1 78.1,43.1 77.1,42.1 69.1,42.1 68.1,41.1 61.1,41.1 60.1,40.1 52.1,40.1 51.1,39.1 44,39.1 43,38.1 35,38.1 34,37.1 27,37.1 26,36.1 19,36.1 18,35.1 10,35.1 9,34.1 4.6,34.1 12.1,27.1 15.3,23.1 21,19 27.3,16 35,14 47.1,12 68.1,10.6 79.1,10.9 91.1,12 97.5,13 104.5,15 108.4,18 109.4,20 110,24.1 113.2,30.1 115.1,31.8 118.1,32.7 127.1,33.9 142.2,34.8 157.2,34.9 168.2,34.2 172.2,33.2 174.2,32 176.6,29.1 182.2,19.6 185.7,16 190.1,13 194.3,11 201.2,8.8 218.5,6Z"/>
<path fill="#63c854" fill-rule="evenodd" d="M222.7,6 235.2,6 236.6,7 237.6,11 239,13 245.3,17.8 253.3,26.1 258.3,29.9 266.3,33.6 285.3,38.9 287.3,38.7 303.3,33.1 323.3,27.8 332.9,23.1 342.5,21.1 406.4,14.8 417.4,14.9 429.5,16 436.5,17.6 457.6,21.1 474.5,24.7 475.5,25.2 477.5,30.1 479.5,31.7 524.6,50.6 549.6,59.5 568.6,65.7 568.6,214.8 558.6,208.3 547.6,198.7 524,174.4 503.9,150.4 494,140.3 489.5,136.9 484.5,134.3 479.5,132.8 474.5,132.8 467.5,129.7 465.5,127.3 465.5,126.3 463.5,124.3 463.5,123.3 461.5,121.3 461.5,120.3 459.5,118.3 459.5,117.3 457.5,115.3 457.5,114.3 455.5,112.3 455.5,111.3 453.5,109.3 453.5,108.3 450.5,105.3 450.5,104.3 448.5,102.2 448.5,101.2 446.5,99.2 446.5,98.2 444.5,96.2 444.4,95.2 442.4,93.2 442.4,92.2 440.4,90.2 440.4,89.2 438.4,87.2 438.4,86.2 436.4,84.2 436.4,83.2 434.4,81.2 434.4,80.2 432.4,78.2 432.4,77.2 430.4,75.2 430.4,74.2 428.4,72.2 428.4,71.2 426.4,69.2 426.4,68.2 424.4,66.2 424.4,65.2 422.4,63.2 422.4,62.1 420.4,60.1 420.4,59.1 418.4,57.1 418.4,56.1 416.4,54.1 416.4,53.1 414.4,51.1 414.4,50.1 412.4,48.1 409.4,48.1 408.4,47.1 402.4,47.1 401.4,46.1 396.4,46.1 395.4,45.1 390.4,45.1 389.4,44.1 384.4,44.1 383.4,43.1 378.4,43.1 377.4,42.1 372.4,42.1 371.4,41.1 365.4,41.1 364.4,40.1 359.4,40.1 358.4,39.1 352.4,39.1 351.4,38.1 345.4,38.1 344.4,37.1 339.4,37.1 338.4,36.1 327.3,36.1 326.3,37.1 321.3,37.1 320.3,38.1 315.3,38.1 314.3,39.1 309.3,39.1 308.3,40.1 304.3,40.1 303.3,41.1 298.3,41.1 297.3,42.1 292.3,42.1 291.3,43.1 286.3,43.1 285.3,44.1 281.3,44.1 280.3,45.1 275.3,45.1 274.3,46.1 271.3,46.1 270.3,45.1 226.2,45.1 225.2,44.1 203.2,44.1 202.2,43.1 194.2,43.1 193.2,42.1 185.2,42.1 184.2,41.1 176.2,41.1 175.2,40.1 168.2,40.1 167.2,39.1 158.2,39.1 157.2,40.1 148.2,40.1 147.2,41.1 137.1,41.1 136.1,42.1 127.1,42.1 126.1,43.1 116.1,43.1 115.1,44.1 106.1,44.1 105.1,45.1 95.1,45.1 94.1,44.1 86.1,44.1 85.1,43.1 78.1,43.1 77.1,42.1 69.1,42.1 68.1,41.1 61.1,41.1 60.1,40.1 52.1,40.1 51.1,39.1 44,39.1 43,38.1 35,38.1 34,37.1 27,37.1 26,36.1 19,36.1 18,35.1 10,35.1 9,34.1 5.9,34.1 11,29.4 13,29 17.5,23.1 22.9,19 27.1,17 33.9,15 44.3,13 51.7,12 68.1,11 79.1,11.4 93.5,13 98.8,14 104.7,16 106.3,17 107.8,19 108.7,24.1 112.5,31.1 115.1,32.8 124.1,34.1 141.1,35 156.2,35.1 168.2,34.5 172.2,33.6 174.8,32.1 183.2,19.3 186.6,16 191.1,13 195.6,11 203.2,8.8 222.7,6Z"/>
<path fill="#ffc61e" fill-rule="evenodd" d="M217.2,7 225.2,6.6 234.2,8.5 237.9,13 245.3,18.7 253.5,27.1 259.1,31.1 265.9,34.1 286.3,39.8 288.3,39.6 303.7,34.1 323.3,28.5 331.9,24.1 339.2,22.1 406.4,15.1 415.4,15.1 428.5,16.2 438.5,18.9 454.9,22.1 471.5,26.3 473.5,27.1 475.7,30.1 478.2,32.1 509.5,45.6 535.6,55.7 568.6,66.7 568.6,212.2 557.6,205 547.9,196.5 527.2,175.4 508.3,152.4 496.5,140.3 491.3,136.3 486.5,133.7 478.5,131.3 475.5,131.9 473.5,131.6 467.5,128.9 465.5,127.3 465.5,126.3 463.5,124.3 463.5,123.3 461.5,121.3 461.5,120.3 459.5,118.3 459.5,117.3 457.5,115.3 457.5,114.3 453.5,109.3 453.5,108.3 450.5,105.3 450.5,104.3 448.5,102.2 448.5,101.2 446.5,99.2 446.5,98.2 444.5,96.2 444.5,95.2 442.4,93.2 442.4,92.2 440.4,90.2 440.4,89.2 438.4,87.2 438.4,86.2 436.4,84.2 436.4,83.2 434.4,81.2 434.4,80.2 432.4,78.2 432.4,77.2 430.4,75.2 430.4,74.2 428.4,72.2 428.4,71.2 426.4,69.2 426.4,68.2 424.4,66.2 424.4,65.2 422.4,63.2 422.4,62.1 420.4,60.1 420.4,59.1 418.4,57.1 418.4,56.1 416.4,54.1 416.4,53.1 412.4,48.1 409.4,48.1 408.4,47.1 402.4,47.1 401.4,46.1 396.4,46.1 395.4,45.1 390.4,45.1 389.4,44.1 384.4,44.1 383.4,43.1 378.4,43.1 377.4,42.1 372.4,42.1 371.4,41.1 365.4,41.1 364.4,40.1 359.4,40.1 358.4,39.1 352.4,39.1 351.4,38.1 345.4,38.1 344.4,37.1 339.4,37.1 338.4,36.1 327.3,36.1 326.3,37.1 321.3,37.1 320.3,38.1 315.3,38.1 314.3,39.1 309.3,39.1 308.3,40.1 304.3,40.1 303.3,41.1 298.3,41.1 297.3,42.1 292.3,42.1 291.3,43.1 286.3,43.1 285.3,44.1 281.3,44.1 280.3,45.1 275.3,45.1 274.3,46.1 271.3,46.1 270.3,45.1 226.2,45.1 225.2,44.1 203.2,44.1 202.2,43.1 194.2,43.1 193.2,42.1 185.2,42.1 184.2,41.1 176.2,41.1 175.2,40.1 168.2,40.1 167.2,39.1 158.2,39.1 157.2,40.1 148.2,40.1 147.2,41.1 137.1,41.1 136.1,42.1 127.1,42.1 126.1,43.1 116.1,43.1 115.1,44.1 106.1,44.1 105.1,45.1 95.1,45.1 94.1,44.1 86.1,44.1 85.1,43.1 78.1,43.1 77.1,42.1 69.1,42.1 68.1,41.1 61.1,41.1 60.1,40.1 52.1,40.1 51.1,39.1 44,39.1 43,38.1 35,38.1 34,37.1 27,37.1 26,36.1 19,36.1 18,35.1 12.7,35.1 14,33.8 17,28.2 19.4,25.1 23.8,21.1 28.5,18 34.6,16 49.3,13 68.1,11.7 79.1,12 84.5,13 95.1,17 102.1,21 103.4,24.1 107.1,29.1 110.7,32.1 114.1,33.6 124.1,34.5 147.2,35.3 169.2,34.6 173.2,33.6 175.5,32.1 183.2,20.3 186.4,17 190.5,14 194.5,12 200.3,10 217.2,7Z"/>
<path fill="#fc9509" fill-rule="evenodd" d="M210.4,23.1 214.2,22.4 218.2,22.5 230.2,25.1 232.2,26.7 235.2,31.3 245.3,35.7 263.5,45.1 226.2,45.1 225.2,44.1 203.2,44.1 202.2,43.1 194.2,43.1 193.2,42.1 185.2,42.1 184.2,41.1 176.2,41.1 175.2,40.1 168.2,40.1 188.2,38.8 195,34.1 204.2,25.8 210.4,23.1ZM439.5,65.2 448.5,64.4 460.5,64.2 468.5,64.8 477.5,66.2 491.5,70.5 510.5,78.5 515.5,81.3 527.6,84.8 542.6,87.5 550.6,90.3 568.6,93.4 568.6,186.3 560.5,176.4 553.4,164.4 548.3,151.4 545.8,139.3 542.1,131.3 541.1,126.3 538.9,123.3 536.6,121.7 526.6,116.9 519.5,114.8 505.5,113.2 500.5,114.3 487.5,114.1 465.5,111.5 461.3,110.3 460,109.3 458.5,106 446.5,98.5 444.5,96.2 444.5,95.2 442.5,93.2 442.5,92.2 440.5,90.2 440.5,89.2 438.5,87.2 438.5,86.2 436.5,84.2 436.5,83.2 434.5,81.2 434.5,80.2 432.5,78.2 432.5,77.2 430.4,75.2 430.4,74.2 428.4,72.2 428.4,71.2 426.4,69.2 426.4,68.2 424.4,66.2 424.4,65.2 429.5,66 439.5,65.2Z"/>
<path fill="#f68b07" fill-rule="evenodd" d="M211.1,24.1 214.2,23.4 218.2,23.5 230.2,26.3 231.3,27.1 235.2,32.1 244.3,35.6 262.6,45.1 226.2,45.1 225.2,44.1 203.2,44.1 202.2,43.1 194.2,43.1 193.2,42.1 185.2,42.1 184.2,41.1 176.2,41.1 175.2,40.1 170,40.1 188.2,39.1 194.4,35.1 205.2,26.5 211.1,24.1ZM444.3,66.2 454.5,65.5 462.5,65.6 471.5,66.5 479.5,68 493.5,72.8 509.5,80 514.5,83.3 527.6,87.3 541.6,90 551.6,93.7 568.6,96.7 568.6,185.1 564.4,180.4 558.8,172.4 552.3,159.4 548.5,146.4 547.9,139.3 544.4,131.3 543.3,124.3 541.6,121.7 539.6,120.2 526.6,114.3 520.5,112.7 505.5,111.1 500.5,112.7 488.5,113.2 475.5,112.4 464.5,111 462,110.3 460.1,108.3 459.6,105.3 458.7,104.3 444.5,95.6 425.4,67.2 425.4,66.7 431.5,67.5 444.3,66.2Z"/>
<path fill="#f08105" fill-rule="evenodd" d="M211.9,25.1 217.2,24.4 223.2,26.3 230.2,27.6 234.2,32.2 244.3,36 261.7,45.1 226.2,45.1 225.2,44.1 203.2,44.1 202.2,43.1 194.2,43.1 193.2,42.1 185.2,42.1 184.2,41.1 176.2,41.1 176.2,40.3 187.2,39.6 189,39.1 206.2,27.3 211.9,25.1ZM448.8,67.2 456.5,66.8 466.5,67.2 481.5,70 489.5,72.7 499.5,77 508.5,81.6 511.5,84.4 513.5,85.4 527.6,89.8 539.6,92.2 551.6,96.8 568.6,100 568.6,183.9 564.6,179.4 559.7,172.4 553.5,159.4 549.9,145.4 549.6,138.3 546.4,130.3 545.5,122.3 543.6,119.4 527.6,112.1 521.6,110.6 505.5,109.1 499.5,111.3 488.5,112.2 475.5,111.9 462.5,110.2 460.7,108.3 460.5,104.3 459.5,102.9 442.5,92.7 440.5,90.2 440.5,89.2 438.5,87.2 438.5,86.2 436.5,84.2 436.5,83.2 434.5,81.2 434.5,80.2 432.5,78.2 432.5,77.2 430.5,75.2 430.5,74.2 428.5,72.2 428.5,71.2 426.4,69.2 426.4,68.1 432.5,69 448.8,67.2Z"/>
<path fill="#e97703" fill-rule="evenodd" d="M212.7,26.1 217.2,25.4 223.2,27.6 230.2,28.8 234.2,32.9 243.3,36 260.8,45.1 226.2,45.1 225.2,44.1 203.2,44.1 202.2,43.1 194.2,43.1 193.2,42.1 185.2,42.1 184.2,41.1 176.2,41.1 176.2,40.7 187.2,39.9 189.2,39.4 206.2,28.6 212.7,26.1ZM454.9,68.2 468.5,68.8 482.5,71.7 490.5,74.6 499.5,78.7 507.5,83.2 510.5,86.4 512.5,87.4 527.6,92.4 537.6,94.4 552.6,100.2 568.6,103.3 568.6,182.7 564.8,178.4 560.1,171.4 554.3,158.4 551.4,145.4 551.3,137.3 548.7,130.3 547.6,120.3 546.6,118.2 543.7,116.3 527.6,109.5 522.6,108.5 505.5,107.1 499.5,109.7 495.5,110.4 480.5,111.5 465.5,110.6 462.5,109.8 461.2,108.3 461.3,103.2 460.5,101.8 440.5,89.7 427.5,70.2 427.5,69.6 434.5,70.5 454.9,68.2Z"/>
<path fill="#e36d01" fill-rule="evenodd" d="M213.5,27.1 217.2,26.5 222.2,28.6 230.2,30.1 233.4,33.1 242.6,36.1 259.8,45.1 226.2,45.1 225.2,44.1 203.2,44.1 202.2,43.1 194.2,43.1 193.2,42.1 185.2,42.1 184.2,41.1 177,41.1 187.2,40.3 189.2,39.7 199.2,33.5 207.2,29.5 213.5,27.1ZM447.5,70.2 455.5,69.5 463.5,69.6 473.5,70.9 481.5,72.9 489.5,75.7 498.5,79.8 506.5,84.9 509.5,88.4 511.5,89.5 528.6,95.1 536.6,97 552.6,103.3 568.6,106.6 568.6,181.5 565.6,178.3 561,171.4 555.5,158.4 553,145.4 553,136.3 551,130.3 549.7,118.3 548.6,116 545.6,114.3 527.6,107 506.5,105 503.5,105.7 498.5,108.4 488.5,110.2 475.5,110.9 463.5,109.9 461.7,108.3 462.1,103.2 461.5,100.7 438.5,86.8 438.5,86.2 436.5,84.2 436.5,83.2 434.5,81.2 434.5,80.2 432.5,78.2 432.5,77.2 430.5,75.2 430.5,74.2 428.5,72.2 428.5,71.1 435.5,72 447.5,70.2Z"/>
<path fill="#e55a00" fill-rule="evenodd" d="M214.6,28.1 217.2,27.9 222.2,29.9 230.2,31.4 233.2,33.7 238.3,34.8 243.9,37.1 258.7,45.1 226.2,45.1 225.2,44.1 203.2,44.1 202.2,43.1 194.2,43.1 193.2,42.1 185.2,42.1 184.2,41.1 182.8,41.1 188.2,40.5 199.2,34.2 214.6,28.1ZM451.1,71.2 459.5,70.8 467.5,71.3 475.5,72.8 483.5,75 498,81.2 505.1,86.2 508.5,90.3 510.5,91.5 534.6,99.2 553.6,106.7 568.6,109.9 568.6,180.3 565.6,177 561.4,170.4 556.7,158.4 554.6,145.4 554.7,135.3 553.1,129.3 551.8,116.3 550.6,113.9 528.6,104.8 507.5,103 504.5,103.4 497.5,107.1 488.5,109.2 475.5,110.4 463.5,109.6 462.3,108.3 462.9,101.2 462,99.2 436.5,83.9 436.5,83.2 434.5,81.2 434.5,80.2 432.5,78.2 432.5,77.2 430.5,75.2 430.5,74.2 429.5,73.2 429.5,72.7 436.5,73.5 451.1,71.2Z"/>
<path fill="#ee4700" fill-rule="evenodd" d="M208.1,35.1 219.2,34.4 238.3,36.9 245.8,40.1 252.7,45.1 226.2,45.1 225.2,44.1 203.2,44.1 202.2,43.1 199.2,43.1 196.2,42.1 194.3,41.1 194.4,40.1 200.4,37.1 208.1,35.1ZM455,76.2 462.5,76.1 469.7,77.2 478.2,79.2 486.1,82.2 490.2,87.2 491.3,89.2 491.5,91.1 492.5,92.2 492.5,93.2 491.5,94.2 491.2,98.2 485.7,104.3 481.8,106.3 475.5,107.3 465.5,107.6 465.1,106.3 465.8,97.2 465.2,95.2 448.4,85.2 441.5,80.2 441.5,79.2 444.2,78.2 455,76.2ZM561.3,121.3 562.6,120.3 568.6,121.3 568.6,176 566.6,173.8 563.6,168.4 561.6,162.4 560.2,155.4 559.8,148.4 561.3,129.3 561.3,121.3Z"/>
<path fill="#f43e00" fill-rule="evenodd" d="M211.1,36.1 220.2,35.9 239.3,38 245.9,41.1 250.6,45.1 226.2,45.1 225.2,44.1 208.6,44.1 202.1,42.1 200,41.1 199.6,40.1 203.2,38 211.1,36.1ZM455.3,80.2 463.5,80.4 478.5,85.2 479.4,86.2 479.6,88.2 478.5,98.6 477.5,100.9 473.5,102.2 467.5,102.6 466.9,96.2 466.2,94.2 454.3,87.2 449.1,83.2 448.7,82.2 449.5,81.6 455.3,80.2ZM564.5,124.3 568.6,124.3 568.6,174.8 566.6,172.4 564,167.4 562.3,161.4 561.2,154.4 561.1,148.4 562,137.3 563.7,130.3 563.8,126.3 564.5,124.3Z"/>
<path fill="#fb3500" fill-rule="evenodd" d="M215.9,37.1 233.2,38.1 239.3,38.9 244,41.1 248.5,45.1 226.2,45.1 225.2,44.1 214.4,44.1 207.8,42.1 205.6,41.1 205.1,40.1 208.9,38.1 215.9,37.1ZM456.6,85.2 458.5,84.6 460.5,84.8 471.5,89.5 472.4,91.2 471.5,95.2 469.5,95.9 466.8,92.2 457.7,87.2 456.7,86.2 456.6,85.2ZM566.9,128.3 568.6,127.5 568.6,173.5 565.8,169.4 564.2,165.4 563,160.4 562.2,153.4 562.4,147.4 563.6,138.3 566.9,128.3Z"/>
<path fill="#d80020" fill-rule="evenodd" d="M212.4,39.1 217.2,38.5 238.3,39.8 240.3,40.4 243.1,42.1 245.3,45.1 226.2,45.1 225.2,44.1 220.7,44.1 211.4,41.1 210.8,40.1 212.4,39.1ZM568.2,132.3 568.6,131.9 568.6,171.9 566.6,169.1 564.7,164.4 563.7,159.4 563.1,152.4 563.5,146.4 564.9,139.3 568.2,132.3Z"/>
<path fill="#d90524" fill-rule="evenodd" d="M568.4,141.3 568.6,163.9 566.6,159.9 565.6,152.4 566.4,146.4 568.4,141.3Z"/>
<path fill="#db0f2c" fill-rule="evenodd" d="M568.1,144.3 568.6,143.5 568.6,161.3 567.1,158.4 566.3,153.4 566.7,148.4 568.1,144.3Z"/>
<path fill="#dd1934" fill-rule="evenodd" d="M568.5,146.4 568.6,158.7 567.5,156.4 567,152.4 567.6,148.4 568.5,146.4Z"/>
<path fill="#df233c" fill-rule="evenodd" d="M568.4,149.4 568.6,155.9 567.8,152.4 568.4,149.4Z"/>
</g>
<g clip-path="url(#w01)">
<path fill="none" stroke="#000" stroke-width="0.6" d="M274.5,0 276.9,2 281.3,4.2 295.3,8.1 307.3,10.1 319.3,10.7 339.4,10 380.4,7 388.4,5.6 389.4,5.1 391.4,2.9 397.4,1.7 435.5,1.2 466.5,1.6 468.5,1 468.6,0M487.3,0 487.1,1 487.5,1.8 489.5,2.3 500.5,3.4 525.4,4 568.6,9.9M520.2,0 519.5,0.8 517.5,1.5 506.5,1.7 504.5,1.5 502.9,0M554.8,0 555.9,3 555.6,4 554.6,4.4 549.6,4.5 544.5,3 543.6,2 544.7,0M0,2.1 64.1,1.6 153.2,2.9 165.2,2 169.9,1 172,0"/>
<path fill="none" stroke="#000" stroke-width="0.6" d="M0,17.5 4,16.2 8,16 14,13.2 19,11.7 26,10.4 39,9 67.1,7.9 82.1,8.4 96.1,9.5 106.1,11 110.1,12.4 112.9,14 116.1,17 118.6,23.1 120,25.1 122.9,28.1 126.5,30.1 133.1,31.9 141.1,32.9 159.2,33 166.9,32.1 171.1,30.1 172.7,28.1 177.1,19 179.4,16 184.2,12.1 191.2,8.5 199.2,5.9 207.2,4.4 224.2,2.4 237.3,1.7 240.3,3.2 241.9,5 244.3,8.9 255.1,20 262.3,25.6 267.3,28 273.3,30 287.3,32.4 290.3,32.1 297.3,29.8 315.3,25.4 328.3,20.9 339.4,18.8 404.4,12.6 414.4,12.3 425.4,12.7 430.5,13.1 434.5,14.2 455.5,17.8 475.5,22 478,23.1 480.5,25.9 481.5,26.4 518.5,40.4 545.6,49.6 568.6,56.2M568.6,235.1 557.6,230.2 552.6,227 533.6,206.2 528.6,201.5 526.6,200.7 524,202.9"/>
<path fill="none" stroke="#000" stroke-width="0.6" d="M175.6,39.5 188.2,38.6 194.6,34.1 202.2,26.7 205.2,24.3 211.2,22.2 217.2,21.9 230.2,24.4 232.2,25.9 235.5,31.1 245.3,35.4 262,44.1M424.4,64.5 429.5,65.1 446.5,63.7 456.5,63.4 467.5,63.9 476.5,65.2 488.5,68.5 511.5,77.8 514.5,79.6 525.6,82.9 543.6,86.3 550.6,88.6 568.6,91.6M568.6,187 565.6,183.8 560,176.4 552.7,164.4 547.8,152.4 546,146.4 544.9,140.3 541.2,132.3 539.9,127.3 538.5,125.3 536.3,123.3 525.6,117.9 518.5,116 505.5,114.4 500.5,115.1 488.5,114.7 477.5,113.5 463.5,111.3 459.6,109.3 457.5,106.2 448.5,100.7"/>
<text transform="translate(52.6,13.3) rotate(0) scale(1.15,1)" text-anchor="middle" fill="#000" font-size="14" font-weight="bold" font-style="italic">1</text>
<text transform="translate(143.8,10) rotate(0) scale(1.15,1)" text-anchor="middle" fill="#000" font-size="14" font-weight="bold" font-style="italic">0.5</text>
<text transform="translate(219.4,25.5) rotate(5) scale(1.15,1)" text-anchor="middle" fill="#000" font-size="14" font-weight="bold" font-style="italic">1.5</text>
<text transform="translate(89.2,42.5) rotate(0) scale(1.15,1)" text-anchor="middle" fill="#000" font-size="14" font-weight="bold" font-style="italic">1.5</text>
<text transform="translate(329.2,16) rotate(0) scale(1.15,1)" text-anchor="middle" fill="#000" font-size="14" font-weight="bold" font-style="italic">0.5</text>
<text transform="translate(420.4,17.3) rotate(0) scale(1.15,1)" text-anchor="middle" fill="#000" font-size="14" font-weight="bold" font-style="italic">1</text>
<text transform="translate(420.1,17) rotate(0) scale(1.15,1)" text-anchor="middle" fill="#000" font-size="14" font-weight="bold" font-style="italic">1</text>
<text transform="translate(503,77.1) rotate(15) scale(1.15,1)" text-anchor="middle" fill="#000" font-size="14" font-weight="bold" font-style="italic">1.5</text>
<text transform="translate(555.8,184) rotate(50) scale(1.15,1)" text-anchor="middle" fill="#000" font-size="14" font-weight="bold" font-style="italic">1.5</text>
<path fill="none" stroke="#fff" stroke-width="1.1" d="M1.1,12.5 1.9,9.2 2.5,8 3.3,7 5.8,5.2 7.7,4.6 12.8,3.6 24.7,3.1 42.3,3.1 54.5,3.4 85,5 95.7,6 104.3,7.1 110.9,8.3 118.5,10.5"/>
<path fill="none" stroke="#fff" stroke-width="1.1" d="M132.4,24.7 135.9,27.7 137.6,28.8 141.7,30.6 146.7,31.9 154.9,32.9 160.3,33 165.3,32.5 169.6,31.3 173,29.5 174.4,28.2 175.4,26.8 176.1,25.2 177,21.6 178.3,18.2 180.2,14.9 181.4,13.3 184.4,10 187.7,7.1 196.6,0.1"/>
<path fill="none" stroke="#fff" stroke-width="1.1" d="M27.4,32 35.8,29.8 39.6,28 41.2,27 43.9,24.8 45.7,22.4 48,20.4 53.4,17.7"/>
<path fill="none" stroke="#fff" stroke-width="1.1" d="M86,23 83,25.8 78.9,28.5 78.5,29.2 78.5,30 78.9,30.8 79.7,31.6 82.5,33.2 89.6,35.6 110.4,40.1"/>
<path fill="none" stroke="#fff" stroke-width="1.1" d="M110.4,2.4 131.8,3.2 159.2,3.7"/>
<path fill="none" stroke="#fff" stroke-width="1.1" d="M227.6,38.8 236.5,40.5"/>
<path fill="none" stroke="#fff" stroke-width="1.1" d="M230.8,1.1 236.5,4.3 262.9,17.6 269.6,20.7 277.2,23.9"/>
<path fill="none" stroke="#fff" stroke-width="1.1" d="M310.5,18.2 336.8,12.2 343.5,10.2 351.6,7 354.3,5.3 354.7,4.7 354.7,4 354.3,3.4 352.2,2.1 349.5,1.1 343.9,0.1"/>
<path fill="none" stroke="#fff" stroke-width="1.1" d="M252,0.1 258.6,4 261.4,5.3 267.4,7.4 274,8.6 281,9.1 284.7,9 291.1,8.7 300,7.6"/>
<path fill="none" stroke="#fff" stroke-width="1.1" d="M332.5,30.7 333.5,27.9 335.2,26.1 338.2,24.6 340.2,24 345.5,22.9 352.3,22.2 371.6,21.4"/>
<path fill="none" stroke="#fff" stroke-width="1.1" d="M405.7,24.2 413.9,26 417.9,27.2 418.6,27.6 418.5,27.9 419.8,28.9 422.4,30.6 431.7,36.3 436.7,39.7 441.5,43.5 446,47.5 458.4,59.4 465.9,66.1 473.4,71.6 480.8,76.1 484.8,78.2 493.6,82.1 503,85.6 511.9,88 520.4,89.6 533.2,92.6 537.3,93.8 545.1,96.6 552.5,100.1 556.3,102.2 560,104.6 569.3,111.2"/>
<path fill="none" stroke="#fff" stroke-width="1.1" d="M373.2,4.3 382.1,7.1 389,8.5 421.2,12.7 457.8,18.2 467.5,19.9"/>
<path fill="none" stroke="#fff" stroke-width="1.1" d="M499.3,27.5 516.2,33.4 532.3,38.4 544.8,41.7 569.8,47.1"/>
<path fill="none" stroke="#fff" stroke-width="1.1" d="M406.5,2.9 421.2,5.5 454,9.7 465.2,10.8 482,11.9 487.6,12.5 515.6,17 551.9,22.5"/>
<path fill="none" stroke="#fff" stroke-width="1.1" d="M480.3,5.7 497.7,6.4 510.5,7.4"/>
<path fill="none" stroke="#fff" stroke-width="1.1" d="M544.1,7.9 569.8,9.8"/>
<path fill="none" stroke="#fff" stroke-width="1.1" d="M434.5,1.2 451.2,2.2"/>
<path fill="none" stroke="#fff" stroke-width="1.1" d="M473.6,2 510.5,1.8"/>
<path fill="none" stroke="#fff" stroke-width="1.1" d="M456.6,110.2 469.7,112.1 486.4,115.5"/>
<path fill="none" stroke="#fff" stroke-width="1.1" d="M514,125 526,135 530.2,139 533.9,143.2 537.1,147.3 550.4,168.6 553.3,172.9 560,181.4 569.3,192"/>
<text transform="translate(71.3,22.3) rotate(0) scale(1.15,1)" text-anchor="middle" fill="#fff" font-size="14" font-weight="bold" font-style="italic">26</text>
<text transform="translate(127.5,19.1) rotate(35) scale(1.15,1)" text-anchor="middle" fill="#fff" font-size="14" font-weight="bold" font-style="italic">25</text>
<text transform="translate(173.9,6.4) rotate(-15) scale(1.15,1)" text-anchor="middle" fill="#fff" font-size="14" font-weight="bold" font-style="italic">24</text>
<text transform="translate(217.8,42.2) rotate(5) scale(1.15,1)" text-anchor="middle" fill="#fff" font-size="14" font-weight="bold" font-style="italic">26</text>
<text transform="translate(313,8) rotate(-60) scale(1.15,1)" text-anchor="middle" fill="#fff" font-size="14" font-weight="bold" font-style="italic">24</text>
<text transform="translate(295.1,26.9) rotate(-5) scale(1.15,1)" text-anchor="middle" fill="#fff" font-size="14" font-weight="bold" font-style="italic">25</text>
<text transform="translate(389.4,27.5) rotate(5) scale(1.15,1)" text-anchor="middle" fill="#fff" font-size="14" font-weight="bold" font-style="italic">26</text>
<text transform="translate(462.4,5.7) rotate(5) scale(1.15,1)" text-anchor="middle" fill="#fff" font-size="14" font-weight="bold" font-style="italic">22</text>
<text transform="translate(525.1,12.4) rotate(5) scale(1.15,1)" text-anchor="middle" fill="#fff" font-size="14" font-weight="bold" font-style="italic">23</text>
<text transform="translate(479.2,24.7) rotate(15) scale(1.15,1)" text-anchor="middle" fill="#fff" font-size="14" font-weight="bold" font-style="italic">25</text>
<text transform="translate(564.2,30.3) rotate(-10) scale(1.15,1)" text-anchor="middle" fill="#fff" font-size="14" font-weight="bold" font-style="italic">24</text>
<text transform="translate(501.3,124.6) rotate(18) scale(1.15,1)" text-anchor="middle" fill="#fff" font-size="14" font-weight="bold" font-style="italic">27</text>
</g>
<path d="M503.5,175.2 L500,177 L534,221 L537.4,217.2 C538.5,205 537,196 533,188.5 C528,180.5 517,176 503.5,175.2 Z" fill="#fff"/>
<path d="M0,30 L3,30.3 L99.2,41.7 L162.9,35.6 L208,40.7 L274.3,42.2 L332,32.1 L372.5,38.2 L412.6,44.8 L479.8,145 L512,186.2 L562.5,248.6 L568.6,248.6 L568.6,248.6 L0,248.6 Z" fill="#363636"/>
<g fill="#3c3c3c"><circle cx="3.5" cy="1.2" r="2.3"/><circle cx="3.5" cy="8.6" r="2.3"/><circle cx="3.5" cy="12.4" r="2.3"/><circle cx="3.5" cy="21.1" r="2.3"/><circle cx="3.5" cy="26.9" r="2.3"/><circle cx="99.2" cy="1.5" r="2.3"/><circle cx="99.2" cy="9.1" r="2.3"/><circle cx="99.2" cy="17.4" r="2.3"/><circle cx="99.2" cy="25.4" r="2.3"/><circle cx="99.2" cy="39.3" r="2.3"/><circle cx="162.9" cy="1.5" r="2.3"/><circle cx="162.9" cy="9.1" r="2.3"/><circle cx="162.9" cy="17.1" r="2.3"/><circle cx="162.9" cy="24.9" r="2.3"/><circle cx="162.9" cy="32.1" r="2.3"/><circle cx="208" cy="1.5" r="2.3"/><circle cx="208" cy="9.1" r="2.3"/><circle cx="208" cy="17.1" r="2.3"/><circle cx="208" cy="24.9" r="2.3"/><circle cx="208" cy="38.6" r="2.3"/><circle cx="274.3" cy="1.8" r="2.3"/><circle cx="274.3" cy="9.9" r="2.3"/><circle cx="274.3" cy="18.2" r="2.3"/><circle cx="274.3" cy="25.7" r="2.3"/><circle cx="274.3" cy="31.5" r="2.3"/><circle cx="274.3" cy="38.1" r="2.3"/><circle cx="332" cy="1.8" r="2.3"/><circle cx="332" cy="9.1" r="2.3"/><circle cx="332" cy="15.7" r="2.3"/><circle cx="332" cy="19.9" r="2.3"/><circle cx="332" cy="24" r="2.3"/><circle cx="332" cy="28.2" r="2.3"/><circle cx="372.5" cy="1.8" r="2.3"/><circle cx="372.5" cy="9.1" r="2.3"/><circle cx="372.5" cy="17.4" r="2.3"/><circle cx="372.5" cy="24.9" r="2.3"/><circle cx="372.5" cy="35.6" r="2.3"/><circle cx="413.3" cy="1.5" r="2.3"/><circle cx="413.3" cy="10.8" r="2.3"/><circle cx="413.3" cy="18.2" r="2.3"/><circle cx="413.3" cy="29" r="2.3"/><circle cx="413.3" cy="33.1" r="2.3"/><circle cx="413.3" cy="42.7" r="2.3"/><circle cx="480" cy="1.5" r="2.3"/><circle cx="480" cy="12" r="2.3"/><circle cx="480" cy="22.1" r="2.3"/><circle cx="480" cy="42.3" r="2.3"/><circle cx="480" cy="58" r="2.3"/><circle cx="480" cy="82.9" r="2.3"/><circle cx="480" cy="100.3" r="2.3"/><circle cx="480" cy="116.8" r="2.3"/><circle cx="480" cy="132.6" r="2.3"/><circle cx="480" cy="141.7" r="2.3"/><circle cx="563.5" cy="1.5" r="2.3"/><circle cx="563.5" cy="20.7" r="2.3"/><circle cx="563.5" cy="37.3" r="2.3"/><circle cx="563.5" cy="46.4" r="2.3"/><circle cx="563.5" cy="62.1" r="2.3"/><circle cx="563.5" cy="82.9" r="2.3"/><circle cx="563.5" cy="116" r="2.3"/><circle cx="563.5" cy="157.4" r="2.3"/><circle cx="563.5" cy="232" r="2.3"/></g>
<text x="-0.7" y="-2.2" font-size="17" font-style="italic" text-anchor="middle">1</text>
<text x="97" y="-2.2" font-size="17" font-style="italic" text-anchor="middle">2</text>
<text x="160.7" y="-2.2" font-size="17" font-style="italic" text-anchor="middle">3</text>
<text x="205.8" y="-2.2" font-size="17" font-style="italic" text-anchor="middle">4</text>
<text x="272.1" y="-2.2" font-size="17" font-style="italic" text-anchor="middle">10</text>
<text x="329.8" y="-2.2" font-size="17" font-style="italic" text-anchor="middle">11</text>
<text x="370.3" y="-2.2" font-size="17" font-style="italic" text-anchor="middle">12</text>
<text x="411.1" y="-2.2" font-size="17" font-style="italic" text-anchor="middle">13</text>
<text x="477.8" y="-2.2" font-size="17" font-style="italic" text-anchor="middle">14</text>
<text x="558.3" y="-2.2" font-size="17" font-style="italic" text-anchor="middle">15</text>
<path d="M0,0 H568.6 V248.6 H0 Z" fill="none" stroke="#000" stroke-width="1.1"/>
<path d="M0,0 h-6.5" stroke="#000" stroke-width="1.1"/>
<text x="-12.5" y="5.8" text-anchor="end" font-size="16.2" letter-spacing="0.4" font-weight="bold" font-style="italic" stroke="#000" stroke-width="0.3">0</text>
<path d="M0,41.4 h-6.5" stroke="#000" stroke-width="1.1"/>
<text x="-12.5" y="47.2" text-anchor="end" font-size="16.2" letter-spacing="0.4" font-weight="bold" font-style="italic" stroke="#000" stroke-width="0.3">50</text>
<path d="M0,82.9 h-6.5" stroke="#000" stroke-width="1.1"/>
<text x="-12.5" y="88.7" text-anchor="end" font-size="16.2" letter-spacing="0.4" font-weight="bold" font-style="italic" stroke="#000" stroke-width="0.3">100</text>
<path d="M0,124.3 h-6.5" stroke="#000" stroke-width="1.1"/>
<text x="-12.5" y="130.1" text-anchor="end" font-size="16.2" letter-spacing="0.4" font-weight="bold" font-style="italic" stroke="#000" stroke-width="0.3">150</text>
<path d="M0,165.7 h-6.5" stroke="#000" stroke-width="1.1"/>
<text x="-12.5" y="171.5" text-anchor="end" font-size="16.2" letter-spacing="0.4" font-weight="bold" font-style="italic" stroke="#000" stroke-width="0.3">200</text>
<path d="M0,207.2 h-6.5" stroke="#000" stroke-width="1.1"/>
<text x="-12.5" y="213" text-anchor="end" font-size="16.2" letter-spacing="0.4" font-weight="bold" font-style="italic" stroke="#000" stroke-width="0.3">250</text>
<path d="M0,248.6 h-6.5" stroke="#000" stroke-width="1.1"/>
<text x="-12.5" y="254.4" text-anchor="end" font-size="16.2" letter-spacing="0.4" font-weight="bold" font-style="italic" stroke="#000" stroke-width="0.3">300</text>
<path d="M0,248.6 v6.5" stroke="#000" stroke-width="1.1"/>
<text x="0" y="275" text-anchor="middle" font-size="16.2" letter-spacing="0.4" font-weight="bold" font-style="italic" stroke="#000" stroke-width="0.3">0</text>
<path d="M97.8,248.6 v4" stroke="#000" stroke-width="0.7"/>
<path d="M195.6,248.6 v6.5" stroke="#000" stroke-width="1.1"/>
<text x="195.6" y="275" text-anchor="middle" font-size="16.2" letter-spacing="0.4" font-weight="bold" font-style="italic" stroke="#000" stroke-width="0.3">500</text>
<path d="M293.3,248.6 v4" stroke="#000" stroke-width="0.7"/>
<path d="M391.1,248.6 v6.5" stroke="#000" stroke-width="1.1"/>
<text x="391.1" y="275" text-anchor="middle" font-size="16.2" letter-spacing="0.4" font-weight="bold" font-style="italic" stroke="#000" stroke-width="0.3">1000</text>
<path d="M488.9,248.6 v4" stroke="#000" stroke-width="0.7"/>
<text transform="translate(-58,124.7) rotate(-90)" text-anchor="middle" font-size="21" font-weight="bold" font-style="italic" stroke="#000" stroke-width="0.4">Depth [m]</text>
<rect x="4" y="213.2" width="171.5" height="30.5" fill="#000"/>
<text x="8.5" y="236.6" fill="#fff" font-size="21.3" font-weight="bold" font-style="italic" textLength="166.1" lengthAdjust="spacingAndGlyphs">PO<tspan dy="4" font-size="12.5">4</tspan><tspan dy="-12.5" font-size="12.5">3-</tspan><tspan dy="8.5"> [µmol kg</tspan><tspan dy="-8.5" font-size="12.5">-1</tspan><tspan dy="8.5">]</tspan></text>
<text x="-92.8" y="11.4" font-size="30" font-weight="bold">C</text>
<rect x="587.2" y="0" width="24.2" height="248.6" fill="url(#cbg)"/>
<path d="M587.2,0.3 L592.2,0.3 C595.7,0 596.2,-3.4 599.3,-3.4 C602.4,-3.4 602.9,0 606.4,0.3 L611.4,0.3 Z" fill="#ffb88e"/>
<path d="M592.2,248.3 L599.3,252.6 L606.4,248.3 Z" fill="#e884de"/>
<path d="M587.2,0 L587.2,248.6 M611.4,0 L611.4,248.6" stroke="#000" stroke-width="1" fill="none"/>
<path d="M587.2,0 L592.2,0 C595.7,-0.3 596.2,-3.6 599.3,-3.6 C602.4,-3.6 602.9,-0.3 606.4,0 L611.4,0" stroke="#000" stroke-width="0.8" fill="none"/>
<path d="M587.2,248.6 L592.7,248.6 M605.9,248.6 L611.4,248.6" stroke="#000" stroke-width="0.8" fill="none"/>
<path d="M587.2,248.6 h5.5 M611.4,248.6 h-5.5" stroke="#000" stroke-width="1.1" fill="none"/>
<text transform="translate(617.9,252.9) scale(1.2,1)" font-size="12.2" font-weight="bold" font-style="italic" stroke="#000" stroke-width="0.25">0</text>
<path d="M587.2,186.4 h5.5 M611.4,186.4 h-5.5" stroke="#000" stroke-width="1.1" fill="none"/>
<text transform="translate(617.9,190.8) scale(1.2,1)" font-size="12.2" font-weight="bold" font-style="italic" stroke="#000" stroke-width="0.25">0.5</text>
<path d="M587.2,124.3 h5.5 M611.4,124.3 h-5.5" stroke="#000" stroke-width="1.1" fill="none"/>
<text transform="translate(617.9,128.6) scale(1.2,1)" font-size="12.2" font-weight="bold" font-style="italic" stroke="#000" stroke-width="0.25">1</text>
<path d="M587.2,62.1 h5.5 M611.4,62.1 h-5.5" stroke="#000" stroke-width="1.1" fill="none"/>
<text transform="translate(617.9,66.5) scale(1.2,1)" font-size="12.2" font-weight="bold" font-style="italic" stroke="#000" stroke-width="0.25">1.5</text>
<path d="M587.2,0 h5.5 M611.4,0 h-5.5" stroke="#000" stroke-width="1.1" fill="none"/>
<text transform="translate(617.9,4.3) scale(1.2,1)" font-size="12.2" font-weight="bold" font-style="italic" stroke="#000" stroke-width="0.25">2</text>
<text transform="translate(583.6,246.6) rotate(-90)" font-size="10" font-weight="bold" font-style="italic" stroke="#000" stroke-width="0.2">Ocean Data View / DIVA</text>
</g>
<g transform="translate(839.7,418.9)">
<clipPath id="w11"><path d="M0,0 L568.6,0 L568.6,248.6 L568.6,249.2 L562.5,249.2 L512,186.8 L479.8,145.6 L412.6,45.4 L372.5,38.8 L332,32.7 L274.3,42.8 L208,41.3 L162.9,36.2 L99.2,42.3 L3,30.9 L0,30.6 Z"/></clipPath>
<g clip-path="url(#w11)">
<rect x="0" y="0" width="568.6" height="248.6" fill="#e884de"/>
<path fill="#e25cd9" fill-rule="evenodd" d="M0,0 568.6,0 568.6,248.6 559.5,248.6 558.5,247.6 558.5,246.6 553.5,241.6 553.5,240.6 549.5,236.6 549.5,235.6 541.5,226.5 541.5,225.5 536.5,220.5 536.5,219.5 532.5,215.5 532.5,214.5 528.5,210.5 528.5,209.5 524.5,205.5 524.5,204.5 519.5,199.5 519.5,198.5 515.5,194.5 515.5,193.5 507.5,184.4 507.5,183.4 504.5,180.4 504.5,179.4 500.5,175.4 500.5,174.4 497.5,171.4 497.5,170.4 489.4,161.4 489.4,160.4 486.4,157.4 486.4,156.4 482.4,152.4 482.4,151.4 479.4,148.4 479.4,147.4 477.4,145.4 477.4,144.3 475.4,142.3 475.4,141.3 473.4,139.3 473.4,138.3 471.4,136.3 471.4,135.3 469.4,133.3 469.4,132.3 467.4,130.3 467.4,129.3 465.4,127.3 465.4,126.3 463.4,124.3 463.4,123.3 461.4,121.3 461.4,120.3 459.4,118.3 459.4,117.3 457.4,115.3 457.4,114.3 453.4,109.3 453.4,108.3 450.4,105.3 450.4,104.3 448.4,102.2 448.4,101.2 446.4,99.2 446.4,98.2 444.4,96.2 444.4,95.2 442.4,93.2 442.4,92.2 440.4,90.2 440.4,89.2 438.4,87.2 438.4,86.2 436.4,84.2 436.4,83.2 434.4,81.2 434.4,80.2 432.4,78.2 432.4,77.2 430.4,75.2 430.4,74.2 428.4,72.2 428.4,71.2 426.4,69.2 426.4,68.2 424.4,66.2 424.4,65.2 422.4,63.2 422.4,62.1 420.4,60.1 420.4,59.1 418.4,57.1 418.4,56.1 416.4,54.1 416.4,53.1 412.4,48.1 409.4,48.1 408.4,47.1 402.4,47.1 401.4,46.1 396.4,46.1 395.4,45.1 390.4,45.1 389.4,44.1 384.4,44.1 383.4,43.1 378.4,43.1 377.4,42.1 372.4,42.1 371.4,41.1 365.4,41.1 364.4,40.1 359.4,40.1 358.4,39.1 352.4,39.1 351.4,38.1 345.4,38.1 344.4,37.1 339.4,37.1 338.4,36.1 327.3,36.1 326.3,37.1 321.3,37.1 320.3,38.1 315.3,38.1 314.3,39.1 309.3,39.1 308.3,40.1 304.3,40.1 303.3,41.1 298.3,41.1 297.3,42.1 292.3,42.1 291.3,43.1 286.3,43.1 285.3,44.1 281.3,44.1 280.3,45.1 275.3,45.1 274.3,46.1 271.3,46.1 270.3,45.1 226.2,45.2 225.2,44.2 203.2,44.2 202.2,43.2 194.2,43.2 193.2,42.2 185.2,42.2 184.2,41.2 176.2,41.2 175.2,40.1 168.2,40.1 167.2,39.1 158.2,39.1 157.2,40.1 148.2,40.1 147.2,41.1 137.1,41.1 136.1,42.1 127.1,42.1 126.1,43.1 116.1,43.1 115.1,44.1 106.1,44.1 105.1,45.1 95.1,45.1 94.1,44.1 86.1,44.1 85.1,43.1 78.1,43.1 77.1,42.1 69.1,42.1 68.1,41.1 61.1,41.1 60.1,40.1 52.1,40.1 51.1,39.1 44,39.1 43,38.1 35,38.1 34,37.1 27,37.1 26,36.1 19,36.1 18,35.1 10,35.1 9,34.1 1,34.1 0,33.1 0,0Z"/>
<path fill="#9a80f2" fill-rule="evenodd" d="M0,0 3.6,0 10,1.9 14.9,0 278,0 280.3,4.9 284.3,10.8 287.3,14 293.3,18.5 296.3,17.4 310.3,17.1 337.4,13.5 392.4,8.5 430.5,6.6 442.5,6.4 447.5,7.1 454.5,6.4 468.5,6.8 472.5,7.6 475.5,7.2 480.5,9.5 524.6,16.5 563,26.1 568.6,26.4 568.6,248.6 559.5,248.6 558.5,247.6 558.5,246.6 553.5,241.6 553.5,240.6 549.5,236.6 549.5,235.6 541.5,226.5 541.5,225.5 536.5,220.5 536.5,219.5 532.5,215.5 532.5,214.5 528.5,210.5 528.5,209.5 524.5,205.5 524.5,204.5 519.5,199.5 519.5,198.5 515.5,194.5 515.5,193.5 507.5,184.4 507.5,183.4 504.5,180.4 504.5,179.4 500.5,175.4 500.5,174.4 497.5,171.4 497.5,170.4 489.4,161.4 489.4,160.4 486.4,157.4 486.4,156.4 482.4,152.4 482.4,151.4 479.4,148.4 479.4,147.4 477.4,145.4 477.4,144.3 475.4,142.3 475.4,141.3 473.4,139.3 473.4,138.3 471.4,136.3 471.4,135.3 469.4,133.3 469.4,132.3 467.4,130.3 467.4,129.3 465.4,127.3 465.4,126.3 463.4,124.3 463.4,123.3 461.4,121.3 461.4,120.3 459.4,118.3 459.4,117.3 457.4,115.3 457.4,114.3 453.4,109.3 453.4,108.3 450.4,105.3 450.4,104.3 448.4,102.2 448.4,101.2 446.4,99.2 446.4,98.2 444.4,96.2 444.4,95.2 442.4,93.2 442.4,92.2 440.4,90.2 440.4,89.2 438.4,87.2 438.4,86.2 436.4,84.2 436.4,83.2 434.4,81.2 434.4,80.2 432.4,78.2 432.4,77.2 430.4,75.2 430.4,74.2 428.4,72.2 428.4,71.2 426.4,69.2 426.4,68.2 424.4,66.2 424.4,65.2 422.4,63.2 422.4,62.1 420.4,60.1 420.4,59.1 418.4,57.1 418.4,56.1 416.4,54.1 416.4,53.1 412.4,48.1 409.4,48.1 408.4,47.1 402.4,47.1 401.4,46.1 396.4,46.1 395.4,45.1 390.4,45.1 389.4,44.1 384.4,44.1 383.4,43.1 378.4,43.1 377.4,42.1 372.4,42.1 371.4,41.1 365.4,41.1 364.4,40.1 359.4,40.1 358.4,39.1 352.4,39.1 351.4,38.1 345.4,38.1 344.4,37.1 339.4,37.1 338.4,36.1 327.3,36.1 326.3,37.1 321.3,37.1 320.3,38.1 315.3,38.1 314.3,39.1 309.3,39.1 308.3,40.1 304.3,40.1 303.3,41.1 298.3,41.1 297.3,42.1 292.3,42.1 291.3,43.1 286.3,43.1 285.3,44.1 281.3,44.1 280.3,45.1 275.3,45.1 274.3,46.1 271.3,46.1 270.3,45.1 226.2,45.2 225.2,44.2 203.2,44.2 202.2,43.2 194.2,43.2 193.2,42.2 185.2,42.2 184.2,41.2 176.2,41.1 175.2,40.1 168.2,40.1 167.2,39.1 158.2,39.1 157.2,40.1 148.2,40.1 147.2,41.1 137.1,41.1 136.1,42.1 127.1,42.1 126.1,43.1 116.1,43.1 115.1,44.1 106.1,44.1 105.1,45.1 95.1,45.1 94.1,44.1 86.1,44.1 85.1,43.1 78.1,43.1 77.1,42.1 69.1,42.1 68.1,41.1 61.1,41.1 60.1,40.1 52.1,40.1 51.1,39.1 44,39.1 43,38.1 35,38.1 34,37.1 27,37.1 26,36.1 19,36.1 18,35.1 10,35.1 9,34.1 1,34.1 0,33.1 0,0ZM292.3,27.6 291,31.1 288.9,34.1 288.5,35.1 288.8,36.1 293.4,37.1 300.3,37.5 309.3,37.7 313.2,37.1 313.4,36.1 312.7,35.1 309,32.1 303.3,30.4 294.3,29.7 293.1,29.1 292.3,27.6Z"/>
<path fill="#4343f3" fill-rule="evenodd" d="M0,0 11,3.4 21,1.4 50.1,0.4 105.1,0.6 135.1,1.9 143.2,2.8 150.5,1 150.8,0 273.1,0 281.1,24.1 283,38.1 284.3,39.2 286.3,39.6 303.3,40.4 303.3,41.1 298.3,41.1 297.3,42.1 292.3,42.1 291.3,43.1 286.3,43.1 285.3,44.1 281.3,44.1 280.3,45.1 275.3,45.1 274.3,46.1 271.3,46.1 270.3,45.1 226.2,45.2 225.2,44.2 203.2,44.2 202.2,43.2 194.2,43.2 193.2,42.2 185.2,42.2 184.2,41.2 176.2,41.1 175.2,40.1 168.2,40.1 167.2,39.1 158.2,39.1 157.2,40.1 148.2,40.1 147.2,41.1 137.1,41.1 136.1,42.1 127.1,42.1 126.1,43.1 116.1,43.1 115.1,44.1 106.1,44.1 105.1,45.1 95.1,45.1 94.1,44.1 86.1,44.1 85.1,43.1 78.1,43.1 77.1,42.1 69.1,42.1 68.1,41.1 61.1,41.1 60.1,40.1 52.1,40.1 51.1,39.1 44,39.1 43,38.1 35,38.1 34,37.1 27,37.1 26,36.1 19,36.1 18,35.1 10,35.1 9,34.1 1,34.1 0,33.1 0,0ZM429.7,9 442.5,8.7 446.5,10.1 450.5,10.6 457.5,10.4 461.5,11.2 465.5,10.5 472.5,11.3 475.5,11.1 478.5,13 480.5,13.7 506.5,17.5 529.6,22.3 568.6,34 568.6,248.6 559.5,248.6 558.5,247.6 558.5,246.6 553.5,241.6 553.5,240.6 549.5,236.6 549.5,235.6 541.5,226.5 541.5,225.5 536.5,220.5 536.5,219.5 532.5,215.5 532.5,214.5 528.5,210.5 528.5,209.5 524.5,205.5 524.5,204.5 519.5,199.5 519.5,198.5 515.5,194.5 515.5,193.5 507.5,184.4 507.5,183.4 504.5,180.4 504.5,179.4 500.5,175.4 500.5,174.4 497.5,171.4 497.5,170.4 489.5,161.4 489.5,160.4 486.4,157.4 486.4,156.4 482.4,152.4 482.4,151.4 479.4,148.4 479.4,147.4 477.4,145.4 477.4,144.3 475.4,142.3 475.4,141.3 473.4,139.3 473.4,138.3 471.4,136.3 471.4,135.3 469.4,133.3 469.4,132.3 467.4,130.3 467.4,129.3 465.4,127.3 465.4,126.3 463.4,124.3 463.4,123.3 461.4,121.3 461.4,120.3 459.4,118.3 459.4,117.3 457.4,115.3 457.4,114.3 453.4,109.3 453.4,108.3 450.4,105.3 450.4,104.3 448.4,102.2 448.4,101.2 446.4,99.2 446.4,98.2 444.4,96.2 444.4,95.2 442.4,93.2 442.4,92.2 440.4,90.2 440.4,89.2 438.4,87.2 438.4,86.2 436.4,84.2 436.4,83.2 434.4,81.2 434.4,80.2 432.4,78.2 432.4,77.2 430.4,75.2 430.4,74.2 428.4,72.2 428.4,71.2 426.4,69.2 426.4,68.2 424.4,66.2 424.4,65.2 422.4,63.2 422.4,62.1 420.4,60.1 420.4,59.1 418.4,57.1 418.4,56.1 416.4,54.1 416.4,53.1 412.4,48.1 409.4,48.1 408.4,47.1 402.4,47.1 401.4,46.1 396.4,46.1 395.4,45.1 390.4,45.1 389.4,44.1 384.4,44.1 383.4,43.1 378.4,43.1 377.4,42.1 372.4,42.1 371.4,41.1 365.4,41.1 364.4,40.1 359.4,40.1 358.4,39.1 352.4,39.1 351.4,38.1 345.4,38.1 344.4,37.1 339.4,37.1 338.4,36.1 327.3,36.1 326.3,37.1 321.3,37.1 320.3,38.1 318.5,38.1 314.5,30.1 314,27.1 316.5,22.1 319.1,20 321.3,19.3 337.4,16.8 379.4,12.5 429.7,9Z"/>
<path fill="#5959f0" fill-rule="evenodd" d="M167.6,0 261.6,0 265.9,6 271.4,20 273.6,29.1 274,39.1 276.4,41.1 282.6,44.1 281.3,44.1 280.3,45.1 275.3,45.1 274.3,46.1 271.3,46.1 270.3,45.1 226.2,45.2 225.2,44.2 203.2,44.2 202.2,43.2 194.2,43.2 193.2,42.1 185.2,42.1 184.2,41.1 176.2,41.1 175.2,40.1 168.2,40.1 167.2,39.1 158.2,39.1 157.2,40.1 148.2,40.1 147.2,41.1 137.1,41.1 136.1,42.1 127.1,42.1 126.1,43.1 116.1,43.1 115.1,44.1 106.1,44.1 105.1,45.1 95.1,45.1 94.1,44.1 86.1,44.1 85.1,43.1 78.1,43.1 77.1,42.1 69.1,42.1 68.1,41.1 61.1,41.1 60.1,40.1 52.1,40.1 51.1,39.1 44,39.1 43,38.1 35,38.1 34,37.1 27,37.1 26,36.1 19,36.1 18,35.1 10,35.1 9,34.1 1,34.1 0,33.1 0,1.8 9,4.9 12,7 18,7.5 21,7.3 27,4.7 39,4 48.1,2.7 76.1,2.3 104.4,3 108.1,3.7 113.1,5.4 130.1,6.2 143.2,8.8 154.2,6.3 168.2,4.3 169.9,3 170.3,2 167.6,0ZM144.2,23 141.4,24.1 138.3,27.1 143.3,30.1 149.3,30.1 155.1,27.1 154.9,26.1 150.9,23.1 144.2,23ZM438.6,12 458.5,13.3 470.5,14.8 508.6,23.1 530.6,29.7 568.6,45 568.6,248.6 559.5,248.6 558.5,247.6 558.5,246.6 553.5,241.6 553.5,240.6 549.5,236.6 549.5,235.6 541.5,226.5 541.5,225.5 536.5,220.5 536.5,219.5 532.5,215.5 532.5,214.5 528.5,210.5 528.5,209.5 524.5,205.5 524.5,204.5 519.5,199.5 519.5,198.5 515.5,194.5 515.5,193.5 507.5,184.4 507.5,183.4 504.5,180.4 504.5,179.4 500.5,175.4 500.5,174.4 497.5,171.4 497.5,170.4 489.5,161.4 489.5,160.4 486.5,157.4 486.5,156.4 482.5,152.4 482.5,151.4 479.4,148.4 479.4,147.4 477.4,145.4 477.4,144.3 475.4,142.3 475.4,141.3 473.4,139.3 473.4,138.3 471.4,136.3 471.4,135.3 469.4,133.3 469.4,132.3 467.4,130.3 467.4,129.3 465.4,127.3 465.4,126.3 463.4,124.3 463.4,123.3 461.4,121.3 461.4,120.3 459.4,118.3 459.4,117.3 457.4,115.3 457.4,114.3 453.4,109.3 453.4,108.3 450.4,105.3 450.4,104.3 448.4,102.2 448.4,101.2 446.4,99.2 446.4,98.2 444.4,96.2 444.4,95.2 442.4,93.2 442.4,92.2 440.4,90.2 440.4,89.2 438.4,87.2 438.4,86.2 436.4,84.2 436.4,83.2 434.4,81.2 434.4,80.2 432.4,78.2 432.4,77.2 430.4,75.2 430.4,74.2 428.4,72.2 428.4,71.2 426.4,69.2 426.4,68.2 424.4,66.2 424.4,65.2 422.4,63.2 422.4,62.1 420.4,60.1 420.4,59.1 418.4,57.1 418.4,56.1 416.4,54.1 416.4,53.1 412.4,48.1 409.4,48.1 408.4,47.1 402.4,47.1 401.4,46.1 396.4,46.1 395.4,45.1 390.4,45.1 389.4,44.1 384.4,44.1 383.4,43.1 378.4,43.1 377.4,42.1 372.4,42.1 371.4,41.1 365.4,41.1 364.4,40.1 359.4,40.1 358.4,39.1 352.4,39.1 352.4,38.2 360.4,38.1 360.1,37.1 354.8,33.1 353.5,31.1 354,24.1 354.5,23.1 356.4,22.1 383.4,18.9 414.4,13.7 438.6,12Z"/>
<path fill="#2a86e6" fill-rule="evenodd" d="M182.8,0 249,0 257.7,10 262.6,19 264.2,24.1 264.9,29.1 264.8,33.1 263.6,39.1 263.9,40.1 274.3,45.5 274.3,46.1 271.3,46.1 270.3,45.1 226.2,45.2 225.2,44.1 203.2,44.1 202.2,43.1 194.2,43.1 193.2,42.1 185.2,42.1 184.2,41.1 176.2,41.1 175.2,40.1 168.2,40.1 167.2,39.1 158.2,39.1 157.2,40.1 148.2,40.1 147.2,41.1 137.1,41.1 136.1,42.1 127.1,42.1 126.1,43.1 116.1,43.1 115.1,44.1 106.1,44.1 105.1,45.1 95.1,45.1 94.1,44.1 86.1,44.1 85.1,43.1 78.1,43.1 77.1,42.1 69.1,42.1 68.1,41.1 61.1,41.1 60.1,40.1 52.1,40.1 51.1,39.1 44,39.1 43,38.1 35,38.1 34,37.1 27.2,37.1 26,36.1 24,35.7 22.3,34.1 23.8,23.1 25.4,16 26.9,14 32,9.7 40,7 49.1,5.2 72.1,4.2 99.1,5.1 105.1,6.2 109.1,7.8 113.9,11 115.5,13 116.3,17 114.3,24.1 114.2,27.1 116.3,29.1 120,31.1 129.1,33 140.1,34 152.2,34.1 163.2,33.1 169.5,31.1 171.3,29.1 172.2,27.1 173.8,18 175.7,12 176.7,10 183.8,2 183.9,1 182.8,0ZM422.6,15 432.5,14.7 442.7,15 474.5,19.4 478.5,20.9 496.8,25.1 509.8,29.1 525.3,35.1 536.6,40.7 555.3,51.1 568.6,56.7 568.6,248.6 559.5,248.6 558.5,247.6 558.5,246.6 553.5,241.6 553.5,240.6 549.5,236.6 549.5,235.6 541.5,226.5 541.5,225.5 536.5,220.5 536.5,219.5 532.5,215.5 532.5,214.5 528.5,210.5 528.5,209.5 524.5,205.5 524.5,204.5 519.5,199.5 519.5,198.5 515.5,194.5 515.5,193.5 507.5,184.4 507.5,183.4 504.5,180.4 504.5,179.4 500.5,175.4 500.5,174.4 497.5,171.4 497.5,170.4 493.5,166.4 493.5,165.4 489.5,161.4 489.5,160.4 486.5,157.4 486.5,156.4 482.5,152.4 482.5,151.4 479.5,148.4 479.5,147.4 477.5,145.4 477.5,144.3 475.5,142.3 475.5,141.3 473.4,139.3 473.4,138.3 471.4,136.3 471.4,135.3 469.4,133.3 469.4,132.3 467.4,130.3 467.4,129.3 465.4,127.3 465.4,126.3 463.4,124.3 463.4,123.3 461.4,121.3 461.4,120.3 459.4,118.3 459.4,117.3 457.4,115.3 457.4,114.3 453.4,109.3 453.4,108.3 450.4,105.3 450.4,104.3 448.4,102.2 448.4,101.2 446.4,99.2 446.4,98.2 444.4,96.2 444.4,95.2 442.4,93.2 442.4,92.2 440.4,90.2 440.4,89.2 438.4,87.2 438.4,86.2 436.4,84.2 436.4,83.2 434.4,81.2 434.4,80.2 432.4,78.2 432.4,77.2 430.4,75.2 430.4,74.2 428.4,72.2 428.4,71.2 426.4,69.2 426.4,68.2 424.4,66.2 424.4,65.2 422.4,63.2 422.4,62.1 420.4,60.1 420.4,59.1 418.4,57.1 418.4,56.1 416.4,54.1 415.4,51.1 420.4,52.3 425.4,50.1 431.5,43.2 431.5,40.6 426.3,37.1 419.4,34.3 410.4,32 407.4,32 404.4,32.7 402.4,32.5 399.4,31.6 396.5,29.1 395.6,27.1 395.9,24.1 397.8,21.1 399.4,19.8 410.4,16.7 422.6,15Z"/>
<path fill="#3696f0" fill-rule="evenodd" d="M189.1,1 189.6,0 245.2,0 254.1,11 258.2,19 259.6,25.1 259.7,28.1 259,34.1 257.3,39.1 257.6,40.1 260.6,42.1 267,45.1 226.2,45.1 225.2,44.1 203.2,44.1 202.2,43.1 194.2,43.1 193.2,42.1 185.2,42.1 184.2,41.1 176.2,41.1 175.2,40.1 168.2,40.1 167.2,39.1 158.2,39.1 157.2,40.1 148.2,40.1 147.2,41.1 137.1,41.1 136.1,42.1 127.1,42.1 126.1,43.1 116.1,43.1 115.1,44.1 106.1,44.1 105.1,45.1 95.1,45.1 94.1,44.1 86.1,44.1 85.1,43.1 78.1,43.1 77.1,42.1 69.1,42.1 68.1,41.1 61.1,41.1 60.1,40.1 52.1,40.1 51.1,39.1 44,39.1 43,38.1 35,38.1 34,37.1 32.4,37.1 33.1,35.1 32.8,34.1 30.9,32.1 30.1,30.1 30.4,24.1 32.3,18 36,13.3 41.7,10 49.1,7.5 58.1,6.2 71.1,5.5 85.1,5.6 95.1,6.1 102.1,7.1 107.1,8.7 110.1,10.8 112.1,14 112.5,17 111.7,19 107.7,25.1 107.6,27.1 108.2,29.1 109.1,29.9 113.1,31.9 121.1,33.8 135.1,35 154.2,35.1 166.8,34.1 171.6,33.1 173.2,31.9 174.6,29.1 177.4,17 179.5,12 182.8,7 189.1,1ZM424.3,16 433.5,16.2 441.5,17.2 450.5,20.6 456.5,24.6 470.5,24.8 480.5,25.8 491.5,28 503.5,31.5 516.5,35.9 526.6,40.1 536.6,45.1 555.6,56 568.6,61.6 568.6,248.6 559.5,248.6 558.5,247.6 558.5,246.6 553.5,241.6 553.5,240.6 549.5,236.6 549.5,235.6 541.5,226.5 541.5,225.5 536.5,220.5 536.5,219.5 532.5,215.5 532.5,214.5 528.5,210.5 528.5,209.5 524.5,205.5 524.5,204.5 519.5,199.5 519.5,198.5 515.5,194.5 515.5,193.5 507.5,184.4 507.5,183.4 504.5,180.4 504.5,179.4 500.5,175.4 500.5,174.4 497.5,171.4 497.5,170.4 493.5,166.4 493.5,165.4 489.5,161.4 489.5,160.4 486.5,157.4 486.5,156.4 482.5,152.4 482.5,151.4 479.5,148.4 479.5,147.4 477.5,145.4 477.5,144.3 475.5,142.3 475.5,141.3 473.5,139.3 473.5,138.3 471.5,136.3 471.4,135.3 469.4,133.3 469.4,132.3 467.4,130.3 467.4,129.3 465.4,127.3 465.4,126.3 463.4,124.3 463.4,123.3 461.4,121.3 461.4,120.3 459.4,118.3 459.4,117.3 457.4,115.3 457.4,114.3 453.4,109.3 453.4,108.3 450.4,105.3 450.4,104.3 448.4,102.2 448.4,101.2 446.4,99.2 446.4,98.2 444.4,96.2 444.4,95.2 442.4,93.2 442.4,92.2 440.4,90.2 440.4,89.2 438.4,87.2 438.4,86.2 436.4,84.2 436.4,83.2 434.4,81.2 434.4,80.2 432.4,78.2 432.4,77.2 430.4,75.2 430.4,74.2 428.4,72.2 428.4,71.2 426.4,69.2 426.4,68.2 424.4,66.2 424.4,65.2 422.4,63.2 422.4,62.1 418.4,57.1 417.4,54.2 420.4,54.4 425.1,52.1 431.5,48.3 435.1,45.1 437.9,41.1 437.8,39.1 436.7,36.1 434.6,34.1 428.1,32.1 403.4,26.8 401.4,25.1 401.2,23.1 402.4,20.8 409.4,18.2 416.4,16.8 424.3,16ZM416.4,54.1 416.8,54.1 416.4,54.1Z"/>
<path fill="#44a8f6" fill-rule="evenodd" d="M192.8,1 194.1,0 242.8,0 251.7,12 255.1,20 255.7,28.1 254.5,34.1 252.3,39.1 252.7,40.1 262.1,45.1 226.2,45.1 225.2,44.1 203.2,44.1 202.2,43.1 194.2,43.1 193.2,42.1 185.2,42.1 184.2,41.1 176.2,41.1 175.2,40.1 168.2,40.1 167.2,39.1 158.2,39.1 157.2,40.1 148.2,40.1 147.2,41.1 137.1,41.1 136.1,42.1 127.1,42.1 126.1,43.1 116.1,43.1 115.1,44.1 106.1,44.1 105.1,45.1 95.1,45.1 94.1,44.1 86.1,44.1 85.1,43.1 78.1,43.1 77.1,42.1 69.1,42.1 68.1,41.1 61.1,41.1 60.1,40.1 52.1,40.1 51.1,39.1 48,39.1 38.2,34.1 36.3,32.1 35.1,29.1 35.7,23.1 38.5,17 42.6,13 48.1,10 56,8 63.1,7.1 88.1,6.5 102.1,8.2 106.7,10 109.1,12 110.1,15 109.6,17 104.9,23.1 104.3,25.1 105.3,30.1 107.1,31.6 110.1,32.7 120.1,34.9 139.1,36.2 161.2,35.4 172.2,34.4 174.2,33.4 175.6,31.1 179.4,17 182.2,11 186.2,6 192.8,1ZM422.9,17 433.5,17.5 441.5,19.4 448,23.1 455.5,29.3 457.5,30.2 471.5,29.1 482.5,29.8 492.5,31.8 509.5,36.9 528.6,44.3 555.6,59.6 568.6,65.1 568.6,248.6 559.5,248.6 558.5,247.6 558.5,246.6 553.5,241.6 553.5,240.6 549.5,236.6 549.5,235.6 541.5,226.5 541.5,225.5 536.5,220.5 536.5,219.5 532.5,215.5 532.5,214.5 528.5,210.5 528.5,209.5 524.5,205.5 524.5,204.5 519.5,199.5 519.5,198.5 515.5,194.5 515.5,193.5 507.5,184.4 507.5,183.4 504.5,180.4 504.5,179.4 500.5,175.4 500.5,174.4 497.5,171.4 497.5,170.4 493.5,166.4 493.5,165.4 489.5,161.4 489.5,160.4 486.5,157.4 486.5,156.4 482.5,152.4 482.5,151.4 479.5,148.4 479.5,147.4 477.5,145.4 477.5,144.3 475.5,142.3 475.5,141.3 473.5,139.3 473.5,138.3 471.5,136.3 471.5,135.3 469.5,133.3 469.5,132.3 467.4,130.3 467.4,129.3 465.4,127.3 465.4,126.3 463.4,124.3 463.4,123.3 461.4,121.3 461.4,120.3 459.4,118.3 459.4,117.3 457.4,115.3 457.4,114.3 453.4,109.3 453.4,108.3 450.4,105.3 450.4,104.3 448.4,102.2 448.4,101.2 446.4,99.2 446.4,98.2 444.4,96.2 444.4,95.2 442.4,93.2 442.4,92.2 440.4,90.2 440.4,89.2 438.4,87.2 438.4,86.2 436.4,84.2 436.4,83.2 434.4,81.2 434.4,80.2 432.4,78.2 432.4,77.2 430.4,75.2 430.4,74.2 428.4,72.2 428.4,71.2 426.4,69.2 426.4,68.2 424.4,66.2 424.4,65.2 422.4,63.2 422.4,62.1 418.4,57.1 418.4,55.4 421.4,55.2 433.3,48.1 440.1,42.1 441,40.1 438.7,33.1 437.5,31.5 412.4,27.4 405.4,25.2 403.9,24.1 403.7,23.1 404.3,22.1 410.4,19.1 422.9,17ZM35,38.1 35,37.2 38.1,38.1 35,38.1Z"/>
<path fill="#00e6a0" fill-rule="evenodd" d="M196.7,1 198.1,0 239.6,0 247.4,10 250.3,15.7 251.5,20 251.8,24.1 251.1,29.1 247.1,39.1 249,41.1 257,45.1 226.2,45.1 225.2,44.1 203.2,44.1 202.2,43.1 194.2,43.1 193.2,42.1 185.2,42.1 184.2,41.1 176.2,41.1 175.2,40.1 168.2,40.1 167.2,39.1 158.2,39.1 157.2,40.1 148.2,40.1 147.2,41.1 137.1,41.1 136.1,42.1 127.1,42.1 126.1,43.1 116.1,43.1 115.1,44.1 106.1,44.1 105.1,45.1 95.1,45.1 94.1,44.1 86.1,44.1 85.1,43.1 78.1,43.1 77.1,42.1 69.1,42.1 68.1,41.1 61.1,41.1 60.1,40.1 56.7,40.1 46.2,35.1 44.3,33.1 42.8,29.1 42.5,24.1 43.4,20 46,16.3 50,13 57.6,10 61.8,9 77.1,7.5 89.1,7.4 100.3,9 103.2,10 105.9,12 106.8,14 106.4,16 100.7,23.1 100,28.1 100.3,30.1 101.6,32.1 105.1,34.5 108.1,35.7 120.1,37.4 139.1,38.1 148.2,36.8 174.2,35.2 176,34.1 177,32.1 181.2,18 184.6,11 189.2,5.7 196.7,1ZM419.8,19 424.4,18.5 430.2,19 432.5,21.1 432.8,22.1 432.1,25.1 429.5,27 427.5,27.4 422.3,27.1 419.2,26.1 417.4,24.1 417.1,22.1 418.2,20 419.8,19ZM469,34.1 478.5,33.6 488.5,34.9 500.8,38.1 516.5,43.1 528.7,48.1 555.6,63.6 568.6,69 568.6,248.6 559.6,248.6 558.6,247.6 558.6,246.6 553.5,241.6 553.5,240.6 549.5,236.6 549.5,235.6 541.5,226.5 541.5,225.5 536.5,220.5 536.5,219.5 532.5,215.5 532.5,214.5 528.5,210.5 528.5,209.5 524.5,205.5 524.5,204.5 519.5,199.5 519.5,198.5 515.5,194.5 515.5,193.5 507.5,184.4 507.5,183.4 504.5,180.4 504.5,179.4 500.5,175.4 500.5,174.4 497.5,171.4 497.5,170.4 493.5,166.4 493.5,165.4 489.5,161.4 489.5,160.4 486.5,157.4 486.5,156.4 482.5,152.4 482.5,151.4 479.5,148.4 479.5,147.4 477.5,145.4 477.5,144.3 475.5,142.3 475.5,141.3 473.5,139.3 473.5,138.3 471.5,136.3 471.5,135.3 469.5,133.3 469.5,132.3 467.5,130.3 467.5,129.3 465.5,127.3 465.4,126.3 463.4,124.3 463.4,123.3 461.4,121.3 461.4,120.3 459.4,118.3 459.4,117.3 457.4,115.3 457.4,114.3 453.4,109.3 453.4,108.3 450.4,105.3 450.4,104.3 448.4,102.2 448.4,101.2 446.4,99.2 446.4,98.2 444.4,96.2 444.4,95.2 442.4,93.2 442.4,92.2 440.4,90.2 440.4,89.2 438.4,87.2 438.4,86.2 436.4,84.2 436.4,83.2 434.4,81.2 434.4,80.2 432.4,78.2 432.4,77.2 430.4,75.2 430.4,74.2 428.4,72.2 428.4,71.2 426.4,69.2 426.4,68.2 424.4,66.2 424.4,65.2 422.4,63.2 422.4,62.1 418.4,57.1 418.4,56.5 420.4,56.7 422.4,56.2 433.5,49.4 442.9,43.1 445,41.1 446.5,38.9 448.5,37.7 452.5,36.2 458.5,36.1 469,34.1Z"/>
<path fill="#14c850" fill-rule="evenodd" d="M215.3,1 222.2,1.5 232.2,3.4 237.6,8 241.3,16 242.1,20 241.7,25.1 239.3,33.2 239.2,35.1 241.4,38.1 241.6,41.1 248.8,45.1 226.2,45.1 225.2,44.1 203.2,44.1 202.2,43.1 194.2,43.1 193.2,42.1 185.2,42.1 184.2,41.1 176.2,41.1 175.2,40.1 168.2,40.1 167.2,39.1 157.1,39.1 158.7,38.1 175.2,36.7 179.2,35.5 182,31.1 186.6,17 189.2,12.7 192.3,9 196.2,6 202.2,3.3 208.2,1.7 215.3,1ZM79.4,10 86.1,9.5 91.9,10 97.1,11.6 98.5,13 98.6,14 97.1,16.2 93.1,17.8 84.1,19.3 79.1,18.8 74.4,17 72.5,15 72.5,14 73.8,12 75.2,11 79.4,10ZM475.6,46.1 483.5,46.4 491.5,47.4 501.5,49.6 509.5,52 526.6,59.3 554.6,73.7 568.6,78.7 568.6,248.6 559.6,248.6 558.6,247.6 558.6,246.6 553.6,241.6 553.6,240.6 549.6,236.6 549.6,235.6 541.5,226.5 541.5,225.5 536.5,220.5 536.5,219.5 532.5,215.5 532.5,214.5 528.5,210.5 528.5,209.5 524.5,205.5 524.5,204.5 519.5,199.5 519.5,198.5 515.5,194.5 515.5,193.5 507.5,184.4 507.5,183.4 504.5,180.4 504.5,179.4 500.5,175.4 500.5,174.4 497.5,171.4 497.5,170.4 493.5,166.4 493.5,165.4 489.5,161.4 489.5,160.4 486.5,157.4 486.5,156.4 482.5,152.4 482.5,151.4 479.5,148.4 479.5,147.4 477.5,145.4 477.5,144.3 475.5,142.3 475.5,141.3 473.5,139.3 473.5,138.3 471.5,136.3 471.5,135.3 469.5,133.3 469.5,132.3 467.5,130.3 467.5,129.3 465.5,127.3 465.5,126.3 463.5,124.3 463.5,123.3 461.5,121.3 461.5,120.3 459.5,118.3 459.5,117.3 455.4,112.3 455.4,111.3 453.4,109.3 453.4,108.3 450.4,105.3 450.4,104.3 448.4,102.2 448.4,101.2 446.4,99.2 446.4,98.2 444.4,96.2 444.4,95.2 442.4,93.2 442.4,92.2 440.4,90.2 440.4,89.2 438.4,87.2 438.4,86.2 436.4,84.2 436.4,83.2 434.4,81.2 434.4,80.2 432.4,78.2 432.4,77.2 430.4,75.2 430.4,74.2 428.4,72.2 428.4,71.2 426.4,69.2 426.4,68.2 424.4,66.2 424.4,65.2 422.4,63.2 422.4,62.1 421.4,61.1 421.4,60.3 425.4,59.7 438.7,54.1 451.5,49.8 463.5,47.3 475.6,46.1Z"/>
<path fill="#22d832" fill-rule="evenodd" d="M213.1,6 218.2,5.7 223.2,6.1 230.2,7.7 232.7,9 233.1,10 231.5,15 232.5,21.1 231.7,27.1 236.2,36 238,38.1 234.3,40.1 233.8,41.1 240.8,45.1 226.2,45.1 225.2,44.1 203.2,44.1 202.2,43.1 194.2,43.1 193.2,42.1 185.2,42.1 184.2,41.1 176.2,41.1 175.2,40.1 170.6,40.1 171.1,39.1 181.2,37.3 187.2,33.5 188.4,32.1 194.3,18 198,13 204.2,8.5 208.2,7 213.1,6ZM467.4,59.1 475.5,58.5 485.5,59.1 497.5,60.9 508.5,63.8 521.6,69.1 555.6,86.2 568.6,91.5 568.6,248.6 559.6,248.6 558.6,247.6 558.6,246.6 553.6,241.6 553.6,240.6 549.6,236.6 549.6,235.6 541.6,226.5 541.6,225.5 536.5,220.5 536.5,219.5 532.5,215.5 532.5,214.5 528.5,210.5 528.5,209.5 524.5,205.5 524.5,204.5 519.5,199.5 519.5,198.5 515.5,194.5 515.5,193.5 507.5,184.4 507.5,183.4 504.5,180.4 504.5,179.4 500.5,175.4 500.5,174.4 497.5,171.4 497.5,170.4 493.5,166.4 493.5,165.4 489.5,161.4 489.5,160.4 486.5,157.4 486.5,156.4 482.5,152.4 482.5,151.4 479.5,148.4 479.5,147.4 477.5,145.4 477.5,144.3 475.5,142.3 475.5,141.3 473.5,139.3 473.5,138.3 471.5,136.3 471.5,135.3 469.5,133.3 469.5,132.3 467.5,130.3 467.5,129.3 465.5,127.3 465.5,126.3 463.5,124.3 463.5,123.3 461.5,121.3 461.5,120.3 459.5,118.3 459.5,117.3 457.5,115.3 457.5,114.3 453.5,109.3 453.5,108.3 450.5,105.3 450.5,104.3 448.5,102.2 448.5,101.2 446.5,99.2 446.5,98.2 444.4,96.2 444.5,95.2 442.4,93.2 442.4,92.2 440.4,90.2 440.4,89.2 438.4,87.2 438.4,86.2 436.4,84.2 436.4,83.2 432.4,78.2 432.4,77.2 430.4,75.2 430.4,74.2 428.4,72.2 428.4,71.2 426.4,69.2 426.4,68.7 431.5,67.9 458.5,60.8 467.4,59.1Z"/>
<path fill="#30d539" fill-rule="evenodd" d="M212.6,13 218.8,14 220.7,15 222.8,17 224.5,25.1 230.1,33.1 233.9,37.1 233.1,38.1 226.4,40.1 226.5,41.1 233.8,45.1 226.2,45.1 225.2,44.1 203.2,44.1 202.2,43.1 194.2,43.1 193.2,42.1 185.2,42.1 184.2,41.1 182.8,41.1 181.9,40.1 183,39.1 190.2,35.4 192.8,33.1 202.4,17 207.2,14.1 212.6,13ZM466.9,70.2 474.5,69.7 484.5,70.4 494.5,72 506.5,75 529.6,83.4 568.6,99.8 568.6,248.6 559.6,248.6 558.6,247.6 558.6,246.6 553.6,241.6 553.6,240.6 549.6,236.6 549.6,235.6 541.6,226.5 541.6,225.5 536.6,220.5 536.6,219.5 532.5,215.5 532.5,214.5 528.5,210.5 528.5,209.5 524.5,205.5 524.5,204.5 519.5,199.5 519.5,198.5 515.5,194.5 515.5,193.5 511.5,189.5 511.5,188.5 507.5,184.4 507.5,183.4 504.5,180.4 504.5,179.4 500.5,175.4 500.5,174.4 497.5,171.4 497.5,170.4 493.5,166.4 493.5,165.4 489.5,161.4 489.5,160.4 486.5,157.4 486.5,156.4 482.5,152.4 482.5,151.4 479.5,148.4 479.5,147.4 477.5,145.4 477.5,144.3 475.5,142.3 475.5,141.3 473.5,139.3 473.5,138.3 471.5,136.3 471.5,135.3 469.5,133.3 469.5,132.3 467.5,130.3 467.5,129.3 465.5,127.3 465.5,126.3 463.5,124.3 463.5,123.3 461.5,121.3 461.5,120.3 459.5,118.3 459.5,117.3 457.5,115.3 457.5,114.3 453.5,109.3 453.5,108.3 450.5,105.3 450.5,104.3 448.5,102.2 448.5,101.2 446.5,99.2 446.5,98.2 444.5,96.2 444.5,95.2 442.5,93.2 442.5,92.2 440.5,90.2 440.5,89.2 438.5,87.2 438.5,86.2 436.5,84.2 436.5,83.2 432.5,78.2 432.5,76.6 466.9,70.2Z"/>
<path fill="#4dce48" fill-rule="evenodd" d="M207.6,15 211.2,14.3 215.2,14.4 217.7,15 220.6,17 222.2,20 222.4,24.1 230.2,33.9 233.5,37.1 232.4,38.1 225.5,40.1 225.7,41.1 233,45.1 226.2,45.1 225.2,44.1 203.2,44.1 202.2,43.1 194.2,43.1 193.2,42.1 185.7,42.1 182.9,40.1 183.8,39.1 192.5,34.1 197.2,27.3 201.1,24.1 201.9,20 203,18 207.6,15ZM468.5,71.2 475.5,70.9 484.5,71.6 494.5,73.3 506.5,76.3 529.6,84.4 568.6,100.6 568.6,248.6 559.6,248.6 558.6,247.6 558.6,246.6 553.6,241.6 553.6,240.6 549.6,236.6 549.6,235.6 541.6,226.5 541.6,225.5 536.6,220.5 536.6,219.5 532.5,215.5 532.5,214.5 528.5,210.5 528.5,209.5 524.5,205.5 524.5,204.5 519.5,199.5 519.5,198.5 515.5,194.5 515.5,193.5 511.5,189.5 511.5,188.5 507.5,184.4 507.5,183.4 504.5,180.4 504.5,179.4 500.5,175.4 500.5,174.4 497.5,171.4 497.5,170.4 493.5,166.4 493.5,165.4 489.5,161.4 489.5,160.4 486.5,157.4 486.5,156.4 482.5,152.4 482.5,151.4 479.5,148.4 479.5,147.4 477.5,145.4 477.5,144.3 475.5,142.3 475.5,141.3 473.5,139.3 473.5,138.3 471.5,136.3 471.5,135.3 469.5,133.3 469.5,132.3 467.5,130.3 467.5,129.3 465.5,127.3 465.5,126.3 463.5,124.3 463.5,123.3 461.5,121.3 461.5,120.3 459.5,118.3 459.5,117.3 457.5,115.3 457.5,114.3 453.5,109.3 453.5,108.3 450.5,105.3 450.5,104.3 448.5,102.2 448.5,101.2 446.5,99.2 446.5,98.2 444.5,96.2 444.5,95.2 442.5,93.2 442.5,92.2 440.5,90.2 440.5,89.2 438.5,87.2 438.5,86.2 436.5,84.2 436.5,83.2 432.5,78.2 432.5,77.6 449.5,74.1 468.5,71.2Z"/>
<path fill="#5dcb50" fill-rule="evenodd" d="M210.9,16 214.2,16.2 217.7,18 218.9,21.1 218.3,23.1 217.2,24.4 215.2,25.5 211.2,26.1 208.2,25.8 206.2,24.2 205.1,21.1 205.2,19 207.5,17 210.9,16ZM222.7,27.1 225.2,28.2 229.9,34.1 233,37.1 231.4,38.1 225.2,39.7 224.6,40.1 224.9,41.1 232.3,45.1 226.2,45.1 225.2,44.1 203.2,44.1 202.2,43.1 194.2,43.1 193.2,42.1 186.8,42.1 183.9,40.1 184.6,39.1 193.2,34.1 196.2,29.7 198.2,27.7 200.2,27.6 205.9,29.1 212.2,29.3 217.2,28.9 222.7,27.1ZM470.5,72.2 478.5,72.2 487.5,73.2 497.5,75.2 508.5,78.1 538.6,88.9 568.6,101.5 568.6,248.6 559.6,248.6 558.6,247.6 558.6,246.6 553.6,241.6 553.6,240.6 549.6,236.6 549.6,235.6 545.6,231.6 545.6,230.6 541.6,226.5 541.6,225.5 536.6,220.5 536.6,219.5 532.6,215.5 532.6,214.5 528.5,210.5 528.5,209.5 524.5,205.5 524.5,204.5 519.5,199.5 519.5,198.5 515.5,194.5 515.5,193.5 511.5,189.5 511.5,188.5 507.5,184.4 507.5,183.4 504.5,180.4 504.5,179.4 500.5,175.4 500.5,174.4 497.5,171.4 497.5,170.4 493.5,166.4 493.5,165.4 489.5,161.4 489.5,160.4 486.5,157.4 486.5,156.4 482.5,152.4 482.5,151.4 479.5,148.4 479.5,147.4 477.5,145.4 477.5,144.3 475.5,142.3 475.5,141.3 473.5,139.3 473.5,138.3 471.5,136.3 471.5,135.3 469.5,133.3 469.5,132.3 467.5,130.3 467.5,129.3 465.5,127.3 465.5,126.3 463.5,124.3 463.5,123.3 461.5,121.3 461.5,120.3 459.5,118.3 459.5,117.3 457.5,115.3 457.5,114.3 453.5,109.3 453.5,108.3 450.5,105.3 450.5,104.3 448.5,102.2 448.5,101.2 446.5,99.2 446.5,98.2 444.5,96.2 444.5,95.2 442.5,93.2 442.5,92.2 440.5,90.2 440.5,89.2 438.5,87.2 438.5,86.2 434.5,81.2 433.5,78.3 458.5,73.6 470.5,72.2Z"/>
<path fill="#5eca51" fill-rule="evenodd" d="M209.7,19 211.2,18.6 213.2,19 214.2,20 214.3,21.1 213.2,22.4 210.2,22.7 208.7,21.1 208.8,20 209.7,19ZM199.1,29.1 205.2,30.3 211.2,30.7 217.2,30.3 224.2,28.9 226.2,30.4 232.4,37.1 225.2,39.2 223.7,40.1 224.1,41.1 231.5,45.1 226.2,45.1 225.2,44.1 203.2,44.1 202.2,43.1 194.2,43.1 193.2,42.1 188,42.1 185,40.1 185.4,39.1 192.7,35.1 197.2,29.8 199.1,29.1ZM462.4,74.2 472.5,73.3 481.5,73.7 491.5,75.2 504.5,78.3 518.5,82.6 538.6,89.9 568.6,102.4 568.6,248.6 559.6,248.6 558.6,247.6 558.6,246.6 553.6,241.6 553.6,240.6 549.6,236.6 549.6,235.6 545.6,231.6 545.6,230.6 541.6,226.5 541.6,225.5 536.6,220.5 536.6,219.5 532.6,215.5 532.6,214.5 528.5,210.5 528.5,209.5 524.5,205.5 524.5,204.5 519.5,199.5 519.5,198.5 515.5,194.5 515.5,193.5 511.5,189.5 511.5,188.5 507.5,184.4 507.5,183.4 504.5,180.4 504.5,179.4 500.5,175.4 500.5,174.4 497.5,171.4 497.5,170.4 493.5,166.4 493.5,165.4 489.5,161.4 489.5,160.4 486.5,157.4 486.5,156.4 482.5,152.4 482.5,151.4 479.5,148.4 479.5,147.4 477.5,145.4 477.5,144.3 475.5,142.3 475.5,141.3 473.5,139.3 473.5,138.3 471.5,136.3 471.5,135.3 469.5,133.3 469.5,132.3 467.5,130.3 467.5,129.3 465.5,127.3 465.5,126.3 463.5,124.3 463.5,123.3 461.5,121.3 461.5,120.3 459.5,118.3 459.5,117.3 457.5,115.3 457.5,114.3 453.5,109.3 453.5,108.3 450.5,105.3 450.5,104.3 448.5,102.2 448.5,101.2 446.5,99.2 446.5,98.2 444.5,96.2 444.5,95.2 442.5,93.2 442.5,92.2 440.5,90.2 440.5,89.2 438.5,87.2 438.5,86.2 434.5,81.2 434.4,79.2 462.4,74.2Z"/>
<path fill="#60ca52" fill-rule="evenodd" d="M197.4,31.1 199.2,30.6 205.2,31.5 212.2,31.7 225.2,30.9 231.5,37.1 224.2,39.1 222.8,40.1 223.3,41.1 224.8,42.1 230.7,45.1 226.2,45.1 225.2,44.1 203.2,44.1 202.2,43.1 194.2,43.1 193.2,42.1 189.3,42.1 186.1,40.1 186.4,39.1 193.6,35.1 197.4,31.1ZM463.9,75.2 473.5,74.5 482.5,75.1 491.5,76.5 504.5,79.6 518.5,83.9 538.6,90.9 568.6,103.3 568.6,248.6 559.6,248.6 558.6,247.6 558.6,246.6 553.6,241.6 553.6,240.6 549.6,236.6 549.6,235.6 545.6,231.6 545.6,230.6 541.6,226.5 541.6,225.5 536.6,220.5 536.6,219.5 532.6,215.5 532.6,214.5 528.5,210.5 528.5,209.5 524.5,205.5 524.5,204.5 519.5,199.5 519.5,198.5 515.5,194.5 515.5,193.5 511.5,189.5 511.5,188.5 507.5,184.4 507.5,183.4 504.5,180.4 504.5,179.4 500.5,175.4 500.5,174.4 497.5,171.4 497.5,170.4 493.5,166.4 493.5,165.4 489.5,161.4 489.5,160.4 486.5,157.4 486.5,156.4 482.5,152.4 482.5,151.4 479.5,148.4 479.5,147.4 477.5,145.4 477.5,144.3 475.5,142.3 475.5,141.3 473.5,139.3 473.5,138.3 471.5,136.3 471.5,135.3 469.5,133.3 469.5,132.3 467.5,130.3 467.5,129.3 465.5,127.3 465.5,126.3 463.5,124.3 463.5,123.3 461.5,121.3 461.5,120.3 459.5,118.3 459.5,117.3 457.5,115.3 457.5,114.3 453.5,109.3 453.5,108.3 450.5,105.3 450.5,104.3 448.5,102.2 448.5,101.2 446.5,99.2 446.5,98.2 444.5,96.2 444.5,95.2 442.5,93.2 442.5,92.2 440.5,90.2 440.5,89.2 438.5,87.2 438.5,86.2 434.5,81.2 434.5,80.3 435.5,80.1 463.9,75.2Z"/>
<path fill="#62c953" fill-rule="evenodd" d="M196.5,33.1 199.2,32.1 209.2,32.7 225.2,32.5 227.2,33.7 230.3,37.1 223.2,39 221.8,40.1 224,42.1 229.9,45.1 226.2,45.1 225.2,44.1 203.2,44.1 202.2,43.1 194.2,43.1 193.2,42.1 190.6,42.1 187.3,40.1 187.4,39.1 194.2,35.3 196.5,33.1ZM465.8,76.2 473.5,75.8 483.5,76.5 492.5,78 505.5,81.2 539.4,92.2 568.6,104.2 568.6,248.6 559.6,248.6 558.6,247.6 558.6,246.6 553.6,241.6 553.6,240.6 549.6,236.6 549.6,235.6 545.6,231.6 545.6,230.6 541.6,226.5 541.6,225.5 536.6,220.5 536.6,219.5 532.6,215.5 532.6,214.5 528.5,210.5 528.5,209.5 524.5,205.5 524.5,204.5 519.5,199.5 519.5,198.5 515.5,194.5 515.5,193.5 511.5,189.5 511.5,188.5 507.5,184.4 507.5,183.4 504.5,180.4 504.5,179.4 500.5,175.4 500.5,174.4 497.5,171.4 497.5,170.4 493.5,166.4 493.5,165.4 489.5,161.4 489.5,160.4 486.5,157.4 486.5,156.4 482.5,152.4 482.5,151.4 479.5,148.4 479.5,147.4 477.5,145.4 477.5,144.3 475.5,142.3 475.5,141.3 473.5,139.3 473.5,138.3 471.5,136.3 471.5,135.3 469.5,133.3 469.5,132.3 467.5,130.3 467.5,129.3 465.5,127.3 465.5,126.3 463.5,124.3 463.5,123.3 461.5,121.3 461.5,120.3 459.5,118.3 459.5,117.3 457.5,115.3 457.5,114.3 453.5,109.3 453.5,108.3 450.5,105.3 450.5,104.3 448.5,102.2 448.5,101.2 446.5,99.2 446.5,98.2 444.5,96.2 444.5,95.2 442.5,93.2 442.5,92.2 440.5,90.2 440.5,89.2 436.5,84.2 436.5,83.2 435.5,82.2 435.5,81.3 436.5,81 451.5,78.1 465.8,76.2Z"/>
<path fill="#63c854" fill-rule="evenodd" d="M197.1,34.1 199.2,33.6 206.2,33.6 226.2,34.4 228.7,36.1 228.8,37.1 222.2,38.8 220.9,40.1 223.2,42.1 229.1,45.1 226.2,45.1 225.2,44.1 203.2,44.1 202.2,43.1 194.2,43.1 193.2,42.1 192.2,42.1 188.7,40.1 188.7,39.1 197.1,34.1ZM469.4,77.2 477.5,77.2 485.5,78 508.5,83.3 542,94.2 568.6,105.2 568.6,248.6 559.6,248.6 558.6,247.6 558.6,246.6 553.6,241.6 553.6,240.6 549.6,236.6 549.6,235.6 545.6,231.6 545.6,230.6 541.6,226.5 541.6,225.5 536.6,220.5 536.6,219.5 532.6,215.5 532.6,214.5 528.5,210.5 528.5,209.5 524.5,205.5 524.5,204.5 519.5,199.5 519.5,198.5 515.5,194.5 515.5,193.5 511.5,189.5 511.5,188.5 507.5,184.4 507.5,183.4 504.5,180.4 504.5,179.4 500.5,175.4 500.5,174.4 497.5,171.4 497.5,170.4 493.5,166.4 493.5,165.4 489.5,161.4 489.5,160.4 486.5,157.4 486.5,156.4 482.5,152.4 482.5,151.4 479.5,148.4 479.5,147.4 477.5,145.4 477.5,144.3 475.5,142.3 475.5,141.3 473.5,139.3 473.5,138.3 471.5,136.3 471.5,135.3 469.5,133.3 469.5,132.3 467.5,130.3 467.5,129.3 465.5,127.3 465.5,126.3 463.5,124.3 463.5,123.3 461.5,121.3 461.5,120.3 459.5,118.3 459.5,117.3 457.5,115.3 457.5,114.3 453.5,109.3 453.5,108.3 450.5,105.3 450.5,104.3 448.5,102.2 448.5,101.2 446.5,99.2 446.5,98.2 444.5,96.2 444.5,95.2 442.5,93.2 442.5,92.2 440.5,90.2 440.5,89.2 436.5,84.2 436.5,82.3 439.5,81.4 455.5,78.6 469.4,77.2Z"/>
<path fill="#ffc61e" fill-rule="evenodd" d="M199,35.1 212.2,34.6 226.2,36 226.2,37.1 221.2,38.6 220,40.1 222.4,42.1 228.3,45.1 226.2,45.1 225.2,44.1 203.2,44.1 202.2,43.1 196.1,43.1 190.7,40.1 190.5,39.1 196.2,36 199,35.1ZM462.3,79.2 474.5,78.5 481.5,78.9 489.9,80.2 502.6,83.2 516.8,87.2 538.4,94.2 552,99.2 568.6,106.3 568.6,248.6 559.6,248.6 558.6,247.6 558.6,246.6 553.6,241.6 553.6,240.6 549.6,236.6 549.6,235.6 545.6,231.6 545.6,230.6 541.6,226.5 541.6,225.5 536.6,220.5 536.6,219.5 532.6,215.5 532.6,214.5 528.6,210.5 528.5,209.5 524.5,205.5 524.5,204.5 519.5,199.5 519.5,198.5 515.5,194.5 515.5,193.5 511.5,189.5 511.5,188.5 507.5,184.4 507.5,183.4 504.5,180.4 504.5,179.4 500.5,175.4 500.5,174.4 497.5,171.4 497.5,170.4 493.5,166.4 493.5,165.4 489.5,161.4 489.5,160.4 486.5,157.4 486.5,156.4 482.5,152.4 482.5,151.4 479.5,148.4 479.5,147.4 477.5,145.4 477.5,144.3 475.5,142.3 475.5,141.3 473.5,139.3 473.5,138.3 471.5,136.3 471.5,135.3 469.5,133.3 469.5,132.3 467.5,130.3 467.5,129.3 465.5,127.3 465.5,126.3 463.5,124.3 463.5,123.3 461.5,121.3 461.5,120.3 459.5,118.3 459.5,117.3 457.5,115.3 457.5,114.3 453.5,109.3 453.5,108.3 450.5,105.3 450.5,104.3 448.5,102.2 448.5,101.2 446.5,99.2 446.5,98.2 444.5,96.2 444.5,95.2 442.5,93.2 442.5,92.2 440.5,90.2 440.5,89.2 438.5,87.2 438.5,86.2 436.8,84.2 438.5,83 462.3,79.2Z"/>
<path fill="#fc9509" fill-rule="evenodd" d="M567.8,154.4 568.6,153.8 568.6,166.7 566.3,164.4 565,160.4 565.6,157.2 567.8,154.4Z"/>
</g>
<g clip-path="url(#w11)">
<path fill="none" stroke="#000" stroke-width="0.6" d="M301,0 299.3,1.8 295.5,3 309.3,8.1 314.3,9.1 333.4,7.4 385.4,5.1 404.4,3.7 406.7,3 406,2 405.9,0M391,0 391,1 390.4,2.1 387.4,2.7 374.4,2.6 367.4,2 334.4,2.2 332.4,1.9 331.3,1.3 331,0M458.9,0 459.5,3.1 461.5,3.6 466.5,3.7 468.9,3 469.7,0M515.7,0 517.2,3 516.5,4.2 515.5,4.6 511.5,4.9 507.5,3.4 492.9,4 510.5,5.9 538.6,11.7 539.6,11.7 540.6,9 541.6,8.2 548.6,3.9 553.1,0"/>
<path fill="none" stroke="#000" stroke-width="0.6" d="M244.2,0 253.4,12 257,20 258,25.1 258,28.1 257.1,34.1 255.2,39.1 255.5,40.1 256.7,41.1 262.7,44.1M33.9,36.1 37,36.5 38.1,36.1 33.1,32.1 32.3,30.1 32.2,28.1 32.6,24.1 33.7,20 36,16 38,13.9 43,10.8 50.5,8 60.1,6.6 74.1,5.9 87.1,6 97.1,6.7 103.9,8 108.3,10 110.8,13 111.5,16 110.3,19 106.6,24.1 106.3,27.1 107.5,30.1 112.1,32.3 121.1,34.3 139.1,35.6 160.8,35.1 171.2,33.8 173.2,33 175,30.1 178.3,17 181,11 184.8,6 191.5,0M418.1,54.8 420.4,54.9 425.9,52.1 432.4,48.1 435.8,45.1 438.4,42.1 439.2,40.1 437.5,34.7 436.5,33.4 434.5,32.6 411.5,28.1 404.1,26.1 402.4,24.6 402.5,22.1 403.6,21.1 405.9,20 413.4,17.7 422.4,16.5 431.5,16.5 436.6,17 442.5,18.5 450.1,22.1 456.5,26.9 471.5,26.7 483.5,27.8 493.5,30 510.5,35.2 521.6,39.3 529.6,42.9 555.6,57.5 568.6,63.1"/>
<path fill="none" stroke="#000" stroke-width="0.6" d="M177.3,40.1 178.9,39.1 183.2,37.7 189.7,34.1 191.3,32.1 198.2,18 202.2,13.7 208.2,10.7 212.2,10 216.2,9.9 222.4,11 226.2,13 227.2,14 227.3,24.1 227.7,26.1 230.8,31.1 235.3,37.1 235.2,38.1 229.8,40.1 229.5,41.1 234.7,44.1M430.5,73.3 457.5,67.2 467.5,65.5 478.5,65.1 491.5,66.6 501.5,68.7 513.5,72.4 526.6,77.8 553.6,90.2 568.6,96.4"/>
<path fill="none" stroke="#000" stroke-width="0.6" d="M568.6,169.8 566.6,168.3 565.2,166.4 563.9,163.4 563.4,160.4 563.8,157.4 564.6,155.4 566.6,152.9 568.6,151.3"/>
<text transform="translate(62.2,10) rotate(0) scale(1.15,1)" text-anchor="middle" fill="#000" font-size="14" font-weight="bold" font-style="italic">5</text>
<text transform="translate(211.1,18.1) rotate(0) scale(1.15,1)" text-anchor="middle" fill="#000" font-size="14" font-weight="bold" font-style="italic">10</text>
<text transform="translate(332.3,16.5) rotate(10) scale(1.15,1)" text-anchor="middle" fill="#000" font-size="14" font-weight="bold" font-style="italic">0</text>
<text transform="translate(422.6,21.9) rotate(0) scale(1.15,1)" text-anchor="middle" fill="#000" font-size="14" font-weight="bold" font-style="italic">5</text>
<text transform="translate(422.3,23) rotate(0) scale(1.15,1)" text-anchor="middle" fill="#000" font-size="14" font-weight="bold" font-style="italic">5</text>
<text transform="translate(526.8,18.9) rotate(-20) scale(1.15,1)" text-anchor="middle" fill="#000" font-size="14" font-weight="bold" font-style="italic">0</text>
<text transform="translate(562.8,95.1) rotate(10) scale(1.15,1)" text-anchor="middle" fill="#000" font-size="14" font-weight="bold" font-style="italic">10</text>
<text transform="translate(475.2,120.3) rotate(0) scale(1.15,1)" text-anchor="middle" fill="#000" font-size="14" font-weight="bold" font-style="italic">15</text>
<path fill="none" stroke="#fff" stroke-width="1.1" d="M1.1,12.5 1.9,9.2 2.5,8 3.3,7 5.8,5.2 7.7,4.6 12.8,3.6 24.7,3.1 42.3,3.1 54.5,3.4 85,5 95.7,6 104.3,7.1 110.9,8.3 118.5,10.5"/>
<path fill="none" stroke="#fff" stroke-width="1.1" d="M132.4,24.7 135.9,27.7 137.6,28.8 141.7,30.6 146.7,31.9 154.9,32.9 160.3,33 165.3,32.5 169.6,31.3 173,29.5 174.4,28.2 175.4,26.8 176.1,25.2 177,21.6 178.3,18.2 180.2,14.9 181.4,13.3 184.4,10 187.7,7.1 196.6,0.1"/>
<path fill="none" stroke="#fff" stroke-width="1.1" d="M27.4,32 35.8,29.8 39.6,28 41.2,27 43.9,24.8 45.7,22.4 48,20.4 53.4,17.7"/>
<path fill="none" stroke="#fff" stroke-width="1.1" d="M86,23 83,25.8 78.9,28.5 78.5,29.2 78.5,30 78.9,30.8 79.7,31.6 82.5,33.2 89.6,35.6 110.4,40.1"/>
<path fill="none" stroke="#fff" stroke-width="1.1" d="M110.4,2.4 131.8,3.2 159.2,3.7"/>
<path fill="none" stroke="#fff" stroke-width="1.1" d="M227.6,38.8 236.5,40.5"/>
<path fill="none" stroke="#fff" stroke-width="1.1" d="M230.8,1.1 236.5,4.3 262.9,17.6 269.6,20.7 277.2,23.9"/>
<path fill="none" stroke="#fff" stroke-width="1.1" d="M310.5,18.2 336.8,12.2 343.5,10.2 351.6,7 354.3,5.3 354.7,4.7 354.7,4 354.3,3.4 352.2,2.1 349.5,1.1 343.9,0.1"/>
<path fill="none" stroke="#fff" stroke-width="1.1" d="M252,0.1 258.6,4 261.4,5.3 267.4,7.4 274,8.6 281,9.1 284.7,9 291.1,8.7 300,7.6"/>
<path fill="none" stroke="#fff" stroke-width="1.1" d="M332.5,30.7 333.5,27.9 335.2,26.1 338.2,24.6 340.2,24 345.5,22.9 352.3,22.2 371.6,21.4"/>
<path fill="none" stroke="#fff" stroke-width="1.1" d="M405.7,24.2 413.9,26 417.9,27.2 418.6,27.6 418.5,27.9 419.8,28.9 422.4,30.6 431.7,36.3 436.7,39.7 441.5,43.5 446,47.5 458.4,59.4 465.9,66.1 473.4,71.6 480.8,76.1 484.8,78.2 493.6,82.1 503,85.6 511.9,88 520.4,89.6 533.2,92.6 537.3,93.8 545.1,96.6 552.5,100.1 556.3,102.2 560,104.6 569.3,111.2"/>
<path fill="none" stroke="#fff" stroke-width="1.1" d="M373.2,4.3 382.1,7.1 389,8.5 421.2,12.7 457.8,18.2 467.5,19.9"/>
<path fill="none" stroke="#fff" stroke-width="1.1" d="M499.3,27.5 516.2,33.4 532.3,38.4 544.8,41.7 569.8,47.1"/>
<path fill="none" stroke="#fff" stroke-width="1.1" d="M406.5,2.9 421.2,5.5 454,9.7 465.2,10.8 482,11.9 487.6,12.5 515.6,17 551.9,22.5"/>
<path fill="none" stroke="#fff" stroke-width="1.1" d="M480.3,5.7 497.7,6.4 510.5,7.4"/>
<path fill="none" stroke="#fff" stroke-width="1.1" d="M544.1,7.9 569.8,9.8"/>
<path fill="none" stroke="#fff" stroke-width="1.1" d="M434.5,1.2 451.2,2.2"/>
<path fill="none" stroke="#fff" stroke-width="1.1" d="M473.6,2 510.5,1.8"/>
<path fill="none" stroke="#fff" stroke-width="1.1" d="M456.6,110.2 469.7,112.1 486.4,115.5"/>
<path fill="none" stroke="#fff" stroke-width="1.1" d="M514,125 526,135 530.2,139 533.9,143.2 537.1,147.3 550.4,168.6 553.3,172.9 560,181.4 569.3,192"/>
<text transform="translate(71.3,22.3) rotate(0) scale(1.15,1)" text-anchor="middle" fill="#fff" font-size="14" font-weight="bold" font-style="italic">26</text>
<text transform="translate(127.5,19.1) rotate(35) scale(1.15,1)" text-anchor="middle" fill="#fff" font-size="14" font-weight="bold" font-style="italic">25</text>
<text transform="translate(173.9,6.4) rotate(-15) scale(1.15,1)" text-anchor="middle" fill="#fff" font-size="14" font-weight="bold" font-style="italic">24</text>
<text transform="translate(217.8,42.2) rotate(5) scale(1.15,1)" text-anchor="middle" fill="#fff" font-size="14" font-weight="bold" font-style="italic">26</text>
<text transform="translate(313,8) rotate(-60) scale(1.15,1)" text-anchor="middle" fill="#fff" font-size="14" font-weight="bold" font-style="italic">24</text>
<text transform="translate(295.1,26.9) rotate(-5) scale(1.15,1)" text-anchor="middle" fill="#fff" font-size="14" font-weight="bold" font-style="italic">25</text>
<text transform="translate(389.4,27.5) rotate(5) scale(1.15,1)" text-anchor="middle" fill="#fff" font-size="14" font-weight="bold" font-style="italic">26</text>
<text transform="translate(462.4,5.7) rotate(5) scale(1.15,1)" text-anchor="middle" fill="#fff" font-size="14" font-weight="bold" font-style="italic">22</text>
<text transform="translate(525.1,12.4) rotate(5) scale(1.15,1)" text-anchor="middle" fill="#fff" font-size="14" font-weight="bold" font-style="italic">23</text>
<text transform="translate(479.2,24.7) rotate(15) scale(1.15,1)" text-anchor="middle" fill="#fff" font-size="14" font-weight="bold" font-style="italic">25</text>
<text transform="translate(564.2,30.3) rotate(-10) scale(1.15,1)" text-anchor="middle" fill="#fff" font-size="14" font-weight="bold" font-style="italic">24</text>
<text transform="translate(501.3,124.6) rotate(18) scale(1.15,1)" text-anchor="middle" fill="#fff" font-size="14" font-weight="bold" font-style="italic">27</text>
</g>
<path d="M503.5,175.2 L500,177 L534,221 L537.4,217.2 C538.5,205 537,196 533,188.5 C528,180.5 517,176 503.5,175.2 Z" fill="#fff"/>
<path d="M0,30 L3,30.3 L99.2,41.7 L162.9,35.6 L208,40.7 L274.3,42.2 L332,32.1 L372.5,38.2 L412.6,44.8 L479.8,145 L512,186.2 L562.5,248.6 L568.6,248.6 L568.6,248.6 L0,248.6 Z" fill="#363636"/>
<g fill="#3c3c3c"><circle cx="3.5" cy="1.2" r="2.3"/><circle cx="3.5" cy="8.6" r="2.3"/><circle cx="3.5" cy="12.4" r="2.3"/><circle cx="3.5" cy="21.1" r="2.3"/><circle cx="3.5" cy="26.9" r="2.3"/><circle cx="99.2" cy="1.5" r="2.3"/><circle cx="99.2" cy="9.1" r="2.3"/><circle cx="99.2" cy="17.4" r="2.3"/><circle cx="99.2" cy="25.4" r="2.3"/><circle cx="99.2" cy="39.3" r="2.3"/><circle cx="162.9" cy="1.5" r="2.3"/><circle cx="162.9" cy="9.1" r="2.3"/><circle cx="162.9" cy="17.1" r="2.3"/><circle cx="162.9" cy="24.9" r="2.3"/><circle cx="162.9" cy="32.1" r="2.3"/><circle cx="208" cy="1.5" r="2.3"/><circle cx="208" cy="9.1" r="2.3"/><circle cx="208" cy="17.1" r="2.3"/><circle cx="208" cy="24.9" r="2.3"/><circle cx="208" cy="38.6" r="2.3"/><circle cx="274.3" cy="1.8" r="2.3"/><circle cx="274.3" cy="9.9" r="2.3"/><circle cx="274.3" cy="18.2" r="2.3"/><circle cx="274.3" cy="25.7" r="2.3"/><circle cx="274.3" cy="31.5" r="2.3"/><circle cx="274.3" cy="38.1" r="2.3"/><circle cx="332" cy="1.8" r="2.3"/><circle cx="332" cy="9.1" r="2.3"/><circle cx="332" cy="15.7" r="2.3"/><circle cx="332" cy="19.9" r="2.3"/><circle cx="332" cy="24" r="2.3"/><circle cx="332" cy="28.2" r="2.3"/><circle cx="372.5" cy="1.8" r="2.3"/><circle cx="372.5" cy="9.1" r="2.3"/><circle cx="372.5" cy="17.4" r="2.3"/><circle cx="372.5" cy="24.9" r="2.3"/><circle cx="372.5" cy="35.6" r="2.3"/><circle cx="413.3" cy="1.5" r="2.3"/><circle cx="413.3" cy="10.8" r="2.3"/><circle cx="413.3" cy="18.2" r="2.3"/><circle cx="413.3" cy="29" r="2.3"/><circle cx="413.3" cy="33.1" r="2.3"/><circle cx="413.3" cy="42.7" r="2.3"/><circle cx="480" cy="1.5" r="2.3"/><circle cx="480" cy="12" r="2.3"/><circle cx="480" cy="22.1" r="2.3"/><circle cx="480" cy="42.3" r="2.3"/><circle cx="480" cy="58" r="2.3"/><circle cx="480" cy="82.9" r="2.3"/><circle cx="480" cy="100.3" r="2.3"/><circle cx="480" cy="116.8" r="2.3"/><circle cx="480" cy="132.6" r="2.3"/><circle cx="480" cy="141.7" r="2.3"/><circle cx="563.5" cy="1.5" r="2.3"/><circle cx="563.5" cy="20.7" r="2.3"/><circle cx="563.5" cy="37.3" r="2.3"/><circle cx="563.5" cy="46.4" r="2.3"/><circle cx="563.5" cy="62.1" r="2.3"/><circle cx="563.5" cy="82.9" r="2.3"/><circle cx="563.5" cy="116" r="2.3"/><circle cx="563.5" cy="157.4" r="2.3"/><circle cx="563.5" cy="232" r="2.3"/></g>
<text x="-0.7" y="-2.2" font-size="17" font-style="italic" text-anchor="middle">1</text>
<text x="97" y="-2.2" font-size="17" font-style="italic" text-anchor="middle">2</text>
<text x="160.7" y="-2.2" font-size="17" font-style="italic" text-anchor="middle">3</text>
<text x="205.8" y="-2.2" font-size="17" font-style="italic" text-anchor="middle">4</text>
<text x="272.1" y="-2.2" font-size="17" font-style="italic" text-anchor="middle">10</text>
<text x="329.8" y="-2.2" font-size="17" font-style="italic" text-anchor="middle">11</text>
<text x="370.3" y="-2.2" font-size="17" font-style="italic" text-anchor="middle">12</text>
<text x="411.1" y="-2.2" font-size="17" font-style="italic" text-anchor="middle">13</text>
<text x="477.8" y="-2.2" font-size="17" font-style="italic" text-anchor="middle">14</text>
<text x="558.3" y="-2.2" font-size="17" font-style="italic" text-anchor="middle">15</text>
<path d="M0,0 H568.6 V248.6 H0 Z" fill="none" stroke="#000" stroke-width="1.1"/>
<path d="M0,0 h-6.5" stroke="#000" stroke-width="1.1"/>
<text x="-12.5" y="5.8" text-anchor="end" font-size="16.2" letter-spacing="0.4" font-weight="bold" font-style="italic" stroke="#000" stroke-width="0.3">0</text>
<path d="M0,41.4 h-6.5" stroke="#000" stroke-width="1.1"/>
<text x="-12.5" y="47.2" text-anchor="end" font-size="16.2" letter-spacing="0.4" font-weight="bold" font-style="italic" stroke="#000" stroke-width="0.3">50</text>
<path d="M0,82.9 h-6.5" stroke="#000" stroke-width="1.1"/>
<text x="-12.5" y="88.7" text-anchor="end" font-size="16.2" letter-spacing="0.4" font-weight="bold" font-style="italic" stroke="#000" stroke-width="0.3">100</text>
<path d="M0,124.3 h-6.5" stroke="#000" stroke-width="1.1"/>
<text x="-12.5" y="130.1" text-anchor="end" font-size="16.2" letter-spacing="0.4" font-weight="bold" font-style="italic" stroke="#000" stroke-width="0.3">150</text>
<path d="M0,165.7 h-6.5" stroke="#000" stroke-width="1.1"/>
<text x="-12.5" y="171.5" text-anchor="end" font-size="16.2" letter-spacing="0.4" font-weight="bold" font-style="italic" stroke="#000" stroke-width="0.3">200</text>
<path d="M0,207.2 h-6.5" stroke="#000" stroke-width="1.1"/>
<text x="-12.5" y="213" text-anchor="end" font-size="16.2" letter-spacing="0.4" font-weight="bold" font-style="italic" stroke="#000" stroke-width="0.3">250</text>
<path d="M0,248.6 h-6.5" stroke="#000" stroke-width="1.1"/>
<text x="-12.5" y="254.4" text-anchor="end" font-size="16.2" letter-spacing="0.4" font-weight="bold" font-style="italic" stroke="#000" stroke-width="0.3">300</text>
<path d="M0,248.6 v6.5" stroke="#000" stroke-width="1.1"/>
<text x="0" y="275" text-anchor="middle" font-size="16.2" letter-spacing="0.4" font-weight="bold" font-style="italic" stroke="#000" stroke-width="0.3">0</text>
<path d="M97.8,248.6 v4" stroke="#000" stroke-width="0.7"/>
<path d="M195.6,248.6 v6.5" stroke="#000" stroke-width="1.1"/>
<text x="195.6" y="275" text-anchor="middle" font-size="16.2" letter-spacing="0.4" font-weight="bold" font-style="italic" stroke="#000" stroke-width="0.3">500</text>
<path d="M293.3,248.6 v4" stroke="#000" stroke-width="0.7"/>
<path d="M391.1,248.6 v6.5" stroke="#000" stroke-width="1.1"/>
<text x="391.1" y="275" text-anchor="middle" font-size="16.2" letter-spacing="0.4" font-weight="bold" font-style="italic" stroke="#000" stroke-width="0.3">1000</text>
<path d="M488.9,248.6 v4" stroke="#000" stroke-width="0.7"/>
<rect x="4.1" y="212.5" width="221.2" height="31.2" fill="#000"/>
<text x="9.2" y="236.6" fill="#fff" font-size="21.3" font-weight="bold" font-style="italic" textLength="215.7" lengthAdjust="spacingAndGlyphs">NO<tspan dy="4" font-size="12.5">2</tspan><tspan dy="-12.5" font-size="12.5">-</tspan><tspan dy="8.5">+NO</tspan><tspan dy="4" font-size="12.5">3</tspan><tspan dy="-12.5" font-size="12.5">-</tspan><tspan dy="8.5"> [µmol kg</tspan><tspan dy="-8.5" font-size="12.5">-1</tspan><tspan dy="8.5">]</tspan></text>
<text x="-76.2" y="11.4" font-size="30" font-weight="bold">D</text>
<rect x="587.2" y="0" width="24.2" height="248.6" fill="url(#cbg)"/>
<path d="M587.2,0.3 L592.2,0.3 C595.7,0 596.2,-3.4 599.3,-3.4 C602.4,-3.4 602.9,0 606.4,0.3 L611.4,0.3 Z" fill="#ffb88e"/>
<path d="M592.2,248.3 L599.3,252.6 L606.4,248.3 Z" fill="#e884de"/>
<path d="M587.2,0 L587.2,248.6 M611.4,0 L611.4,248.6" stroke="#000" stroke-width="1" fill="none"/>
<path d="M587.2,0 L592.2,0 C595.7,-0.3 596.2,-3.6 599.3,-3.6 C602.4,-3.6 602.9,-0.3 606.4,0 L611.4,0" stroke="#000" stroke-width="0.8" fill="none"/>
<path d="M587.2,248.6 L592.7,248.6 M605.9,248.6 L611.4,248.6" stroke="#000" stroke-width="0.8" fill="none"/>
<path d="M587.2,248.6 h5.5 M611.4,248.6 h-5.5" stroke="#000" stroke-width="1.1" fill="none"/>
<text transform="translate(617.9,252.9) scale(1.2,1)" font-size="12.2" font-weight="bold" font-style="italic" stroke="#000" stroke-width="0.25">0</text>
<path d="M587.2,186.4 h5.5 M611.4,186.4 h-5.5" stroke="#000" stroke-width="1.1" fill="none"/>
<text transform="translate(617.9,190.8) scale(1.2,1)" font-size="12.2" font-weight="bold" font-style="italic" stroke="#000" stroke-width="0.25">5</text>
<path d="M587.2,124.3 h5.5 M611.4,124.3 h-5.5" stroke="#000" stroke-width="1.1" fill="none"/>
<text transform="translate(617.9,128.6) scale(1.2,1)" font-size="12.2" font-weight="bold" font-style="italic" stroke="#000" stroke-width="0.25">10</text>
<path d="M587.2,62.1 h5.5 M611.4,62.1 h-5.5" stroke="#000" stroke-width="1.1" fill="none"/>
<text transform="translate(617.9,66.5) scale(1.2,1)" font-size="12.2" font-weight="bold" font-style="italic" stroke="#000" stroke-width="0.25">15</text>
<path d="M587.2,0 h5.5 M611.4,0 h-5.5" stroke="#000" stroke-width="1.1" fill="none"/>
<text transform="translate(617.9,4.3) scale(1.2,1)" font-size="12.2" font-weight="bold" font-style="italic" stroke="#000" stroke-width="0.25">20</text>
<text transform="translate(583.6,246.6) rotate(-90)" font-size="10" font-weight="bold" font-style="italic" stroke="#000" stroke-width="0.2">Ocean Data View / DIVA</text>
</g>
<g transform="translate(93.5,774)">
<clipPath id="w02"><path d="M0,0 L568.6,0 L568.6,248.6 L568.6,249.2 L562.5,249.2 L512,186.8 L479.8,145.6 L412.6,45.4 L372.5,38.8 L332,32.7 L274.3,42.8 L208,41.3 L162.9,36.2 L99.2,42.3 L3,30.9 L0,30.6 Z"/></clipPath>
<g clip-path="url(#w02)">
<rect x="0" y="0" width="568.6" height="248.6" fill="#e884de"/>
<path fill="#e25cd9" fill-rule="evenodd" d="M0,0 568.6,0 568.6,248.6 559.5,248.6 558.5,247.6 558.5,246.6 553.5,241.6 553.5,240.6 549.5,236.6 549.5,235.6 541.5,226.5 541.5,225.5 536.5,220.5 536.5,219.5 532.5,215.5 532.5,214.5 524.5,205.5 524.5,204.5 519.5,199.5 519.5,198.5 515.5,194.5 515.5,193.5 507.5,184.4 507.5,183.4 504.5,180.4 504.5,179.4 500.5,175.4 500.5,174.4 497.5,171.4 497.5,170.4 489.5,161.4 489.5,160.4 486.4,157.4 486.4,156.4 482.4,152.4 482.4,151.4 479.4,148.4 479.4,147.4 477.4,145.4 477.4,144.3 475.4,142.3 475.4,141.3 473.4,139.3 473.4,138.3 471.4,136.3 471.4,135.3 469.4,133.3 469.4,132.3 467.4,130.3 467.4,129.3 465.4,127.3 465.4,126.3 463.4,124.3 463.4,123.3 459.4,118.3 459.4,117.3 457.4,115.3 457.4,114.3 455.4,112.3 455.4,111.3 453.4,109.3 453.4,108.3 450.4,105.3 450.4,104.3 448.4,102.2 448.4,101.2 446.4,99.2 446.4,98.2 444.4,96.2 444.4,95.2 442.4,93.2 442.4,92.2 440.4,90.2 440.4,89.2 438.4,87.2 438.4,86.2 436.4,84.2 436.4,83.2 434.4,81.2 434.4,80.2 432.4,78.2 432.4,77.2 430.4,75.2 430.4,74.2 428.4,72.2 428.4,71.2 426.4,69.2 426.4,68.2 424.4,66.2 424.4,65.2 422.4,63.2 422.4,62.1 420.4,60.1 420.4,59.1 418.4,57.1 418.4,56.1 416.4,54.1 416.4,53.1 412.4,48.1 409.4,48.1 408.4,47.1 402.4,47.1 401.4,46.1 396.4,46.1 395.4,45.1 390.4,45.1 389.4,44.1 384.4,44.1 383.4,43.1 378.4,43.1 377.4,42.1 372.4,42.1 371.4,41.1 365.4,41.1 364.4,40.1 359.4,40.1 358.4,39.1 352.4,39.1 351.4,38.1 345.4,38.1 344.4,37.1 339.4,37.1 338.4,36.1 327.3,36.1 326.3,37.1 321.3,37.1 320.3,38.1 315.3,38.1 314.3,39.1 309.3,39.1 308.3,40.1 304.3,40.1 303.3,41.1 298.3,41.1 297.3,42.1 292.3,42.1 291.3,43.1 286.3,43.1 285.3,44.1 281.3,44.1 280.3,45.1 275.3,45.1 274.3,46.1 271.3,46.1 270.3,45.1 226.2,45.1 225.2,44.1 203.2,44.1 202.2,43.1 194.2,43.1 193.2,42.1 185.2,42.1 184.2,41.1 176.2,41.1 175.2,40.1 168.2,40.1 167.2,39.1 158.2,39.1 157.2,40.1 148.2,40.1 147.2,41.1 137.1,41.1 136.1,42.1 127.1,42.1 126.1,43.1 116.1,43.1 115.1,44.1 106.1,44.1 105.1,45.1 95.1,45.1 94.1,44.1 86.1,44.1 85.1,43.1 78.1,43.1 77.1,42.1 69.1,42.1 68.1,41.1 61.1,41.1 60.1,40.1 52.1,40.1 51.1,39.1 44,39.1 43,38.1 35,38.1 34,37.1 27,37.1 26,36.1 19,36.1 18,35.1 10,35.1 9,34.1 1,34.1 0,33.1 0,0Z"/>
<path fill="#9a80f2" fill-rule="evenodd" d="M0,0 568.6,0 568.6,248.6 559.5,248.6 558.5,247.6 558.5,246.6 553.5,241.6 553.5,240.6 549.5,236.6 549.5,235.6 541.5,226.5 541.5,225.5 536.5,220.5 536.5,219.5 532.5,215.5 532.5,214.5 524.5,205.5 524.5,204.5 519.5,199.5 519.5,198.5 515.5,194.5 515.5,193.5 507.5,184.4 507.5,183.4 504.5,180.4 504.5,179.4 500.5,175.4 500.5,174.4 497.5,171.4 497.5,170.4 489.5,161.4 489.5,160.4 486.5,157.4 486.5,156.4 482.4,152.4 482.4,151.4 479.4,148.4 479.4,147.4 477.4,145.4 477.4,144.3 475.4,142.3 475.4,141.3 473.4,139.3 473.4,138.3 471.4,136.3 471.4,135.3 469.4,133.3 469.4,132.3 467.4,130.3 467.4,129.3 465.4,127.3 465.4,126.3 463.4,124.3 463.4,123.3 459.4,118.3 459.4,117.3 457.4,115.3 457.4,114.3 455.4,112.3 455.4,111.3 453.4,109.3 453.4,108.3 450.4,105.3 450.4,104.3 448.4,102.2 448.4,101.2 446.4,99.2 446.4,98.2 444.4,96.2 444.4,95.2 442.4,93.2 442.4,92.2 440.4,90.2 440.4,89.2 438.4,87.2 438.4,86.2 436.4,84.2 436.4,83.2 434.4,81.2 434.4,80.2 432.4,78.2 432.4,77.2 430.4,75.2 430.4,74.2 428.4,72.2 428.4,71.2 424.4,66.2 424.4,65.2 422.4,63.2 422.4,62.1 420.4,60.1 420.4,59.1 418.4,57.1 418.4,56.1 416.4,54.1 416.4,53.1 412.4,48.1 409.4,48.1 408.4,47.1 402.4,47.1 401.4,46.1 396.4,46.1 395.4,45.1 390.4,45.1 389.4,44.1 384.4,44.1 383.4,43.1 378.4,43.1 377.4,42.1 372.4,42.1 371.4,41.1 365.4,41.1 364.4,40.1 359.4,40.1 358.4,39.1 352.4,39.1 351.4,38.1 345.4,38.1 344.4,37.1 339.4,37.1 338.4,36.1 327.3,36.1 326.3,37.1 321.3,37.1 320.3,38.1 315.3,38.1 314.3,39.1 309.3,39.1 308.3,40.1 304.3,40.1 303.3,41.1 298.3,41.1 297.3,42.1 292.3,42.1 291.3,43.1 286.3,43.1 285.3,44.1 281.3,44.1 280.3,45.1 275.3,45.1 274.3,46.1 271.3,46.1 270.3,45.1 226.2,45.1 225.2,44.1 203.2,44.1 202.2,43.1 194.2,43.1 193.2,42.1 185.2,42.1 184.2,41.1 176.2,41.1 175.2,40.1 168.2,40.1 167.2,39.1 158.2,39.1 157.2,40.1 148.2,40.1 147.2,41.1 137.1,41.1 136.1,42.1 127.1,42.1 126.1,43.1 116.1,43.1 115.1,44.1 106.1,44.1 105.1,45.1 95.1,45.1 94.1,44.1 86.1,44.1 85.1,43.1 78.1,43.1 77.1,42.1 69.1,42.1 68.1,41.1 61.1,41.1 60.1,40.1 52.1,40.1 51.1,39.1 44,39.1 43,38.1 35,38.1 34,37.1 27,37.1 26,36.1 19,36.1 18,35.1 10,35.1 9,34.1 1,34.1 0,33.1 0,0Z"/>
<path fill="#4343f3" fill-rule="evenodd" d="M0,0 568.6,0 568.6,248.6 559.5,248.6 558.5,247.6 558.5,246.6 553.5,241.6 553.5,240.6 549.5,236.6 549.5,235.6 541.5,226.5 541.5,225.5 536.5,220.5 536.5,219.5 532.5,215.5 532.5,214.5 524.5,205.5 524.5,204.5 519.5,199.5 519.5,198.5 515.5,194.5 515.5,193.5 507.5,184.4 507.5,183.4 504.5,180.4 504.5,179.4 500.5,175.4 500.5,174.4 497.5,171.4 497.5,170.4 489.5,161.4 489.5,160.4 486.5,157.4 486.5,156.4 482.4,152.4 482.4,151.4 479.4,148.4 479.4,147.4 477.4,145.4 477.4,144.3 475.4,142.3 475.4,141.3 473.4,139.3 473.4,138.3 471.4,136.3 471.4,135.3 469.4,133.3 469.4,132.3 467.4,130.3 467.4,129.3 465.4,127.3 465.4,126.3 463.4,124.3 463.4,123.3 459.4,118.3 459.4,117.3 457.4,115.3 457.4,114.3 455.4,112.3 455.4,111.3 453.4,109.3 453.4,108.3 450.4,105.3 450.4,104.3 448.4,102.2 448.4,101.2 446.4,99.2 446.4,98.2 444.4,96.2 444.4,95.2 442.4,93.2 442.4,92.2 440.4,90.2 440.4,89.2 438.4,87.2 438.4,86.2 436.4,84.2 436.4,83.2 434.4,81.2 434.4,80.2 432.4,78.2 432.4,77.2 430.4,75.2 430.4,74.2 428.4,72.2 428.4,71.2 426.4,69.2 426.4,68.2 422.4,63.2 422.4,62.1 420.4,60.1 420.4,59.1 418.4,57.1 418.4,56.1 416.4,54.1 416.4,53.1 412.4,48.1 409.4,48.1 408.4,47.1 402.4,47.1 401.4,46.1 396.4,46.1 395.4,45.1 390.4,45.1 389.4,44.1 384.4,44.1 383.4,43.1 378.4,43.1 377.4,42.1 372.4,42.1 371.4,41.1 365.4,41.1 364.4,40.1 359.4,40.1 358.4,39.1 352.4,39.1 351.4,38.1 345.4,38.1 344.4,37.1 339.4,37.1 338.4,36.1 327.3,36.1 326.3,37.1 321.3,37.1 320.3,38.1 315.3,38.1 314.3,39.1 309.3,39.1 308.3,40.1 304.3,40.1 303.3,41.1 298.3,41.1 297.3,42.1 292.3,42.1 291.3,43.1 286.3,43.1 285.3,44.1 281.3,44.1 280.3,45.1 275.3,45.1 274.3,46.1 271.3,46.1 270.3,45.1 226.2,45.1 225.2,44.1 203.2,44.1 202.2,43.1 194.2,43.1 193.2,42.1 185.2,42.1 184.2,41.1 176.2,41.1 175.2,40.1 168.2,40.1 167.2,39.1 158.2,39.1 157.2,40.1 148.2,40.1 147.2,41.1 137.1,41.1 136.1,42.1 127.1,42.1 126.1,43.1 116.1,43.1 115.1,44.1 106.1,44.1 105.1,45.1 95.1,45.1 94.1,44.1 86.1,44.1 85.1,43.1 78.1,43.1 77.1,42.1 69.1,42.1 68.1,41.1 61.1,41.1 60.1,40.1 52.1,40.1 51.1,39.1 44,39.1 43,38.1 35,38.1 34,37.1 27,37.1 26,36.1 19,36.1 18,35.1 10,35.1 9,34.1 1,34.1 0,33.1 0,0Z"/>
<path fill="#5959f0" fill-rule="evenodd" d="M0,0 568.6,0 568.6,248.6 559.5,248.6 558.5,247.6 558.5,246.6 553.5,241.6 553.5,240.6 545.5,231.6 545.5,230.6 541.5,226.5 541.5,225.5 536.5,220.5 536.5,219.5 532.5,215.5 532.5,214.5 524.5,205.5 524.5,204.5 519.5,199.5 519.5,198.5 515.5,194.5 515.5,193.5 507.5,184.4 507.5,183.4 504.5,180.4 504.5,179.4 500.5,175.4 500.5,174.4 497.5,171.4 497.5,170.4 493.5,166.4 493.5,165.4 489.5,161.4 489.5,160.4 486.5,157.4 486.5,156.4 482.5,152.4 482.5,151.4 479.5,148.4 479.5,147.4 477.5,145.4 477.5,144.3 475.5,142.3 475.5,141.3 473.4,139.3 473.4,138.3 471.4,136.3 471.4,135.3 469.4,133.3 469.4,132.3 467.4,130.3 467.4,129.3 465.4,127.3 465.4,126.3 463.4,124.3 463.4,123.3 459.4,118.3 459.4,117.3 457.4,115.3 457.4,114.3 455.4,112.3 455.4,111.3 453.4,109.3 453.4,108.3 450.4,105.3 450.4,104.3 448.4,102.2 448.4,101.2 446.4,99.2 446.4,98.2 444.4,96.2 444.4,95.2 442.4,93.2 442.4,92.2 440.4,90.2 440.4,89.2 438.4,87.2 438.4,86.2 436.4,84.2 436.4,83.2 432.4,78.2 432.4,77.2 430.4,75.2 430.4,74.2 428.4,72.2 428.4,71.2 426.4,69.2 426.4,68.2 424.4,66.2 424.4,65.2 422.4,63.2 421.4,60.2 425.4,62.4 427.5,62.8 432.5,57.7 435.5,53.1 438,45.1 439.5,42.5 441.5,41.4 447,41.1 444.5,35.9 439.5,29.4 435.8,26.1 432.1,24.1 427.8,23.1 417.4,22.2 400.4,22.9 389.4,21.5 351.5,24.1 344.9,25.1 338.8,27.1 336,29.1 334.5,31.1 334.3,32.1 335.4,33.1 343.1,35.1 395.3,45.1 390.4,45.1 389.4,44.1 384.4,44.1 383.4,43.1 378.4,43.1 377.4,42.1 372.4,42.1 371.4,41.1 365.4,41.1 364.4,40.1 359.4,40.1 358.4,39.1 352.4,39.1 351.4,38.1 345.4,38.1 344.4,37.1 339.4,37.1 338.4,36.1 327.3,36.1 326.3,37.1 321.3,37.1 320.3,38.1 315.3,38.1 314.3,39.1 309.3,39.1 308.3,40.1 304.3,40.1 303.3,41.1 298.3,41.1 297.3,42.1 292.3,42.1 291.3,43.1 286.3,43.1 285.3,44.1 281.3,44.1 280.3,45.1 275.3,45.1 274.3,46.1 271.3,46.1 270.3,45.1 226.2,45.1 225.2,44.1 203.2,44.1 202.2,43.1 194.2,43.1 193.2,42.1 185.2,42.1 184.2,41.1 176.2,41.1 175.2,40.1 168.2,40.1 167.2,39.1 158.2,39.1 157.2,40.1 148.2,40.1 147.2,41.1 137.1,41.1 136.1,42.1 127.1,42.1 126.1,43.1 116.1,43.1 115.1,44.1 106.1,44.1 105.1,45.1 95.1,45.1 94.1,44.1 86.1,44.1 85.1,43.1 78.1,43.1 77.1,42.1 69.1,42.1 68.1,41.1 61.1,41.1 60.1,40.1 52.1,40.1 51.1,39.1 44,39.1 43.3,38.1 44,36.1 46.5,35.1 46.8,34.1 40.9,32.1 13.6,26.1 5,25.2 0,26.1 0,0ZM396.4,46.1 396.4,45.5 397.9,46.1 396.4,46.1ZM420.4,60.1 420.4,59.5 421.4,60.1 420.4,60.1Z"/>
<path fill="#2a86e6" fill-rule="evenodd" d="M0,0 568.6,0 568.6,248.6 559.5,248.6 558.5,247.6 558.5,246.6 553.5,241.6 553.5,240.6 549.5,236.6 549.5,235.6 545.5,231.6 545.5,230.6 541.5,226.5 541.5,225.5 536.5,220.5 536.5,219.5 532.5,215.5 532.5,214.5 528.5,210.5 528.5,209.5 524.5,205.5 524.5,204.5 519.5,199.5 519.5,198.5 515.5,194.5 515.5,193.5 507.5,184.4 507.5,183.4 504.5,180.4 504.5,179.4 500.5,175.4 500.5,174.4 497.5,171.4 497.5,170.4 493.5,166.4 493.5,165.4 489.5,161.4 489.5,160.4 486.5,157.4 486.5,156.4 482.5,152.4 482.5,151.4 479.5,148.4 479.5,147.4 477.5,145.4 477.5,144.3 475.5,142.3 475.5,141.3 473.5,139.3 473.5,138.3 471.5,136.3 471.5,135.3 469.5,133.3 469.5,132.3 467.5,130.3 467.5,129.3 465.4,127.3 465.4,126.3 463.4,124.3 463.4,123.3 459.4,118.3 459.4,117.3 457.4,115.3 457.4,114.3 455.4,112.3 455.4,111.3 453.4,109.3 453.5,108.3 450.4,105.3 450.5,104.3 448.4,102.2 448.5,101.2 446.5,99.2 446.5,98.2 444.5,96.2 444.5,95.2 442.5,93.2 442.5,92.2 440.5,90.2 440.5,89.2 438.5,87.2 438.5,86.2 436.5,84.2 436.5,83.2 432.5,78.2 432.5,77.2 431.5,75.9 433.5,75.5 437.6,72.2 445.1,65.2 448.3,61.1 451.2,56.1 453.7,48.1 455.5,45.4 457.5,43.9 462,43.1 461.5,41 449.1,25.1 444.7,21.1 439.5,18.2 434.5,16.7 423.4,16.3 360.4,19.7 345.1,21.1 331.3,23.1 302.3,29.7 291.3,31.5 281.3,32.3 252.3,32.8 246.3,32.2 241.3,36.6 241.1,38.1 251.6,40.1 285.3,43.7 285.3,44.1 281.3,44.1 280.3,45.1 275.3,45.1 274.3,46.1 271.3,46.1 270.3,45.1 236.6,45.1 236.2,40.1 234.5,39.1 227.2,37.5 217.2,36.7 209.2,37.6 205.3,39.1 204.6,40.1 206,41.1 215.3,44.1 203.2,44.1 202.2,43.1 194.2,43.1 193.2,42.1 185.2,42.1 184.2,41.1 176.2,41.1 175.2,40.1 168.2,40.1 167.2,39.1 158.2,39.1 157.2,40.1 148.2,40.1 147.2,41.1 137.1,41.1 136.1,42.1 127.1,42.1 126.1,43.1 116.1,43.1 115.1,44.1 106.1,44.1 105.1,45.1 95.1,45.1 94.1,44.1 89.4,44.1 86.7,40.1 83.3,38.1 77.1,35.7 46,26.4 34,23.5 21,21.2 11,20.2 0,20.2 0,0Z"/>
<path fill="#3696f0" fill-rule="evenodd" d="M0,0 568.6,0 568.6,66.7 555.6,67.9 545.6,71.2 542.6,73.2 537.3,79.2 536.5,81.2 538.6,85 544.4,91.2 549.7,93.2 557.6,95.2 568.6,96.9 568.6,248.6 559.5,248.6 558.5,247.6 558.5,246.6 553.5,241.6 553.5,240.6 549.5,236.6 549.5,235.6 545.5,231.6 545.5,230.6 541.5,226.5 541.5,225.5 536.5,220.5 536.5,219.5 532.5,215.5 532.5,214.5 528.5,210.5 528.5,209.5 524.5,205.5 524.5,204.5 519.5,199.5 519.5,198.5 515.5,194.5 515.5,193.5 507.5,184.4 507.5,183.4 504.5,180.4 504.5,179.4 500.5,175.4 500.5,174.4 497.5,171.4 497.5,170.4 493.5,166.4 493.5,165.4 489.5,161.4 489.5,160.4 486.5,157.4 486.5,156.4 482.5,152.4 482.5,151.4 479.5,148.4 479.5,147.4 477.5,145.4 477.5,144.3 475.5,142.3 475.5,141.3 473.5,139.3 473.5,138.3 471.5,136.3 471.5,135.3 469.5,133.3 469.5,132.3 467.5,130.3 467.5,129.3 465.5,127.3 465.5,126.3 463.5,124.3 463.5,123.3 459.5,118.3 459.5,117.3 457.5,115.3 457.5,114.3 455.5,112.3 455.5,111.3 453.5,109.3 453.5,108.3 450.5,105.3 450.5,104.3 448.5,102.2 448.5,101.2 446.5,99.2 446.5,98.2 444.5,96.2 444.5,95.2 442.5,93.2 442.5,92.2 440.5,90.2 440.5,89.2 438.5,87.2 438.5,86.2 436.5,84.2 436.5,82.9 439.5,83.5 442.5,82.5 451.5,76.5 459.1,70.2 464.9,63.2 466.8,59.1 468.5,53.8 470.5,54 475.5,56.9 476.5,56.7 477.1,55.1 478,45.1 477.4,44.1 475.5,43.4 469.5,43.1 467.3,37.1 467,34.1 467.5,31.7 470.6,28.1 470.8,27.1 453.9,19 440.6,15 434.5,14.7 417.1,15 365.4,18 332.5,21.1 299.3,27.6 282.3,29.3 272.3,29 262.3,27.8 252.3,25.8 241.3,22.4 238.3,22.1 236.6,23.1 236.1,25.1 236.4,27.1 237.7,29.1 237.8,31.1 237.1,33.1 235.2,34.4 221.2,31.8 209.2,31.2 200.2,33.2 190.2,38 177.2,40.1 177.4,41.1 176.2,41.1 175.2,40.1 168.2,40.1 167.2,39.1 158.2,39.1 157.2,40.1 148.2,40.1 147.2,41.1 137.1,41.1 136.1,42.1 127.1,42.1 126.1,43.1 116.1,43.1 115.1,44.1 106.2,44.1 95.1,35.8 81.9,24.1 76.5,21.1 70.6,19 58.5,17 42,15.8 20,15.7 0,16.7 0,0Z"/>
<path fill="#44a8f6" fill-rule="evenodd" d="M0,0 568.6,0 568.6,61.9 555.6,62.3 547.6,63.1 529.6,66.5 511.3,74.2 509.9,75.2 509.7,76.2 512.5,79.2 525.6,89.7 533,93.2 546.6,97.3 568.6,101.3 568.6,248.6 559.5,248.6 558.5,247.6 558.5,246.6 553.5,241.6 553.5,240.6 549.5,236.6 549.5,235.6 545.5,231.6 545.5,230.6 541.5,226.5 541.5,225.5 536.5,220.5 536.5,219.5 532.5,215.5 532.5,214.5 528.5,210.5 528.5,209.5 524.5,205.5 524.5,204.5 519.5,199.5 519.5,198.5 515.5,194.5 515.5,193.5 507.5,184.4 507.5,183.4 504.5,180.4 504.5,179.4 500.5,175.4 500.5,174.4 497.5,171.4 497.5,170.4 493.5,166.4 493.5,165.4 489.5,161.4 489.5,160.4 486.5,157.4 486.5,156.4 482.5,152.4 482.5,151.4 479.5,148.4 479.5,147.4 477.5,145.4 477.5,144.3 475.5,142.3 475.5,141.3 473.5,139.3 473.5,138.3 471.5,136.3 471.5,135.3 469.5,133.3 469.5,132.3 467.5,130.3 467.5,129.3 465.5,127.3 465.5,126.3 463.5,124.3 463.5,123.3 459.5,118.3 459.5,117.3 457.5,115.3 457.5,114.3 455.5,112.3 455.5,111.3 453.5,109.3 453.5,108.3 450.5,105.3 450.5,104.3 448.5,102.2 448.5,101.2 446.5,99.2 446.5,98.2 444.5,96.2 444.5,95.2 442.5,93.2 442.5,92.2 440.5,90.2 440.5,89.2 438.5,87.2 438.5,86.5 446.5,90.1 464.5,83.1 480.1,69.2 482.4,66.2 485.1,45.1 484.9,42.1 482.5,39.8 477.2,38.1 474.5,34.1 474.4,32.1 477,28.1 476.6,26.1 471.5,22.7 465.5,19.8 452.5,15.2 441.5,13.4 425.4,13.7 341.1,19 325.8,21.1 297.3,26.6 281.3,27.9 272.3,27.4 263.3,25.9 253.3,23.4 241.3,19.3 236.2,20.6 234.5,22.1 234.5,26.1 236,30.1 235.2,31.1 221.2,27.1 214.2,26.1 209.2,24.7 207.2,24.8 195.2,29.5 187.2,36 184.2,36.9 157.9,39.1 153.2,40.1 148.2,40.1 147.2,41.1 137.1,41.1 136.1,42.1 127.1,42.1 126.1,43.1 115.1,43.3 103.1,35.5 85.2,22.1 79.1,19 73,17 60.8,15 43,13.8 23,13.8 0,14.8 0,0Z"/>
<path fill="#00e6a0" fill-rule="evenodd" d="M0,0 568.6,0 568.6,57.4 550.6,56.6 532.6,54.9 519.5,53.3 510.5,50.7 503.5,47.5 494.5,41.6 474.7,22.1 472.6,17 448.5,12 426.5,12.6 346.4,17.6 327.3,19.8 298.3,25.1 282.3,26.4 273.3,26 265.3,24.5 256.3,21.8 241.3,16.2 240.3,16.4 237.7,19 234,20 230.2,25 228.2,24.8 223.2,22.8 218.2,21.7 210.2,21.1 203.2,21.6 196.7,23.1 192.2,25.1 188.2,28.3 183.4,34.1 181.2,35.4 175.2,36.2 130.4,39.1 126.5,40.1 132.5,42.1 127.1,42.1 126,43.1 123,40.1 110.9,34.1 92.1,22 85.1,18.7 76.1,15.9 62.1,13.7 43,12.5 23,12.5 0,13.6 0,0ZM440.5,90.2 441,90.2 440.5,90.2ZM441.5,91.2 441.5,90.4 443.5,91.5 452.5,97.6 472.5,95.7 480.5,95.9 542.6,101.3 568.6,105.7 568.6,248.6 559.5,248.6 558.5,247.6 558.5,246.6 553.5,241.6 553.5,240.6 549.5,236.6 549.5,235.6 545.5,231.6 545.5,230.6 541.5,226.5 541.5,225.5 536.5,220.5 536.5,219.5 532.5,215.5 532.5,214.5 528.5,210.5 528.5,209.5 524.5,205.5 524.5,204.5 519.5,199.5 519.5,198.5 515.5,194.5 515.5,193.5 507.5,184.4 507.5,183.4 504.5,180.4 504.5,179.4 500.5,175.4 500.5,174.4 497.5,171.4 497.5,170.4 493.5,166.4 493.5,165.4 489.5,161.4 489.5,160.4 486.5,157.4 486.5,156.4 482.5,152.4 482.5,151.4 479.5,148.4 479.5,147.4 477.5,145.4 477.5,144.3 475.5,142.3 475.5,141.3 473.5,139.3 473.5,138.3 471.5,136.3 471.5,135.3 469.5,133.3 469.5,132.3 467.5,130.3 467.5,129.3 465.5,127.3 465.5,126.3 463.5,124.3 463.5,123.3 459.5,118.3 459.5,117.3 457.5,115.3 457.5,114.3 455.5,112.3 455.5,111.3 453.5,109.3 453.5,108.3 450.5,105.3 450.5,104.3 448.5,102.2 448.5,101.2 446.5,99.2 446.5,98.2 444.5,96.2 444.5,95.2 442.5,93.2 442.5,92.2 441.5,91.2Z"/>
<path fill="#14c850" fill-rule="evenodd" d="M0,0 568.6,0 568.6,38.9 533.6,37.3 523.6,36.3 515.5,34.9 508.5,32.5 500.5,28.4 479,14 475.2,12 473.5,10.5 448.5,8.2 397.4,12.9 336.4,16.2 325.3,17.5 298.3,21.8 285.3,22.6 276.3,22.2 268.3,20.7 257.4,17 242.3,10.6 240.3,10.3 235.6,14 234.2,16.3 233.2,16.9 230.2,17.3 222.2,16.6 212.2,16.7 194.2,18.1 189.2,19.3 185.6,21.1 182.2,23.6 176.2,29.6 172.2,31.7 161.6,33.1 148.4,33.1 141.1,31.9 136.1,30 133.1,27.8 126,20 122.5,18 118.6,17 102.1,16.2 79.1,12.1 60.1,10.4 31,9.6 0,10.5 0,0ZM446.5,99.2 446.5,98.3 453.5,103 455.5,103.6 467.5,102.6 481.5,103.2 531.4,110.3 538.9,112.3 543.6,114.3 548.1,117.3 552.1,121.3 554.8,125.3 555,127.3 551,137.3 550.7,140.3 551.7,142.3 553.6,144.1 561.6,147.1 563.3,148.4 568.6,164 568.6,248.6 559.5,248.6 558.5,247.6 558.5,246.6 553.5,241.6 553.5,240.6 549.5,236.6 549.5,235.6 541.5,226.5 541.5,225.5 536.5,220.5 536.5,219.5 532.5,215.5 532.5,214.5 524.5,205.5 524.5,204.5 519.5,199.5 519.5,198.5 515.5,194.5 515.5,193.5 507.5,184.4 507.5,183.4 504.5,180.4 504.5,179.4 500.5,175.4 500.5,174.4 497.5,171.4 497.5,170.4 489.5,161.4 489.5,160.4 486.5,157.4 486.5,156.4 482.5,152.4 482.5,151.4 479.5,148.4 479.5,147.4 477.5,145.4 477.5,144.3 475.5,142.3 475.5,141.3 473.5,139.3 473.5,138.3 471.5,136.3 471.5,135.3 469.5,133.3 469.5,132.3 467.5,130.3 467.5,129.3 465.5,127.3 465.5,126.3 463.5,124.3 463.5,123.3 459.5,118.3 459.5,117.3 457.5,115.3 457.5,114.3 455.5,112.3 455.5,111.3 453.5,109.3 453.5,108.3 450.5,105.3 450.5,104.3 448.5,102.2 448.5,101.2 446.5,99.2Z"/>
<path fill="#22d832" fill-rule="evenodd" d="M2.1,0 568.6,0 568.6,13.8 567.4,14 566.6,15 568.6,18.6 568.6,24.1 545.6,21.2 529.6,20.3 515.5,20.2 506.6,19 499.8,17 492.7,14 482.3,8 478.5,4.5 476.5,3.7 472.5,4.5 447.5,3.9 390.4,11 332.4,13.5 299.3,16.6 289.3,16.9 278.3,16.3 269.3,14.6 260.3,11.7 245.3,5.3 238.3,3.3 234.2,4 227.2,9.4 218.8,11 191.2,12.5 175.2,10.1 162.2,11.5 126.1,12.1 63.1,6.2 35,5.6 5,6.2 1.2,5 1.1,4 2.6,2 2.1,0ZM453.5,108.3 453.5,107.8 457.5,108.8 483.5,111.5 491.5,113.2 499.5,115.7 510.5,120.7 519.5,126 526.2,131.3 532,137.3 538.7,147.4 548.6,165.2 553.8,173.4 560.6,181.6 568.6,189 568.6,248.6 559.5,248.6 558.5,247.6 558.5,246.6 553.5,241.6 553.5,240.6 549.5,236.6 549.5,235.6 541.5,226.5 541.5,225.5 536.5,220.5 536.5,219.5 532.5,215.5 532.5,214.5 524.5,205.5 524.5,204.5 519.5,199.5 519.5,198.5 515.5,194.5 515.5,193.5 507.5,184.4 507.5,183.4 504.5,180.4 504.5,179.4 500.5,175.4 500.5,174.4 497.5,171.4 497.5,170.4 489.5,161.4 489.5,160.4 486.5,157.4 486.5,156.4 482.5,152.4 482.5,151.4 479.5,148.4 479.5,147.4 477.5,145.4 477.5,144.3 475.5,142.3 475.5,141.3 473.5,139.3 473.5,138.3 471.5,136.3 471.5,135.3 469.5,133.3 469.5,132.3 467.5,130.3 467.5,129.3 465.5,127.3 465.5,126.3 463.5,124.3 463.5,123.3 459.5,118.3 459.5,117.3 457.5,115.3 457.5,114.3 455.5,112.3 455.5,111.3 453.5,109.3 453.5,108.3Z"/>
<path fill="#30d539" fill-rule="evenodd" d="M62.7,0 232.5,0 200.2,1.7 185.2,5.1 178.2,4.3 160.2,6.4 126.1,7.2 95.1,5 62.7,0ZM255.5,0 410,0 403.8,4 398.9,6 390,8 382.4,9 295.3,12.1 280.3,11.1 270.7,9 263.3,5.9 255.5,0ZM457.5,115.3 458.4,115.3 457.5,115.3ZM458.5,116.3 458.5,115.3 478.5,117.4 486.5,118.9 493.9,121.3 502.3,125.3 509.5,130 515.4,135.3 519.5,140.1 526,149.4 537.9,170.4 544.3,179.4 550.6,186.3 556.6,191.7 563.6,197 568.6,199.4 568.6,248.6 559.6,248.6 558.6,247.6 558.6,246.6 553.6,241.6 553.6,240.6 545.5,231.6 545.5,230.6 541.5,226.5 541.5,225.5 536.5,220.5 536.5,219.5 532.5,215.5 532.5,214.5 524.5,205.5 524.5,204.5 519.5,199.5 519.5,198.5 515.5,194.5 515.5,193.5 507.5,184.4 507.5,183.4 504.5,180.4 504.5,179.4 500.5,175.4 500.5,174.4 497.5,171.4 497.5,170.4 489.5,161.4 489.5,160.4 486.5,157.4 486.5,156.4 482.5,152.4 482.5,151.4 479.5,148.4 479.5,147.4 477.5,145.4 477.5,144.3 475.5,142.3 475.5,141.3 473.5,139.3 473.5,138.3 471.5,136.3 471.5,135.3 469.5,133.3 469.5,132.3 467.5,130.3 467.5,129.3 465.5,127.3 465.5,126.3 463.5,124.3 463.5,123.3 461.5,121.3 461.5,120.3 459.5,118.3 459.5,117.3 458.5,116.3Z"/>
<path fill="#4dce48" fill-rule="evenodd" d="M64,0 222.1,0 197.2,1.5 184.2,4.3 178.2,3.7 160.2,5.9 127.1,6.8 96.1,4.7 72.1,0.7 64,0ZM258.2,0 407.5,0 403.8,3 399.6,5 392.7,7 382.4,8.6 365.4,9.6 302.3,11.1 287.3,10.7 274.8,9 268.6,7 264.4,5 258.2,0ZM458.5,116.3 477.5,117.9 487.5,119.9 498.5,124.2 508.5,130.4 515,136.3 520.6,143.3 525.1,150.4 536.4,170.4 544.5,181.4 550.2,187.5 556.6,193 563.6,198.1 568.6,200.4 568.6,248.6 559.6,248.6 558.6,247.6 558.6,246.6 553.6,241.6 553.6,240.6 545.5,231.6 545.5,230.6 541.5,226.5 541.5,225.5 536.5,220.5 536.5,219.5 532.5,215.5 532.5,214.5 524.5,205.5 524.5,204.5 519.5,199.5 519.5,198.5 515.5,194.5 515.5,193.5 507.5,184.4 507.5,183.4 504.5,180.4 504.5,179.4 500.5,175.4 500.5,174.4 497.5,171.4 497.5,170.4 489.5,161.4 489.5,160.4 486.5,157.4 486.5,156.4 482.5,152.4 482.5,151.4 479.5,148.4 479.5,147.4 477.5,145.4 477.5,144.3 475.5,142.3 475.5,141.3 473.5,139.3 473.5,138.3 471.5,136.3 471.5,135.3 469.5,133.3 469.5,132.3 467.5,130.3 467.5,129.3 465.5,127.3 465.5,126.3 463.5,124.3 463.5,123.3 461.5,121.3 461.5,120.3 459.5,118.3 459.5,117.3 458.5,116.3Z"/>
<path fill="#5dcb50" fill-rule="evenodd" d="M70.3,0 210.9,0 195.2,1.1 184.2,3.4 178.2,3.1 163.2,5.3 127.1,6.3 96.1,4.3 70.3,0ZM266.1,0 405,0 401.4,3 396.9,5 389.7,7 382.4,8.2 364.4,9.3 305.3,10 284.3,8.4 277.3,7.1 270,4 267.5,2 266.1,0ZM459.5,117.3 459.5,116.9 476.5,118.5 487.5,120.6 498.5,125 508.3,131.3 513.6,136.3 519.2,143.3 523.7,150.4 534.3,169.4 543,181.4 548.7,187.5 555.6,193.5 562.6,198.6 568.6,201.4 568.6,248.6 559.6,248.6 558.6,247.6 558.6,246.6 553.6,241.6 553.6,240.6 549.5,236.6 549.5,235.6 541.5,226.5 541.5,225.5 536.5,220.5 536.5,219.5 532.5,215.5 532.5,214.5 524.5,205.5 524.5,204.5 519.5,199.5 519.5,198.5 515.5,194.5 515.5,193.5 507.5,184.4 507.5,183.4 504.5,180.4 504.5,179.4 500.5,175.4 500.5,174.4 497.5,171.4 497.5,170.4 489.5,161.4 489.5,160.4 486.5,157.4 486.5,156.4 482.5,152.4 482.5,151.4 479.5,148.4 479.5,147.4 477.5,145.4 477.5,144.3 475.5,142.3 475.5,141.3 473.5,139.3 473.5,138.3 471.5,136.3 471.5,135.3 469.5,133.3 469.5,132.3 467.5,130.3 467.5,129.3 465.5,127.3 465.5,126.3 463.5,124.3 463.5,123.3 459.5,118.3 459.5,117.3Z"/>
<path fill="#5eca51" fill-rule="evenodd" d="M77,0 199.2,0 191.2,0.8 183.2,2.6 178.2,2.5 164.2,4.7 128.1,5.7 115.1,5.3 97.1,3.9 81.1,1.2 77,0ZM276.3,0 402,0 399.4,2.3 393.7,5 386.7,7 381.4,7.8 361.4,9 324.3,9.2 305.3,8.5 292.3,6 283.3,5 278.2,3 277.1,2 276.3,0ZM459.5,118.3 459.5,117.6 475.5,119.1 486.5,121.1 497.5,125.4 507.5,131.9 513,137.3 518.4,144.3 532.8,169.4 541.6,181.7 548,188.5 555,194.5 562.2,199.5 568.6,202.5 568.6,248.6 559.6,248.6 558.6,247.6 558.6,246.6 553.6,241.6 553.6,240.6 545.5,231.6 545.5,230.6 541.5,226.5 541.5,225.5 536.5,220.5 536.5,219.5 532.5,215.5 532.5,214.5 524.5,205.5 524.5,204.5 519.5,199.5 519.5,198.5 515.5,194.5 515.5,193.5 507.5,184.4 507.5,183.4 504.5,180.4 504.5,179.4 500.5,175.4 500.5,174.4 497.5,171.4 497.5,170.4 489.5,161.4 489.5,160.4 486.5,157.4 486.5,156.4 482.5,152.4 482.5,151.4 479.5,148.4 479.5,147.4 477.5,145.4 477.5,144.3 475.5,142.3 475.5,141.3 473.5,139.3 473.5,138.3 471.5,136.3 471.5,135.3 469.5,133.3 469.5,132.3 467.5,130.3 467.5,129.3 465.5,127.3 465.5,126.3 463.5,124.3 463.5,123.3 459.5,118.3Z"/>
<path fill="#60ca52" fill-rule="evenodd" d="M80,0 190.3,0 182.2,1.7 178.2,1.8 163.2,4.2 128.1,5.2 114.1,4.8 96.1,3.3 80,0ZM286.7,0 399,0 396.6,2 392.4,4.3 383.3,7 366.4,8.3 343.4,8.7 320.3,8.4 307.3,6.9 290.3,3 288,2 286.7,0ZM460.5,119.3 460.5,118.6 474.5,119.7 485.5,121.6 495.5,125.3 504.5,130.8 511.6,137.3 516.2,143.3 521.3,151.4 531.2,169.4 540.6,182.4 547.4,189.5 554.6,195.5 561.6,200.2 568.6,203.5 568.6,248.6 559.6,248.6 558.6,247.6 558.6,246.6 553.6,241.6 553.6,240.6 545.5,231.6 545.5,230.6 541.5,226.5 541.5,225.5 536.5,220.5 536.5,219.5 532.5,215.5 532.5,214.5 524.5,205.5 524.5,204.5 519.5,199.5 519.5,198.5 515.5,194.5 515.5,193.5 507.5,184.4 507.5,183.4 504.5,180.4 504.5,179.4 500.5,175.4 500.5,174.4 497.5,171.4 497.5,170.4 489.5,161.4 489.5,160.4 486.5,157.4 486.5,156.4 482.5,152.4 482.5,151.4 479.5,148.4 479.5,147.4 477.5,145.4 477.5,144.3 475.5,142.3 475.5,141.3 473.5,139.3 473.5,138.3 471.5,136.3 471.5,135.3 469.5,133.3 469.5,132.3 467.5,130.3 467.5,129.3 465.5,127.3 465.5,126.3 463.5,124.3 463.5,123.3 461.5,121.3 461.5,120.3 460.5,119.3Z"/>
<path fill="#62c953" fill-rule="evenodd" d="M83,0 183.6,0 169.2,3 162.2,3.8 129.1,4.6 114.1,4.2 97.8,3 90.9,2 83,0ZM297,0 395.9,0 390.4,4 382.4,6.4 366.4,7.8 346.4,8.1 317.3,7.1 300.3,3 298.1,2 297,0ZM461.5,120.3 461.5,119.7 474.5,120.5 485.1,122.3 495.5,126.2 503.7,131.3 509.2,136.3 514.8,143.3 530.3,170.4 539.9,183.4 546.6,190.2 554.1,196.5 561.6,201.4 568.6,204.6 568.6,248.6 559.6,248.6 558.6,247.6 558.6,246.6 553.6,241.6 553.6,240.6 545.5,231.6 545.5,230.6 541.5,226.5 541.5,225.5 536.5,220.5 536.5,219.5 532.5,215.5 532.5,214.5 524.5,205.5 524.5,204.5 519.5,199.5 519.5,198.5 515.5,194.5 515.5,193.5 507.5,184.4 507.5,183.4 504.5,180.4 504.5,179.4 500.5,175.4 500.5,174.4 497.5,171.4 497.5,170.4 489.5,161.4 489.5,160.4 486.5,157.4 486.5,156.4 482.5,152.4 482.5,151.4 479.5,148.4 479.5,147.4 477.5,145.4 477.5,144.3 475.5,142.3 475.5,141.3 473.5,139.3 473.5,138.3 471.5,136.3 471.5,135.3 469.5,133.3 469.5,132.3 467.5,130.3 467.5,129.3 465.5,127.3 465.5,126.3 461.5,121.3 461.5,120.3Z"/>
<path fill="#63c854" fill-rule="evenodd" d="M86,0 178.4,0 171.2,2 162.2,3.3 129.1,4.1 103.8,3 94.7,2 86,0ZM307.3,0 392.9,0 391.1,2 387.7,4 379.8,6 366.4,7.2 349.4,7.5 334.4,7.2 318,6 308,2 307.3,0ZM461.5,121.3 461.5,120.9 474.5,121.3 485.5,123.2 495.5,127.2 503.4,132.3 508.6,137.3 513.5,143.8 528.1,169.4 533.4,177.4 538.2,183.4 545.1,190.5 553.6,197.4 560.6,201.9 568.6,205.6 568.6,248.6 559.6,248.6 558.6,247.6 558.6,246.6 553.6,241.6 553.6,240.6 545.6,231.6 545.6,230.6 541.5,226.5 541.5,225.5 536.5,220.5 536.5,219.5 532.5,215.5 532.5,214.5 524.5,205.5 524.5,204.5 519.5,199.5 519.5,198.5 515.5,194.5 515.5,193.5 507.5,184.4 507.5,183.4 504.5,180.4 504.5,179.4 500.5,175.4 500.5,174.4 497.5,171.4 497.5,170.4 489.5,161.4 489.5,160.4 486.5,157.4 486.5,156.4 482.5,152.4 482.5,151.4 479.5,148.4 479.5,147.4 477.5,145.4 477.5,144.3 475.5,142.3 475.5,141.3 473.5,139.3 473.5,138.3 471.5,136.3 471.5,135.3 469.5,133.3 469.5,132.3 467.5,130.3 467.5,129.3 465.5,127.3 465.5,126.3 461.5,121.3Z"/>
<path fill="#ffc61e" fill-rule="evenodd" d="M90.1,0 175.1,0 167.5,2 160.2,2.8 130.1,3.4 107.1,2.6 94.3,1 90.1,0ZM318,0 389.3,0 388.4,1 384.4,2.9 376.5,5 366.4,6.3 351.4,6.7 333,6 320.3,3 318.5,2 318,0ZM464.6,122.3 468.5,121.9 475.5,122.3 485.5,124.1 495.6,128.3 502.6,133.3 507.5,138.1 511.5,143.4 525.1,167.4 532.6,178.5 537.6,184.7 544.3,191.5 553.2,198.5 560.6,203.1 568.6,206.7 568.6,248.6 559.6,248.6 558.6,247.6 558.6,246.6 553.6,241.6 553.6,240.6 545.6,231.6 545.6,230.6 541.5,226.5 541.5,225.5 536.5,220.5 536.5,219.5 532.5,215.5 532.5,214.5 524.5,205.5 524.5,204.5 519.5,199.5 519.5,198.5 515.5,194.5 515.5,193.5 507.5,184.4 507.5,183.4 504.5,180.4 504.5,179.4 500.5,175.4 500.5,174.4 497.5,171.4 497.5,170.4 493.5,166.4 493.5,165.4 489.5,161.4 489.5,160.4 486.5,157.4 486.5,156.4 482.5,152.4 482.5,151.4 479.5,148.4 479.5,147.4 477.5,145.4 477.5,144.3 475.5,142.3 475.5,141.3 473.5,139.3 473.5,138.3 471.5,136.3 471.5,135.3 469.5,133.3 469.5,132.3 467.5,130.3 467.5,129.3 463.5,124.3 463.5,123 464.6,122.3Z"/>
<path fill="#fc9509" fill-rule="evenodd" d="M533.6,216.5 533.6,216.1 540.6,218.1 555.3,224.5 568.6,229.6 568.6,248.6 559.6,248.6 558.6,247.6 558.6,246.6 553.6,241.6 553.6,240.6 549.6,236.6 549.6,235.6 545.6,231.6 545.6,230.6 541.6,226.5 541.6,225.5 536.6,220.5 536.6,219.5 533.6,216.5Z"/>
<path fill="#f68b07" fill-rule="evenodd" d="M535.6,218.5 535.6,217.7 540.6,219.1 554.6,225.2 568.6,230.5 568.6,248.6 559.6,248.6 558.6,247.6 558.6,246.6 553.6,241.6 553.6,240.6 549.6,236.6 549.6,235.6 545.6,231.6 545.6,230.6 541.6,226.5 541.6,225.5 536.6,220.5 536.6,219.5 535.6,218.5Z"/>
<path fill="#f08105" fill-rule="evenodd" d="M536.6,219.5 536.6,219.2 541.6,220.6 554.6,226.2 568.6,231.3 568.6,248.6 559.6,248.6 558.6,247.6 558.6,246.6 553.6,241.6 553.6,240.6 549.6,236.6 549.6,235.6 545.6,231.6 545.6,230.6 541.6,226.5 541.6,225.5 536.6,220.5 536.6,219.5Z"/>
<path fill="#e97703" fill-rule="evenodd" d="M536.6,220.5 537.4,220.5 536.6,220.5ZM537.6,221.5 537.6,220.6 542.6,222 554.6,227.2 568.6,232.2 568.6,248.6 559.6,248.6 558.6,247.6 558.6,246.6 553.6,241.6 553.6,240.6 549.6,236.6 549.6,235.6 545.6,231.6 545.6,230.6 541.6,226.5 541.6,225.5 537.6,221.5Z"/>
<path fill="#e36d01" fill-rule="evenodd" d="M538.6,222.5 538.6,222 543.6,223.4 554.6,228.1 568.6,233.1 568.6,248.6 559.6,248.6 558.6,247.6 558.6,246.6 553.6,241.6 553.6,240.6 549.6,236.6 549.6,235.6 545.6,231.6 545.6,230.6 541.6,226.5 541.6,225.5 538.6,222.5Z"/>
<path fill="#e55a00" fill-rule="evenodd" d="M539.6,223.5 540.1,223.5 539.6,223.5ZM540.6,224.5 540.6,223.7 543.6,224.5 558.6,230.6 568.6,234 568.6,248.6 559.6,248.6 558.6,247.6 558.6,246.6 553.6,241.6 553.6,240.6 549.6,236.6 549.6,235.6 545.6,231.6 545.6,230.6 541.6,226.5 541.6,225.5 540.6,224.5Z"/>
<path fill="#ee4700" fill-rule="evenodd" d="M544.6,229.6 544.6,228.8 546.6,229.4 568.6,237 568.6,248.6 559.6,248.6 558.6,247.6 558.6,246.6 553.6,241.6 553.6,240.6 549.6,236.6 549.6,235.6 545.6,231.6 545.6,230.6 544.6,229.6Z"/>
<path fill="#f43e00" fill-rule="evenodd" d="M545.6,230.6 547.6,230.8 568.6,237.8 568.6,248.6 559.6,248.6 558.6,247.6 558.6,246.6 553.6,241.6 553.6,240.6 549.6,236.6 549.6,235.6 545.6,231.6 545.6,230.6Z"/>
<path fill="#fb3500" fill-rule="evenodd" d="M546.6,232.6 546.6,231.8 548.6,232.2 568.6,238.6 568.6,248.6 559.6,248.6 558.6,247.6 558.6,246.6 553.6,241.6 553.6,240.6 549.6,236.6 549.6,235.6 546.6,232.6Z"/>
<path fill="#d80020" fill-rule="evenodd" d="M548.6,234.6 548.6,233.7 550.6,234.1 568.6,239.5 568.6,248.6 559.6,248.6 558.6,247.6 558.6,246.6 553.6,241.6 553.6,240.6 549.6,236.6 549.6,235.6 548.6,234.6Z"/>
<path fill="#d90524" fill-rule="evenodd" d="M553.6,240.6 553.6,239.8 562.6,241.2 568.6,243.4 568.6,248.6 559.6,248.6 558.6,247.6 558.6,246.6 553.6,241.6 553.6,240.6Z"/>
<path fill="#db0f2c" fill-rule="evenodd" d="M555.1,241.6 562.6,242.3 568.6,243.9 568.6,248.6 559.6,248.6 558.6,247.6 557.6,243.8 555.6,242.6 555.1,241.6Z"/>
<path fill="#dd1934" fill-rule="evenodd" d="M559.5,243.6 561.6,243.2 568.6,244.4 568.6,248.6 559.6,248.6 558.6,247.6 558.6,245.7 559.5,243.6Z"/>
<path fill="#df233c" fill-rule="evenodd" d="M560.3,244.6 568.6,244.9 568.6,248.6 559.6,248.6 558.6,247.6 558.6,246.7 560.3,244.6Z"/>
<path fill="#e22f44" fill-rule="evenodd" d="M560.6,245.6 565.6,246.1 568.6,245.5 568.6,248.6 559.6,248.6 558.6,247.6 560.6,245.6Z"/>
<path fill="#e63d4c" fill-rule="evenodd" d="M561.1,247.6 565.6,248.4 568.6,247.3 568.6,248.6 559.6,248.6 561.1,247.6Z"/>
</g>
<g clip-path="url(#w02)">
<path fill="none" stroke="#000" stroke-width="0.6" d="M109.1,43.1 97.1,34.6 83.5,23.1 78,20 72.3,18 60.6,16 43,14.8 21,14.7 0,15.7M568.6,64.2 555.6,65.1 547.6,66.9 540.6,69.3 534.6,72.5 527.6,75.5 524.6,77.2 524,78.2 524.7,80.2 526.7,82.2 535.6,89.6 540.6,92.5 545.6,94.5 552,96.2 568.6,99.3M438.1,84.8 443.5,86.1 452.7,81.2 461.5,75.5 468.5,69.2 471.1,66.2 473.6,61.1 474.5,60.1 478.5,60.8 479.5,58.6 481.2,45.1 480.5,43.1 479.4,42.1 472.4,41.1 470.2,36.1 470.1,35.1 471,33.1 475.2,28.1 475.6,27.1 475,26.1 467.7,22.1 460.3,19 451.5,16.5 440.5,14.1 420.4,14.5 346.6,19 329.4,21.1 297.3,27.3 283.3,28.6 274.3,28.5 265.3,27.4 253.3,24.8 240.3,20.9 237.3,21.3 235.9,22.1 235.4,26.1 237.2,30.1 236.2,32.5 235.2,33 221.2,29.9 208.2,28.1 197.2,31.9 189,37.1 185.2,37.9 172.1,39.1"/>
<path fill="none" stroke="#000" stroke-width="0.6" d="M462.8,0 461.5,0.5 447.5,0.7 414.4,3.3 410.4,4.1 405.9,6 399.2,8 384.1,10 330.3,12 292.3,14.3 281.3,13.7 271.3,11.9 262.3,8.7 252.3,3 245.3,1.4 236.2,1.3 206.2,3.6 188.2,8.3 176.2,6.7 161.2,8.2 125.1,9.2 117.1,8.8 77.1,4.7 62.1,1.7 59.2,0M456.3,112.1 479.5,114.8 489.5,116.8 500.5,120.9 512.5,127.8 519.2,133.3 527,142.3 532.3,150.4 542.4,168.4 550.2,179.4 559.6,188.9 565.6,193.9 568.6,195.4"/>
<path fill="none" stroke="#000" stroke-width="0.6" d="M533.4,215.4 540.6,217.5 555.6,224.1 568.6,229.1"/>
<text transform="translate(6.3,21.3) rotate(0) scale(1.15,1)" text-anchor="middle" fill="#000" font-size="14" font-weight="bold" font-style="italic">-10</text>
<text transform="translate(113.7,12.8) rotate(0) scale(1.15,1)" text-anchor="middle" fill="#000" font-size="14" font-weight="bold" font-style="italic">-5</text>
<text transform="translate(226.7,34.8) rotate(0) scale(1.15,1)" text-anchor="middle" fill="#000" font-size="14" font-weight="bold" font-style="italic">-10</text>
<text transform="translate(238.9,34.8) rotate(0) scale(1.15,1)" text-anchor="middle" fill="#000" font-size="14" font-weight="bold" font-style="italic">-10</text>
<text transform="translate(339.8,16.1) rotate(0) scale(1.15,1)" text-anchor="middle" fill="#000" font-size="14" font-weight="bold" font-style="italic">-5</text>
<text transform="translate(563,78.2) rotate(10) scale(1.15,1)" text-anchor="middle" fill="#000" font-size="14" font-weight="bold" font-style="italic">-10</text>
<text transform="translate(529.4,143) rotate(40) scale(1.15,1)" text-anchor="middle" fill="#000" font-size="14" font-weight="bold" font-style="italic">-5</text>
<path fill="none" stroke="#fff" stroke-width="1.1" d="M1.1,12.5 1.9,9.2 2.5,8 3.3,7 5.8,5.2 7.7,4.6 12.8,3.6 24.7,3.1 42.3,3.1 54.5,3.4 85,5 95.7,6 104.3,7.1 110.9,8.3 118.5,10.5"/>
<path fill="none" stroke="#fff" stroke-width="1.1" d="M132.4,24.7 135.9,27.7 137.6,28.8 141.7,30.6 146.7,31.9 154.9,32.9 160.3,33 165.3,32.5 169.6,31.3 173,29.5 174.4,28.2 175.4,26.8 176.1,25.2 177,21.6 178.3,18.2 180.2,14.9 181.4,13.3 184.4,10 187.7,7.1 196.6,0.1"/>
<path fill="none" stroke="#fff" stroke-width="1.1" d="M27.4,32 35.8,29.8 39.6,28 41.2,27 43.9,24.8 45.7,22.4 48,20.4 53.4,17.7"/>
<path fill="none" stroke="#fff" stroke-width="1.1" d="M86,23 83,25.8 78.9,28.5 78.5,29.2 78.5,30 78.9,30.8 79.7,31.6 82.5,33.2 89.6,35.6 110.4,40.1"/>
<path fill="none" stroke="#fff" stroke-width="1.1" d="M110.4,2.4 131.8,3.2 159.2,3.7"/>
<path fill="none" stroke="#fff" stroke-width="1.1" d="M227.6,38.8 236.5,40.5"/>
<path fill="none" stroke="#fff" stroke-width="1.1" d="M230.8,1.1 236.5,4.3 262.9,17.6 269.6,20.7 277.2,23.9"/>
<path fill="none" stroke="#fff" stroke-width="1.1" d="M310.5,18.2 336.8,12.2 343.5,10.2 351.6,7 354.3,5.3 354.7,4.7 354.7,4 354.3,3.4 352.2,2.1 349.5,1.1 343.9,0.1"/>
<path fill="none" stroke="#fff" stroke-width="1.1" d="M252,0.1 258.6,4 261.4,5.3 267.4,7.4 274,8.6 281,9.1 284.7,9 291.1,8.7 300,7.6"/>
<path fill="none" stroke="#fff" stroke-width="1.1" d="M332.5,30.7 333.5,27.9 335.2,26.1 338.2,24.6 340.2,24 345.5,22.9 352.3,22.2 371.6,21.4"/>
<path fill="none" stroke="#fff" stroke-width="1.1" d="M405.7,24.2 413.9,26 417.9,27.2 418.6,27.6 418.5,27.9 419.8,28.9 422.4,30.6 431.7,36.3 436.7,39.7 441.5,43.5 446,47.5 458.4,59.4 465.9,66.1 473.4,71.6 480.8,76.1 484.8,78.2 493.6,82.1 503,85.6 511.9,88 520.4,89.6 533.2,92.6 537.3,93.8 545.1,96.6 552.5,100.1 556.3,102.2 560,104.6 569.3,111.2"/>
<path fill="none" stroke="#fff" stroke-width="1.1" d="M373.2,4.3 382.1,7.1 389,8.5 421.2,12.7 457.8,18.2 467.5,19.9"/>
<path fill="none" stroke="#fff" stroke-width="1.1" d="M499.3,27.5 516.2,33.4 532.3,38.4 544.8,41.7 569.8,47.1"/>
<path fill="none" stroke="#fff" stroke-width="1.1" d="M406.5,2.9 421.2,5.5 454,9.7 465.2,10.8 482,11.9 487.6,12.5 515.6,17 551.9,22.5"/>
<path fill="none" stroke="#fff" stroke-width="1.1" d="M480.3,5.7 497.7,6.4 510.5,7.4"/>
<path fill="none" stroke="#fff" stroke-width="1.1" d="M544.1,7.9 569.8,9.8"/>
<path fill="none" stroke="#fff" stroke-width="1.1" d="M434.5,1.2 451.2,2.2"/>
<path fill="none" stroke="#fff" stroke-width="1.1" d="M473.6,2 510.5,1.8"/>
<path fill="none" stroke="#fff" stroke-width="1.1" d="M456.6,110.2 469.7,112.1 486.4,115.5"/>
<path fill="none" stroke="#fff" stroke-width="1.1" d="M514,125 526,135 530.2,139 533.9,143.2 537.1,147.3 550.4,168.6 553.3,172.9 560,181.4 569.3,192"/>
<text transform="translate(71.3,22.3) rotate(0) scale(1.15,1)" text-anchor="middle" fill="#fff" font-size="14" font-weight="bold" font-style="italic">26</text>
<text transform="translate(127.5,19.1) rotate(35) scale(1.15,1)" text-anchor="middle" fill="#fff" font-size="14" font-weight="bold" font-style="italic">25</text>
<text transform="translate(173.9,6.4) rotate(-15) scale(1.15,1)" text-anchor="middle" fill="#fff" font-size="14" font-weight="bold" font-style="italic">24</text>
<text transform="translate(217.8,42.2) rotate(5) scale(1.15,1)" text-anchor="middle" fill="#fff" font-size="14" font-weight="bold" font-style="italic">26</text>
<text transform="translate(313,8) rotate(-60) scale(1.15,1)" text-anchor="middle" fill="#fff" font-size="14" font-weight="bold" font-style="italic">24</text>
<text transform="translate(295.1,26.9) rotate(-5) scale(1.15,1)" text-anchor="middle" fill="#fff" font-size="14" font-weight="bold" font-style="italic">25</text>
<text transform="translate(389.4,27.5) rotate(5) scale(1.15,1)" text-anchor="middle" fill="#fff" font-size="14" font-weight="bold" font-style="italic">26</text>
<text transform="translate(462.4,5.7) rotate(5) scale(1.15,1)" text-anchor="middle" fill="#fff" font-size="14" font-weight="bold" font-style="italic">22</text>
<text transform="translate(525.1,12.4) rotate(5) scale(1.15,1)" text-anchor="middle" fill="#fff" font-size="14" font-weight="bold" font-style="italic">23</text>
<text transform="translate(479.2,24.7) rotate(15) scale(1.15,1)" text-anchor="middle" fill="#fff" font-size="14" font-weight="bold" font-style="italic">25</text>
<text transform="translate(564.2,30.3) rotate(-10) scale(1.15,1)" text-anchor="middle" fill="#fff" font-size="14" font-weight="bold" font-style="italic">24</text>
<text transform="translate(501.3,124.6) rotate(18) scale(1.15,1)" text-anchor="middle" fill="#fff" font-size="14" font-weight="bold" font-style="italic">27</text>
</g>
<path d="M503.5,175.2 L500,177 L534,221 L537.4,217.2 C538.5,205 537,196 533,188.5 C528,180.5 517,176 503.5,175.2 Z" fill="#fff"/>
<path d="M0,30 L3,30.3 L99.2,41.7 L162.9,35.6 L208,40.7 L274.3,42.2 L332,32.1 L372.5,38.2 L412.6,44.8 L479.8,145 L512,186.2 L562.5,248.6 L568.6,248.6 L568.6,248.6 L0,248.6 Z" fill="#363636"/>
<g fill="#3c3c3c"><circle cx="3.5" cy="1.2" r="2.3"/><circle cx="3.5" cy="8.6" r="2.3"/><circle cx="3.5" cy="12.4" r="2.3"/><circle cx="3.5" cy="21.1" r="2.3"/><circle cx="3.5" cy="26.9" r="2.3"/><circle cx="99.2" cy="1.5" r="2.3"/><circle cx="99.2" cy="9.1" r="2.3"/><circle cx="99.2" cy="17.4" r="2.3"/><circle cx="99.2" cy="25.4" r="2.3"/><circle cx="99.2" cy="39.3" r="2.3"/><circle cx="162.9" cy="1.5" r="2.3"/><circle cx="162.9" cy="9.1" r="2.3"/><circle cx="162.9" cy="17.1" r="2.3"/><circle cx="162.9" cy="24.9" r="2.3"/><circle cx="162.9" cy="32.1" r="2.3"/><circle cx="208" cy="1.5" r="2.3"/><circle cx="208" cy="9.1" r="2.3"/><circle cx="208" cy="17.1" r="2.3"/><circle cx="208" cy="24.9" r="2.3"/><circle cx="208" cy="38.6" r="2.3"/><circle cx="274.3" cy="1.8" r="2.3"/><circle cx="274.3" cy="9.9" r="2.3"/><circle cx="274.3" cy="18.2" r="2.3"/><circle cx="274.3" cy="25.7" r="2.3"/><circle cx="274.3" cy="31.5" r="2.3"/><circle cx="274.3" cy="38.1" r="2.3"/><circle cx="332" cy="1.8" r="2.3"/><circle cx="332" cy="9.1" r="2.3"/><circle cx="332" cy="15.7" r="2.3"/><circle cx="332" cy="19.9" r="2.3"/><circle cx="332" cy="24" r="2.3"/><circle cx="332" cy="28.2" r="2.3"/><circle cx="372.5" cy="1.8" r="2.3"/><circle cx="372.5" cy="9.1" r="2.3"/><circle cx="372.5" cy="17.4" r="2.3"/><circle cx="372.5" cy="24.9" r="2.3"/><circle cx="372.5" cy="35.6" r="2.3"/><circle cx="413.3" cy="1.5" r="2.3"/><circle cx="413.3" cy="10.8" r="2.3"/><circle cx="413.3" cy="18.2" r="2.3"/><circle cx="413.3" cy="29" r="2.3"/><circle cx="413.3" cy="33.1" r="2.3"/><circle cx="413.3" cy="42.7" r="2.3"/><circle cx="480" cy="1.5" r="2.3"/><circle cx="480" cy="12" r="2.3"/><circle cx="480" cy="22.1" r="2.3"/><circle cx="480" cy="42.3" r="2.3"/><circle cx="480" cy="58" r="2.3"/><circle cx="480" cy="82.9" r="2.3"/><circle cx="480" cy="100.3" r="2.3"/><circle cx="480" cy="116.8" r="2.3"/><circle cx="480" cy="132.6" r="2.3"/><circle cx="480" cy="141.7" r="2.3"/><circle cx="563.5" cy="1.5" r="2.3"/><circle cx="563.5" cy="20.7" r="2.3"/><circle cx="563.5" cy="37.3" r="2.3"/><circle cx="563.5" cy="46.4" r="2.3"/><circle cx="563.5" cy="62.1" r="2.3"/><circle cx="563.5" cy="82.9" r="2.3"/><circle cx="563.5" cy="116" r="2.3"/><circle cx="563.5" cy="157.4" r="2.3"/><circle cx="563.5" cy="232" r="2.3"/></g>
<text x="-0.7" y="-4" font-size="17" font-style="italic" text-anchor="middle">1</text>
<text x="97" y="-4" font-size="17" font-style="italic" text-anchor="middle">2</text>
<text x="160.7" y="-4" font-size="17" font-style="italic" text-anchor="middle">3</text>
<text x="205.8" y="-4" font-size="17" font-style="italic" text-anchor="middle">4</text>
<text x="272.1" y="-4" font-size="17" font-style="italic" text-anchor="middle">10</text>
<text x="329.8" y="-4" font-size="17" font-style="italic" text-anchor="middle">11</text>
<text x="370.3" y="-4" font-size="17" font-style="italic" text-anchor="middle">12</text>
<text x="411.1" y="-4" font-size="17" font-style="italic" text-anchor="middle">13</text>
<text x="477.8" y="-4" font-size="17" font-style="italic" text-anchor="middle">14</text>
<text x="558.3" y="-4" font-size="17" font-style="italic" text-anchor="middle">15</text>
<path d="M0,0 H568.6 V248.6 H0 Z" fill="none" stroke="#000" stroke-width="1.1"/>
<path d="M0,0 h-6.5" stroke="#000" stroke-width="1.1"/>
<text x="-12.5" y="5.8" text-anchor="end" font-size="16.2" letter-spacing="0.4" font-weight="bold" font-style="italic" stroke="#000" stroke-width="0.3">0</text>
<path d="M0,41.4 h-6.5" stroke="#000" stroke-width="1.1"/>
<text x="-12.5" y="47.2" text-anchor="end" font-size="16.2" letter-spacing="0.4" font-weight="bold" font-style="italic" stroke="#000" stroke-width="0.3">50</text>
<path d="M0,82.9 h-6.5" stroke="#000" stroke-width="1.1"/>
<text x="-12.5" y="88.7" text-anchor="end" font-size="16.2" letter-spacing="0.4" font-weight="bold" font-style="italic" stroke="#000" stroke-width="0.3">100</text>
<path d="M0,124.3 h-6.5" stroke="#000" stroke-width="1.1"/>
<text x="-12.5" y="130.1" text-anchor="end" font-size="16.2" letter-spacing="0.4" font-weight="bold" font-style="italic" stroke="#000" stroke-width="0.3">150</text>
<path d="M0,165.7 h-6.5" stroke="#000" stroke-width="1.1"/>
<text x="-12.5" y="171.5" text-anchor="end" font-size="16.2" letter-spacing="0.4" font-weight="bold" font-style="italic" stroke="#000" stroke-width="0.3">200</text>
<path d="M0,207.2 h-6.5" stroke="#000" stroke-width="1.1"/>
<text x="-12.5" y="213" text-anchor="end" font-size="16.2" letter-spacing="0.4" font-weight="bold" font-style="italic" stroke="#000" stroke-width="0.3">250</text>
<path d="M0,248.6 h-6.5" stroke="#000" stroke-width="1.1"/>
<text x="-12.5" y="254.4" text-anchor="end" font-size="16.2" letter-spacing="0.4" font-weight="bold" font-style="italic" stroke="#000" stroke-width="0.3">300</text>
<path d="M0,248.6 v6.5" stroke="#000" stroke-width="1.1"/>
<text x="0" y="275" text-anchor="middle" font-size="16.2" letter-spacing="0.4" font-weight="bold" font-style="italic" stroke="#000" stroke-width="0.3">0</text>
<path d="M97.8,248.6 v4" stroke="#000" stroke-width="0.7"/>
<path d="M195.6,248.6 v6.5" stroke="#000" stroke-width="1.1"/>
<text x="195.6" y="275" text-anchor="middle" font-size="16.2" letter-spacing="0.4" font-weight="bold" font-style="italic" stroke="#000" stroke-width="0.3">500</text>
<path d="M293.3,248.6 v4" stroke="#000" stroke-width="0.7"/>
<path d="M391.1,248.6 v6.5" stroke="#000" stroke-width="1.1"/>
<text x="391.1" y="275" text-anchor="middle" font-size="16.2" letter-spacing="0.4" font-weight="bold" font-style="italic" stroke="#000" stroke-width="0.3">1000</text>
<path d="M488.9,248.6 v4" stroke="#000" stroke-width="0.7"/>
<text transform="translate(-63.5,117.6) rotate(-90)" text-anchor="middle" font-size="21" font-weight="bold" font-style="italic" stroke="#000" stroke-width="0.4">Depth [m]</text>
<rect x="4.6" y="216.7" width="144.9" height="31.2" fill="#000"/>
<text x="9.4" y="239.4" fill="#fff" font-size="21.3" font-weight="bold" font-style="italic" textLength="139.8" lengthAdjust="spacingAndGlyphs">N* [µmol kg<tspan dy="-8.5" font-size="12.5">-1</tspan><tspan dy="8.5">]</tspan></text>
<text x="-89.4" y="15.6" font-size="30" font-weight="bold">E</text>
<rect x="587.2" y="0" width="24.2" height="248.6" fill="url(#cbg)"/>
<path d="M587.2,0.3 L592.2,0.3 C595.7,0 596.2,-3.4 599.3,-3.4 C602.4,-3.4 602.9,0 606.4,0.3 L611.4,0.3 Z" fill="#ffb88e"/>
<path d="M592.2,248.3 L599.3,252.6 L606.4,248.3 Z" fill="#e884de"/>
<path d="M587.2,0 L587.2,248.6 M611.4,0 L611.4,248.6" stroke="#000" stroke-width="1" fill="none"/>
<path d="M587.2,0 L592.2,0 C595.7,-0.3 596.2,-3.6 599.3,-3.6 C602.4,-3.6 602.9,-0.3 606.4,0 L611.4,0" stroke="#000" stroke-width="0.8" fill="none"/>
<path d="M587.2,248.6 L592.7,248.6 M605.9,248.6 L611.4,248.6" stroke="#000" stroke-width="0.8" fill="none"/>
<path d="M587.2,248.6 h5.5 M611.4,248.6 h-5.5" stroke="#000" stroke-width="1.1" fill="none"/>
<text transform="translate(617.9,252.9) scale(1.2,1)" font-size="12.2" font-weight="bold" font-style="italic" stroke="#000" stroke-width="0.25">-15</text>
<path d="M587.2,186.4 h5.5 M611.4,186.4 h-5.5" stroke="#000" stroke-width="1.1" fill="none"/>
<text transform="translate(617.9,190.8) scale(1.2,1)" font-size="12.2" font-weight="bold" font-style="italic" stroke="#000" stroke-width="0.25">-10</text>
<path d="M587.2,124.3 h5.5 M611.4,124.3 h-5.5" stroke="#000" stroke-width="1.1" fill="none"/>
<text transform="translate(617.9,128.6) scale(1.2,1)" font-size="12.2" font-weight="bold" font-style="italic" stroke="#000" stroke-width="0.25">-5</text>
<path d="M587.2,62.1 h5.5 M611.4,62.1 h-5.5" stroke="#000" stroke-width="1.1" fill="none"/>
<text transform="translate(617.9,66.5) scale(1.2,1)" font-size="12.2" font-weight="bold" font-style="italic" stroke="#000" stroke-width="0.25">0</text>
<path d="M587.2,0 h5.5 M611.4,0 h-5.5" stroke="#000" stroke-width="1.1" fill="none"/>
<text transform="translate(617.9,4.3) scale(1.2,1)" font-size="12.2" font-weight="bold" font-style="italic" stroke="#000" stroke-width="0.25">5</text>
<text transform="translate(583.6,246.6) rotate(-90)" font-size="10" font-weight="bold" font-style="italic" stroke="#000" stroke-width="0.2">Ocean Data View / DIVA</text>
<text x="292.5" y="301.1" text-anchor="middle" font-size="21" font-weight="bold" font-style="italic" stroke="#000" stroke-width="0.4">Section Distance [km]</text>
</g>
<g transform="translate(839.7,774)">
<clipPath id="w12"><path d="M0,0 L568.6,0 L568.6,248.6 L568.6,249.2 L562.5,249.2 L512,186.8 L479.8,145.6 L412.6,45.4 L372.5,38.8 L332,32.7 L274.3,42.8 L208,41.3 L162.9,36.2 L99.2,42.3 L3,30.9 L0,30.6 Z"/></clipPath>
<g clip-path="url(#w12)">
<rect x="0" y="0" width="568.6" height="248.6" fill="#e884de"/>
<path fill="#e25cd9" fill-rule="evenodd" d="M0,0 475.6,0 473.9,5 475.5,6.7 487.4,11 499.3,14 527.7,19 542.5,21.1 552.6,21.7 560.6,21.5 566.2,21.1 568.6,19.5 568.6,248.6 559.6,248.6 558.6,247.6 558.6,246.6 553.6,241.6 553.6,240.6 545.6,231.6 545.6,230.6 541.6,226.5 541.6,225.5 536.6,220.5 536.6,219.5 532.6,215.5 532.6,214.5 528.6,210.5 528.6,209.5 524.6,205.5 524.6,204.5 519.5,199.5 519.5,198.5 515.5,194.5 515.5,193.5 511.5,189.5 511.5,188.5 507.5,184.4 507.5,183.4 504.5,180.4 504.5,179.4 500.5,175.4 500.5,174.4 497.5,171.4 497.5,170.4 489.5,161.4 489.5,160.4 486.5,157.4 486.5,156.4 482.5,152.4 482.5,151.4 479.5,148.4 479.5,147.4 477.5,145.4 477.5,144.3 475.5,142.3 475.5,141.3 473.5,139.3 473.5,138.3 471.5,136.3 471.5,135.3 469.5,133.3 469.5,132.3 467.5,130.3 467.5,129.3 465.5,127.3 465.5,126.3 463.5,124.3 463.5,123.3 461.5,121.3 461.5,120.3 459.5,118.3 459.5,117.3 457.5,115.3 457.5,114.3 455.5,112.3 455.5,111.3 453.5,109.3 453.5,108.3 450.5,105.3 450.5,104.3 448.5,102.2 448.5,101.2 446.5,99.2 446.5,98.2 444.5,96.2 444.5,95.2 442.5,93.2 442.5,92.2 440.5,90.2 440.5,89.2 438.5,87.2 438.5,86.2 436.5,84.2 436.5,83.2 434.5,81.2 434.5,80.2 432.5,78.2 432.5,77.2 430.5,75.2 430.5,74.2 428.4,72.2 428.5,71.2 426.4,69.2 426.4,68.2 424.4,66.2 424.4,65.2 422.4,63.2 422.4,62.1 420.4,60.1 420.4,59.1 418.4,57.1 418.4,56.1 416.4,54.1 416.4,53.1 412.4,48.1 409.4,48.1 408.4,47.1 402.4,47.1 401.4,46.1 396.4,46.1 395.4,45.1 390.4,45.1 389.4,44.1 384.4,44.1 383.4,43.1 378.4,43.1 377.4,42.1 372.4,42.1 371.4,41.1 365.4,41.1 364.4,40.1 359.4,40.1 358.4,39.1 352.4,39.1 351.4,38.1 345.4,38.1 344.4,37.1 339.4,37.1 338.4,36.1 327.3,36.1 326.3,37.1 321.3,37.1 320.3,38.1 315.3,38.1 314.3,39.1 309.3,39.1 308.3,40.1 304.3,40.1 303.3,41.1 298.3,41.1 297.3,42.1 292.3,42.1 291.3,43.1 286.3,43.1 285.3,44.1 281.3,44.1 280.3,45.1 275.3,45.1 274.3,46.1 271.3,46.1 270.3,45.1 226.2,45.1 225.2,44.1 203.2,44.1 202.2,43.1 194.2,43.1 193.2,42.1 185.2,42.1 184.2,41.1 176.2,41.1 175.2,40.1 168.2,40.1 167.2,39.1 158.2,39.1 157.2,40.1 148.2,40.1 147.2,41.1 137.1,41.1 136.1,42.1 127.1,42.1 126.1,43.1 116.1,43.1 115.1,44.1 106.1,44.1 105.1,45.2 95.1,45.2 94.1,44.1 86.1,44.1 85.1,43.1 78.1,43.1 77.1,42.1 69.1,42.1 68.1,41.1 61.1,41.1 60.1,40.1 52.1,40.1 51.1,39.1 44,39.1 43,38.1 35,38.1 34,37.1 27,37.1 26,36.1 19,36.1 18,35.1 10,35.1 9,34.1 1,34.1 0,33.1 0,0ZM422.4,56.8 422.2,58.1 424.4,62.1 437.5,80.5 439.5,81.8 449.5,80.4 460.5,79.5 464.5,77.5 468.5,79.2 485.5,78.4 490.5,77.7 495.2,76.2 498.2,72.2 498.2,71.2 496.4,68.2 493.5,65.8 486.5,63.4 473.5,60 468.5,59.4 465.8,60.1 464.5,61.1 463.5,60.9 461.6,59.1 458.4,58.1 431.5,57.1 425.4,56.3 422.4,56.8Z"/>
<path fill="#9a80f2" fill-rule="evenodd" d="M0,0 300.8,0 306.7,3 311.1,4 320.3,4.9 348.9,3 363.2,1 366.8,0 454.2,0 455.3,2 456.5,3 461.4,5 482.8,12 501.5,16.9 520.5,20.7 546.6,24.5 556.6,25.2 568.6,25.1 568.6,62.1 554.6,62.7 537.6,60.6 530.6,58.5 510.4,49.1 503.7,47.1 493.3,45.1 481.5,44.4 469.5,44.6 463.5,46 459.5,45.3 437.5,47.5 418.4,48.3 415.4,49.1 414.4,51.1 414.4,50.1 412.4,48.1 409.4,48.1 408.4,47.1 402.4,47.1 401.4,46.1 396.4,46.1 395.4,45.1 390.4,45.1 389.4,44.1 384.4,44.1 383.4,43.1 378.4,43.1 377.4,42.1 372.4,42.1 371.4,41.1 365.4,41.1 364.4,40.1 359.4,40.1 358.4,39.1 352.4,39.1 351.4,38.1 345.4,38.1 344.4,37.1 339.4,37.1 338.4,36.1 327.3,36.1 326.3,37.1 321.3,37.1 320.3,38.1 315.3,38.1 314.3,39.1 309.3,39.1 308.3,40.1 304.3,40.1 303.3,41.1 298.3,41.1 297.3,42.1 292.3,42.1 291.3,43.1 286.3,43.1 285.3,44.1 281.3,44.1 280.3,45.1 275.3,45.1 274.3,46.1 271.3,46.1 270.3,45.1 226.2,45.1 225.2,44.1 203.2,44.1 202.2,43.1 194.2,43.1 193.2,42.1 185.2,42.1 184.2,41.1 176.2,41.1 175.2,40.1 168.2,40.1 167.2,39.1 158.2,39.1 157.2,40.1 148.2,40.1 147.2,41.1 137.1,41.1 136.1,42.1 127.1,42.1 126.1,43.1 116.1,43.1 115.1,44.1 106.1,44.1 105.1,45.1 95.1,45.1 94.1,44.1 86.1,44.1 85.1,43.1 78.1,43.1 77.1,42.1 69.1,42.1 68.1,41.1 61.1,41.1 60.1,40.1 52.1,40.1 51.1,39.1 44,39.1 43,38.1 35,38.1 34,37.1 27,37.1 26,36.1 19,36.1 18,35.1 10,35.1 9,34.1 1,34.1 0,33.1 0,0Z"/>
<path fill="#4343f3" fill-rule="evenodd" d="M0,0 295.7,0 296.3,1.6 297.9,3 303.3,5.2 309.3,6.4 316.3,6.7 360.4,3.6 365.4,2.9 373.4,0.5 401.4,0.8 403.7,0 442.1,0 452.4,4 477.7,12 496.5,17.2 501.5,19.5 513.6,22.1 518.5,24.8 537.6,27.9 543.6,27 568.6,28.9 568.6,57.2 555.6,57.7 540.5,56.1 536.7,55.1 533.6,52.9 513.5,43.7 508.5,43.9 494.5,41.3 478.5,41 456.5,42 439.5,44.3 411.4,46.1 409,47.1 402.4,47.1 401.4,46.1 396.4,46.1 395.4,45.1 390.4,45.1 389.4,44.1 384.4,44.1 383.4,43.1 378.4,43.1 377.4,42.1 372.4,42.1 371.4,41.1 365.4,41.1 364.4,40.1 359.4,40.1 358.4,39.1 352.4,39.1 351.4,38.1 345.4,38.1 344.4,37.1 339.4,37.1 338.4,36.1 327.3,36.1 326.3,37.1 321.3,37.1 320.3,38.1 315.3,38.1 314.3,39.1 309.3,39.1 308.3,40.1 304.3,40.1 303.3,41.1 298.3,41.1 297.3,42.1 292.3,42.1 291.3,43.1 286.3,43.1 285.3,44.1 281.3,44.1 280.3,45.1 275.3,45.1 274.3,46.1 271.3,46.1 270.3,45.1 226.2,45.1 225.2,44.1 203.2,44.1 202.2,43.1 194.2,43.1 193.2,42.1 185.2,42.1 184.2,41.1 176.2,41.1 175.2,40.1 168.2,40.1 167.2,39.1 158.2,39.1 157.2,40.1 148.2,40.1 147.2,41.1 137.1,41.1 136.1,42.1 127.1,42.1 126.1,43.1 116.1,43.1 115.1,44.1 106.1,44.1 105.1,45.1 95.1,45.1 94.1,44.1 86.1,44.1 85.1,43.1 78.1,43.1 77.1,42.1 69.1,42.1 68.1,41.1 61.1,41.1 60.1,40.1 52.1,40.1 51.1,39.1 44,39.1 43,38.1 35,38.1 34,37.1 27,37.1 26,36.1 19,36.1 18,35.1 10,35.1 9,34.1 1,34.1 0,33.1 0,0Z"/>
<path fill="#5959f0" fill-rule="evenodd" d="M0,0 289,0 289.6,5 290.3,6.2 304.3,9.5 318.3,9.1 360.4,6 374.4,3.9 437.5,4.2 446.5,5.5 462.5,9.5 476.5,14.3 486.5,16.7 493.1,19 495.9,21.1 499,30.1 498.5,31.4 497.5,31.6 493.5,31.2 491.5,31.5 488.6,35.1 486.5,35.6 466.5,37 460.5,38.1 451.5,35.3 439.5,40.4 431.5,40.2 422.4,41.7 411.4,42.3 394.9,41.1 393.7,42.1 395.1,45.1 390.4,45.1 389.4,44.1 384.4,44.1 383.4,43.1 378.4,43.1 377.4,42.1 372.4,42.1 371.4,41.1 365.4,41.1 364.4,40.1 359.4,40.1 358.4,39.1 352.4,39.1 351.4,38.1 345.4,38.1 344.4,37.1 339.4,37.1 338.4,36.1 327.3,36.1 326.3,37.1 321.3,37.1 320.3,38.1 315.3,38.1 314.3,39.1 309.3,39.1 308.3,40.1 304.3,40.1 303.3,41.1 298.3,41.1 297.3,42.1 292.3,42.1 291.3,43.1 286.3,43.1 285.3,44.1 281.3,44.1 280.3,45.1 275.3,45.1 274.3,46.1 271.3,46.1 270.3,45.1 226.2,45.1 225.2,44.1 203.2,44.1 202.2,43.1 194.2,43.1 193.2,42.1 185.2,42.1 184.2,41.1 176.2,41.1 175.2,40.1 168.2,40.1 167.2,39.1 158.2,39.1 157.2,40.1 148.2,40.1 147.2,41.1 137.1,41.1 136.1,42.1 127.1,42.1 126.1,43.1 116.1,43.1 115.1,44.1 106.1,44.1 105.1,45.1 95.1,45.1 94.1,44.1 86.1,44.1 85.1,43.1 78.1,43.1 77.1,42.1 69.1,42.1 68.1,41.1 61.1,41.1 60.1,40.1 52.1,40.1 51.1,39.1 44,39.1 43,38.1 35,38.1 34,37.1 27,37.1 26,36.1 19,36.1 18,35.1 10,35.1 9,34.1 1,34.1 0,33.1 0,0ZM405.7,0 431.6,0 428.5,1.1 409.4,1.2 407.4,1.1 405.7,0Z"/>
<path fill="#2a86e6" fill-rule="evenodd" d="M0,0 281.9,0 281.4,15 280.3,19 281.5,21.1 284.3,22.8 285.3,22.8 287.3,21.5 294.3,14.6 297.3,13.5 302.3,13.9 315.3,11.7 340.4,9.2 374.4,7.3 402.4,6.9 437.5,7.5 454.5,9.7 466.5,12.5 475.5,16.7 487,19 490.8,21.1 492.1,23.1 491.9,24.1 489.2,25.1 487.5,28.3 485.5,29.8 467.5,32.4 460.5,34.3 458.5,34.2 453.5,32.3 450.5,32.2 446.4,33.1 439.5,36.7 431.5,36.4 422.4,38 408.4,38.9 387.4,36.4 383.4,36.4 381,37.1 380.5,38.1 384,43.1 378.4,43.1 377.4,42.1 372.4,42.1 371.4,41.1 365.4,41.1 364.4,40.1 359.4,40.1 358.4,39.1 352.4,39.1 351.4,38.1 345.4,38.1 344.4,37.1 339.4,37.1 338.4,36.1 327.3,36.1 326.3,37.1 321.3,37.1 320.3,38.1 315.3,38.1 314.3,39.1 309.3,39.1 308.3,40.1 304.3,40.1 303.3,41.1 298.3,41.1 297.3,42.1 292.3,42.1 291.3,43.1 269.3,41.2 267.5,42.1 269.7,45.1 226.2,45.1 225.2,44.1 203.2,44.1 202.2,43.1 194.2,43.1 193.2,42.1 185.2,42.1 184.2,41.1 176.2,41.1 175.2,40.1 168.2,40.1 167.2,39.1 158.2,39.1 157.2,40.1 148.2,40.1 147.2,41.1 137.1,41.1 136.1,42.1 127.1,42.1 126.1,43.1 116.1,43.1 115.1,44.1 106.1,44.1 105.1,45.1 95.1,45.1 94.1,44.1 86.1,44.1 85.1,43.1 78.1,43.1 77.1,42.1 69.1,42.1 68.1,41.1 61.1,41.1 60.1,40.1 52.1,40.1 51.1,39.1 44,39.1 43,38.1 35,38.1 34,37.1 27,37.1 26,36.1 19,36.1 18,35.1 10,35.1 9,34.1 1,34.1 0,33.1 0,0ZM114.1,20 112.3,21.1 112.9,22.1 116.1,23.2 119.1,22.8 120.6,22.1 121.1,21.1 119.9,20 118.1,19.7 114.1,20ZM384.4,44.1 384.4,43.6 384.8,44.1 384.4,44.1Z"/>
<path fill="#3696f0" fill-rule="evenodd" d="M0,0 278.3,0 276.8,10 272.1,19 271.3,23 263.2,26.1 244,38.1 243.5,39.1 244.1,40.1 250.1,45.1 226.2,45.1 225.2,44.1 203.2,44.1 202.2,43.1 194.2,43.1 193.2,42.1 185.2,42.1 184.2,41.1 176.2,41.1 175.2,40.1 168.2,40.1 167.2,39.1 158.2,39.1 157.2,40.1 148.2,40.1 147.2,41.1 137.1,41.1 136.1,42.1 127.1,42.1 126.1,43.1 116.1,43.1 115.1,44.1 106.1,44.1 105.1,45.1 95.1,45.1 94.1,44.1 86.1,44.1 85.1,43.1 78.1,43.1 77.1,42.1 69.1,42.1 68.1,41.1 61.1,41.1 60.1,40.1 52.1,40.1 51.1,39.1 44,39.1 43,38.1 35,38.1 34,37.1 27,37.1 26,36.1 19,36.1 18,35.1 10,35.1 9,34.1 1,34.1 0,33.1 0,0ZM102.1,19 92.8,20 91.1,21.1 89.9,23.1 90.4,24.1 93.4,26.1 104.2,30.1 117.1,32.1 136.1,32.9 142.3,32.1 143.8,31.1 144.8,29.1 145.2,23.1 144.9,21.1 141.2,19 117.1,18.5 102.1,19ZM367.8,9 418.4,8.4 436.5,8.9 450.5,10.2 459.5,11.7 466.5,13.6 473.8,18 477.5,21.6 482.1,22.1 484.6,23.1 483.5,24.1 477.5,25.6 476.2,27.1 473.5,28.7 459.5,32.2 454.5,30.9 451.5,30.8 445.5,31.7 439.5,34.5 431.5,34.5 421.4,36 406.4,37 387.4,34.9 377.4,35.7 375.8,36.1 374.7,37.1 377.9,42.1 372.4,42.1 371.4,41.1 365.4,41.1 364.4,40.1 359.4,40.1 358.4,39.1 352.4,39.1 351.4,38.1 345.4,38.1 344.4,37.1 339.4,37.1 338.4,36.1 327.3,36.1 326.3,37.1 321.3,37.1 320.3,38.1 315.3,38.1 314.3,39.1 309.3,39.1 308.3,40.1 304.3,40.1 303.3,41.1 297.8,41.1 274.3,37.6 272.1,37.1 271.4,36.1 273.6,34.1 282.3,28.3 285.3,27.4 291.3,21.9 298.3,17.3 308.3,14.3 324.3,11.7 340.4,10.3 367.8,9ZM378.4,43.1 378.4,42.7 378.4,43.1Z"/>
<path fill="#44a8f6" fill-rule="evenodd" d="M0,0 276.7,0 276,6 274.8,10 272.2,15 269.3,18.8 263.3,23.5 244.3,34.2 238.5,39.1 238.1,40.1 238.7,41.1 243.9,45.1 226.2,45.1 225.2,44.1 203.2,44.1 202.2,43.1 194.2,43.1 193.2,42.1 185.2,42.1 184.2,41.1 176.2,41.1 175.2,40.1 168.2,40.1 167.2,39.1 158.2,39.1 157.2,40.1 148.2,40.1 147.2,41.1 137.1,41.1 136.1,42.1 127.1,42.1 126.1,43.1 116.1,43.1 115.1,44.1 106.1,44.1 105.1,45.1 95.1,45.1 94.1,44.1 86.1,44.1 85.1,43.1 78.1,43.1 77.1,42.1 69.1,42.1 68.1,41.1 61.1,41.1 60.1,40.1 52.1,40.1 51.1,39.1 44,39.1 43,38.1 35,38.1 34,37.1 27,37.1 26,36.1 19,36.1 18,35.1 10,35.1 9,34.1 1,34.1 0,33.1 0,0ZM114.1,18 93,19 84.8,21.1 84.1,22.1 83.7,25.1 84.1,26.3 85.1,27.1 100.1,31.8 115.1,34.1 136.1,34.8 162.2,33.5 165.2,32.8 166.7,31.1 166.1,29.1 157.2,24 153.7,20 151.2,18.8 141.1,18 114.1,18ZM360,10 412.4,9.1 435.5,9.6 450.5,10.9 459.5,12.4 466.5,14.5 473,20 473.1,25.1 472.5,26.4 471.5,27.2 460.5,30.4 458.5,30.6 454.5,29.6 451.5,29.8 444.5,30.7 438.5,33 429.5,33.2 421.4,34.4 404.4,35.5 388.4,34 373.6,35.1 370.5,36.1 370.3,37.1 373.9,42.1 372.4,42.1 371.4,41.1 365.4,41.1 364.4,40.1 359.4,40.1 358.4,39.1 352.4,39.1 351.4,38.1 345.4,38.1 344.4,37.1 339.4,37.1 338.4,36.1 327.3,36.1 326.3,37.1 321.3,37.1 320.3,38.1 315.3,38.1 314.3,39.1 309.3,39.1 308.3,40.1 281.3,36.2 278.1,35.1 278.5,34.1 279.8,33.1 286.3,29.3 290.8,24.1 297.3,19.4 307.3,15.5 318.3,13.3 338.4,11.1 360,10Z"/>
<path fill="#00e6a0" fill-rule="evenodd" d="M0,0 275.4,0 274.6,6 273.3,10 270.6,15 267.3,18.7 258.3,24.6 243.2,32.1 237.3,37.5 232,40.1 232.5,41.1 237.7,45.1 226.2,45.1 225.2,44.1 203.2,44.1 202.2,43.1 194.2,43.1 193.2,42.1 185.2,42.1 184.2,41.1 176.2,41.1 175.2,40.1 168.2,40.1 167.2,39.1 158.2,39.1 157.2,40.1 148.2,40.1 147.2,41.1 137.1,41.1 136.1,42.1 127.1,42.1 126.1,43.1 116.1,43.1 115.1,44.1 106.1,44.1 105.1,45.1 95.1,45.1 94.1,44.1 86.1,44.1 85.1,43.1 78.1,43.1 77.1,42.1 69.1,42.1 68.1,41.1 61.1,41.1 60.1,40.1 52.1,40.1 51.1,39.1 44,39.1 43,38.1 35,38.1 34,37.1 27,37.1 26,36.1 19,36.1 18,35.1 10,35.1 9,34.1 1,34.1 0,33.1 0,0ZM102.1,18 84.1,19.2 80.3,20 77.1,21.7 60.7,23.1 59.9,24.1 66.8,26.1 75.1,27.4 79.4,30.1 83.6,31.1 109.7,35.1 134.1,35.9 164.2,34.7 167.5,34.1 172,31.1 170.7,29.1 168.3,27.1 160.2,22.8 155.4,19 152.2,18 142.2,17.4 102.1,18ZM388.1,10 411.4,9.7 436.5,10.4 451.5,11.7 462.5,13.9 466.5,15.5 471,20 471.5,23.3 470.6,25.1 469.5,25.7 459.5,28.8 453.5,28.5 443.5,29.7 438.5,31.3 404.4,33.8 389.4,33 370.4,34.3 366.5,35.1 365.5,36.1 368.3,41.1 365.4,41.1 364.4,40.1 359.4,40.1 358.4,39.1 352.4,39.1 351.4,38.1 345.4,38.1 344.4,37.1 339.4,37.1 338.4,36.1 327.3,36.1 326.3,37.1 321.3,37.1 320.3,38.1 314.3,38.2 288.3,34.6 286,34.1 285,33.1 288.6,30.1 290.4,26.1 295.3,21.9 302.8,18 312.3,15.2 324.3,13.2 340.4,11.7 388.1,10Z"/>
<path fill="#14c850" fill-rule="evenodd" d="M0,0 273.1,0 272,6 270.9,9 268.3,13.5 265.3,16.6 261.3,19.4 255.3,22.4 238.1,29.1 235.7,31.1 234,35.1 232.4,36.1 222.2,37.7 218.4,39.1 217.9,40.1 218.6,41.1 222.4,44.1 203.2,44.1 202.2,43.1 194.2,43.1 193.2,42.1 185.2,42.1 184.2,41.1 176.2,41.1 175.2,40.1 168.2,40.1 167.2,39.1 158.2,39.1 157.2,40.1 148.2,40.1 147.2,41.1 137.1,41.1 136.1,42.1 127.1,42.1 126.1,43.1 116.1,43.1 115.1,44.1 106.1,44.1 105.1,45.1 95.1,45.1 94.1,44.1 86.1,44.1 85.1,43.1 78.1,43.1 77.1,42.1 69.1,42.1 68.1,41.1 61.1,41.1 60.1,40.1 52.1,40.1 51.1,39.1 44,39.1 43,38.1 35,38.1 34,37.1 31.5,37.1 27,35.6 25.1,36.1 19,36.1 18,35.1 10,35.1 9,34.1 1,34.1 0,33.1 0,0ZM116.1,17 61.1,19 48.1,21.7 38,24.9 23,23.7 20,24.2 18.5,25.1 18.2,26.1 20.5,27.1 28,28.3 111.1,37.8 149.2,38 192.2,36.7 195.7,36.1 196.7,35.1 195.3,31.1 193.8,30.1 181.2,28.2 164.2,21 156.2,17 148.2,16.3 116.1,17ZM223.2,30.9 220.8,33.1 222.2,33.9 224.2,34.1 229.2,33.6 233.9,31.1 232.2,30.3 230.2,30.1 223.2,30.9ZM400.4,11 434.5,11.5 447.5,12.6 455.7,14 457.9,15 459.9,17 460.4,19 460.2,22.1 457.4,25.1 449.5,26.7 438.5,28 416.4,29.6 372.4,31.7 353.4,34 334.4,34.4 321.3,33.7 308.6,32.1 306.6,31.1 304.7,29.1 303.6,24.1 304.4,21.1 306.7,19 313,17 323.8,15 346.4,13 400.4,11Z"/>
<path fill="#22d832" fill-rule="evenodd" d="M0,0 271.2,0 269.8,6 267.3,10.6 264.2,14 258.3,18 249.3,22.2 238.3,25.7 220.2,28 212.2,33.2 209.2,34.5 207.2,33.6 203.2,28.4 201.3,27.1 184.2,25.1 167.2,18.4 157.2,15.2 62.1,17.9 47,19.4 39,21.4 20,19 6,15.3 5,15.6 3,17.8 1,15.2 0,15 0,0ZM403.6,12 434.5,12.5 445.5,13.6 452.9,15 454.9,16 455.5,17 455.2,22.1 453.5,23.4 446.5,24.9 429.5,26.4 398.4,27.9 381.4,27.9 373.4,27.4 356.4,30.7 337.4,31.9 323.3,31.4 312.3,29.7 310.3,28.5 309.4,25.1 309.7,22.1 311.2,21.1 321.3,18.2 330.3,16.6 349.4,15.1 367.4,15.4 384.4,13.1 403.6,12Z"/>
<path fill="#30d539" fill-rule="evenodd" d="M0,0 269.6,0 268.3,5.2 265.1,10 260.3,14.2 253.3,18.3 246.3,21.3 237.3,24.2 218.2,25.8 211.2,28.5 208.2,27.9 204,25.1 186.2,22.3 168.2,15.5 159.2,13.7 129.1,15.7 47,17.7 41,18.3 22,16.6 13,14.8 4,11.8 0,13.4 0,0ZM400.1,13 414.4,12.7 429.5,13.1 439.5,13.9 449.5,15.7 452.8,17 453.5,18 453.3,20 452.5,21.1 450.5,21.9 444.5,23.2 426.5,24.8 398.4,25.6 384.4,25 373.4,23.2 368.4,24.5 363.4,26.7 358.4,28.2 349.4,29.6 339.4,30.2 327.8,30.1 320.3,29.3 314.3,27.7 312.6,26.1 313.3,24.1 315.3,23.1 323.3,20.5 330.4,19 339.4,17.9 350.4,17.3 357.4,17.4 367.4,18.5 374.4,17.4 384.4,14.5 400.1,13Z"/>
<path fill="#4dce48" fill-rule="evenodd" d="M0,0 269.5,0 267.7,6 264.3,10.6 259.3,14.6 252.3,18.5 237.3,24 218.2,25.6 211.2,27.8 208.2,27.2 204.2,24.9 186.2,21.9 168.2,15.1 160.2,13.6 128.1,15.7 41,18 22,16.3 13,14.6 4,11.4 3,11.4 0,13.2 0,0ZM401.9,13 418.4,12.8 431.5,13.3 439.5,14 450.2,16 452.4,17 453.2,18 453.3,19 452.5,20.6 449.3,22.1 443.5,23.2 424.4,24.7 398.4,25.4 384.4,24.7 373.4,22.7 367.4,24.4 363.4,26.4 357.8,28.1 348.4,29.5 339.4,30 328.3,29.9 320.4,29.1 314.3,27.4 313.1,26.1 313.1,25.1 314,24.1 316.5,23.1 324.3,20.5 332.2,19 341.4,18 351.4,17.6 367.4,18.8 374.4,17.7 384.4,14.6 401.9,13Z"/>
<path fill="#5dcb50" fill-rule="evenodd" d="M0,0 269.3,0 267.5,6 264.3,10.3 259.3,14.4 251.3,18.8 237.3,23.9 218.2,25.4 211.2,27.2 209.2,27 204.2,24.7 186.2,21.7 169,15 160.2,13.4 128.1,15.7 42,17.8 23,16.2 14,14.7 3,10.9 2,11.1 0,13.1 0,0ZM404.4,13 431.5,13.4 438.7,14 449.5,16 452.5,17.5 453,19 452.5,20.2 448.5,22 442.5,23.1 422.4,24.7 397.4,25.2 384.4,24.4 373.4,22.3 367.4,23.9 363.3,26.1 356.6,28.1 348.4,29.3 339.4,29.8 328.3,29.7 321.9,29.1 316.3,27.8 314.3,27.1 313.5,26.1 313.6,25.1 314.9,24.1 320.3,22.1 326.3,20.4 334.2,19 351.4,17.8 367.4,19.2 374.4,18 380.4,15.8 385.4,14.6 404.4,13Z"/>
<path fill="#5eca51" fill-rule="evenodd" d="M0,0 269.1,0 267.3,5.9 264.2,10 259.3,14.1 251.3,18.6 236.2,23.9 218.8,25.1 211.2,26.5 209.2,26.3 204.2,24.5 187.2,21.6 169.2,14.8 161.2,13.2 128.1,15.6 42,17.6 21,15.8 11,13.7 3,10.5 2,10.4 0,12.6 0,0ZM408.1,13 433.5,13.6 448.5,16 451.5,17 452.5,18 452.1,20 449.5,21.4 441.4,23.1 420.4,24.6 396.4,24.9 383.4,24 373.4,21.7 367.4,23.4 362.3,26.1 356.4,27.8 348.4,29.1 339.4,29.6 323.5,29.1 318.2,28.1 315.2,27.1 314.1,26.1 314.3,25.1 315.3,24.4 321.5,22.1 328.3,20.2 336.4,19 353.4,18.1 367.4,19.6 374.4,18.5 380.3,16 386.4,14.6 408.1,13Z"/>
<path fill="#60ca52" fill-rule="evenodd" d="M0,0 268.9,0 267.3,5.4 263.9,10 258.3,14.5 250.3,18.8 236.2,23.8 218.2,25 212.2,26 209.2,25.8 204.2,24.3 188.2,21.6 179.2,18.7 169.2,14.4 162.2,13 129.1,15.5 79.1,16.7 41,17.4 22,15.7 11,13.5 2,9.8 1,10.1 0,12.2 0,0ZM391.8,14 416.4,13.1 439.5,14.4 450.5,16.9 452,18 452.2,19 450.5,20.6 441.5,22.8 420.4,24.4 396.4,24.7 383.4,23.7 373.4,21.1 367.4,22.8 363.4,25.1 357.4,27.3 349.4,28.7 340.4,29.4 325.1,29.1 317.3,27.4 314.8,26.1 315.2,25.1 317.2,24.1 324.3,21.5 329.3,20.4 339.4,18.9 350.4,18.4 356.4,18.5 367.4,20.1 373.4,19.3 382.4,15.6 391.8,14Z"/>
<path fill="#62c953" fill-rule="evenodd" d="M0,0 268.7,0 267.3,5 263.5,10 258.3,14.2 250.3,18.6 236.2,23.7 212.2,25.6 188.2,21.4 179.2,18.4 169.2,14.1 163.2,12.9 129.1,15.5 79.1,16.7 41,17.1 23,15.7 11,13.3 2,9.2 1,9.1 0,11 0,0ZM392.9,14 414.4,13.1 435.5,14 449.7,17 451.5,18 451.6,19 450.7,20 447.9,21.1 441.5,22.6 433.5,23.5 407.4,24.5 389.4,24.1 381.4,23 374.7,20 375.7,19 381.5,16 392.9,14ZM340.9,19 355.4,18.8 369.7,21.1 366.4,22.5 362.4,25.1 357,27.1 352.2,28.1 341.4,29.2 327.3,29.1 317.5,27.1 315.8,26.1 316.3,25.1 326.3,21.3 340.9,19Z"/>
<path fill="#63c854" fill-rule="evenodd" d="M0,0 268.5,0 267,5 263.3,9.9 258.1,14 250.3,18.4 236.2,23.5 213.2,25.2 208.2,24.9 189.2,21.4 180.2,18.5 169.2,13.8 164.2,12.7 159.2,12.7 145.2,14.4 129.1,15.4 79.1,16.6 41,17 23,15.5 12,13.5 7,11.6 1,8.4 0,8.7 0,0ZM394.1,14 414.4,13.2 434.5,14 439.5,14.7 444.5,16.5 447.8,17 450.5,18 450.7,19 449.2,20 442.5,22.1 433.5,23.3 407.4,24.4 389.4,23.9 380.4,22.3 376.8,20 377.2,19 379.7,17 382.4,15.9 394.1,14ZM345.5,19 355.4,19.1 364.1,21.1 365.1,22.1 364.2,23.1 355.8,27.1 342.4,28.9 338.4,29 334.4,28.3 328.3,28.9 323.1,28.1 317.4,26.1 318.1,25.1 326.3,21.6 334.4,20.8 338.4,19.6 345.5,19Z"/>
<path fill="#ffc61e" fill-rule="evenodd" d="M0,0 268.3,0 266.7,5 262.8,10 257.3,14.3 249.3,18.7 236.2,23.4 213.2,24.9 208.2,24.6 187.2,20.7 178.2,17.5 169.2,13.5 164.2,12.4 138.1,14.9 109.1,16 51.1,16.9 37,16.6 24,15.5 17,14.5 10,12.7 0,7.3 0,0ZM395.3,14 415.4,13.3 435.5,14.2 440.5,15.1 443.9,17 445.1,18 445.4,19 443.8,21.1 441.7,22.1 433.5,23.1 408.4,24.2 389.4,23.7 380.5,22.1 379,21.1 378.3,20 378.4,19 380.2,17 382.7,16 395.3,14ZM337.4,20 347.4,19.3 355.4,19.4 357.9,20 359.3,21.1 360.3,22.1 360.4,23.1 357.5,26.1 349.4,28 338.4,28.7 334.4,27.2 330.3,28.5 326.3,28.5 324.3,28.1 321.4,26.1 321.5,25.1 323.6,23.1 329.3,21.4 334.4,21.9 337.4,20Z"/>
<path fill="#fc9509" fill-rule="evenodd" d="M0,0 262,0 260.5,4 256.6,9 250.7,14 245.3,17.3 235.2,21.6 215.2,22.6 201.2,21.5 188.2,18.6 179.5,15 170.2,8.7 168.2,7.9 148.2,12.5 125.1,14.5 65.1,15.6 41,14.8 25,13.6 14,11.7 7,9.1 0,3.1 0,0ZM400.4,16 411.4,15.3 422.4,15.5 429.5,16.2 431.9,17 432.3,18 431.8,19 429.5,20 422.4,20.9 411.4,21.3 401.4,20.9 396.4,20.4 395.3,20 394.5,19 394.7,18 395.7,17 400.4,16Z"/>
<path fill="#f68b07" fill-rule="evenodd" d="M0,0 261.7,0 260.1,4 256.3,9 250.4,14 245.3,17.1 235.2,21.6 215.2,22.5 201.2,21.4 188.2,18.5 179.7,15 170.2,8.5 168.2,7.7 149.2,12.3 126.1,14.4 65.1,15.5 41,14.8 26,13.6 15,11.9 8,9.5 5,7.7 0,3.1 0,0ZM401.5,16 411.4,15.4 422.4,15.6 429.5,16.3 431.4,17 432,18 431.4,19 429.5,19.9 422.4,20.8 411.4,21.2 401.4,20.8 396.4,20.2 395,19 395.1,18 396.2,17 401.5,16Z"/>
<path fill="#f08105" fill-rule="evenodd" d="M0,0 261.4,0 259.9,4 256.1,9 250.2,14 245.2,17 235.2,21.5 215.2,22.5 201.2,21.4 188.2,18.5 180,15 170.2,8.3 168.2,7.5 149.2,12.2 126.1,14.4 65.1,15.5 41,14.7 26,13.5 15,11.8 8,9.5 5,7.6 0,3 0,0ZM402.9,16 411.4,15.5 422.4,15.7 429.5,16.5 431,17 431.6,18 431,19 429.5,19.7 422.4,20.7 411.4,21.1 402.4,20.7 396.9,20 395.5,19 395.6,18 396.9,17 402.9,16Z"/>
<path fill="#e97703" fill-rule="evenodd" d="M0,0 261.1,0 259.6,4 255.8,9 249.9,14 245,17 235.2,21.4 215.2,22.4 201.2,21.3 188.2,18.4 179.2,14.5 170.2,8.1 168.2,7.3 149.2,12.1 126.1,14.3 65.1,15.4 41,14.7 26,13.5 15,11.8 8,9.4 5,7.5 0,2.9 0,0ZM404.8,16 422.4,15.8 429.5,16.6 430.6,17 431.3,18 430.6,19 429.5,19.5 422.4,20.6 411.4,21 401.4,20.4 396.4,19.4 396,18 397.6,17 404.8,16Z"/>
<path fill="#e36d01" fill-rule="evenodd" d="M0,0 260.8,0 259.8,3 258,6 253.4,11 246.6,16 237.3,20.7 229.2,21.9 215.2,22.3 201.2,21.3 188.2,18.3 179.2,14.4 170.2,7.9 168.2,7.1 149.5,12 127.1,14.3 66.1,15.4 41,14.6 26,13.4 15,11.7 8,9.3 5,7.4 0,2.9 0,0ZM405.9,16 422.4,15.9 429.5,16.8 430.9,18 429.5,19.4 422.4,20.5 411.4,20.9 402.4,20.3 397.4,19.5 396.5,19 396.5,18 398.5,17 405.9,16Z"/>
<path fill="#e55a00" fill-rule="evenodd" d="M0,0 260.6,0 259.5,3 257.7,6 253.1,11 246.3,16 237.3,20.6 229.2,21.8 215.2,22.3 201.2,21.2 188.2,18.2 179.2,14.3 170.2,7.7 168.2,6.9 149.2,12 127.1,14.2 66.1,15.3 42,14.6 27,13.5 15,11.6 8,9.2 5,7.4 0,2.8 0,0ZM406.9,16 422.4,16 429.5,16.9 430.6,18 429.8,19 428.5,19.5 422.4,20.4 411.4,20.8 402.4,20.2 397.4,19.2 397.1,18 399.6,17 406.9,16Z"/>
<path fill="#ee4700" fill-rule="evenodd" d="M0,0 259.6,0 256.7,6 252.2,11 246.3,15.6 237.3,20.3 235.2,21.1 230.2,21.6 215.2,22.1 201.2,21 188.4,18 179.4,14 169.2,6.4 167.2,6.5 158.2,9.6 150.2,11.6 130.1,13.9 79.1,15.1 50.1,14.7 27,13.3 13,10.9 9,9.4 4.9,7 0,2.6 0,0ZM404.6,17 411.4,16.2 419.4,16.2 427.5,17.1 429.2,18 427.6,19 422.4,20 411.4,20.4 400.6,19 400.1,18 404.6,17Z"/>
<path fill="#f43e00" fill-rule="evenodd" d="M0,0 259.3,0 256.4,6 252,11 247,15 237.3,20.3 235.2,21 230.2,21.5 215.2,22 201.2,20.9 188.6,18 179.6,14 169.2,6.2 167.2,6.3 158.2,9.5 150.2,11.5 130.1,13.8 79.1,15.1 50.1,14.7 27,13.2 13,10.8 9,9.4 5,7 0,2.5 0,0ZM405.5,17 411.4,16.3 419.4,16.3 423.4,16.6 428.8,18 422.4,19.9 411.4,20.3 401.4,19 400.8,18 405.5,17Z"/>
<path fill="#fb3500" fill-rule="evenodd" d="M0,0 259,0 256.2,6 251.8,11 246.8,15 237.3,20.2 231.2,21.4 216.2,21.9 202.2,21 188.8,18 179.8,14 169.2,5.9 167.2,6.2 159.2,9.1 151.2,11.3 131.1,13.7 79.1,15.1 51.1,14.7 28,13.2 13,10.8 8.4,9 5,6.9 0,2.4 0,0ZM406,17 411.4,16.4 419.4,16.4 423.4,16.8 425.4,17.8 428.2,18 425.4,18.4 424.9,19 422.4,19.8 411.4,20.2 407.4,19.8 404.4,18.5 402.4,19 401.5,18 404.4,17.9 406,17Z"/>
<path fill="#d80020" fill-rule="evenodd" d="M0,0 258.8,0 255.9,6 251.6,11 246.5,15 237.3,20.1 231.2,21.3 216.2,21.9 202.2,20.9 189,18 180,14 169.2,5.7 151.2,11.2 132.1,13.6 79.1,15 51.1,14.6 28,13.2 13,10.7 8.6,9 5,6.8 1.2,3 0,2.4 0,0ZM406.5,17 419.4,16.5 423.4,16.9 425.3,18 424.4,19 422.4,19.6 411.4,20.1 405.7,19 405,18 406.5,17Z"/>
<path fill="#d90524" fill-rule="evenodd" d="M0,0 257.8,0 255,6 250.7,11 245.8,15 236.8,20 230.2,21.2 216.2,21.7 200.2,20.4 187.2,17.1 179,13 169.2,4.7 153.2,10.5 136.7,13 109.1,14.3 57.1,14.6 30,13.2 15,11 10,9.4 5.6,7 1.6,3 0,2.2 0,0ZM410.3,17 419.4,16.9 423.9,18 422.4,19.1 411.4,19.6 407.4,19.1 406.7,18 410.3,17Z"/>
<path fill="#db0f2c" fill-rule="evenodd" d="M0,0 257.5,0 254.7,6 250.5,11 245.6,15 236.7,20 230.2,21.1 216.2,21.6 200.2,20.4 187.2,17.1 179.2,13 170.2,4.8 169.2,4.4 153.2,10.4 136.1,13 109.1,14.3 58.1,14.6 31,13.2 15,10.9 10,9.3 5.8,7 1.7,3 0,2.1 0,0ZM414.1,17 419.4,17.1 423.6,18 422.4,18.9 419.4,19.3 411.4,19.4 408.4,18.9 407.2,18 411.4,17.1 414.1,17Z"/>
<path fill="#dd1934" fill-rule="evenodd" d="M0,0 257.2,0 254.5,6 250.2,11 245.3,15 236.5,20 229.2,21.1 216.2,21.6 200.2,20.3 187.4,17 179.4,13 175.6,10 170.2,4.4 169.2,4.1 154.2,10.1 146.2,11.7 135.4,13 109.1,14.2 59.1,14.6 33,13.3 15,10.9 10,9.3 6,7.1 1.8,3 0,2 0,0ZM408.1,18 415.4,17.1 422.9,18 419.4,19.2 411.4,19.3 408.1,18Z"/>
<path fill="#df233c" fill-rule="evenodd" d="M0,0 256.9,0 254.2,6 250,11 245.1,15 236.3,20 229.2,21.1 216.2,21.5 200.2,20.2 187.6,17 183,15 178.2,12 170.2,4 169.2,3.7 162.4,7 154,10 146.2,11.7 137.1,12.8 112.1,14.1 62.1,14.6 35,13.4 16,11 10,9.2 6,7 1.9,3 0,1.9 0,0ZM409.8,18 415.4,17.3 421.2,18 419.4,19 417.4,18.3 415.4,19.1 413.4,18.5 411,19 409.8,18Z"/>
<path fill="#e22f44" fill-rule="evenodd" d="M0,0 256.6,0 253.9,6 249.8,11 244.9,15 236.2,20 228.4,21.1 216.2,21.4 200.2,20.2 187.8,17 183.2,15 178.4,12 170.7,4 169.2,3.4 162,7 153.7,10 138.1,12.6 114.1,14 64.1,14.6 35,13.3 16,11 10,9.1 6.1,7 2,3 0,1.8 0,0ZM410.5,18 412.9,18 411.4,18.6 410.5,18ZM413.6,18 415.4,17.6 416.9,18 415.4,18.8 413.6,18ZM418.2,18 420.2,18 419.4,18.5 418.2,18Z"/>
<path fill="#e63d4c" fill-rule="evenodd" d="M0,0 256.3,0 253.6,6 249.5,11 244.6,15 236.2,19.9 229.2,20.9 216.2,21.4 201.2,20.2 188.1,17 183.5,15 178.6,12 169.9,3 169.2,2.9 161.7,7 153.3,10 138.1,12.6 111.7,14 65.1,14.5 36,13.3 16.7,11 11,9.4 6.3,7 2,2.8 0,1.7 0,0ZM414.7,18 415.9,18 414.7,18Z"/>
<path fill="#ea4b54" fill-rule="evenodd" d="M0,0 255.9,0 253.3,6 249.2,11 244.4,15 236.2,19.8 229.2,20.8 216.2,21.3 200.5,20 192.2,18.3 186.2,16.2 181.9,14 177.6,11 170.2,2.5 169.2,2.5 165.6,5 156.2,9 148.6,11 139.1,12.4 114.1,13.9 65.1,14.5 36,13.3 17,11 11,9.3 6.4,7 2,2.7 0,1.6 0,0Z"/>
<path fill="#ee595c" fill-rule="evenodd" d="M0,0 255.6,0 253,6 249,11 244.1,15 236.2,19.7 229.2,20.8 216.2,21.2 200.2,19.9 192.2,18.2 186.1,16 182.1,14 177.8,11 170.2,2 169.2,2.1 163.2,6 155.8,9 148.1,11 141.1,12.1 116.1,13.8 67.1,14.4 36,13.2 17,10.9 11,9.2 7,7.3 2,2.6 0,1.5 0,0Z"/>
<path fill="#fe9577" fill-rule="evenodd" d="M0,0 255.2,0 252.7,6 248.7,11 244.3,14.8 236.2,19.6 230.2,20.6 216.2,21.1 200.2,19.8 192.2,18.1 186.4,16 182.3,14 178,11 170.2,1.6 169.2,1.6 164.8,5 155.5,9 147.6,11 140.9,12 118.1,13.6 69.1,14.4 39,13.3 17.9,11 12,9.5 7,7.2 2,2.4 0,1.4 0,0Z"/>
<path fill="#ffb88e" fill-rule="evenodd" d="M1.9,0 167.3,0 164.2,3.3 157.5,7 152.2,9 142.8,11 120.1,13 74.1,13.8 41,12.8 29,11.9 18,10.3 12,8.7 7,6.2 4.4,4 1.9,0ZM175.4,0 252.5,0 251,5 247.6,10 243.2,14 236.2,18.6 231.2,19.8 216.2,20.5 207.2,20.1 199.9,19 191.6,17 186.5,15 181.4,12 178.1,9 175.9,5 175.4,0Z"/>
</g>
<g clip-path="url(#w12)">
<path fill="none" stroke="#000" stroke-width="0.6" d="M475.6,0 473.9,5 474.4,6 475.5,6.7 487.4,11 499.3,14 508.5,15.4 527.7,19 542.5,21.1 552.6,21.7 560.6,21.5 566.2,21.1 568.4,20 568.6,19.5M422.4,56.8 422.2,58.1 424.4,62.1 437.5,80.5 439.5,81.8 449.5,80.4 460.5,79.5 464.5,77.5 466.5,78.7 468.5,79.2 485.5,78.4 490.5,77.7 495.2,76.2 497.1,74.2 498.2,72.2 498.2,71.2 496.4,68.2 493.5,65.8 486.5,63.4 473.5,60 468.5,59.4 465.8,60.1 464.5,61.1 463.5,60.9 461.6,59.1 458.4,58.1 431.5,57.1 425.4,56.3 422.4,56.8"/>
<path fill="none" stroke="#000" stroke-width="0.6" d="M274.4,0 273.7,5 272.5,9 270.3,13.3 267.3,17 263.3,20.1 258.3,23 241.3,30.6 236.6,36.1 235.2,37.1 227.4,39.1 226.1,40.1 226.7,41.1 230.5,44.1M134.1,17 96.1,17.9 62.1,19.9 56.1,21 49,23.1 42.6,26.1 43.6,27.1 49.2,28.1 102.1,35.4 112.1,36.4 128.1,36.8 148.2,36.6 181.2,34.7 184.5,34.1 185.6,33.1 185.2,32.1 165.2,23.6 155.8,18 149.2,16.9 134.1,17M320.8,36.6 295.3,33.2 291.6,32.1 291.8,30.1 291.2,27.1 294.3,23.9 298.7,21.1 302.8,19 312.3,16 330.3,13.2 354.4,11.6 403.4,10.3 435.5,10.9 453.5,12.6 465.5,16 469.4,20 469.9,22.1 469.5,23.2 468.5,24 465.5,25.3 459.5,27.1 444.5,28.5 438.5,29.8 401.4,32.5 390.4,32.1 366.4,33.7 363.7,34.1 361.2,35.1 361.1,38.1 359.1,38.8"/>
<path fill="none" stroke="#000" stroke-width="0.6" d="M265.4,0 264.1,4 260.3,9 254,14 246.9,18 236.2,22.3 215.2,23.5 201.2,22.4 188.2,19.6 180.2,16.7 169.2,10.8 167.2,10.2 146.2,13.5 127.1,15 73.1,16.1 42,15.7 24,14.3 13,12.4 6,9.6 3,7.3 0,4.2M396.5,15 412.4,14.2 429.5,14.8 438.5,16.2 439.6,17 439.9,19 438.8,20 434.7,21.1 422.4,22.3 406.4,22.6 391.8,22.1 383.4,20.5 382.4,19.9 382.1,19 382.4,18.5 383.4,17.8 386.4,16.8 396.5,15M340.1,23.1 342.4,22.7 347.4,22.9 348.4,23.1 349.1,24.1 346.8,25.1 341.4,25.9 339.3,25.1 339.2,24.1 340.1,23.1"/>
<path fill="none" stroke="#000" stroke-width="0.6" d="M167.3,0 164.2,3.3 157.5,7 152.2,9 142.8,11 133.1,12.2 120.1,13 74.1,13.8 41,12.8 29,11.9 18,10.3 12,8.7 7,6.2 4.4,4 1.9,0M252.5,0 251,5 247.6,10 243.2,14 236.2,18.6 231.2,19.8 216.2,20.5 207.2,20.1 199.9,19 191.6,17 186.5,15 181.4,12 178.1,9 175.9,5 175.4,0"/>
<path fill="none" stroke="#000" stroke-width="0.6" d="M54.9,0 54.2,1 56.1,1.8 82.1,1.1 83.3,1 83.5,0M105.4,0 112.1,0.2 116.1,1.4 137.1,1.4 146,2 147.1,3 146,4 142.2,5.8 134.1,7.9 124.1,9.1 104.1,10.3 78.1,10.7 43,9.7 31,8.5 22.6,7 16.3,5 15,4 23,2.8 38,2.1 38.5,2 38.4,1 37.3,0M188.1,2 205.2,1.7 237.3,2.6 241.3,3 243,4 243.2,5 242.2,7 237.3,13.3 235.2,14.8 226.3,16 213.2,16.5 202.8,15 194.2,11.9 190.2,9 187.2,5.3 186.5,3 188.1,2"/>
<path fill="none" stroke="#000" stroke-width="0.6" d="M101.6,0 99.1,0.5 88.1,0.4 86.7,0M79.2,4 101.1,3.7 114.9,4 116.6,5 112.7,6 99.1,7.8 74.1,7.9 49.3,7 41.8,6 45,5 79.2,4"/>
<text transform="translate(25.6,12.8) rotate(10) scale(1.15,1)" text-anchor="middle" fill="#000" font-size="14" font-weight="bold" font-style="italic">8</text>
<text transform="translate(87.4,16.1) rotate(0) scale(1.15,1)" text-anchor="middle" fill="#000" font-size="14" font-weight="bold" font-style="italic">10</text>
<text transform="translate(154.9,12) rotate(0) scale(1.15,1)" text-anchor="middle" fill="#000" font-size="14" font-weight="bold" font-style="italic">6</text>
<text transform="translate(214.3,21) rotate(0) scale(1.15,1)" text-anchor="middle" fill="#000" font-size="14" font-weight="bold" font-style="italic">8</text>
<text transform="translate(51.6,29.9) rotate(-30) scale(1.15,1)" text-anchor="middle" fill="#000" font-size="14" font-weight="bold" font-style="italic">2</text>
<text transform="translate(258.3,16.1) rotate(10) scale(1.15,1)" text-anchor="middle" fill="#000" font-size="14" font-weight="bold" font-style="italic">4</text>
<text transform="translate(318.5,6.2) rotate(0) scale(1.15,1)" text-anchor="middle" fill="#000" font-size="14" font-weight="bold" font-style="italic">0</text>
<text transform="translate(344.5,28.3) rotate(10) scale(1.15,1)" text-anchor="middle" fill="#000" font-size="14" font-weight="bold" font-style="italic">4</text>
<text transform="translate(442.9,21.8) rotate(10) scale(1.15,1)" text-anchor="middle" fill="#000" font-size="14" font-weight="bold" font-style="italic">4</text>
<text transform="translate(443,21.5) rotate(10) scale(1.15,1)" text-anchor="middle" fill="#000" font-size="14" font-weight="bold" font-style="italic">4</text>
<text transform="translate(498.4,80.8) rotate(0) scale(1.15,1)" text-anchor="middle" fill="#000" font-size="14" font-weight="bold" font-style="italic">0</text>
<path fill="none" stroke="#fff" stroke-width="1.1" d="M1.1,12.5 1.9,9.2 2.5,8 3.3,7 5.8,5.2 7.7,4.6 12.8,3.6 24.7,3.1 42.3,3.1 54.5,3.4 85,5 95.7,6 104.3,7.1 110.9,8.3 118.5,10.5"/>
<path fill="none" stroke="#fff" stroke-width="1.1" d="M132.4,24.7 135.9,27.7 137.6,28.8 141.7,30.6 146.7,31.9 154.9,32.9 160.3,33 165.3,32.5 169.6,31.3 173,29.5 174.4,28.2 175.4,26.8 176.1,25.2 177,21.6 178.3,18.2 180.2,14.9 181.4,13.3 184.4,10 187.7,7.1 196.6,0.1"/>
<path fill="none" stroke="#fff" stroke-width="1.1" d="M27.4,32 35.8,29.8 39.6,28 41.2,27 43.9,24.8 45.7,22.4 48,20.4 53.4,17.7"/>
<path fill="none" stroke="#fff" stroke-width="1.1" d="M86,23 83,25.8 78.9,28.5 78.5,29.2 78.5,30 78.9,30.8 79.7,31.6 82.5,33.2 89.6,35.6 110.4,40.1"/>
<path fill="none" stroke="#fff" stroke-width="1.1" d="M110.4,2.4 131.8,3.2 159.2,3.7"/>
<path fill="none" stroke="#fff" stroke-width="1.1" d="M227.6,38.8 236.5,40.5"/>
<path fill="none" stroke="#fff" stroke-width="1.1" d="M230.8,1.1 236.5,4.3 262.9,17.6 269.6,20.7 277.2,23.9"/>
<path fill="none" stroke="#fff" stroke-width="1.1" d="M310.5,18.2 336.8,12.2 343.5,10.2 351.6,7 354.3,5.3 354.7,4.7 354.7,4 354.3,3.4 352.2,2.1 349.5,1.1 343.9,0.1"/>
<path fill="none" stroke="#fff" stroke-width="1.1" d="M252,0.1 258.6,4 261.4,5.3 267.4,7.4 274,8.6 281,9.1 284.7,9 291.1,8.7 300,7.6"/>
<path fill="none" stroke="#fff" stroke-width="1.1" d="M332.5,30.7 333.5,27.9 335.2,26.1 338.2,24.6 340.2,24 345.5,22.9 352.3,22.2 371.6,21.4"/>
<path fill="none" stroke="#fff" stroke-width="1.1" d="M405.7,24.2 413.9,26 417.9,27.2 418.6,27.6 418.5,27.9 419.8,28.9 422.4,30.6 431.7,36.3 436.7,39.7 441.5,43.5 446,47.5 458.4,59.4 465.9,66.1 473.4,71.6 480.8,76.1 484.8,78.2 493.6,82.1 503,85.6 511.9,88 520.4,89.6 533.2,92.6 537.3,93.8 545.1,96.6 552.5,100.1 556.3,102.2 560,104.6 569.3,111.2"/>
<path fill="none" stroke="#fff" stroke-width="1.1" d="M373.2,4.3 382.1,7.1 389,8.5 421.2,12.7 457.8,18.2 467.5,19.9"/>
<path fill="none" stroke="#fff" stroke-width="1.1" d="M499.3,27.5 516.2,33.4 532.3,38.4 544.8,41.7 569.8,47.1"/>
<path fill="none" stroke="#fff" stroke-width="1.1" d="M406.5,2.9 421.2,5.5 454,9.7 465.2,10.8 482,11.9 487.6,12.5 515.6,17 551.9,22.5"/>
<path fill="none" stroke="#fff" stroke-width="1.1" d="M480.3,5.7 497.7,6.4 510.5,7.4"/>
<path fill="none" stroke="#fff" stroke-width="1.1" d="M544.1,7.9 569.8,9.8"/>
<path fill="none" stroke="#fff" stroke-width="1.1" d="M434.5,1.2 451.2,2.2"/>
<path fill="none" stroke="#fff" stroke-width="1.1" d="M473.6,2 510.5,1.8"/>
<path fill="none" stroke="#fff" stroke-width="1.1" d="M456.6,110.2 469.7,112.1 486.4,115.5"/>
<path fill="none" stroke="#fff" stroke-width="1.1" d="M514,125 526,135 530.2,139 533.9,143.2 537.1,147.3 550.4,168.6 553.3,172.9 560,181.4 569.3,192"/>
<text transform="translate(71.3,22.3) rotate(0) scale(1.15,1)" text-anchor="middle" fill="#fff" font-size="14" font-weight="bold" font-style="italic">26</text>
<text transform="translate(127.5,19.1) rotate(35) scale(1.15,1)" text-anchor="middle" fill="#fff" font-size="14" font-weight="bold" font-style="italic">25</text>
<text transform="translate(173.9,6.4) rotate(-15) scale(1.15,1)" text-anchor="middle" fill="#fff" font-size="14" font-weight="bold" font-style="italic">24</text>
<text transform="translate(217.8,42.2) rotate(5) scale(1.15,1)" text-anchor="middle" fill="#fff" font-size="14" font-weight="bold" font-style="italic">26</text>
<text transform="translate(313,8) rotate(-60) scale(1.15,1)" text-anchor="middle" fill="#fff" font-size="14" font-weight="bold" font-style="italic">24</text>
<text transform="translate(295.1,26.9) rotate(-5) scale(1.15,1)" text-anchor="middle" fill="#fff" font-size="14" font-weight="bold" font-style="italic">25</text>
<text transform="translate(389.4,27.5) rotate(5) scale(1.15,1)" text-anchor="middle" fill="#fff" font-size="14" font-weight="bold" font-style="italic">26</text>
<text transform="translate(462.4,5.7) rotate(5) scale(1.15,1)" text-anchor="middle" fill="#fff" font-size="14" font-weight="bold" font-style="italic">22</text>
<text transform="translate(525.1,12.4) rotate(5) scale(1.15,1)" text-anchor="middle" fill="#fff" font-size="14" font-weight="bold" font-style="italic">23</text>
<text transform="translate(479.2,24.7) rotate(15) scale(1.15,1)" text-anchor="middle" fill="#fff" font-size="14" font-weight="bold" font-style="italic">25</text>
<text transform="translate(564.2,30.3) rotate(-10) scale(1.15,1)" text-anchor="middle" fill="#fff" font-size="14" font-weight="bold" font-style="italic">24</text>
<text transform="translate(501.3,124.6) rotate(18) scale(1.15,1)" text-anchor="middle" fill="#fff" font-size="14" font-weight="bold" font-style="italic">27</text>
</g>
<rect x="300" y="91.3" width="268.6" height="157.3" fill="#fff"/>
<path d="M0,30 L3,30.3 L99.2,41.7 L162.9,35.6 L208,40.7 L274.3,42.2 L332,32.1 L372.5,38.2 L412.6,44.8 L479.8,145 L512,186.2 L562.5,248.6 L568.6,248.6 L568.6,248.6 L0,248.6 Z" fill="#363636"/>
<g fill="#3c3c3c"><circle cx="3.5" cy="1.2" r="2.3"/><circle cx="3.5" cy="8.6" r="2.3"/><circle cx="3.5" cy="12.4" r="2.3"/><circle cx="3.5" cy="21.1" r="2.3"/><circle cx="3.5" cy="26.9" r="2.3"/><circle cx="99.2" cy="1.5" r="2.3"/><circle cx="99.2" cy="9.1" r="2.3"/><circle cx="99.2" cy="17.4" r="2.3"/><circle cx="99.2" cy="25.4" r="2.3"/><circle cx="99.2" cy="39.3" r="2.3"/><circle cx="162.9" cy="1.5" r="2.3"/><circle cx="162.9" cy="9.1" r="2.3"/><circle cx="162.9" cy="17.1" r="2.3"/><circle cx="162.9" cy="24.9" r="2.3"/><circle cx="162.9" cy="32.1" r="2.3"/><circle cx="208" cy="1.5" r="2.3"/><circle cx="208" cy="9.1" r="2.3"/><circle cx="208" cy="17.1" r="2.3"/><circle cx="208" cy="24.9" r="2.3"/><circle cx="208" cy="38.6" r="2.3"/><circle cx="274.3" cy="1.8" r="2.3"/><circle cx="274.3" cy="9.9" r="2.3"/><circle cx="274.3" cy="18.2" r="2.3"/><circle cx="274.3" cy="25.7" r="2.3"/><circle cx="274.3" cy="31.5" r="2.3"/><circle cx="274.3" cy="38.1" r="2.3"/><circle cx="332" cy="1.8" r="2.3"/><circle cx="332" cy="9.1" r="2.3"/><circle cx="332" cy="15.7" r="2.3"/><circle cx="332" cy="19.9" r="2.3"/><circle cx="332" cy="24" r="2.3"/><circle cx="332" cy="28.2" r="2.3"/><circle cx="372.5" cy="1.8" r="2.3"/><circle cx="372.5" cy="9.1" r="2.3"/><circle cx="372.5" cy="17.4" r="2.3"/><circle cx="372.5" cy="24.9" r="2.3"/><circle cx="372.5" cy="35.6" r="2.3"/><circle cx="413.3" cy="1.5" r="2.3"/><circle cx="413.3" cy="10.8" r="2.3"/><circle cx="413.3" cy="18.2" r="2.3"/><circle cx="413.3" cy="29" r="2.3"/><circle cx="413.3" cy="33.1" r="2.3"/><circle cx="413.3" cy="42.7" r="2.3"/><circle cx="480" cy="1.5" r="2.3"/><circle cx="480" cy="12" r="2.3"/><circle cx="480" cy="22.1" r="2.3"/><circle cx="480" cy="42.3" r="2.3"/><circle cx="480" cy="58" r="2.3"/><circle cx="480" cy="82.9" r="2.3"/><circle cx="563.5" cy="1.5" r="2.3"/><circle cx="563.5" cy="20.7" r="2.3"/><circle cx="563.5" cy="37.3" r="2.3"/><circle cx="563.5" cy="46.4" r="2.3"/><circle cx="563.5" cy="62.1" r="2.3"/><circle cx="563.5" cy="82.9" r="2.3"/></g>
<text x="-0.7" y="-4" font-size="17" font-style="italic" text-anchor="middle">1</text>
<text x="97" y="-4" font-size="17" font-style="italic" text-anchor="middle">2</text>
<text x="160.7" y="-4" font-size="17" font-style="italic" text-anchor="middle">3</text>
<text x="205.8" y="-4" font-size="17" font-style="italic" text-anchor="middle">4</text>
<text x="272.1" y="-4" font-size="17" font-style="italic" text-anchor="middle">10</text>
<text x="329.8" y="-4" font-size="17" font-style="italic" text-anchor="middle">11</text>
<text x="370.3" y="-4" font-size="17" font-style="italic" text-anchor="middle">12</text>
<text x="411.1" y="-4" font-size="17" font-style="italic" text-anchor="middle">13</text>
<text x="477.8" y="-4" font-size="17" font-style="italic" text-anchor="middle">14</text>
<text x="558.3" y="-4" font-size="17" font-style="italic" text-anchor="middle">15</text>
<path d="M0,0 H568.6 V248.6 H0 Z" fill="none" stroke="#000" stroke-width="1.1"/>
<path d="M0,0 h-6.5" stroke="#000" stroke-width="1.1"/>
<text x="-12.5" y="5.8" text-anchor="end" font-size="16.2" letter-spacing="0.4" font-weight="bold" font-style="italic" stroke="#000" stroke-width="0.3">0</text>
<path d="M0,41.4 h-6.5" stroke="#000" stroke-width="1.1"/>
<text x="-12.5" y="47.2" text-anchor="end" font-size="16.2" letter-spacing="0.4" font-weight="bold" font-style="italic" stroke="#000" stroke-width="0.3">50</text>
<path d="M0,82.9 h-6.5" stroke="#000" stroke-width="1.1"/>
<text x="-12.5" y="88.7" text-anchor="end" font-size="16.2" letter-spacing="0.4" font-weight="bold" font-style="italic" stroke="#000" stroke-width="0.3">100</text>
<path d="M0,124.3 h-6.5" stroke="#000" stroke-width="1.1"/>
<text x="-12.5" y="130.1" text-anchor="end" font-size="16.2" letter-spacing="0.4" font-weight="bold" font-style="italic" stroke="#000" stroke-width="0.3">150</text>
<path d="M0,165.7 h-6.5" stroke="#000" stroke-width="1.1"/>
<text x="-12.5" y="171.5" text-anchor="end" font-size="16.2" letter-spacing="0.4" font-weight="bold" font-style="italic" stroke="#000" stroke-width="0.3">200</text>
<path d="M0,207.2 h-6.5" stroke="#000" stroke-width="1.1"/>
<text x="-12.5" y="213" text-anchor="end" font-size="16.2" letter-spacing="0.4" font-weight="bold" font-style="italic" stroke="#000" stroke-width="0.3">250</text>
<path d="M0,248.6 h-6.5" stroke="#000" stroke-width="1.1"/>
<text x="-12.5" y="254.4" text-anchor="end" font-size="16.2" letter-spacing="0.4" font-weight="bold" font-style="italic" stroke="#000" stroke-width="0.3">300</text>
<path d="M0,248.6 v6.5" stroke="#000" stroke-width="1.1"/>
<text x="0" y="275" text-anchor="middle" font-size="16.2" letter-spacing="0.4" font-weight="bold" font-style="italic" stroke="#000" stroke-width="0.3">0</text>
<path d="M97.8,248.6 v4" stroke="#000" stroke-width="0.7"/>
<path d="M195.6,248.6 v6.5" stroke="#000" stroke-width="1.1"/>
<text x="195.6" y="275" text-anchor="middle" font-size="16.2" letter-spacing="0.4" font-weight="bold" font-style="italic" stroke="#000" stroke-width="0.3">500</text>
<path d="M293.3,248.6 v4" stroke="#000" stroke-width="0.7"/>
<path d="M391.1,248.6 v6.5" stroke="#000" stroke-width="1.1"/>
<text x="391.1" y="275" text-anchor="middle" font-size="16.2" letter-spacing="0.4" font-weight="bold" font-style="italic" stroke="#000" stroke-width="0.3">1000</text>
<path d="M488.9,248.6 v4" stroke="#000" stroke-width="0.7"/>
<rect x="6.3" y="214.8" width="150.8" height="31" fill="#000"/>
<text x="11.7" y="237.7" fill="#fff" font-size="21.3" font-weight="bold" font-style="italic" textLength="145.8" lengthAdjust="spacingAndGlyphs">Chl-a [mg m<tspan dy="-8.5" font-size="12.5">-3</tspan><tspan dy="8.5">]</tspan></text>
<text x="-73.2" y="10.4" font-size="30" font-weight="bold">F</text>
<rect x="587.2" y="0" width="24.2" height="248.6" fill="url(#cbg)"/>
<path d="M587.2,0.3 L592.2,0.3 C595.7,0 596.2,-3.4 599.3,-3.4 C602.4,-3.4 602.9,0 606.4,0.3 L611.4,0.3 Z" fill="#ffb88e"/>
<path d="M592.2,248.3 L599.3,252.6 L606.4,248.3 Z" fill="#e884de"/>
<path d="M587.2,0 L587.2,248.6 M611.4,0 L611.4,248.6" stroke="#000" stroke-width="1" fill="none"/>
<path d="M587.2,0 L592.2,0 C595.7,-0.3 596.2,-3.6 599.3,-3.6 C602.4,-3.6 602.9,-0.3 606.4,0 L611.4,0" stroke="#000" stroke-width="0.8" fill="none"/>
<path d="M587.2,248.6 L592.7,248.6 M605.9,248.6 L611.4,248.6" stroke="#000" stroke-width="0.8" fill="none"/>
<path d="M587.2,248.6 h5.5 M611.4,248.6 h-5.5" stroke="#000" stroke-width="1.1" fill="none"/>
<text transform="translate(617.9,252.9) scale(1.2,1)" font-size="12.2" font-weight="bold" font-style="italic" stroke="#000" stroke-width="0.25">0</text>
<path d="M587.2,165.7 h5.5 M611.4,165.7 h-5.5" stroke="#000" stroke-width="1.1" fill="none"/>
<text transform="translate(617.9,170) scale(1.2,1)" font-size="12.2" font-weight="bold" font-style="italic" stroke="#000" stroke-width="0.25">2</text>
<path d="M587.2,82.9 h5.5 M611.4,82.9 h-5.5" stroke="#000" stroke-width="1.1" fill="none"/>
<text transform="translate(617.9,87.2) scale(1.2,1)" font-size="12.2" font-weight="bold" font-style="italic" stroke="#000" stroke-width="0.25">4</text>
<path d="M587.2,0 h5.5 M611.4,0 h-5.5" stroke="#000" stroke-width="1.1" fill="none"/>
<text transform="translate(617.9,4.3) scale(1.2,1)" font-size="12.2" font-weight="bold" font-style="italic" stroke="#000" stroke-width="0.25">6</text>
<text transform="translate(583.6,246.6) rotate(-90)" font-size="10" font-weight="bold" font-style="italic" stroke="#000" stroke-width="0.2">Ocean Data View / DIVA</text>
<text x="289" y="301.1" text-anchor="middle" font-size="21" font-weight="bold" font-style="italic" stroke="#000" stroke-width="0.4">Section Distance [km]</text>
</g>
</svg>
</body></html>
